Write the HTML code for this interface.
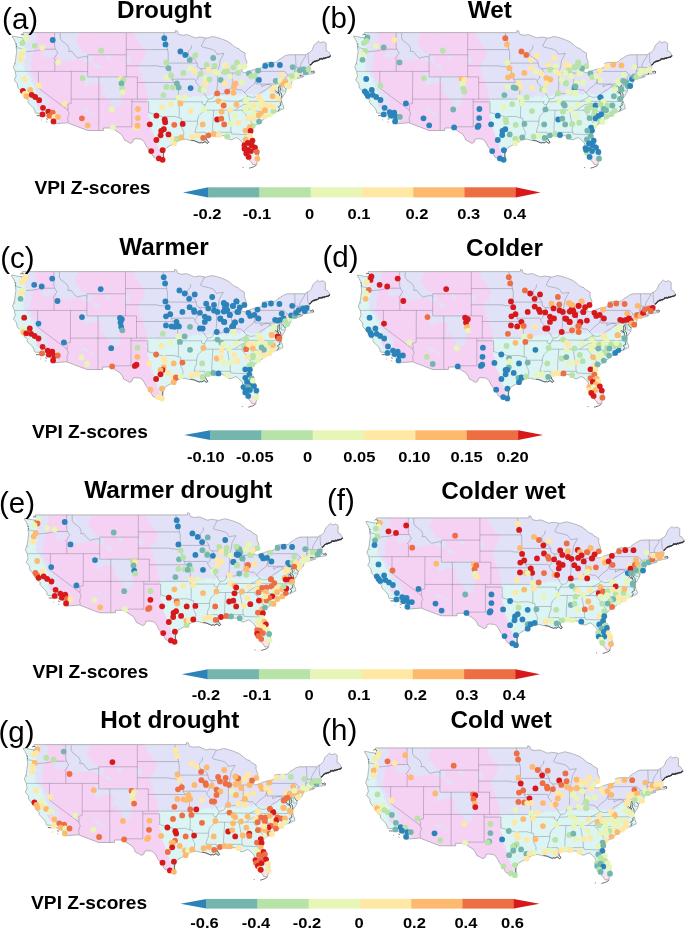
<!DOCTYPE html>
<html><head><meta charset="utf-8"><title>VPI Z-scores maps</title>
<style>html,body{margin:0;padding:0;background:#fff;} body{width:685px;height:930px;overflow:hidden;} svg{display:block;}</style>
</head><body>
<svg width="685" height="930" viewBox="0 0 685 930" font-family="&quot;Liberation Sans&quot;, Arial, sans-serif"><defs><filter id="rough" x="-5%" y="-5%" width="110%" height="110%"><feTurbulence type="fractalNoise" baseFrequency="0.45" numOctaves="2" seed="7" result="n"/><feDisplacementMap in="SourceGraphic" in2="n" scale="5" xChannelSelector="R" yChannelSelector="G"/></filter></defs>
<g transform="translate(0,0)"><clipPath id="clipa"><path d="M12.3,36.0 L12.9,37.9 L14.3,39.8 L15.5,42.6 L15.8,44.2 L16.4,45.9 L16.1,47.8 L16.6,50.3 L16.6,52.5 L16.1,55.3 L15.8,58.1 L15.5,60.9 L14.7,63.6 L13.9,65.8 L13.3,66.9 L14.2,69.2 L15.3,71.4 L15.5,73.6 L16.1,75.8 L15.3,78.0 L14.2,80.0 L16.4,82.5 L17.5,84.1 L17.7,86.9 L18.6,88.6 L21.3,91.3 L22.1,93.3 L24.6,94.6 L24.6,96.3 L25.2,98.0 L27.4,99.4 L28.5,100.7 L27.7,101.8 L29.6,104.1 L31.8,106.3 L33.4,107.9 L34.8,110.2 L35.1,112.4 L35.8,113.2 L38.4,113.2 L41.2,113.6 L42.8,114.6 L45.0,115.6 L46.9,116.0 L47.2,117.1 L48.9,117.3 L50.5,118.2 L52.7,120.1 L53.6,122.1 L54.3,123.8 L67.5,122.8 L87.6,130.5 L103.4,130.5 L103.4,128.0 L112.7,128.0 L114.5,129.8 L117.8,132.0 L121.1,134.1 L123.3,137.3 L124.4,140.1 L127.7,141.7 L130.5,143.4 L132.7,142.3 L133.8,139.2 L136.0,138.7 L140.9,139.1 L143.7,141.2 L145.3,144.0 L147.0,147.3 L149.2,150.0 L151.4,151.7 L152.0,154.5 L153.6,157.2 L156.4,158.6 L158.6,159.7 L161.9,160.3 L164.4,160.3 L163.5,157.8 L163.0,155.0 L163.3,152.3 L164.6,150.0 L166.3,147.8 L169.0,146.2 L171.8,144.8 L175.1,143.1 L177.6,141.5 L180.1,140.1 L182.5,139.5 L186.1,139.2 L189.4,140.4 L192.2,140.1 L194.9,140.9 L197.2,142.0 L199.9,142.8 L202.7,142.8 L205.1,141.7 L207.3,143.4 L208.7,142.3 L207.3,140.6 L206.2,138.7 L206.0,137.0 L207.6,136.2 L210.4,135.6 L212.6,135.8 L214.2,135.9 L215.9,136.5 L218.6,135.9 L222.0,135.6 L224.7,135.9 L227.5,137.3 L229.4,139.5 L231.6,139.8 L234.6,138.4 L236.8,137.6 L239.0,139.0 L240.7,140.9 L242.9,142.8 L243.7,145.6 L243.5,148.9 L244.3,151.2 L245.1,153.4 L246.8,155.6 L248.7,158.1 L249.2,160.3 L251.4,162.0 L252.8,164.7 L255.0,164.5 L256.7,163.9 L257.0,162.2 L257.8,160.6 L258.3,157.8 L258.6,155.0 L257.8,152.8 L256.7,150.0 L255.6,147.3 L255.9,145.9 L254.2,143.4 L252.8,140.6 L251.7,137.9 L251.2,135.1 L250.9,133.4 L251.7,130.7 L252.5,128.4 L254.2,126.5 L256.1,124.8 L258.3,123.5 L260.8,121.8 L263.0,120.1 L264.4,118.2 L266.9,116.5 L269.9,116.3 L270.7,114.6 L272.9,112.7 L276.0,111.8 L278.2,111.5 L280.4,110.2 L282.6,109.1 L283.7,108.8 L283.7,106.8 L282.6,104.1 L281.8,101.6 L281.2,99.6 L282.3,97.4 L283.4,95.8 L284.8,93.5 L285.9,91.6 L286.2,89.1 L287.0,88.3 L287.8,86.9 L289.8,85.5 L291.4,83.6 L292.0,81.4 L292.0,80.0 L292.5,79.1 L294.7,79.1 L298.6,78.3 L302.4,77.2 L303.8,76.5 L301.3,76.5 L298.0,77.0 L294.2,77.4 L293.3,76.9 L295.8,76.3 L298.0,75.5 L301.3,75.4 L303.8,75.1 L306.0,74.7 L307.9,74.2 L310.1,74.0 L311.5,73.9 L314.0,73.3 L314.3,71.7 L313.5,70.9 L312.6,71.7 L311.0,71.9 L310.1,70.3 L308.8,69.4 L309.3,68.3 L310.7,67.8 L309.6,66.4 L310.4,65.3 L311.5,63.9 L312.9,62.5 L314.8,61.4 L316.8,60.6 L319.5,59.7 L320.6,58.4 L322.5,58.9 L324.5,58.4 L326.7,57.5 L328.9,57.0 L330.8,55.8 L330.0,54.2 L328.1,51.4 L326.1,50.9 L326.2,43.3 L323.7,41.7 L321.7,42.3 L320.1,42.6 L318.3,41.1 L316.2,43.1 L314.0,45.3 L312.6,48.7 L312.4,49.8 L309.6,52.5 L308.1,53.1 L305.7,54.7 L297.5,54.7 L288.1,54.8 L284.8,55.9 L281.5,58.1 L278.7,59.7 L276.5,62.2 L272.7,62.4 L267.2,62.4 L263.3,63.3 L264.1,65.3 L264.7,66.5 L260.0,68.3 L256.1,68.9 L251.7,70.3 L248.4,71.7 L244.6,72.8 L241.8,71.4 L241.5,69.7 L244.6,68.3 L245.4,65.8 L247.0,62.5 L245.1,57.5 L245.1,53.1 L240.1,50.3 L239.0,48.7 L236.3,47.8 L234.1,46.5 L232.4,44.8 L228.0,41.5 L222.5,39.2 L217.5,37.6 L212.6,36.5 L207.6,37.9 L206.0,38.1 L203.8,37.6 L199.4,37.0 L195.5,37.9 L191.1,36.2 L187.8,34.7 L185.0,34.8 L182.8,35.3 L178.4,34.2 L177.9,32.6 L177.3,30.9 L175.4,30.5 L175.4,32.6 L126.6,32.6 L93.5,32.6 L60.5,32.6 L23.2,32.6 L23.2,34.0 L24.6,35.6 L24.1,38.1 L21.9,37.6 L19.1,37.3 L15.3,36.5Z"/></clipPath>
<g clip-path="url(#clipa)">
<path d="M12.3,36.0 L12.9,37.9 L14.3,39.8 L15.5,42.6 L15.8,44.2 L16.4,45.9 L16.1,47.8 L16.6,50.3 L16.6,52.5 L16.1,55.3 L15.8,58.1 L15.5,60.9 L14.7,63.6 L13.9,65.8 L13.3,66.9 L14.2,69.2 L15.3,71.4 L15.5,73.6 L16.1,75.8 L15.3,78.0 L14.2,80.0 L16.4,82.5 L17.5,84.1 L17.7,86.9 L18.6,88.6 L21.3,91.3 L22.1,93.3 L24.6,94.6 L24.6,96.3 L25.2,98.0 L27.4,99.4 L28.5,100.7 L27.7,101.8 L29.6,104.1 L31.8,106.3 L33.4,107.9 L34.8,110.2 L35.1,112.4 L35.8,113.2 L38.4,113.2 L41.2,113.6 L42.8,114.6 L45.0,115.6 L46.9,116.0 L47.2,117.1 L48.9,117.3 L50.5,118.2 L52.7,120.1 L53.6,122.1 L54.3,123.8 L67.5,122.8 L87.6,130.5 L103.4,130.5 L103.4,128.0 L112.7,128.0 L114.5,129.8 L117.8,132.0 L121.1,134.1 L123.3,137.3 L124.4,140.1 L127.7,141.7 L130.5,143.4 L132.7,142.3 L133.8,139.2 L136.0,138.7 L140.9,139.1 L143.7,141.2 L145.3,144.0 L147.0,147.3 L149.2,150.0 L151.4,151.7 L152.0,154.5 L153.6,157.2 L156.4,158.6 L158.6,159.7 L161.9,160.3 L164.4,160.3 L163.5,157.8 L163.0,155.0 L163.3,152.3 L164.6,150.0 L166.3,147.8 L169.0,146.2 L171.8,144.8 L175.1,143.1 L177.6,141.5 L180.1,140.1 L182.5,139.5 L186.1,139.2 L189.4,140.4 L192.2,140.1 L194.9,140.9 L197.2,142.0 L199.9,142.8 L202.7,142.8 L205.1,141.7 L207.3,143.4 L208.7,142.3 L207.3,140.6 L206.2,138.7 L206.0,137.0 L207.6,136.2 L210.4,135.6 L212.6,135.8 L214.2,135.9 L215.9,136.5 L218.6,135.9 L222.0,135.6 L224.7,135.9 L227.5,137.3 L229.4,139.5 L231.6,139.8 L234.6,138.4 L236.8,137.6 L239.0,139.0 L240.7,140.9 L242.9,142.8 L243.7,145.6 L243.5,148.9 L244.3,151.2 L245.1,153.4 L246.8,155.6 L248.7,158.1 L249.2,160.3 L251.4,162.0 L252.8,164.7 L255.0,164.5 L256.7,163.9 L257.0,162.2 L257.8,160.6 L258.3,157.8 L258.6,155.0 L257.8,152.8 L256.7,150.0 L255.6,147.3 L255.9,145.9 L254.2,143.4 L252.8,140.6 L251.7,137.9 L251.2,135.1 L250.9,133.4 L251.7,130.7 L252.5,128.4 L254.2,126.5 L256.1,124.8 L258.3,123.5 L260.8,121.8 L263.0,120.1 L264.4,118.2 L266.9,116.5 L269.9,116.3 L270.7,114.6 L272.9,112.7 L276.0,111.8 L278.2,111.5 L280.4,110.2 L282.6,109.1 L283.7,108.8 L283.7,106.8 L282.6,104.1 L281.8,101.6 L281.2,99.6 L282.3,97.4 L283.4,95.8 L284.8,93.5 L285.9,91.6 L286.2,89.1 L287.0,88.3 L287.8,86.9 L289.8,85.5 L291.4,83.6 L292.0,81.4 L292.0,80.0 L292.5,79.1 L294.7,79.1 L298.6,78.3 L302.4,77.2 L303.8,76.5 L301.3,76.5 L298.0,77.0 L294.2,77.4 L293.3,76.9 L295.8,76.3 L298.0,75.5 L301.3,75.4 L303.8,75.1 L306.0,74.7 L307.9,74.2 L310.1,74.0 L311.5,73.9 L314.0,73.3 L314.3,71.7 L313.5,70.9 L312.6,71.7 L311.0,71.9 L310.1,70.3 L308.8,69.4 L309.3,68.3 L310.7,67.8 L309.6,66.4 L310.4,65.3 L311.5,63.9 L312.9,62.5 L314.8,61.4 L316.8,60.6 L319.5,59.7 L320.6,58.4 L322.5,58.9 L324.5,58.4 L326.7,57.5 L328.9,57.0 L330.8,55.8 L330.0,54.2 L328.1,51.4 L326.1,50.9 L326.2,43.3 L323.7,41.7 L321.7,42.3 L320.1,42.6 L318.3,41.1 L316.2,43.1 L314.0,45.3 L312.6,48.7 L312.4,49.8 L309.6,52.5 L308.1,53.1 L305.7,54.7 L297.5,54.7 L288.1,54.8 L284.8,55.9 L281.5,58.1 L278.7,59.7 L276.5,62.2 L272.7,62.4 L267.2,62.4 L263.3,63.3 L264.1,65.3 L264.7,66.5 L260.0,68.3 L256.1,68.9 L251.7,70.3 L248.4,71.7 L244.6,72.8 L241.8,71.4 L241.5,69.7 L244.6,68.3 L245.4,65.8 L247.0,62.5 L245.1,57.5 L245.1,53.1 L240.1,50.3 L239.0,48.7 L236.3,47.8 L234.1,46.5 L232.4,44.8 L228.0,41.5 L222.5,39.2 L217.5,37.6 L212.6,36.5 L207.6,37.9 L206.0,38.1 L203.8,37.6 L199.4,37.0 L195.5,37.9 L191.1,36.2 L187.8,34.7 L185.0,34.8 L182.8,35.3 L178.4,34.2 L177.9,32.6 L177.3,30.9 L175.4,30.5 L175.4,32.6 L126.6,32.6 L93.5,32.6 L60.5,32.6 L23.2,32.6 L23.2,34.0 L24.6,35.6 L24.1,38.1 L21.9,37.6 L19.1,37.3 L15.3,36.5Z" fill="#e1e1f7"/>
<g filter="url(#rough)">
<path d="M5.3,29.8 L25.7,29.8 L25.7,38.1 L25.2,43.7 L25.7,49.2 L25.2,54.8 L24.1,60.3 L23.5,65.8 L24.6,69.7 L26.8,73.0 L29.6,76.9 L31.8,80.8 L33.4,85.2 L35.7,90.2 L37.9,94.6 L41.2,99.1 L43.9,103.5 L45.6,107.4 L45.6,110.7 L49.4,112.9 L54.9,114.6 L57.1,118.5 L57.7,124.6 L57.7,132.3 L5.3,132.3Z" fill="#dcf4f3"/>
<path d="M147.0,99.1 L165.2,99.1 L181.7,98.8 L198.3,96.0 L214.8,95.8 L231.3,95.2 L242.4,94.1 L251.2,94.1 L257.2,95.8 L262.7,93.5 L268.3,88.6 L273.8,85.8 L280.9,81.9 L287.5,80.2 L292.0,78.0 L296.4,76.4 L304.1,74.4 L311.3,73.0 L316.8,74.2 L314.0,88.0 L292.0,99.1 L264.4,171.1 L165.2,171.1 L162.4,158.4 L158.0,146.7 L151.4,129.0 L148.6,115.7Z" fill="#dcf4f3"/>
<path d="M35.7,29.8 L133.2,29.8 L133.2,32.6 L137.6,40.9 L146.4,51.4 L143.1,60.3 L138.2,66.4 L142.0,76.9 L145.3,86.3 L148.1,99.1 L148.6,115.7 L151.4,129.0 L158.0,146.7 L162.4,158.4 L165.2,165.6 L115.6,148.9 L59.4,132.3 L59.4,123.5 L58.8,119.0 L56.0,115.7 L50.0,114.0 L46.7,111.3 L47.8,107.4 L48.9,101.8 L44.5,94.6 L40.1,89.1 L37.9,84.1 L35.1,79.1 L32.3,74.7 L30.7,70.3 L31.2,63.6 L32.3,58.1 L33.4,52.0 L35.7,47.6 L35.7,42.0 L37.9,38.1 L36.2,33.7Z" fill="#f5d2f3"/>
<path d="M35.7,103.0 L40.6,100.7 L43.9,105.2 L44.7,109.1 L41.2,110.2 L37.3,106.8Z" fill="#f5d2f3"/>
<path d="M53.8,29.8 L79.7,29.8 L78.1,36.5 L75.3,42.0 L79.2,47.0 L82.5,51.4 L86.9,54.8 L90.8,55.3 L93.5,58.1 L91.9,62.5 L88.0,64.2 L84.7,60.3 L79.7,58.6 L74.2,59.2 L68.7,60.9 L63.2,61.4 L58.8,58.6 L56.0,54.8 L53.3,50.3 L54.9,46.5 L54.9,40.9Z" fill="#e1e1f7"/>
<path d="M44.5,51.4 L50.5,49.8 L54.9,53.1 L53.3,57.0 L46.7,58.1 L42.3,55.9Z" fill="#e1e1f7"/>
<path d="M105.7,54.8 L110.1,54.8 L111.2,60.3 L107.3,60.3Z" fill="#e1e1f7"/>
<path d="M93.5,63.1 L99.0,64.2 L100.7,68.1 L95.7,69.2Z" fill="#e1e1f7"/>
<path d="M83.1,71.4 L86.9,74.2 L93.5,77.5 L107.3,75.3 L115.6,75.8 L120.0,79.1 L121.1,85.2 L120.5,92.4 L121.1,99.1 L119.4,104.6 L116.7,107.4 L112.3,105.7 L110.6,100.7 L105.7,96.9 L101.2,92.4 L102.9,86.3 L99.0,83.0 L90.8,83.6 L86.4,88.0 L84.2,83.6 L83.1,76.9Z" fill="#e1e1f7"/>
<path d="M125.5,56.4 L130.5,56.4 L130.5,62.5 L126.0,62.5Z" fill="#e1e1f7"/>
<path d="M81.4,107.9 L86.9,109.1 L92.4,112.9 L95.7,114.6 L94.6,116.3 L89.1,113.5 L83.6,110.7Z" fill="#e1e1f7"/>
<path d="M112.8,100.2 L120.0,99.6 L119.4,106.8 L116.1,105.7Z" fill="#e1e1f7"/>
</g>
<path d="M249.0,158.4 L258.6,156.7 L259.4,166.1 L250.6,166.1Z" fill="#fbe3ec"/>
<path d="M16.1,47.8 L19.7,48.1 L22.4,48.9 L23.2,51.2 L26.3,51.7 L31.8,51.2 L35.7,50.9 L40.6,49.7 L44.0,49.2 L55.4,49.2 M54.7,32.6 L54.7,46.9 L55.4,49.2 M55.4,49.2 L56.9,51.4 L57.7,53.1 L56.3,54.8 L55.2,57.0 L53.8,58.6 L55.2,59.7 L54.8,61.4 L54.8,71.4 M15.3,71.4 L87.7,71.4 M38.4,71.4 L38.4,88.0 L68.0,110.2 L68.2,111.3 L69.3,114.0 L68.2,116.0 L67.6,119.0 L68.4,121.2 L67.5,122.8 M68.0,110.2 L68.1,106.8 L67.3,104.3 L71.2,103.5 L71.2,99.1 M71.3,71.4 L71.2,99.1 M71.2,99.1 L178.3,99.1 M98.8,99.1 L98.8,130.5 M98.8,99.1 L98.8,76.9 M87.7,71.4 L87.7,76.9 L126.3,76.9 M87.7,71.4 L87.7,57.5 L85.8,56.4 L80.8,57.3 L78.1,58.1 L74.8,55.3 L72.0,51.4 L68.7,51.4 L69.3,48.7 L67.6,45.3 L64.3,42.6 L62.1,41.2 L60.2,38.3 L60.2,32.6 M87.7,57.5 L87.7,54.8 L126.3,54.8 M126.3,76.9 L126.3,54.8 M126.3,54.8 L126.3,32.6 M126.3,49.6 L167.6,49.6 M137.3,99.1 L137.3,76.9 M137.3,76.9 L126.3,76.9 M137.3,82.5 L174.6,82.5 M126.3,65.8 L156.9,65.8 L160.8,66.7 L164.1,66.7 L166.8,67.8 L168.2,68.6 M131.8,99.1 L131.8,126.8 L112.2,126.8 L112.7,128.0 M131.8,101.8 L148.6,101.8 L148.6,112.6 L152.0,113.5 L156.4,114.9 L159.7,115.7 L164.1,117.1 L167.4,116.5 L170.7,116.5 L174.6,116.4 L179.0,117.9 L181.4,118.2 M181.4,118.2 L181.4,121.2 L181.4,126.8 L182.8,129.6 L183.9,132.3 L183.4,135.6 L182.5,139.5 M178.3,101.8 L179.3,107.9 L179.1,117.7 M178.3,99.1 L178.3,101.8 M178.3,99.1 L178.4,87.4 L176.8,84.7 L174.6,82.5 L172.9,80.8 L172.0,79.2 M172.0,79.2 L194.2,79.1 L195.9,80.4 M172.0,79.2 L171.5,75.8 L170.4,73.6 L169.9,70.8 L168.2,68.6 M168.2,68.6 L167.4,65.8 L168.2,63.1 L197.0,63.1 M168.2,63.1 L168.2,53.1 L167.6,49.6 L166.6,45.9 L166.0,40.9 L164.4,36.5 L163.9,32.6 M191.6,45.3 L191.1,48.7 L188.3,51.4 L188.6,55.9 L192.7,58.1 L195.5,60.3 L197.0,63.1 M197.0,63.1 L197.4,66.9 L200.2,68.6 L202.7,72.2 L201.0,74.2 L198.3,75.8 L197.7,78.6 L195.9,80.4 L196.0,82.5 L198.8,85.8 L200.5,88.0 L202.9,89.1 L202.4,91.9 L205.4,94.6 L206.5,97.4 L208.5,99.1 M178.3,101.8 L202.9,101.8 L201.8,103.0 L203.2,104.6 L205.4,104.6 M208.5,99.1 L206.8,101.8 L205.4,104.6 M205.4,104.6 L203.8,109.6 L202.1,112.4 L198.8,115.7 L197.7,119.0 L197.4,121.2 L197.4,124.6 L196.0,127.9 L194.9,132.3 L205.3,132.3 L206.0,134.5 L206.0,137.0 M181.4,121.2 L197.4,121.2 M202.1,110.2 L235.2,110.2 M213.7,110.2 L212.6,127.3 L212.6,135.8 M228.0,110.2 L230.2,122.3 L231.3,125.1 L230.8,129.0 L231.3,132.3 L231.9,134.0 L242.4,134.5 L246.8,134.7 L247.9,133.7 L250.9,134.0 M217.0,132.3 L231.3,132.3 M217.0,132.3 L217.8,134.5 L217.8,136.2 M241.8,110.2 L243.5,111.8 L245.7,114.6 L248.4,118.5 L250.6,121.2 L252.8,124.6 L253.9,126.5 M235.2,110.2 L241.8,110.2 L245.7,109.1 L253.1,109.3 L253.9,110.2 L257.2,111.2 L260.5,111.3 L266.9,116.5 M235.2,110.2 L236.8,108.8 L239.6,107.1 L242.9,104.9 L246.2,104.1 L249.8,101.3 M206.8,101.8 L214.5,101.8 L214.5,100.9 L238.7,101.3 L249.8,101.3 M249.8,101.3 L281.7,101.6 M238.7,101.3 L243.5,99.1 L246.2,97.4 L248.0,96.1 L246.2,94.6 L244.6,92.6 M244.6,92.6 L246.8,90.2 L249.0,88.0 L251.7,86.1 L254.2,84.1 L255.6,80.8 L256.0,78.9 M244.6,92.6 L241.8,89.9 L238.5,89.9 L234.6,88.6 L232.3,87.4 L229.1,89.5 L226.4,92.4 L223.6,93.5 L220.9,93.8 L217.0,93.8 L214.5,94.6 L213.7,96.9 L212.0,98.5 L208.5,99.1 M217.4,72.7 L217.4,86.1 L217.0,88.6 L217.3,90.2 L215.3,92.2 L214.5,94.6 M232.3,73.0 L232.3,87.4 M217.4,72.7 L232.3,73.0 L239.9,72.9 M256.0,69.7 L256.0,84.0 L261.8,84.0 L261.8,86.9 L263.8,85.5 L266.1,84.7 L268.3,84.4 L271.0,85.0 L271.6,86.2 M271.6,86.2 L268.8,87.2 L267.7,88.6 L264.9,90.2 L261.6,91.9 L260.0,93.5 L257.2,96.3 L254.2,97.1 L251.2,97.4 L248.0,96.1 M261.8,84.0 L282.1,84.0 L282.1,91.0 L286.2,91.0 M271.6,86.2 L272.9,87.4 L275.1,88.8 L274.3,91.3 L276.0,93.0 L279.6,93.8 M282.1,84.0 L284.2,83.4 L285.9,82.5 L287.8,81.4 L286.4,79.7 L285.6,77.8 L288.1,75.0 M256.0,71.4 L284.5,71.4 L285.9,72.5 L288.1,75.0 M288.1,75.0 L292.5,76.9 M293.9,76.9 L294.7,75.3 L294.7,71.1 L296.0,67.2 L295.8,62.5 L295.5,54.7 M294.7,71.1 L304.1,71.3 L306.4,71.3 M304.1,71.3 L303.8,75.1 M306.4,71.3 L306.6,72.8 L307.9,74.2 M296.0,67.2 L306.8,67.5 L309.0,66.5 M300.5,67.3 L300.8,64.2 L303.0,60.3 L305.2,57.0 L305.7,54.7 M310.1,65.4 L308.6,62.8 L308.2,57.5 L308.1,53.1 M205.6,37.6 L201.2,46.0 L203.2,47.3 L207.1,48.1 L211.5,49.2 L214.2,50.3 L215.3,51.2 L217.0,54.3 L224.0,53.4 L220.1,60.4 L219.2,66.6 L217.4,72.7 M200.2,68.6 L215.9,68.6" fill="none" stroke="#4a4a5e" stroke-opacity="0.32" stroke-width="0.9"/>
</g>
<path d="M12.3,36.0 L12.9,37.9 L14.3,39.8 L15.5,42.6 L15.8,44.2 L16.4,45.9 L16.1,47.8 L16.6,50.3 L16.6,52.5 L16.1,55.3 L15.8,58.1 L15.5,60.9 L14.7,63.6 L13.9,65.8 L13.3,66.9 L14.2,69.2 L15.3,71.4 L15.5,73.6 L16.1,75.8 L15.3,78.0 L14.2,80.0 L16.4,82.5 L17.5,84.1 L17.7,86.9 L18.6,88.6 L21.3,91.3 L22.1,93.3 L24.6,94.6 L24.6,96.3 L25.2,98.0 L27.4,99.4 L28.5,100.7 L27.7,101.8 L29.6,104.1 L31.8,106.3 L33.4,107.9 L34.8,110.2 L35.1,112.4 L35.8,113.2 L38.4,113.2 L41.2,113.6 L42.8,114.6 L45.0,115.6 L46.9,116.0 L47.2,117.1 L48.9,117.3 L50.5,118.2 L52.7,120.1 L53.6,122.1 L54.3,123.8 L67.5,122.8 L87.6,130.5 L103.4,130.5 L103.4,128.0 L112.7,128.0 L114.5,129.8 L117.8,132.0 L121.1,134.1 L123.3,137.3 L124.4,140.1 L127.7,141.7 L130.5,143.4 L132.7,142.3 L133.8,139.2 L136.0,138.7 L140.9,139.1 L143.7,141.2 L145.3,144.0 L147.0,147.3 L149.2,150.0 L151.4,151.7 L152.0,154.5 L153.6,157.2 L156.4,158.6 L158.6,159.7 L161.9,160.3 L164.4,160.3 L163.5,157.8 L163.0,155.0 L163.3,152.3 L164.6,150.0 L166.3,147.8 L169.0,146.2 L171.8,144.8 L175.1,143.1 L177.6,141.5 L180.1,140.1 L182.5,139.5 L186.1,139.2 L189.4,140.4 L192.2,140.1 L194.9,140.9 L197.2,142.0 L199.9,142.8 L202.7,142.8 L205.1,141.7 L207.3,143.4 L208.7,142.3 L207.3,140.6 L206.2,138.7 L206.0,137.0 L207.6,136.2 L210.4,135.6 L212.6,135.8 L214.2,135.9 L215.9,136.5 L218.6,135.9 L222.0,135.6 L224.7,135.9 L227.5,137.3 L229.4,139.5 L231.6,139.8 L234.6,138.4 L236.8,137.6 L239.0,139.0 L240.7,140.9 L242.9,142.8 L243.7,145.6 L243.5,148.9 L244.3,151.2 L245.1,153.4 L246.8,155.6 L248.7,158.1 L249.2,160.3 L251.4,162.0 L252.8,164.7 L255.0,164.5 L256.7,163.9 L257.0,162.2 L257.8,160.6 L258.3,157.8 L258.6,155.0 L257.8,152.8 L256.7,150.0 L255.6,147.3 L255.9,145.9 L254.2,143.4 L252.8,140.6 L251.7,137.9 L251.2,135.1 L250.9,133.4 L251.7,130.7 L252.5,128.4 L254.2,126.5 L256.1,124.8 L258.3,123.5 L260.8,121.8 L263.0,120.1 L264.4,118.2 L266.9,116.5 L269.9,116.3 L270.7,114.6 L272.9,112.7 L276.0,111.8 L278.2,111.5 L280.4,110.2 L282.6,109.1 L283.7,108.8 L283.7,106.8 L282.6,104.1 L281.8,101.6 L281.2,99.6 L282.3,97.4 L283.4,95.8 L284.8,93.5 L285.9,91.6 L286.2,89.1 L287.0,88.3 L287.8,86.9 L289.8,85.5 L291.4,83.6 L292.0,81.4 L292.0,80.0 L292.5,79.1 L294.7,79.1 L298.6,78.3 L302.4,77.2 L303.8,76.5 L301.3,76.5 L298.0,77.0 L294.2,77.4 L293.3,76.9 L295.8,76.3 L298.0,75.5 L301.3,75.4 L303.8,75.1 L306.0,74.7 L307.9,74.2 L310.1,74.0 L311.5,73.9 L314.0,73.3 L314.3,71.7 L313.5,70.9 L312.6,71.7 L311.0,71.9 L310.1,70.3 L308.8,69.4 L309.3,68.3 L310.7,67.8 L309.6,66.4 L310.4,65.3 L311.5,63.9 L312.9,62.5 L314.8,61.4 L316.8,60.6 L319.5,59.7 L320.6,58.4 L322.5,58.9 L324.5,58.4 L326.7,57.5 L328.9,57.0 L330.8,55.8 L330.0,54.2 L328.1,51.4 L326.1,50.9 L326.2,43.3 L323.7,41.7 L321.7,42.3 L320.1,42.6 L318.3,41.1 L316.2,43.1 L314.0,45.3 L312.6,48.7 L312.4,49.8 L309.6,52.5 L308.1,53.1 L305.7,54.7 L297.5,54.7 L288.1,54.8 L284.8,55.9 L281.5,58.1 L278.7,59.7 L276.5,62.2 L272.7,62.4 L267.2,62.4 L263.3,63.3 L264.1,65.3 L264.7,66.5 L260.0,68.3 L256.1,68.9 L251.7,70.3 L248.4,71.7 L244.6,72.8 L241.8,71.4 L241.5,69.7 L244.6,68.3 L245.4,65.8 L247.0,62.5 L245.1,57.5 L245.1,53.1 L240.1,50.3 L239.0,48.7 L236.3,47.8 L234.1,46.5 L232.4,44.8 L228.0,41.5 L222.5,39.2 L217.5,37.6 L212.6,36.5 L207.6,37.9 L206.0,38.1 L203.8,37.6 L199.4,37.0 L195.5,37.9 L191.1,36.2 L187.8,34.7 L185.0,34.8 L182.8,35.3 L178.4,34.2 L177.9,32.6 L177.3,30.9 L175.4,30.5 L175.4,32.6 L126.6,32.6 L93.5,32.6 L60.5,32.6 L23.2,32.6 L23.2,34.0 L24.6,35.6 L24.1,38.1 L21.9,37.6 L19.1,37.3 L15.3,36.5Z" fill="none" stroke="#8c8c8c" stroke-width="0.6"/>
<path d="M191.1,140.4 L194.9,140.9 L197.2,142.0 L198.8,142.6 L199.9,143.1 L201.6,142.3 L202.7,143.0 L204.0,142.0 L205.1,141.7 L207.3,143.4 L208.7,142.3 L207.3,140.6 L206.2,138.7 L207.1,137.6 M280.9,99.4 L279.0,97.7 L279.6,95.8 L279.3,94.1 L278.2,91.9 L278.7,89.1 L278.5,86.9 L280.7,85.0 M281.2,98.2 L281.8,95.8 L281.2,93.0 L279.8,91.6 L280.7,89.1 L279.8,86.9 L280.9,85.8 M279.3,93.3 L276.5,91.9 L274.9,89.7 M279.3,99.1 L276.5,97.7 M286.2,89.1 L284.5,87.2 L283.4,85.2 M278.2,111.0 L279.8,108.5 L278.2,106.8 L280.9,105.2 L280.4,103.5 L281.5,101.8 M310.1,65.3 L311.5,63.9 L312.9,62.2 L314.0,62.0 L314.8,61.1 L315.7,61.4 L316.8,60.6 L317.9,60.9 L319.5,59.7 L320.1,58.6 L321.2,58.9 L322.5,58.9 L323.4,58.1 L324.5,58.4 L325.6,57.8 L326.7,57.5 L327.8,57.5 L328.9,57.0 L330.8,55.8 M23.2,34.0 L24.6,35.6 L24.1,38.1 L25.2,40.4 L24.6,42.0 L22.4,43.1 L23.5,40.4 L23.0,37.9 M256.7,164.5 L255.6,165.8 L253.4,166.9 L250.6,167.8 L249.0,168.1 M243.5,167.5 L242.6,167.7 M24.6,94.6 L25.7,93.8 L26.8,95.8 L25.2,95.2 M36.8,115.6 L40.6,115.7 M46.1,118.7 L47.8,119.3 M41.2,119.9 L41.7,120.1 M46.4,121.5 L46.9,122.3 M164.1,160.0 L163.5,155.6 L163.8,151.7 L165.2,149.5 M176.8,141.7 L177.9,140.1 L176.2,139.5 M214.2,135.9 L214.8,134.0 L215.3,135.6 M244.0,151.7 L245.1,149.5 L244.6,150.6 M314.0,73.3 L314.3,71.7 L313.5,70.9 L312.6,71.7 L311.0,71.9 M293.3,76.9 L295.8,76.3 L298.0,75.5 L301.3,75.4 M306.3,74.4 L306.8,73.0 L307.4,74.2 M21.0,35.1 L22.1,34.3 L23.0,34.8 M15.8,44.0 L16.9,44.2 M16.4,45.9 L16.6,47.0 M15.3,63.6 L15.8,64.2" fill="none" stroke="#3a3a3a" stroke-width="0.7" stroke-linejoin="round"/>
<path d="M310.1,65.3 L311.3,64.2 L312.1,63.3 L312.9,62.2 L313.7,62.2 L314.6,61.1 L315.4,61.7 L316.2,60.6 L317.0,61.1 L317.9,60.3 L319.2,60.0 L319.8,58.6 L320.9,59.2 L321.7,58.4 L322.8,59.2 L323.7,57.8 L324.8,58.6 L325.6,57.5 L326.7,57.8 L327.8,57.0 L328.9,57.3 L330.0,56.1 L330.8,55.8" fill="none" stroke="#333" stroke-width="1.2" stroke-linejoin="round"/></g>
<g transform="translate(341.4,0)"><clipPath id="clipb"><path d="M12.3,36.0 L12.9,37.9 L14.3,39.8 L15.5,42.6 L15.8,44.2 L16.4,45.9 L16.1,47.8 L16.6,50.3 L16.6,52.5 L16.1,55.3 L15.8,58.1 L15.5,60.9 L14.7,63.6 L13.9,65.8 L13.3,66.9 L14.2,69.2 L15.3,71.4 L15.5,73.6 L16.1,75.8 L15.3,78.0 L14.2,80.0 L16.4,82.5 L17.5,84.1 L17.7,86.9 L18.6,88.6 L21.3,91.3 L22.1,93.3 L24.6,94.6 L24.6,96.3 L25.2,98.0 L27.4,99.4 L28.5,100.7 L27.7,101.8 L29.6,104.1 L31.8,106.3 L33.4,107.9 L34.8,110.2 L35.1,112.4 L35.8,113.2 L38.4,113.2 L41.2,113.6 L42.8,114.6 L45.0,115.6 L46.9,116.0 L47.2,117.1 L48.9,117.3 L50.5,118.2 L52.7,120.1 L53.6,122.1 L54.3,123.8 L67.5,122.8 L87.6,130.5 L103.4,130.5 L103.4,128.0 L112.7,128.0 L114.5,129.8 L117.8,132.0 L121.1,134.1 L123.3,137.3 L124.4,140.1 L127.7,141.7 L130.5,143.4 L132.7,142.3 L133.8,139.2 L136.0,138.7 L140.9,139.1 L143.7,141.2 L145.3,144.0 L147.0,147.3 L149.2,150.0 L151.4,151.7 L152.0,154.5 L153.6,157.2 L156.4,158.6 L158.6,159.7 L161.9,160.3 L164.4,160.3 L163.5,157.8 L163.0,155.0 L163.3,152.3 L164.6,150.0 L166.3,147.8 L169.0,146.2 L171.8,144.8 L175.1,143.1 L177.6,141.5 L180.1,140.1 L182.5,139.5 L186.1,139.2 L189.4,140.4 L192.2,140.1 L194.9,140.9 L197.2,142.0 L199.9,142.8 L202.7,142.8 L205.1,141.7 L207.3,143.4 L208.7,142.3 L207.3,140.6 L206.2,138.7 L206.0,137.0 L207.6,136.2 L210.4,135.6 L212.6,135.8 L214.2,135.9 L215.9,136.5 L218.6,135.9 L222.0,135.6 L224.7,135.9 L227.5,137.3 L229.4,139.5 L231.6,139.8 L234.6,138.4 L236.8,137.6 L239.0,139.0 L240.7,140.9 L242.9,142.8 L243.7,145.6 L243.5,148.9 L244.3,151.2 L245.1,153.4 L246.8,155.6 L248.7,158.1 L249.2,160.3 L251.4,162.0 L252.8,164.7 L255.0,164.5 L256.7,163.9 L257.0,162.2 L257.8,160.6 L258.3,157.8 L258.6,155.0 L257.8,152.8 L256.7,150.0 L255.6,147.3 L255.9,145.9 L254.2,143.4 L252.8,140.6 L251.7,137.9 L251.2,135.1 L250.9,133.4 L251.7,130.7 L252.5,128.4 L254.2,126.5 L256.1,124.8 L258.3,123.5 L260.8,121.8 L263.0,120.1 L264.4,118.2 L266.9,116.5 L269.9,116.3 L270.7,114.6 L272.9,112.7 L276.0,111.8 L278.2,111.5 L280.4,110.2 L282.6,109.1 L283.7,108.8 L283.7,106.8 L282.6,104.1 L281.8,101.6 L281.2,99.6 L282.3,97.4 L283.4,95.8 L284.8,93.5 L285.9,91.6 L286.2,89.1 L287.0,88.3 L287.8,86.9 L289.8,85.5 L291.4,83.6 L292.0,81.4 L292.0,80.0 L292.5,79.1 L294.7,79.1 L298.6,78.3 L302.4,77.2 L303.8,76.5 L301.3,76.5 L298.0,77.0 L294.2,77.4 L293.3,76.9 L295.8,76.3 L298.0,75.5 L301.3,75.4 L303.8,75.1 L306.0,74.7 L307.9,74.2 L310.1,74.0 L311.5,73.9 L314.0,73.3 L314.3,71.7 L313.5,70.9 L312.6,71.7 L311.0,71.9 L310.1,70.3 L308.8,69.4 L309.3,68.3 L310.7,67.8 L309.6,66.4 L310.4,65.3 L311.5,63.9 L312.9,62.5 L314.8,61.4 L316.8,60.6 L319.5,59.7 L320.6,58.4 L322.5,58.9 L324.5,58.4 L326.7,57.5 L328.9,57.0 L330.8,55.8 L330.0,54.2 L328.1,51.4 L326.1,50.9 L326.2,43.3 L323.7,41.7 L321.7,42.3 L320.1,42.6 L318.3,41.1 L316.2,43.1 L314.0,45.3 L312.6,48.7 L312.4,49.8 L309.6,52.5 L308.1,53.1 L305.7,54.7 L297.5,54.7 L288.1,54.8 L284.8,55.9 L281.5,58.1 L278.7,59.7 L276.5,62.2 L272.7,62.4 L267.2,62.4 L263.3,63.3 L264.1,65.3 L264.7,66.5 L260.0,68.3 L256.1,68.9 L251.7,70.3 L248.4,71.7 L244.6,72.8 L241.8,71.4 L241.5,69.7 L244.6,68.3 L245.4,65.8 L247.0,62.5 L245.1,57.5 L245.1,53.1 L240.1,50.3 L239.0,48.7 L236.3,47.8 L234.1,46.5 L232.4,44.8 L228.0,41.5 L222.5,39.2 L217.5,37.6 L212.6,36.5 L207.6,37.9 L206.0,38.1 L203.8,37.6 L199.4,37.0 L195.5,37.9 L191.1,36.2 L187.8,34.7 L185.0,34.8 L182.8,35.3 L178.4,34.2 L177.9,32.6 L177.3,30.9 L175.4,30.5 L175.4,32.6 L126.6,32.6 L93.5,32.6 L60.5,32.6 L23.2,32.6 L23.2,34.0 L24.6,35.6 L24.1,38.1 L21.9,37.6 L19.1,37.3 L15.3,36.5Z"/></clipPath>
<g clip-path="url(#clipb)">
<path d="M12.3,36.0 L12.9,37.9 L14.3,39.8 L15.5,42.6 L15.8,44.2 L16.4,45.9 L16.1,47.8 L16.6,50.3 L16.6,52.5 L16.1,55.3 L15.8,58.1 L15.5,60.9 L14.7,63.6 L13.9,65.8 L13.3,66.9 L14.2,69.2 L15.3,71.4 L15.5,73.6 L16.1,75.8 L15.3,78.0 L14.2,80.0 L16.4,82.5 L17.5,84.1 L17.7,86.9 L18.6,88.6 L21.3,91.3 L22.1,93.3 L24.6,94.6 L24.6,96.3 L25.2,98.0 L27.4,99.4 L28.5,100.7 L27.7,101.8 L29.6,104.1 L31.8,106.3 L33.4,107.9 L34.8,110.2 L35.1,112.4 L35.8,113.2 L38.4,113.2 L41.2,113.6 L42.8,114.6 L45.0,115.6 L46.9,116.0 L47.2,117.1 L48.9,117.3 L50.5,118.2 L52.7,120.1 L53.6,122.1 L54.3,123.8 L67.5,122.8 L87.6,130.5 L103.4,130.5 L103.4,128.0 L112.7,128.0 L114.5,129.8 L117.8,132.0 L121.1,134.1 L123.3,137.3 L124.4,140.1 L127.7,141.7 L130.5,143.4 L132.7,142.3 L133.8,139.2 L136.0,138.7 L140.9,139.1 L143.7,141.2 L145.3,144.0 L147.0,147.3 L149.2,150.0 L151.4,151.7 L152.0,154.5 L153.6,157.2 L156.4,158.6 L158.6,159.7 L161.9,160.3 L164.4,160.3 L163.5,157.8 L163.0,155.0 L163.3,152.3 L164.6,150.0 L166.3,147.8 L169.0,146.2 L171.8,144.8 L175.1,143.1 L177.6,141.5 L180.1,140.1 L182.5,139.5 L186.1,139.2 L189.4,140.4 L192.2,140.1 L194.9,140.9 L197.2,142.0 L199.9,142.8 L202.7,142.8 L205.1,141.7 L207.3,143.4 L208.7,142.3 L207.3,140.6 L206.2,138.7 L206.0,137.0 L207.6,136.2 L210.4,135.6 L212.6,135.8 L214.2,135.9 L215.9,136.5 L218.6,135.9 L222.0,135.6 L224.7,135.9 L227.5,137.3 L229.4,139.5 L231.6,139.8 L234.6,138.4 L236.8,137.6 L239.0,139.0 L240.7,140.9 L242.9,142.8 L243.7,145.6 L243.5,148.9 L244.3,151.2 L245.1,153.4 L246.8,155.6 L248.7,158.1 L249.2,160.3 L251.4,162.0 L252.8,164.7 L255.0,164.5 L256.7,163.9 L257.0,162.2 L257.8,160.6 L258.3,157.8 L258.6,155.0 L257.8,152.8 L256.7,150.0 L255.6,147.3 L255.9,145.9 L254.2,143.4 L252.8,140.6 L251.7,137.9 L251.2,135.1 L250.9,133.4 L251.7,130.7 L252.5,128.4 L254.2,126.5 L256.1,124.8 L258.3,123.5 L260.8,121.8 L263.0,120.1 L264.4,118.2 L266.9,116.5 L269.9,116.3 L270.7,114.6 L272.9,112.7 L276.0,111.8 L278.2,111.5 L280.4,110.2 L282.6,109.1 L283.7,108.8 L283.7,106.8 L282.6,104.1 L281.8,101.6 L281.2,99.6 L282.3,97.4 L283.4,95.8 L284.8,93.5 L285.9,91.6 L286.2,89.1 L287.0,88.3 L287.8,86.9 L289.8,85.5 L291.4,83.6 L292.0,81.4 L292.0,80.0 L292.5,79.1 L294.7,79.1 L298.6,78.3 L302.4,77.2 L303.8,76.5 L301.3,76.5 L298.0,77.0 L294.2,77.4 L293.3,76.9 L295.8,76.3 L298.0,75.5 L301.3,75.4 L303.8,75.1 L306.0,74.7 L307.9,74.2 L310.1,74.0 L311.5,73.9 L314.0,73.3 L314.3,71.7 L313.5,70.9 L312.6,71.7 L311.0,71.9 L310.1,70.3 L308.8,69.4 L309.3,68.3 L310.7,67.8 L309.6,66.4 L310.4,65.3 L311.5,63.9 L312.9,62.5 L314.8,61.4 L316.8,60.6 L319.5,59.7 L320.6,58.4 L322.5,58.9 L324.5,58.4 L326.7,57.5 L328.9,57.0 L330.8,55.8 L330.0,54.2 L328.1,51.4 L326.1,50.9 L326.2,43.3 L323.7,41.7 L321.7,42.3 L320.1,42.6 L318.3,41.1 L316.2,43.1 L314.0,45.3 L312.6,48.7 L312.4,49.8 L309.6,52.5 L308.1,53.1 L305.7,54.7 L297.5,54.7 L288.1,54.8 L284.8,55.9 L281.5,58.1 L278.7,59.7 L276.5,62.2 L272.7,62.4 L267.2,62.4 L263.3,63.3 L264.1,65.3 L264.7,66.5 L260.0,68.3 L256.1,68.9 L251.7,70.3 L248.4,71.7 L244.6,72.8 L241.8,71.4 L241.5,69.7 L244.6,68.3 L245.4,65.8 L247.0,62.5 L245.1,57.5 L245.1,53.1 L240.1,50.3 L239.0,48.7 L236.3,47.8 L234.1,46.5 L232.4,44.8 L228.0,41.5 L222.5,39.2 L217.5,37.6 L212.6,36.5 L207.6,37.9 L206.0,38.1 L203.8,37.6 L199.4,37.0 L195.5,37.9 L191.1,36.2 L187.8,34.7 L185.0,34.8 L182.8,35.3 L178.4,34.2 L177.9,32.6 L177.3,30.9 L175.4,30.5 L175.4,32.6 L126.6,32.6 L93.5,32.6 L60.5,32.6 L23.2,32.6 L23.2,34.0 L24.6,35.6 L24.1,38.1 L21.9,37.6 L19.1,37.3 L15.3,36.5Z" fill="#e1e1f7"/>
<g filter="url(#rough)">
<path d="M5.3,29.8 L25.7,29.8 L25.7,38.1 L25.2,43.7 L25.7,49.2 L25.2,54.8 L24.1,60.3 L23.5,65.8 L24.6,69.7 L26.8,73.0 L29.6,76.9 L31.8,80.8 L33.4,85.2 L35.7,90.2 L37.9,94.6 L41.2,99.1 L43.9,103.5 L45.6,107.4 L45.6,110.7 L49.4,112.9 L54.9,114.6 L57.1,118.5 L57.7,124.6 L57.7,132.3 L5.3,132.3Z" fill="#dcf4f3"/>
<path d="M147.0,99.1 L165.2,99.1 L181.7,98.8 L198.3,96.0 L214.8,95.8 L231.3,95.2 L242.4,94.1 L251.2,94.1 L257.2,95.8 L262.7,93.5 L268.3,88.6 L273.8,85.8 L280.9,81.9 L287.5,80.2 L292.0,78.0 L296.4,76.4 L304.1,74.4 L311.3,73.0 L316.8,74.2 L314.0,88.0 L292.0,99.1 L264.4,171.1 L165.2,171.1 L162.4,158.4 L158.0,146.7 L151.4,129.0 L148.6,115.7Z" fill="#dcf4f3"/>
<path d="M35.7,29.8 L133.2,29.8 L133.2,32.6 L137.6,40.9 L146.4,51.4 L143.1,60.3 L138.2,66.4 L142.0,76.9 L145.3,86.3 L148.1,99.1 L148.6,115.7 L151.4,129.0 L158.0,146.7 L162.4,158.4 L165.2,165.6 L115.6,148.9 L59.4,132.3 L59.4,123.5 L58.8,119.0 L56.0,115.7 L50.0,114.0 L46.7,111.3 L47.8,107.4 L48.9,101.8 L44.5,94.6 L40.1,89.1 L37.9,84.1 L35.1,79.1 L32.3,74.7 L30.7,70.3 L31.2,63.6 L32.3,58.1 L33.4,52.0 L35.7,47.6 L35.7,42.0 L37.9,38.1 L36.2,33.7Z" fill="#f5d2f3"/>
<path d="M35.7,103.0 L40.6,100.7 L43.9,105.2 L44.7,109.1 L41.2,110.2 L37.3,106.8Z" fill="#f5d2f3"/>
<path d="M53.8,29.8 L79.7,29.8 L78.1,36.5 L75.3,42.0 L79.2,47.0 L82.5,51.4 L86.9,54.8 L90.8,55.3 L93.5,58.1 L91.9,62.5 L88.0,64.2 L84.7,60.3 L79.7,58.6 L74.2,59.2 L68.7,60.9 L63.2,61.4 L58.8,58.6 L56.0,54.8 L53.3,50.3 L54.9,46.5 L54.9,40.9Z" fill="#e1e1f7"/>
<path d="M44.5,51.4 L50.5,49.8 L54.9,53.1 L53.3,57.0 L46.7,58.1 L42.3,55.9Z" fill="#e1e1f7"/>
<path d="M105.7,54.8 L110.1,54.8 L111.2,60.3 L107.3,60.3Z" fill="#e1e1f7"/>
<path d="M93.5,63.1 L99.0,64.2 L100.7,68.1 L95.7,69.2Z" fill="#e1e1f7"/>
<path d="M83.1,71.4 L86.9,74.2 L93.5,77.5 L107.3,75.3 L115.6,75.8 L120.0,79.1 L121.1,85.2 L120.5,92.4 L121.1,99.1 L119.4,104.6 L116.7,107.4 L112.3,105.7 L110.6,100.7 L105.7,96.9 L101.2,92.4 L102.9,86.3 L99.0,83.0 L90.8,83.6 L86.4,88.0 L84.2,83.6 L83.1,76.9Z" fill="#e1e1f7"/>
<path d="M125.5,56.4 L130.5,56.4 L130.5,62.5 L126.0,62.5Z" fill="#e1e1f7"/>
<path d="M81.4,107.9 L86.9,109.1 L92.4,112.9 L95.7,114.6 L94.6,116.3 L89.1,113.5 L83.6,110.7Z" fill="#e1e1f7"/>
<path d="M112.8,100.2 L120.0,99.6 L119.4,106.8 L116.1,105.7Z" fill="#e1e1f7"/>
</g>
<path d="M249.0,158.4 L258.6,156.7 L259.4,166.1 L250.6,166.1Z" fill="#fbe3ec"/>
<path d="M16.1,47.8 L19.7,48.1 L22.4,48.9 L23.2,51.2 L26.3,51.7 L31.8,51.2 L35.7,50.9 L40.6,49.7 L44.0,49.2 L55.4,49.2 M54.7,32.6 L54.7,46.9 L55.4,49.2 M55.4,49.2 L56.9,51.4 L57.7,53.1 L56.3,54.8 L55.2,57.0 L53.8,58.6 L55.2,59.7 L54.8,61.4 L54.8,71.4 M15.3,71.4 L87.7,71.4 M38.4,71.4 L38.4,88.0 L68.0,110.2 L68.2,111.3 L69.3,114.0 L68.2,116.0 L67.6,119.0 L68.4,121.2 L67.5,122.8 M68.0,110.2 L68.1,106.8 L67.3,104.3 L71.2,103.5 L71.2,99.1 M71.3,71.4 L71.2,99.1 M71.2,99.1 L178.3,99.1 M98.8,99.1 L98.8,130.5 M98.8,99.1 L98.8,76.9 M87.7,71.4 L87.7,76.9 L126.3,76.9 M87.7,71.4 L87.7,57.5 L85.8,56.4 L80.8,57.3 L78.1,58.1 L74.8,55.3 L72.0,51.4 L68.7,51.4 L69.3,48.7 L67.6,45.3 L64.3,42.6 L62.1,41.2 L60.2,38.3 L60.2,32.6 M87.7,57.5 L87.7,54.8 L126.3,54.8 M126.3,76.9 L126.3,54.8 M126.3,54.8 L126.3,32.6 M126.3,49.6 L167.6,49.6 M137.3,99.1 L137.3,76.9 M137.3,76.9 L126.3,76.9 M137.3,82.5 L174.6,82.5 M126.3,65.8 L156.9,65.8 L160.8,66.7 L164.1,66.7 L166.8,67.8 L168.2,68.6 M131.8,99.1 L131.8,126.8 L112.2,126.8 L112.7,128.0 M131.8,101.8 L148.6,101.8 L148.6,112.6 L152.0,113.5 L156.4,114.9 L159.7,115.7 L164.1,117.1 L167.4,116.5 L170.7,116.5 L174.6,116.4 L179.0,117.9 L181.4,118.2 M181.4,118.2 L181.4,121.2 L181.4,126.8 L182.8,129.6 L183.9,132.3 L183.4,135.6 L182.5,139.5 M178.3,101.8 L179.3,107.9 L179.1,117.7 M178.3,99.1 L178.3,101.8 M178.3,99.1 L178.4,87.4 L176.8,84.7 L174.6,82.5 L172.9,80.8 L172.0,79.2 M172.0,79.2 L194.2,79.1 L195.9,80.4 M172.0,79.2 L171.5,75.8 L170.4,73.6 L169.9,70.8 L168.2,68.6 M168.2,68.6 L167.4,65.8 L168.2,63.1 L197.0,63.1 M168.2,63.1 L168.2,53.1 L167.6,49.6 L166.6,45.9 L166.0,40.9 L164.4,36.5 L163.9,32.6 M191.6,45.3 L191.1,48.7 L188.3,51.4 L188.6,55.9 L192.7,58.1 L195.5,60.3 L197.0,63.1 M197.0,63.1 L197.4,66.9 L200.2,68.6 L202.7,72.2 L201.0,74.2 L198.3,75.8 L197.7,78.6 L195.9,80.4 L196.0,82.5 L198.8,85.8 L200.5,88.0 L202.9,89.1 L202.4,91.9 L205.4,94.6 L206.5,97.4 L208.5,99.1 M178.3,101.8 L202.9,101.8 L201.8,103.0 L203.2,104.6 L205.4,104.6 M208.5,99.1 L206.8,101.8 L205.4,104.6 M205.4,104.6 L203.8,109.6 L202.1,112.4 L198.8,115.7 L197.7,119.0 L197.4,121.2 L197.4,124.6 L196.0,127.9 L194.9,132.3 L205.3,132.3 L206.0,134.5 L206.0,137.0 M181.4,121.2 L197.4,121.2 M202.1,110.2 L235.2,110.2 M213.7,110.2 L212.6,127.3 L212.6,135.8 M228.0,110.2 L230.2,122.3 L231.3,125.1 L230.8,129.0 L231.3,132.3 L231.9,134.0 L242.4,134.5 L246.8,134.7 L247.9,133.7 L250.9,134.0 M217.0,132.3 L231.3,132.3 M217.0,132.3 L217.8,134.5 L217.8,136.2 M241.8,110.2 L243.5,111.8 L245.7,114.6 L248.4,118.5 L250.6,121.2 L252.8,124.6 L253.9,126.5 M235.2,110.2 L241.8,110.2 L245.7,109.1 L253.1,109.3 L253.9,110.2 L257.2,111.2 L260.5,111.3 L266.9,116.5 M235.2,110.2 L236.8,108.8 L239.6,107.1 L242.9,104.9 L246.2,104.1 L249.8,101.3 M206.8,101.8 L214.5,101.8 L214.5,100.9 L238.7,101.3 L249.8,101.3 M249.8,101.3 L281.7,101.6 M238.7,101.3 L243.5,99.1 L246.2,97.4 L248.0,96.1 L246.2,94.6 L244.6,92.6 M244.6,92.6 L246.8,90.2 L249.0,88.0 L251.7,86.1 L254.2,84.1 L255.6,80.8 L256.0,78.9 M244.6,92.6 L241.8,89.9 L238.5,89.9 L234.6,88.6 L232.3,87.4 L229.1,89.5 L226.4,92.4 L223.6,93.5 L220.9,93.8 L217.0,93.8 L214.5,94.6 L213.7,96.9 L212.0,98.5 L208.5,99.1 M217.4,72.7 L217.4,86.1 L217.0,88.6 L217.3,90.2 L215.3,92.2 L214.5,94.6 M232.3,73.0 L232.3,87.4 M217.4,72.7 L232.3,73.0 L239.9,72.9 M256.0,69.7 L256.0,84.0 L261.8,84.0 L261.8,86.9 L263.8,85.5 L266.1,84.7 L268.3,84.4 L271.0,85.0 L271.6,86.2 M271.6,86.2 L268.8,87.2 L267.7,88.6 L264.9,90.2 L261.6,91.9 L260.0,93.5 L257.2,96.3 L254.2,97.1 L251.2,97.4 L248.0,96.1 M261.8,84.0 L282.1,84.0 L282.1,91.0 L286.2,91.0 M271.6,86.2 L272.9,87.4 L275.1,88.8 L274.3,91.3 L276.0,93.0 L279.6,93.8 M282.1,84.0 L284.2,83.4 L285.9,82.5 L287.8,81.4 L286.4,79.7 L285.6,77.8 L288.1,75.0 M256.0,71.4 L284.5,71.4 L285.9,72.5 L288.1,75.0 M288.1,75.0 L292.5,76.9 M293.9,76.9 L294.7,75.3 L294.7,71.1 L296.0,67.2 L295.8,62.5 L295.5,54.7 M294.7,71.1 L304.1,71.3 L306.4,71.3 M304.1,71.3 L303.8,75.1 M306.4,71.3 L306.6,72.8 L307.9,74.2 M296.0,67.2 L306.8,67.5 L309.0,66.5 M300.5,67.3 L300.8,64.2 L303.0,60.3 L305.2,57.0 L305.7,54.7 M310.1,65.4 L308.6,62.8 L308.2,57.5 L308.1,53.1 M205.6,37.6 L201.2,46.0 L203.2,47.3 L207.1,48.1 L211.5,49.2 L214.2,50.3 L215.3,51.2 L217.0,54.3 L224.0,53.4 L220.1,60.4 L219.2,66.6 L217.4,72.7 M200.2,68.6 L215.9,68.6" fill="none" stroke="#4a4a5e" stroke-opacity="0.32" stroke-width="0.9"/>
</g>
<path d="M12.3,36.0 L12.9,37.9 L14.3,39.8 L15.5,42.6 L15.8,44.2 L16.4,45.9 L16.1,47.8 L16.6,50.3 L16.6,52.5 L16.1,55.3 L15.8,58.1 L15.5,60.9 L14.7,63.6 L13.9,65.8 L13.3,66.9 L14.2,69.2 L15.3,71.4 L15.5,73.6 L16.1,75.8 L15.3,78.0 L14.2,80.0 L16.4,82.5 L17.5,84.1 L17.7,86.9 L18.6,88.6 L21.3,91.3 L22.1,93.3 L24.6,94.6 L24.6,96.3 L25.2,98.0 L27.4,99.4 L28.5,100.7 L27.7,101.8 L29.6,104.1 L31.8,106.3 L33.4,107.9 L34.8,110.2 L35.1,112.4 L35.8,113.2 L38.4,113.2 L41.2,113.6 L42.8,114.6 L45.0,115.6 L46.9,116.0 L47.2,117.1 L48.9,117.3 L50.5,118.2 L52.7,120.1 L53.6,122.1 L54.3,123.8 L67.5,122.8 L87.6,130.5 L103.4,130.5 L103.4,128.0 L112.7,128.0 L114.5,129.8 L117.8,132.0 L121.1,134.1 L123.3,137.3 L124.4,140.1 L127.7,141.7 L130.5,143.4 L132.7,142.3 L133.8,139.2 L136.0,138.7 L140.9,139.1 L143.7,141.2 L145.3,144.0 L147.0,147.3 L149.2,150.0 L151.4,151.7 L152.0,154.5 L153.6,157.2 L156.4,158.6 L158.6,159.7 L161.9,160.3 L164.4,160.3 L163.5,157.8 L163.0,155.0 L163.3,152.3 L164.6,150.0 L166.3,147.8 L169.0,146.2 L171.8,144.8 L175.1,143.1 L177.6,141.5 L180.1,140.1 L182.5,139.5 L186.1,139.2 L189.4,140.4 L192.2,140.1 L194.9,140.9 L197.2,142.0 L199.9,142.8 L202.7,142.8 L205.1,141.7 L207.3,143.4 L208.7,142.3 L207.3,140.6 L206.2,138.7 L206.0,137.0 L207.6,136.2 L210.4,135.6 L212.6,135.8 L214.2,135.9 L215.9,136.5 L218.6,135.9 L222.0,135.6 L224.7,135.9 L227.5,137.3 L229.4,139.5 L231.6,139.8 L234.6,138.4 L236.8,137.6 L239.0,139.0 L240.7,140.9 L242.9,142.8 L243.7,145.6 L243.5,148.9 L244.3,151.2 L245.1,153.4 L246.8,155.6 L248.7,158.1 L249.2,160.3 L251.4,162.0 L252.8,164.7 L255.0,164.5 L256.7,163.9 L257.0,162.2 L257.8,160.6 L258.3,157.8 L258.6,155.0 L257.8,152.8 L256.7,150.0 L255.6,147.3 L255.9,145.9 L254.2,143.4 L252.8,140.6 L251.7,137.9 L251.2,135.1 L250.9,133.4 L251.7,130.7 L252.5,128.4 L254.2,126.5 L256.1,124.8 L258.3,123.5 L260.8,121.8 L263.0,120.1 L264.4,118.2 L266.9,116.5 L269.9,116.3 L270.7,114.6 L272.9,112.7 L276.0,111.8 L278.2,111.5 L280.4,110.2 L282.6,109.1 L283.7,108.8 L283.7,106.8 L282.6,104.1 L281.8,101.6 L281.2,99.6 L282.3,97.4 L283.4,95.8 L284.8,93.5 L285.9,91.6 L286.2,89.1 L287.0,88.3 L287.8,86.9 L289.8,85.5 L291.4,83.6 L292.0,81.4 L292.0,80.0 L292.5,79.1 L294.7,79.1 L298.6,78.3 L302.4,77.2 L303.8,76.5 L301.3,76.5 L298.0,77.0 L294.2,77.4 L293.3,76.9 L295.8,76.3 L298.0,75.5 L301.3,75.4 L303.8,75.1 L306.0,74.7 L307.9,74.2 L310.1,74.0 L311.5,73.9 L314.0,73.3 L314.3,71.7 L313.5,70.9 L312.6,71.7 L311.0,71.9 L310.1,70.3 L308.8,69.4 L309.3,68.3 L310.7,67.8 L309.6,66.4 L310.4,65.3 L311.5,63.9 L312.9,62.5 L314.8,61.4 L316.8,60.6 L319.5,59.7 L320.6,58.4 L322.5,58.9 L324.5,58.4 L326.7,57.5 L328.9,57.0 L330.8,55.8 L330.0,54.2 L328.1,51.4 L326.1,50.9 L326.2,43.3 L323.7,41.7 L321.7,42.3 L320.1,42.6 L318.3,41.1 L316.2,43.1 L314.0,45.3 L312.6,48.7 L312.4,49.8 L309.6,52.5 L308.1,53.1 L305.7,54.7 L297.5,54.7 L288.1,54.8 L284.8,55.9 L281.5,58.1 L278.7,59.7 L276.5,62.2 L272.7,62.4 L267.2,62.4 L263.3,63.3 L264.1,65.3 L264.7,66.5 L260.0,68.3 L256.1,68.9 L251.7,70.3 L248.4,71.7 L244.6,72.8 L241.8,71.4 L241.5,69.7 L244.6,68.3 L245.4,65.8 L247.0,62.5 L245.1,57.5 L245.1,53.1 L240.1,50.3 L239.0,48.7 L236.3,47.8 L234.1,46.5 L232.4,44.8 L228.0,41.5 L222.5,39.2 L217.5,37.6 L212.6,36.5 L207.6,37.9 L206.0,38.1 L203.8,37.6 L199.4,37.0 L195.5,37.9 L191.1,36.2 L187.8,34.7 L185.0,34.8 L182.8,35.3 L178.4,34.2 L177.9,32.6 L177.3,30.9 L175.4,30.5 L175.4,32.6 L126.6,32.6 L93.5,32.6 L60.5,32.6 L23.2,32.6 L23.2,34.0 L24.6,35.6 L24.1,38.1 L21.9,37.6 L19.1,37.3 L15.3,36.5Z" fill="none" stroke="#8c8c8c" stroke-width="0.6"/>
<path d="M191.1,140.4 L194.9,140.9 L197.2,142.0 L198.8,142.6 L199.9,143.1 L201.6,142.3 L202.7,143.0 L204.0,142.0 L205.1,141.7 L207.3,143.4 L208.7,142.3 L207.3,140.6 L206.2,138.7 L207.1,137.6 M280.9,99.4 L279.0,97.7 L279.6,95.8 L279.3,94.1 L278.2,91.9 L278.7,89.1 L278.5,86.9 L280.7,85.0 M281.2,98.2 L281.8,95.8 L281.2,93.0 L279.8,91.6 L280.7,89.1 L279.8,86.9 L280.9,85.8 M279.3,93.3 L276.5,91.9 L274.9,89.7 M279.3,99.1 L276.5,97.7 M286.2,89.1 L284.5,87.2 L283.4,85.2 M278.2,111.0 L279.8,108.5 L278.2,106.8 L280.9,105.2 L280.4,103.5 L281.5,101.8 M310.1,65.3 L311.5,63.9 L312.9,62.2 L314.0,62.0 L314.8,61.1 L315.7,61.4 L316.8,60.6 L317.9,60.9 L319.5,59.7 L320.1,58.6 L321.2,58.9 L322.5,58.9 L323.4,58.1 L324.5,58.4 L325.6,57.8 L326.7,57.5 L327.8,57.5 L328.9,57.0 L330.8,55.8 M23.2,34.0 L24.6,35.6 L24.1,38.1 L25.2,40.4 L24.6,42.0 L22.4,43.1 L23.5,40.4 L23.0,37.9 M256.7,164.5 L255.6,165.8 L253.4,166.9 L250.6,167.8 L249.0,168.1 M243.5,167.5 L242.6,167.7 M24.6,94.6 L25.7,93.8 L26.8,95.8 L25.2,95.2 M36.8,115.6 L40.6,115.7 M46.1,118.7 L47.8,119.3 M41.2,119.9 L41.7,120.1 M46.4,121.5 L46.9,122.3 M164.1,160.0 L163.5,155.6 L163.8,151.7 L165.2,149.5 M176.8,141.7 L177.9,140.1 L176.2,139.5 M214.2,135.9 L214.8,134.0 L215.3,135.6 M244.0,151.7 L245.1,149.5 L244.6,150.6 M314.0,73.3 L314.3,71.7 L313.5,70.9 L312.6,71.7 L311.0,71.9 M293.3,76.9 L295.8,76.3 L298.0,75.5 L301.3,75.4 M306.3,74.4 L306.8,73.0 L307.4,74.2 M21.0,35.1 L22.1,34.3 L23.0,34.8 M15.8,44.0 L16.9,44.2 M16.4,45.9 L16.6,47.0 M15.3,63.6 L15.8,64.2" fill="none" stroke="#3a3a3a" stroke-width="0.7" stroke-linejoin="round"/>
<path d="M310.1,65.3 L311.3,64.2 L312.1,63.3 L312.9,62.2 L313.7,62.2 L314.6,61.1 L315.4,61.7 L316.2,60.6 L317.0,61.1 L317.9,60.3 L319.2,60.0 L319.8,58.6 L320.9,59.2 L321.7,58.4 L322.8,59.2 L323.7,57.8 L324.8,58.6 L325.6,57.5 L326.7,57.8 L327.8,57.0 L328.9,57.3 L330.0,56.1 L330.8,55.8" fill="none" stroke="#333" stroke-width="1.2" stroke-linejoin="round"/></g>
<g transform="translate(-0.8,239)"><clipPath id="clipc"><path d="M12.3,36.0 L12.9,37.9 L14.3,39.8 L15.5,42.6 L15.8,44.2 L16.4,45.9 L16.1,47.8 L16.6,50.3 L16.6,52.5 L16.1,55.3 L15.8,58.1 L15.5,60.9 L14.7,63.6 L13.9,65.8 L13.3,66.9 L14.2,69.2 L15.3,71.4 L15.5,73.6 L16.1,75.8 L15.3,78.0 L14.2,80.0 L16.4,82.5 L17.5,84.1 L17.7,86.9 L18.6,88.6 L21.3,91.3 L22.1,93.3 L24.6,94.6 L24.6,96.3 L25.2,98.0 L27.4,99.4 L28.5,100.7 L27.7,101.8 L29.6,104.1 L31.8,106.3 L33.4,107.9 L34.8,110.2 L35.1,112.4 L35.8,113.2 L38.4,113.2 L41.2,113.6 L42.8,114.6 L45.0,115.6 L46.9,116.0 L47.2,117.1 L48.9,117.3 L50.5,118.2 L52.7,120.1 L53.6,122.1 L54.3,123.8 L67.5,122.8 L87.6,130.5 L103.4,130.5 L103.4,128.0 L112.7,128.0 L114.5,129.8 L117.8,132.0 L121.1,134.1 L123.3,137.3 L124.4,140.1 L127.7,141.7 L130.5,143.4 L132.7,142.3 L133.8,139.2 L136.0,138.7 L140.9,139.1 L143.7,141.2 L145.3,144.0 L147.0,147.3 L149.2,150.0 L151.4,151.7 L152.0,154.5 L153.6,157.2 L156.4,158.6 L158.6,159.7 L161.9,160.3 L164.4,160.3 L163.5,157.8 L163.0,155.0 L163.3,152.3 L164.6,150.0 L166.3,147.8 L169.0,146.2 L171.8,144.8 L175.1,143.1 L177.6,141.5 L180.1,140.1 L182.5,139.5 L186.1,139.2 L189.4,140.4 L192.2,140.1 L194.9,140.9 L197.2,142.0 L199.9,142.8 L202.7,142.8 L205.1,141.7 L207.3,143.4 L208.7,142.3 L207.3,140.6 L206.2,138.7 L206.0,137.0 L207.6,136.2 L210.4,135.6 L212.6,135.8 L214.2,135.9 L215.9,136.5 L218.6,135.9 L222.0,135.6 L224.7,135.9 L227.5,137.3 L229.4,139.5 L231.6,139.8 L234.6,138.4 L236.8,137.6 L239.0,139.0 L240.7,140.9 L242.9,142.8 L243.7,145.6 L243.5,148.9 L244.3,151.2 L245.1,153.4 L246.8,155.6 L248.7,158.1 L249.2,160.3 L251.4,162.0 L252.8,164.7 L255.0,164.5 L256.7,163.9 L257.0,162.2 L257.8,160.6 L258.3,157.8 L258.6,155.0 L257.8,152.8 L256.7,150.0 L255.6,147.3 L255.9,145.9 L254.2,143.4 L252.8,140.6 L251.7,137.9 L251.2,135.1 L250.9,133.4 L251.7,130.7 L252.5,128.4 L254.2,126.5 L256.1,124.8 L258.3,123.5 L260.8,121.8 L263.0,120.1 L264.4,118.2 L266.9,116.5 L269.9,116.3 L270.7,114.6 L272.9,112.7 L276.0,111.8 L278.2,111.5 L280.4,110.2 L282.6,109.1 L283.7,108.8 L283.7,106.8 L282.6,104.1 L281.8,101.6 L281.2,99.6 L282.3,97.4 L283.4,95.8 L284.8,93.5 L285.9,91.6 L286.2,89.1 L287.0,88.3 L287.8,86.9 L289.8,85.5 L291.4,83.6 L292.0,81.4 L292.0,80.0 L292.5,79.1 L294.7,79.1 L298.6,78.3 L302.4,77.2 L303.8,76.5 L301.3,76.5 L298.0,77.0 L294.2,77.4 L293.3,76.9 L295.8,76.3 L298.0,75.5 L301.3,75.4 L303.8,75.1 L306.0,74.7 L307.9,74.2 L310.1,74.0 L311.5,73.9 L314.0,73.3 L314.3,71.7 L313.5,70.9 L312.6,71.7 L311.0,71.9 L310.1,70.3 L308.8,69.4 L309.3,68.3 L310.7,67.8 L309.6,66.4 L310.4,65.3 L311.5,63.9 L312.9,62.5 L314.8,61.4 L316.8,60.6 L319.5,59.7 L320.6,58.4 L322.5,58.9 L324.5,58.4 L326.7,57.5 L328.9,57.0 L330.8,55.8 L330.0,54.2 L328.1,51.4 L326.1,50.9 L326.2,43.3 L323.7,41.7 L321.7,42.3 L320.1,42.6 L318.3,41.1 L316.2,43.1 L314.0,45.3 L312.6,48.7 L312.4,49.8 L309.6,52.5 L308.1,53.1 L305.7,54.7 L297.5,54.7 L288.1,54.8 L284.8,55.9 L281.5,58.1 L278.7,59.7 L276.5,62.2 L272.7,62.4 L267.2,62.4 L263.3,63.3 L264.1,65.3 L264.7,66.5 L260.0,68.3 L256.1,68.9 L251.7,70.3 L248.4,71.7 L244.6,72.8 L241.8,71.4 L241.5,69.7 L244.6,68.3 L245.4,65.8 L247.0,62.5 L245.1,57.5 L245.1,53.1 L240.1,50.3 L239.0,48.7 L236.3,47.8 L234.1,46.5 L232.4,44.8 L228.0,41.5 L222.5,39.2 L217.5,37.6 L212.6,36.5 L207.6,37.9 L206.0,38.1 L203.8,37.6 L199.4,37.0 L195.5,37.9 L191.1,36.2 L187.8,34.7 L185.0,34.8 L182.8,35.3 L178.4,34.2 L177.9,32.6 L177.3,30.9 L175.4,30.5 L175.4,32.6 L126.6,32.6 L93.5,32.6 L60.5,32.6 L23.2,32.6 L23.2,34.0 L24.6,35.6 L24.1,38.1 L21.9,37.6 L19.1,37.3 L15.3,36.5Z"/></clipPath>
<g clip-path="url(#clipc)">
<path d="M12.3,36.0 L12.9,37.9 L14.3,39.8 L15.5,42.6 L15.8,44.2 L16.4,45.9 L16.1,47.8 L16.6,50.3 L16.6,52.5 L16.1,55.3 L15.8,58.1 L15.5,60.9 L14.7,63.6 L13.9,65.8 L13.3,66.9 L14.2,69.2 L15.3,71.4 L15.5,73.6 L16.1,75.8 L15.3,78.0 L14.2,80.0 L16.4,82.5 L17.5,84.1 L17.7,86.9 L18.6,88.6 L21.3,91.3 L22.1,93.3 L24.6,94.6 L24.6,96.3 L25.2,98.0 L27.4,99.4 L28.5,100.7 L27.7,101.8 L29.6,104.1 L31.8,106.3 L33.4,107.9 L34.8,110.2 L35.1,112.4 L35.8,113.2 L38.4,113.2 L41.2,113.6 L42.8,114.6 L45.0,115.6 L46.9,116.0 L47.2,117.1 L48.9,117.3 L50.5,118.2 L52.7,120.1 L53.6,122.1 L54.3,123.8 L67.5,122.8 L87.6,130.5 L103.4,130.5 L103.4,128.0 L112.7,128.0 L114.5,129.8 L117.8,132.0 L121.1,134.1 L123.3,137.3 L124.4,140.1 L127.7,141.7 L130.5,143.4 L132.7,142.3 L133.8,139.2 L136.0,138.7 L140.9,139.1 L143.7,141.2 L145.3,144.0 L147.0,147.3 L149.2,150.0 L151.4,151.7 L152.0,154.5 L153.6,157.2 L156.4,158.6 L158.6,159.7 L161.9,160.3 L164.4,160.3 L163.5,157.8 L163.0,155.0 L163.3,152.3 L164.6,150.0 L166.3,147.8 L169.0,146.2 L171.8,144.8 L175.1,143.1 L177.6,141.5 L180.1,140.1 L182.5,139.5 L186.1,139.2 L189.4,140.4 L192.2,140.1 L194.9,140.9 L197.2,142.0 L199.9,142.8 L202.7,142.8 L205.1,141.7 L207.3,143.4 L208.7,142.3 L207.3,140.6 L206.2,138.7 L206.0,137.0 L207.6,136.2 L210.4,135.6 L212.6,135.8 L214.2,135.9 L215.9,136.5 L218.6,135.9 L222.0,135.6 L224.7,135.9 L227.5,137.3 L229.4,139.5 L231.6,139.8 L234.6,138.4 L236.8,137.6 L239.0,139.0 L240.7,140.9 L242.9,142.8 L243.7,145.6 L243.5,148.9 L244.3,151.2 L245.1,153.4 L246.8,155.6 L248.7,158.1 L249.2,160.3 L251.4,162.0 L252.8,164.7 L255.0,164.5 L256.7,163.9 L257.0,162.2 L257.8,160.6 L258.3,157.8 L258.6,155.0 L257.8,152.8 L256.7,150.0 L255.6,147.3 L255.9,145.9 L254.2,143.4 L252.8,140.6 L251.7,137.9 L251.2,135.1 L250.9,133.4 L251.7,130.7 L252.5,128.4 L254.2,126.5 L256.1,124.8 L258.3,123.5 L260.8,121.8 L263.0,120.1 L264.4,118.2 L266.9,116.5 L269.9,116.3 L270.7,114.6 L272.9,112.7 L276.0,111.8 L278.2,111.5 L280.4,110.2 L282.6,109.1 L283.7,108.8 L283.7,106.8 L282.6,104.1 L281.8,101.6 L281.2,99.6 L282.3,97.4 L283.4,95.8 L284.8,93.5 L285.9,91.6 L286.2,89.1 L287.0,88.3 L287.8,86.9 L289.8,85.5 L291.4,83.6 L292.0,81.4 L292.0,80.0 L292.5,79.1 L294.7,79.1 L298.6,78.3 L302.4,77.2 L303.8,76.5 L301.3,76.5 L298.0,77.0 L294.2,77.4 L293.3,76.9 L295.8,76.3 L298.0,75.5 L301.3,75.4 L303.8,75.1 L306.0,74.7 L307.9,74.2 L310.1,74.0 L311.5,73.9 L314.0,73.3 L314.3,71.7 L313.5,70.9 L312.6,71.7 L311.0,71.9 L310.1,70.3 L308.8,69.4 L309.3,68.3 L310.7,67.8 L309.6,66.4 L310.4,65.3 L311.5,63.9 L312.9,62.5 L314.8,61.4 L316.8,60.6 L319.5,59.7 L320.6,58.4 L322.5,58.9 L324.5,58.4 L326.7,57.5 L328.9,57.0 L330.8,55.8 L330.0,54.2 L328.1,51.4 L326.1,50.9 L326.2,43.3 L323.7,41.7 L321.7,42.3 L320.1,42.6 L318.3,41.1 L316.2,43.1 L314.0,45.3 L312.6,48.7 L312.4,49.8 L309.6,52.5 L308.1,53.1 L305.7,54.7 L297.5,54.7 L288.1,54.8 L284.8,55.9 L281.5,58.1 L278.7,59.7 L276.5,62.2 L272.7,62.4 L267.2,62.4 L263.3,63.3 L264.1,65.3 L264.7,66.5 L260.0,68.3 L256.1,68.9 L251.7,70.3 L248.4,71.7 L244.6,72.8 L241.8,71.4 L241.5,69.7 L244.6,68.3 L245.4,65.8 L247.0,62.5 L245.1,57.5 L245.1,53.1 L240.1,50.3 L239.0,48.7 L236.3,47.8 L234.1,46.5 L232.4,44.8 L228.0,41.5 L222.5,39.2 L217.5,37.6 L212.6,36.5 L207.6,37.9 L206.0,38.1 L203.8,37.6 L199.4,37.0 L195.5,37.9 L191.1,36.2 L187.8,34.7 L185.0,34.8 L182.8,35.3 L178.4,34.2 L177.9,32.6 L177.3,30.9 L175.4,30.5 L175.4,32.6 L126.6,32.6 L93.5,32.6 L60.5,32.6 L23.2,32.6 L23.2,34.0 L24.6,35.6 L24.1,38.1 L21.9,37.6 L19.1,37.3 L15.3,36.5Z" fill="#e1e1f7"/>
<g filter="url(#rough)">
<path d="M5.3,29.8 L25.7,29.8 L25.7,38.1 L25.2,43.7 L25.7,49.2 L25.2,54.8 L24.1,60.3 L23.5,65.8 L24.6,69.7 L26.8,73.0 L29.6,76.9 L31.8,80.8 L33.4,85.2 L35.7,90.2 L37.9,94.6 L41.2,99.1 L43.9,103.5 L45.6,107.4 L45.6,110.7 L49.4,112.9 L54.9,114.6 L57.1,118.5 L57.7,124.6 L57.7,132.3 L5.3,132.3Z" fill="#dcf4f3"/>
<path d="M147.0,99.1 L165.2,99.1 L181.7,98.8 L198.3,96.0 L214.8,95.8 L231.3,95.2 L242.4,94.1 L251.2,94.1 L257.2,95.8 L262.7,93.5 L268.3,88.6 L273.8,85.8 L280.9,81.9 L287.5,80.2 L292.0,78.0 L296.4,76.4 L304.1,74.4 L311.3,73.0 L316.8,74.2 L314.0,88.0 L292.0,99.1 L264.4,171.1 L165.2,171.1 L162.4,158.4 L158.0,146.7 L151.4,129.0 L148.6,115.7Z" fill="#dcf4f3"/>
<path d="M35.7,29.8 L133.2,29.8 L133.2,32.6 L137.6,40.9 L146.4,51.4 L143.1,60.3 L138.2,66.4 L142.0,76.9 L145.3,86.3 L148.1,99.1 L148.6,115.7 L151.4,129.0 L158.0,146.7 L162.4,158.4 L165.2,165.6 L115.6,148.9 L59.4,132.3 L59.4,123.5 L58.8,119.0 L56.0,115.7 L50.0,114.0 L46.7,111.3 L47.8,107.4 L48.9,101.8 L44.5,94.6 L40.1,89.1 L37.9,84.1 L35.1,79.1 L32.3,74.7 L30.7,70.3 L31.2,63.6 L32.3,58.1 L33.4,52.0 L35.7,47.6 L35.7,42.0 L37.9,38.1 L36.2,33.7Z" fill="#f5d2f3"/>
<path d="M35.7,103.0 L40.6,100.7 L43.9,105.2 L44.7,109.1 L41.2,110.2 L37.3,106.8Z" fill="#f5d2f3"/>
<path d="M53.8,29.8 L79.7,29.8 L78.1,36.5 L75.3,42.0 L79.2,47.0 L82.5,51.4 L86.9,54.8 L90.8,55.3 L93.5,58.1 L91.9,62.5 L88.0,64.2 L84.7,60.3 L79.7,58.6 L74.2,59.2 L68.7,60.9 L63.2,61.4 L58.8,58.6 L56.0,54.8 L53.3,50.3 L54.9,46.5 L54.9,40.9Z" fill="#e1e1f7"/>
<path d="M44.5,51.4 L50.5,49.8 L54.9,53.1 L53.3,57.0 L46.7,58.1 L42.3,55.9Z" fill="#e1e1f7"/>
<path d="M105.7,54.8 L110.1,54.8 L111.2,60.3 L107.3,60.3Z" fill="#e1e1f7"/>
<path d="M93.5,63.1 L99.0,64.2 L100.7,68.1 L95.7,69.2Z" fill="#e1e1f7"/>
<path d="M83.1,71.4 L86.9,74.2 L93.5,77.5 L107.3,75.3 L115.6,75.8 L120.0,79.1 L121.1,85.2 L120.5,92.4 L121.1,99.1 L119.4,104.6 L116.7,107.4 L112.3,105.7 L110.6,100.7 L105.7,96.9 L101.2,92.4 L102.9,86.3 L99.0,83.0 L90.8,83.6 L86.4,88.0 L84.2,83.6 L83.1,76.9Z" fill="#e1e1f7"/>
<path d="M125.5,56.4 L130.5,56.4 L130.5,62.5 L126.0,62.5Z" fill="#e1e1f7"/>
<path d="M81.4,107.9 L86.9,109.1 L92.4,112.9 L95.7,114.6 L94.6,116.3 L89.1,113.5 L83.6,110.7Z" fill="#e1e1f7"/>
<path d="M112.8,100.2 L120.0,99.6 L119.4,106.8 L116.1,105.7Z" fill="#e1e1f7"/>
</g>
<path d="M249.0,158.4 L258.6,156.7 L259.4,166.1 L250.6,166.1Z" fill="#fbe3ec"/>
<path d="M16.1,47.8 L19.7,48.1 L22.4,48.9 L23.2,51.2 L26.3,51.7 L31.8,51.2 L35.7,50.9 L40.6,49.7 L44.0,49.2 L55.4,49.2 M54.7,32.6 L54.7,46.9 L55.4,49.2 M55.4,49.2 L56.9,51.4 L57.7,53.1 L56.3,54.8 L55.2,57.0 L53.8,58.6 L55.2,59.7 L54.8,61.4 L54.8,71.4 M15.3,71.4 L87.7,71.4 M38.4,71.4 L38.4,88.0 L68.0,110.2 L68.2,111.3 L69.3,114.0 L68.2,116.0 L67.6,119.0 L68.4,121.2 L67.5,122.8 M68.0,110.2 L68.1,106.8 L67.3,104.3 L71.2,103.5 L71.2,99.1 M71.3,71.4 L71.2,99.1 M71.2,99.1 L178.3,99.1 M98.8,99.1 L98.8,130.5 M98.8,99.1 L98.8,76.9 M87.7,71.4 L87.7,76.9 L126.3,76.9 M87.7,71.4 L87.7,57.5 L85.8,56.4 L80.8,57.3 L78.1,58.1 L74.8,55.3 L72.0,51.4 L68.7,51.4 L69.3,48.7 L67.6,45.3 L64.3,42.6 L62.1,41.2 L60.2,38.3 L60.2,32.6 M87.7,57.5 L87.7,54.8 L126.3,54.8 M126.3,76.9 L126.3,54.8 M126.3,54.8 L126.3,32.6 M126.3,49.6 L167.6,49.6 M137.3,99.1 L137.3,76.9 M137.3,76.9 L126.3,76.9 M137.3,82.5 L174.6,82.5 M126.3,65.8 L156.9,65.8 L160.8,66.7 L164.1,66.7 L166.8,67.8 L168.2,68.6 M131.8,99.1 L131.8,126.8 L112.2,126.8 L112.7,128.0 M131.8,101.8 L148.6,101.8 L148.6,112.6 L152.0,113.5 L156.4,114.9 L159.7,115.7 L164.1,117.1 L167.4,116.5 L170.7,116.5 L174.6,116.4 L179.0,117.9 L181.4,118.2 M181.4,118.2 L181.4,121.2 L181.4,126.8 L182.8,129.6 L183.9,132.3 L183.4,135.6 L182.5,139.5 M178.3,101.8 L179.3,107.9 L179.1,117.7 M178.3,99.1 L178.3,101.8 M178.3,99.1 L178.4,87.4 L176.8,84.7 L174.6,82.5 L172.9,80.8 L172.0,79.2 M172.0,79.2 L194.2,79.1 L195.9,80.4 M172.0,79.2 L171.5,75.8 L170.4,73.6 L169.9,70.8 L168.2,68.6 M168.2,68.6 L167.4,65.8 L168.2,63.1 L197.0,63.1 M168.2,63.1 L168.2,53.1 L167.6,49.6 L166.6,45.9 L166.0,40.9 L164.4,36.5 L163.9,32.6 M191.6,45.3 L191.1,48.7 L188.3,51.4 L188.6,55.9 L192.7,58.1 L195.5,60.3 L197.0,63.1 M197.0,63.1 L197.4,66.9 L200.2,68.6 L202.7,72.2 L201.0,74.2 L198.3,75.8 L197.7,78.6 L195.9,80.4 L196.0,82.5 L198.8,85.8 L200.5,88.0 L202.9,89.1 L202.4,91.9 L205.4,94.6 L206.5,97.4 L208.5,99.1 M178.3,101.8 L202.9,101.8 L201.8,103.0 L203.2,104.6 L205.4,104.6 M208.5,99.1 L206.8,101.8 L205.4,104.6 M205.4,104.6 L203.8,109.6 L202.1,112.4 L198.8,115.7 L197.7,119.0 L197.4,121.2 L197.4,124.6 L196.0,127.9 L194.9,132.3 L205.3,132.3 L206.0,134.5 L206.0,137.0 M181.4,121.2 L197.4,121.2 M202.1,110.2 L235.2,110.2 M213.7,110.2 L212.6,127.3 L212.6,135.8 M228.0,110.2 L230.2,122.3 L231.3,125.1 L230.8,129.0 L231.3,132.3 L231.9,134.0 L242.4,134.5 L246.8,134.7 L247.9,133.7 L250.9,134.0 M217.0,132.3 L231.3,132.3 M217.0,132.3 L217.8,134.5 L217.8,136.2 M241.8,110.2 L243.5,111.8 L245.7,114.6 L248.4,118.5 L250.6,121.2 L252.8,124.6 L253.9,126.5 M235.2,110.2 L241.8,110.2 L245.7,109.1 L253.1,109.3 L253.9,110.2 L257.2,111.2 L260.5,111.3 L266.9,116.5 M235.2,110.2 L236.8,108.8 L239.6,107.1 L242.9,104.9 L246.2,104.1 L249.8,101.3 M206.8,101.8 L214.5,101.8 L214.5,100.9 L238.7,101.3 L249.8,101.3 M249.8,101.3 L281.7,101.6 M238.7,101.3 L243.5,99.1 L246.2,97.4 L248.0,96.1 L246.2,94.6 L244.6,92.6 M244.6,92.6 L246.8,90.2 L249.0,88.0 L251.7,86.1 L254.2,84.1 L255.6,80.8 L256.0,78.9 M244.6,92.6 L241.8,89.9 L238.5,89.9 L234.6,88.6 L232.3,87.4 L229.1,89.5 L226.4,92.4 L223.6,93.5 L220.9,93.8 L217.0,93.8 L214.5,94.6 L213.7,96.9 L212.0,98.5 L208.5,99.1 M217.4,72.7 L217.4,86.1 L217.0,88.6 L217.3,90.2 L215.3,92.2 L214.5,94.6 M232.3,73.0 L232.3,87.4 M217.4,72.7 L232.3,73.0 L239.9,72.9 M256.0,69.7 L256.0,84.0 L261.8,84.0 L261.8,86.9 L263.8,85.5 L266.1,84.7 L268.3,84.4 L271.0,85.0 L271.6,86.2 M271.6,86.2 L268.8,87.2 L267.7,88.6 L264.9,90.2 L261.6,91.9 L260.0,93.5 L257.2,96.3 L254.2,97.1 L251.2,97.4 L248.0,96.1 M261.8,84.0 L282.1,84.0 L282.1,91.0 L286.2,91.0 M271.6,86.2 L272.9,87.4 L275.1,88.8 L274.3,91.3 L276.0,93.0 L279.6,93.8 M282.1,84.0 L284.2,83.4 L285.9,82.5 L287.8,81.4 L286.4,79.7 L285.6,77.8 L288.1,75.0 M256.0,71.4 L284.5,71.4 L285.9,72.5 L288.1,75.0 M288.1,75.0 L292.5,76.9 M293.9,76.9 L294.7,75.3 L294.7,71.1 L296.0,67.2 L295.8,62.5 L295.5,54.7 M294.7,71.1 L304.1,71.3 L306.4,71.3 M304.1,71.3 L303.8,75.1 M306.4,71.3 L306.6,72.8 L307.9,74.2 M296.0,67.2 L306.8,67.5 L309.0,66.5 M300.5,67.3 L300.8,64.2 L303.0,60.3 L305.2,57.0 L305.7,54.7 M310.1,65.4 L308.6,62.8 L308.2,57.5 L308.1,53.1 M205.6,37.6 L201.2,46.0 L203.2,47.3 L207.1,48.1 L211.5,49.2 L214.2,50.3 L215.3,51.2 L217.0,54.3 L224.0,53.4 L220.1,60.4 L219.2,66.6 L217.4,72.7 M200.2,68.6 L215.9,68.6" fill="none" stroke="#4a4a5e" stroke-opacity="0.32" stroke-width="0.9"/>
</g>
<path d="M12.3,36.0 L12.9,37.9 L14.3,39.8 L15.5,42.6 L15.8,44.2 L16.4,45.9 L16.1,47.8 L16.6,50.3 L16.6,52.5 L16.1,55.3 L15.8,58.1 L15.5,60.9 L14.7,63.6 L13.9,65.8 L13.3,66.9 L14.2,69.2 L15.3,71.4 L15.5,73.6 L16.1,75.8 L15.3,78.0 L14.2,80.0 L16.4,82.5 L17.5,84.1 L17.7,86.9 L18.6,88.6 L21.3,91.3 L22.1,93.3 L24.6,94.6 L24.6,96.3 L25.2,98.0 L27.4,99.4 L28.5,100.7 L27.7,101.8 L29.6,104.1 L31.8,106.3 L33.4,107.9 L34.8,110.2 L35.1,112.4 L35.8,113.2 L38.4,113.2 L41.2,113.6 L42.8,114.6 L45.0,115.6 L46.9,116.0 L47.2,117.1 L48.9,117.3 L50.5,118.2 L52.7,120.1 L53.6,122.1 L54.3,123.8 L67.5,122.8 L87.6,130.5 L103.4,130.5 L103.4,128.0 L112.7,128.0 L114.5,129.8 L117.8,132.0 L121.1,134.1 L123.3,137.3 L124.4,140.1 L127.7,141.7 L130.5,143.4 L132.7,142.3 L133.8,139.2 L136.0,138.7 L140.9,139.1 L143.7,141.2 L145.3,144.0 L147.0,147.3 L149.2,150.0 L151.4,151.7 L152.0,154.5 L153.6,157.2 L156.4,158.6 L158.6,159.7 L161.9,160.3 L164.4,160.3 L163.5,157.8 L163.0,155.0 L163.3,152.3 L164.6,150.0 L166.3,147.8 L169.0,146.2 L171.8,144.8 L175.1,143.1 L177.6,141.5 L180.1,140.1 L182.5,139.5 L186.1,139.2 L189.4,140.4 L192.2,140.1 L194.9,140.9 L197.2,142.0 L199.9,142.8 L202.7,142.8 L205.1,141.7 L207.3,143.4 L208.7,142.3 L207.3,140.6 L206.2,138.7 L206.0,137.0 L207.6,136.2 L210.4,135.6 L212.6,135.8 L214.2,135.9 L215.9,136.5 L218.6,135.9 L222.0,135.6 L224.7,135.9 L227.5,137.3 L229.4,139.5 L231.6,139.8 L234.6,138.4 L236.8,137.6 L239.0,139.0 L240.7,140.9 L242.9,142.8 L243.7,145.6 L243.5,148.9 L244.3,151.2 L245.1,153.4 L246.8,155.6 L248.7,158.1 L249.2,160.3 L251.4,162.0 L252.8,164.7 L255.0,164.5 L256.7,163.9 L257.0,162.2 L257.8,160.6 L258.3,157.8 L258.6,155.0 L257.8,152.8 L256.7,150.0 L255.6,147.3 L255.9,145.9 L254.2,143.4 L252.8,140.6 L251.7,137.9 L251.2,135.1 L250.9,133.4 L251.7,130.7 L252.5,128.4 L254.2,126.5 L256.1,124.8 L258.3,123.5 L260.8,121.8 L263.0,120.1 L264.4,118.2 L266.9,116.5 L269.9,116.3 L270.7,114.6 L272.9,112.7 L276.0,111.8 L278.2,111.5 L280.4,110.2 L282.6,109.1 L283.7,108.8 L283.7,106.8 L282.6,104.1 L281.8,101.6 L281.2,99.6 L282.3,97.4 L283.4,95.8 L284.8,93.5 L285.9,91.6 L286.2,89.1 L287.0,88.3 L287.8,86.9 L289.8,85.5 L291.4,83.6 L292.0,81.4 L292.0,80.0 L292.5,79.1 L294.7,79.1 L298.6,78.3 L302.4,77.2 L303.8,76.5 L301.3,76.5 L298.0,77.0 L294.2,77.4 L293.3,76.9 L295.8,76.3 L298.0,75.5 L301.3,75.4 L303.8,75.1 L306.0,74.7 L307.9,74.2 L310.1,74.0 L311.5,73.9 L314.0,73.3 L314.3,71.7 L313.5,70.9 L312.6,71.7 L311.0,71.9 L310.1,70.3 L308.8,69.4 L309.3,68.3 L310.7,67.8 L309.6,66.4 L310.4,65.3 L311.5,63.9 L312.9,62.5 L314.8,61.4 L316.8,60.6 L319.5,59.7 L320.6,58.4 L322.5,58.9 L324.5,58.4 L326.7,57.5 L328.9,57.0 L330.8,55.8 L330.0,54.2 L328.1,51.4 L326.1,50.9 L326.2,43.3 L323.7,41.7 L321.7,42.3 L320.1,42.6 L318.3,41.1 L316.2,43.1 L314.0,45.3 L312.6,48.7 L312.4,49.8 L309.6,52.5 L308.1,53.1 L305.7,54.7 L297.5,54.7 L288.1,54.8 L284.8,55.9 L281.5,58.1 L278.7,59.7 L276.5,62.2 L272.7,62.4 L267.2,62.4 L263.3,63.3 L264.1,65.3 L264.7,66.5 L260.0,68.3 L256.1,68.9 L251.7,70.3 L248.4,71.7 L244.6,72.8 L241.8,71.4 L241.5,69.7 L244.6,68.3 L245.4,65.8 L247.0,62.5 L245.1,57.5 L245.1,53.1 L240.1,50.3 L239.0,48.7 L236.3,47.8 L234.1,46.5 L232.4,44.8 L228.0,41.5 L222.5,39.2 L217.5,37.6 L212.6,36.5 L207.6,37.9 L206.0,38.1 L203.8,37.6 L199.4,37.0 L195.5,37.9 L191.1,36.2 L187.8,34.7 L185.0,34.8 L182.8,35.3 L178.4,34.2 L177.9,32.6 L177.3,30.9 L175.4,30.5 L175.4,32.6 L126.6,32.6 L93.5,32.6 L60.5,32.6 L23.2,32.6 L23.2,34.0 L24.6,35.6 L24.1,38.1 L21.9,37.6 L19.1,37.3 L15.3,36.5Z" fill="none" stroke="#8c8c8c" stroke-width="0.6"/>
<path d="M191.1,140.4 L194.9,140.9 L197.2,142.0 L198.8,142.6 L199.9,143.1 L201.6,142.3 L202.7,143.0 L204.0,142.0 L205.1,141.7 L207.3,143.4 L208.7,142.3 L207.3,140.6 L206.2,138.7 L207.1,137.6 M280.9,99.4 L279.0,97.7 L279.6,95.8 L279.3,94.1 L278.2,91.9 L278.7,89.1 L278.5,86.9 L280.7,85.0 M281.2,98.2 L281.8,95.8 L281.2,93.0 L279.8,91.6 L280.7,89.1 L279.8,86.9 L280.9,85.8 M279.3,93.3 L276.5,91.9 L274.9,89.7 M279.3,99.1 L276.5,97.7 M286.2,89.1 L284.5,87.2 L283.4,85.2 M278.2,111.0 L279.8,108.5 L278.2,106.8 L280.9,105.2 L280.4,103.5 L281.5,101.8 M310.1,65.3 L311.5,63.9 L312.9,62.2 L314.0,62.0 L314.8,61.1 L315.7,61.4 L316.8,60.6 L317.9,60.9 L319.5,59.7 L320.1,58.6 L321.2,58.9 L322.5,58.9 L323.4,58.1 L324.5,58.4 L325.6,57.8 L326.7,57.5 L327.8,57.5 L328.9,57.0 L330.8,55.8 M23.2,34.0 L24.6,35.6 L24.1,38.1 L25.2,40.4 L24.6,42.0 L22.4,43.1 L23.5,40.4 L23.0,37.9 M256.7,164.5 L255.6,165.8 L253.4,166.9 L250.6,167.8 L249.0,168.1 M243.5,167.5 L242.6,167.7 M24.6,94.6 L25.7,93.8 L26.8,95.8 L25.2,95.2 M36.8,115.6 L40.6,115.7 M46.1,118.7 L47.8,119.3 M41.2,119.9 L41.7,120.1 M46.4,121.5 L46.9,122.3 M164.1,160.0 L163.5,155.6 L163.8,151.7 L165.2,149.5 M176.8,141.7 L177.9,140.1 L176.2,139.5 M214.2,135.9 L214.8,134.0 L215.3,135.6 M244.0,151.7 L245.1,149.5 L244.6,150.6 M314.0,73.3 L314.3,71.7 L313.5,70.9 L312.6,71.7 L311.0,71.9 M293.3,76.9 L295.8,76.3 L298.0,75.5 L301.3,75.4 M306.3,74.4 L306.8,73.0 L307.4,74.2 M21.0,35.1 L22.1,34.3 L23.0,34.8 M15.8,44.0 L16.9,44.2 M16.4,45.9 L16.6,47.0 M15.3,63.6 L15.8,64.2" fill="none" stroke="#3a3a3a" stroke-width="0.7" stroke-linejoin="round"/>
<path d="M310.1,65.3 L311.3,64.2 L312.1,63.3 L312.9,62.2 L313.7,62.2 L314.6,61.1 L315.4,61.7 L316.2,60.6 L317.0,61.1 L317.9,60.3 L319.2,60.0 L319.8,58.6 L320.9,59.2 L321.7,58.4 L322.8,59.2 L323.7,57.8 L324.8,58.6 L325.6,57.5 L326.7,57.8 L327.8,57.0 L328.9,57.3 L330.0,56.1 L330.8,55.8" fill="none" stroke="#333" stroke-width="1.2" stroke-linejoin="round"/></g>
<g transform="translate(345,239)"><clipPath id="clipd"><path d="M12.3,36.0 L12.9,37.9 L14.3,39.8 L15.5,42.6 L15.8,44.2 L16.4,45.9 L16.1,47.8 L16.6,50.3 L16.6,52.5 L16.1,55.3 L15.8,58.1 L15.5,60.9 L14.7,63.6 L13.9,65.8 L13.3,66.9 L14.2,69.2 L15.3,71.4 L15.5,73.6 L16.1,75.8 L15.3,78.0 L14.2,80.0 L16.4,82.5 L17.5,84.1 L17.7,86.9 L18.6,88.6 L21.3,91.3 L22.1,93.3 L24.6,94.6 L24.6,96.3 L25.2,98.0 L27.4,99.4 L28.5,100.7 L27.7,101.8 L29.6,104.1 L31.8,106.3 L33.4,107.9 L34.8,110.2 L35.1,112.4 L35.8,113.2 L38.4,113.2 L41.2,113.6 L42.8,114.6 L45.0,115.6 L46.9,116.0 L47.2,117.1 L48.9,117.3 L50.5,118.2 L52.7,120.1 L53.6,122.1 L54.3,123.8 L67.5,122.8 L87.6,130.5 L103.4,130.5 L103.4,128.0 L112.7,128.0 L114.5,129.8 L117.8,132.0 L121.1,134.1 L123.3,137.3 L124.4,140.1 L127.7,141.7 L130.5,143.4 L132.7,142.3 L133.8,139.2 L136.0,138.7 L140.9,139.1 L143.7,141.2 L145.3,144.0 L147.0,147.3 L149.2,150.0 L151.4,151.7 L152.0,154.5 L153.6,157.2 L156.4,158.6 L158.6,159.7 L161.9,160.3 L164.4,160.3 L163.5,157.8 L163.0,155.0 L163.3,152.3 L164.6,150.0 L166.3,147.8 L169.0,146.2 L171.8,144.8 L175.1,143.1 L177.6,141.5 L180.1,140.1 L182.5,139.5 L186.1,139.2 L189.4,140.4 L192.2,140.1 L194.9,140.9 L197.2,142.0 L199.9,142.8 L202.7,142.8 L205.1,141.7 L207.3,143.4 L208.7,142.3 L207.3,140.6 L206.2,138.7 L206.0,137.0 L207.6,136.2 L210.4,135.6 L212.6,135.8 L214.2,135.9 L215.9,136.5 L218.6,135.9 L222.0,135.6 L224.7,135.9 L227.5,137.3 L229.4,139.5 L231.6,139.8 L234.6,138.4 L236.8,137.6 L239.0,139.0 L240.7,140.9 L242.9,142.8 L243.7,145.6 L243.5,148.9 L244.3,151.2 L245.1,153.4 L246.8,155.6 L248.7,158.1 L249.2,160.3 L251.4,162.0 L252.8,164.7 L255.0,164.5 L256.7,163.9 L257.0,162.2 L257.8,160.6 L258.3,157.8 L258.6,155.0 L257.8,152.8 L256.7,150.0 L255.6,147.3 L255.9,145.9 L254.2,143.4 L252.8,140.6 L251.7,137.9 L251.2,135.1 L250.9,133.4 L251.7,130.7 L252.5,128.4 L254.2,126.5 L256.1,124.8 L258.3,123.5 L260.8,121.8 L263.0,120.1 L264.4,118.2 L266.9,116.5 L269.9,116.3 L270.7,114.6 L272.9,112.7 L276.0,111.8 L278.2,111.5 L280.4,110.2 L282.6,109.1 L283.7,108.8 L283.7,106.8 L282.6,104.1 L281.8,101.6 L281.2,99.6 L282.3,97.4 L283.4,95.8 L284.8,93.5 L285.9,91.6 L286.2,89.1 L287.0,88.3 L287.8,86.9 L289.8,85.5 L291.4,83.6 L292.0,81.4 L292.0,80.0 L292.5,79.1 L294.7,79.1 L298.6,78.3 L302.4,77.2 L303.8,76.5 L301.3,76.5 L298.0,77.0 L294.2,77.4 L293.3,76.9 L295.8,76.3 L298.0,75.5 L301.3,75.4 L303.8,75.1 L306.0,74.7 L307.9,74.2 L310.1,74.0 L311.5,73.9 L314.0,73.3 L314.3,71.7 L313.5,70.9 L312.6,71.7 L311.0,71.9 L310.1,70.3 L308.8,69.4 L309.3,68.3 L310.7,67.8 L309.6,66.4 L310.4,65.3 L311.5,63.9 L312.9,62.5 L314.8,61.4 L316.8,60.6 L319.5,59.7 L320.6,58.4 L322.5,58.9 L324.5,58.4 L326.7,57.5 L328.9,57.0 L330.8,55.8 L330.0,54.2 L328.1,51.4 L326.1,50.9 L326.2,43.3 L323.7,41.7 L321.7,42.3 L320.1,42.6 L318.3,41.1 L316.2,43.1 L314.0,45.3 L312.6,48.7 L312.4,49.8 L309.6,52.5 L308.1,53.1 L305.7,54.7 L297.5,54.7 L288.1,54.8 L284.8,55.9 L281.5,58.1 L278.7,59.7 L276.5,62.2 L272.7,62.4 L267.2,62.4 L263.3,63.3 L264.1,65.3 L264.7,66.5 L260.0,68.3 L256.1,68.9 L251.7,70.3 L248.4,71.7 L244.6,72.8 L241.8,71.4 L241.5,69.7 L244.6,68.3 L245.4,65.8 L247.0,62.5 L245.1,57.5 L245.1,53.1 L240.1,50.3 L239.0,48.7 L236.3,47.8 L234.1,46.5 L232.4,44.8 L228.0,41.5 L222.5,39.2 L217.5,37.6 L212.6,36.5 L207.6,37.9 L206.0,38.1 L203.8,37.6 L199.4,37.0 L195.5,37.9 L191.1,36.2 L187.8,34.7 L185.0,34.8 L182.8,35.3 L178.4,34.2 L177.9,32.6 L177.3,30.9 L175.4,30.5 L175.4,32.6 L126.6,32.6 L93.5,32.6 L60.5,32.6 L23.2,32.6 L23.2,34.0 L24.6,35.6 L24.1,38.1 L21.9,37.6 L19.1,37.3 L15.3,36.5Z"/></clipPath>
<g clip-path="url(#clipd)">
<path d="M12.3,36.0 L12.9,37.9 L14.3,39.8 L15.5,42.6 L15.8,44.2 L16.4,45.9 L16.1,47.8 L16.6,50.3 L16.6,52.5 L16.1,55.3 L15.8,58.1 L15.5,60.9 L14.7,63.6 L13.9,65.8 L13.3,66.9 L14.2,69.2 L15.3,71.4 L15.5,73.6 L16.1,75.8 L15.3,78.0 L14.2,80.0 L16.4,82.5 L17.5,84.1 L17.7,86.9 L18.6,88.6 L21.3,91.3 L22.1,93.3 L24.6,94.6 L24.6,96.3 L25.2,98.0 L27.4,99.4 L28.5,100.7 L27.7,101.8 L29.6,104.1 L31.8,106.3 L33.4,107.9 L34.8,110.2 L35.1,112.4 L35.8,113.2 L38.4,113.2 L41.2,113.6 L42.8,114.6 L45.0,115.6 L46.9,116.0 L47.2,117.1 L48.9,117.3 L50.5,118.2 L52.7,120.1 L53.6,122.1 L54.3,123.8 L67.5,122.8 L87.6,130.5 L103.4,130.5 L103.4,128.0 L112.7,128.0 L114.5,129.8 L117.8,132.0 L121.1,134.1 L123.3,137.3 L124.4,140.1 L127.7,141.7 L130.5,143.4 L132.7,142.3 L133.8,139.2 L136.0,138.7 L140.9,139.1 L143.7,141.2 L145.3,144.0 L147.0,147.3 L149.2,150.0 L151.4,151.7 L152.0,154.5 L153.6,157.2 L156.4,158.6 L158.6,159.7 L161.9,160.3 L164.4,160.3 L163.5,157.8 L163.0,155.0 L163.3,152.3 L164.6,150.0 L166.3,147.8 L169.0,146.2 L171.8,144.8 L175.1,143.1 L177.6,141.5 L180.1,140.1 L182.5,139.5 L186.1,139.2 L189.4,140.4 L192.2,140.1 L194.9,140.9 L197.2,142.0 L199.9,142.8 L202.7,142.8 L205.1,141.7 L207.3,143.4 L208.7,142.3 L207.3,140.6 L206.2,138.7 L206.0,137.0 L207.6,136.2 L210.4,135.6 L212.6,135.8 L214.2,135.9 L215.9,136.5 L218.6,135.9 L222.0,135.6 L224.7,135.9 L227.5,137.3 L229.4,139.5 L231.6,139.8 L234.6,138.4 L236.8,137.6 L239.0,139.0 L240.7,140.9 L242.9,142.8 L243.7,145.6 L243.5,148.9 L244.3,151.2 L245.1,153.4 L246.8,155.6 L248.7,158.1 L249.2,160.3 L251.4,162.0 L252.8,164.7 L255.0,164.5 L256.7,163.9 L257.0,162.2 L257.8,160.6 L258.3,157.8 L258.6,155.0 L257.8,152.8 L256.7,150.0 L255.6,147.3 L255.9,145.9 L254.2,143.4 L252.8,140.6 L251.7,137.9 L251.2,135.1 L250.9,133.4 L251.7,130.7 L252.5,128.4 L254.2,126.5 L256.1,124.8 L258.3,123.5 L260.8,121.8 L263.0,120.1 L264.4,118.2 L266.9,116.5 L269.9,116.3 L270.7,114.6 L272.9,112.7 L276.0,111.8 L278.2,111.5 L280.4,110.2 L282.6,109.1 L283.7,108.8 L283.7,106.8 L282.6,104.1 L281.8,101.6 L281.2,99.6 L282.3,97.4 L283.4,95.8 L284.8,93.5 L285.9,91.6 L286.2,89.1 L287.0,88.3 L287.8,86.9 L289.8,85.5 L291.4,83.6 L292.0,81.4 L292.0,80.0 L292.5,79.1 L294.7,79.1 L298.6,78.3 L302.4,77.2 L303.8,76.5 L301.3,76.5 L298.0,77.0 L294.2,77.4 L293.3,76.9 L295.8,76.3 L298.0,75.5 L301.3,75.4 L303.8,75.1 L306.0,74.7 L307.9,74.2 L310.1,74.0 L311.5,73.9 L314.0,73.3 L314.3,71.7 L313.5,70.9 L312.6,71.7 L311.0,71.9 L310.1,70.3 L308.8,69.4 L309.3,68.3 L310.7,67.8 L309.6,66.4 L310.4,65.3 L311.5,63.9 L312.9,62.5 L314.8,61.4 L316.8,60.6 L319.5,59.7 L320.6,58.4 L322.5,58.9 L324.5,58.4 L326.7,57.5 L328.9,57.0 L330.8,55.8 L330.0,54.2 L328.1,51.4 L326.1,50.9 L326.2,43.3 L323.7,41.7 L321.7,42.3 L320.1,42.6 L318.3,41.1 L316.2,43.1 L314.0,45.3 L312.6,48.7 L312.4,49.8 L309.6,52.5 L308.1,53.1 L305.7,54.7 L297.5,54.7 L288.1,54.8 L284.8,55.9 L281.5,58.1 L278.7,59.7 L276.5,62.2 L272.7,62.4 L267.2,62.4 L263.3,63.3 L264.1,65.3 L264.7,66.5 L260.0,68.3 L256.1,68.9 L251.7,70.3 L248.4,71.7 L244.6,72.8 L241.8,71.4 L241.5,69.7 L244.6,68.3 L245.4,65.8 L247.0,62.5 L245.1,57.5 L245.1,53.1 L240.1,50.3 L239.0,48.7 L236.3,47.8 L234.1,46.5 L232.4,44.8 L228.0,41.5 L222.5,39.2 L217.5,37.6 L212.6,36.5 L207.6,37.9 L206.0,38.1 L203.8,37.6 L199.4,37.0 L195.5,37.9 L191.1,36.2 L187.8,34.7 L185.0,34.8 L182.8,35.3 L178.4,34.2 L177.9,32.6 L177.3,30.9 L175.4,30.5 L175.4,32.6 L126.6,32.6 L93.5,32.6 L60.5,32.6 L23.2,32.6 L23.2,34.0 L24.6,35.6 L24.1,38.1 L21.9,37.6 L19.1,37.3 L15.3,36.5Z" fill="#e1e1f7"/>
<g filter="url(#rough)">
<path d="M5.3,29.8 L25.7,29.8 L25.7,38.1 L25.2,43.7 L25.7,49.2 L25.2,54.8 L24.1,60.3 L23.5,65.8 L24.6,69.7 L26.8,73.0 L29.6,76.9 L31.8,80.8 L33.4,85.2 L35.7,90.2 L37.9,94.6 L41.2,99.1 L43.9,103.5 L45.6,107.4 L45.6,110.7 L49.4,112.9 L54.9,114.6 L57.1,118.5 L57.7,124.6 L57.7,132.3 L5.3,132.3Z" fill="#dcf4f3"/>
<path d="M147.0,99.1 L165.2,99.1 L181.7,98.8 L198.3,96.0 L214.8,95.8 L231.3,95.2 L242.4,94.1 L251.2,94.1 L257.2,95.8 L262.7,93.5 L268.3,88.6 L273.8,85.8 L280.9,81.9 L287.5,80.2 L292.0,78.0 L296.4,76.4 L304.1,74.4 L311.3,73.0 L316.8,74.2 L314.0,88.0 L292.0,99.1 L264.4,171.1 L165.2,171.1 L162.4,158.4 L158.0,146.7 L151.4,129.0 L148.6,115.7Z" fill="#dcf4f3"/>
<path d="M35.7,29.8 L133.2,29.8 L133.2,32.6 L137.6,40.9 L146.4,51.4 L143.1,60.3 L138.2,66.4 L142.0,76.9 L145.3,86.3 L148.1,99.1 L148.6,115.7 L151.4,129.0 L158.0,146.7 L162.4,158.4 L165.2,165.6 L115.6,148.9 L59.4,132.3 L59.4,123.5 L58.8,119.0 L56.0,115.7 L50.0,114.0 L46.7,111.3 L47.8,107.4 L48.9,101.8 L44.5,94.6 L40.1,89.1 L37.9,84.1 L35.1,79.1 L32.3,74.7 L30.7,70.3 L31.2,63.6 L32.3,58.1 L33.4,52.0 L35.7,47.6 L35.7,42.0 L37.9,38.1 L36.2,33.7Z" fill="#f5d2f3"/>
<path d="M35.7,103.0 L40.6,100.7 L43.9,105.2 L44.7,109.1 L41.2,110.2 L37.3,106.8Z" fill="#f5d2f3"/>
<path d="M53.8,29.8 L79.7,29.8 L78.1,36.5 L75.3,42.0 L79.2,47.0 L82.5,51.4 L86.9,54.8 L90.8,55.3 L93.5,58.1 L91.9,62.5 L88.0,64.2 L84.7,60.3 L79.7,58.6 L74.2,59.2 L68.7,60.9 L63.2,61.4 L58.8,58.6 L56.0,54.8 L53.3,50.3 L54.9,46.5 L54.9,40.9Z" fill="#e1e1f7"/>
<path d="M44.5,51.4 L50.5,49.8 L54.9,53.1 L53.3,57.0 L46.7,58.1 L42.3,55.9Z" fill="#e1e1f7"/>
<path d="M105.7,54.8 L110.1,54.8 L111.2,60.3 L107.3,60.3Z" fill="#e1e1f7"/>
<path d="M93.5,63.1 L99.0,64.2 L100.7,68.1 L95.7,69.2Z" fill="#e1e1f7"/>
<path d="M83.1,71.4 L86.9,74.2 L93.5,77.5 L107.3,75.3 L115.6,75.8 L120.0,79.1 L121.1,85.2 L120.5,92.4 L121.1,99.1 L119.4,104.6 L116.7,107.4 L112.3,105.7 L110.6,100.7 L105.7,96.9 L101.2,92.4 L102.9,86.3 L99.0,83.0 L90.8,83.6 L86.4,88.0 L84.2,83.6 L83.1,76.9Z" fill="#e1e1f7"/>
<path d="M125.5,56.4 L130.5,56.4 L130.5,62.5 L126.0,62.5Z" fill="#e1e1f7"/>
<path d="M81.4,107.9 L86.9,109.1 L92.4,112.9 L95.7,114.6 L94.6,116.3 L89.1,113.5 L83.6,110.7Z" fill="#e1e1f7"/>
<path d="M112.8,100.2 L120.0,99.6 L119.4,106.8 L116.1,105.7Z" fill="#e1e1f7"/>
</g>
<path d="M249.0,158.4 L258.6,156.7 L259.4,166.1 L250.6,166.1Z" fill="#fbe3ec"/>
<path d="M16.1,47.8 L19.7,48.1 L22.4,48.9 L23.2,51.2 L26.3,51.7 L31.8,51.2 L35.7,50.9 L40.6,49.7 L44.0,49.2 L55.4,49.2 M54.7,32.6 L54.7,46.9 L55.4,49.2 M55.4,49.2 L56.9,51.4 L57.7,53.1 L56.3,54.8 L55.2,57.0 L53.8,58.6 L55.2,59.7 L54.8,61.4 L54.8,71.4 M15.3,71.4 L87.7,71.4 M38.4,71.4 L38.4,88.0 L68.0,110.2 L68.2,111.3 L69.3,114.0 L68.2,116.0 L67.6,119.0 L68.4,121.2 L67.5,122.8 M68.0,110.2 L68.1,106.8 L67.3,104.3 L71.2,103.5 L71.2,99.1 M71.3,71.4 L71.2,99.1 M71.2,99.1 L178.3,99.1 M98.8,99.1 L98.8,130.5 M98.8,99.1 L98.8,76.9 M87.7,71.4 L87.7,76.9 L126.3,76.9 M87.7,71.4 L87.7,57.5 L85.8,56.4 L80.8,57.3 L78.1,58.1 L74.8,55.3 L72.0,51.4 L68.7,51.4 L69.3,48.7 L67.6,45.3 L64.3,42.6 L62.1,41.2 L60.2,38.3 L60.2,32.6 M87.7,57.5 L87.7,54.8 L126.3,54.8 M126.3,76.9 L126.3,54.8 M126.3,54.8 L126.3,32.6 M126.3,49.6 L167.6,49.6 M137.3,99.1 L137.3,76.9 M137.3,76.9 L126.3,76.9 M137.3,82.5 L174.6,82.5 M126.3,65.8 L156.9,65.8 L160.8,66.7 L164.1,66.7 L166.8,67.8 L168.2,68.6 M131.8,99.1 L131.8,126.8 L112.2,126.8 L112.7,128.0 M131.8,101.8 L148.6,101.8 L148.6,112.6 L152.0,113.5 L156.4,114.9 L159.7,115.7 L164.1,117.1 L167.4,116.5 L170.7,116.5 L174.6,116.4 L179.0,117.9 L181.4,118.2 M181.4,118.2 L181.4,121.2 L181.4,126.8 L182.8,129.6 L183.9,132.3 L183.4,135.6 L182.5,139.5 M178.3,101.8 L179.3,107.9 L179.1,117.7 M178.3,99.1 L178.3,101.8 M178.3,99.1 L178.4,87.4 L176.8,84.7 L174.6,82.5 L172.9,80.8 L172.0,79.2 M172.0,79.2 L194.2,79.1 L195.9,80.4 M172.0,79.2 L171.5,75.8 L170.4,73.6 L169.9,70.8 L168.2,68.6 M168.2,68.6 L167.4,65.8 L168.2,63.1 L197.0,63.1 M168.2,63.1 L168.2,53.1 L167.6,49.6 L166.6,45.9 L166.0,40.9 L164.4,36.5 L163.9,32.6 M191.6,45.3 L191.1,48.7 L188.3,51.4 L188.6,55.9 L192.7,58.1 L195.5,60.3 L197.0,63.1 M197.0,63.1 L197.4,66.9 L200.2,68.6 L202.7,72.2 L201.0,74.2 L198.3,75.8 L197.7,78.6 L195.9,80.4 L196.0,82.5 L198.8,85.8 L200.5,88.0 L202.9,89.1 L202.4,91.9 L205.4,94.6 L206.5,97.4 L208.5,99.1 M178.3,101.8 L202.9,101.8 L201.8,103.0 L203.2,104.6 L205.4,104.6 M208.5,99.1 L206.8,101.8 L205.4,104.6 M205.4,104.6 L203.8,109.6 L202.1,112.4 L198.8,115.7 L197.7,119.0 L197.4,121.2 L197.4,124.6 L196.0,127.9 L194.9,132.3 L205.3,132.3 L206.0,134.5 L206.0,137.0 M181.4,121.2 L197.4,121.2 M202.1,110.2 L235.2,110.2 M213.7,110.2 L212.6,127.3 L212.6,135.8 M228.0,110.2 L230.2,122.3 L231.3,125.1 L230.8,129.0 L231.3,132.3 L231.9,134.0 L242.4,134.5 L246.8,134.7 L247.9,133.7 L250.9,134.0 M217.0,132.3 L231.3,132.3 M217.0,132.3 L217.8,134.5 L217.8,136.2 M241.8,110.2 L243.5,111.8 L245.7,114.6 L248.4,118.5 L250.6,121.2 L252.8,124.6 L253.9,126.5 M235.2,110.2 L241.8,110.2 L245.7,109.1 L253.1,109.3 L253.9,110.2 L257.2,111.2 L260.5,111.3 L266.9,116.5 M235.2,110.2 L236.8,108.8 L239.6,107.1 L242.9,104.9 L246.2,104.1 L249.8,101.3 M206.8,101.8 L214.5,101.8 L214.5,100.9 L238.7,101.3 L249.8,101.3 M249.8,101.3 L281.7,101.6 M238.7,101.3 L243.5,99.1 L246.2,97.4 L248.0,96.1 L246.2,94.6 L244.6,92.6 M244.6,92.6 L246.8,90.2 L249.0,88.0 L251.7,86.1 L254.2,84.1 L255.6,80.8 L256.0,78.9 M244.6,92.6 L241.8,89.9 L238.5,89.9 L234.6,88.6 L232.3,87.4 L229.1,89.5 L226.4,92.4 L223.6,93.5 L220.9,93.8 L217.0,93.8 L214.5,94.6 L213.7,96.9 L212.0,98.5 L208.5,99.1 M217.4,72.7 L217.4,86.1 L217.0,88.6 L217.3,90.2 L215.3,92.2 L214.5,94.6 M232.3,73.0 L232.3,87.4 M217.4,72.7 L232.3,73.0 L239.9,72.9 M256.0,69.7 L256.0,84.0 L261.8,84.0 L261.8,86.9 L263.8,85.5 L266.1,84.7 L268.3,84.4 L271.0,85.0 L271.6,86.2 M271.6,86.2 L268.8,87.2 L267.7,88.6 L264.9,90.2 L261.6,91.9 L260.0,93.5 L257.2,96.3 L254.2,97.1 L251.2,97.4 L248.0,96.1 M261.8,84.0 L282.1,84.0 L282.1,91.0 L286.2,91.0 M271.6,86.2 L272.9,87.4 L275.1,88.8 L274.3,91.3 L276.0,93.0 L279.6,93.8 M282.1,84.0 L284.2,83.4 L285.9,82.5 L287.8,81.4 L286.4,79.7 L285.6,77.8 L288.1,75.0 M256.0,71.4 L284.5,71.4 L285.9,72.5 L288.1,75.0 M288.1,75.0 L292.5,76.9 M293.9,76.9 L294.7,75.3 L294.7,71.1 L296.0,67.2 L295.8,62.5 L295.5,54.7 M294.7,71.1 L304.1,71.3 L306.4,71.3 M304.1,71.3 L303.8,75.1 M306.4,71.3 L306.6,72.8 L307.9,74.2 M296.0,67.2 L306.8,67.5 L309.0,66.5 M300.5,67.3 L300.8,64.2 L303.0,60.3 L305.2,57.0 L305.7,54.7 M310.1,65.4 L308.6,62.8 L308.2,57.5 L308.1,53.1 M205.6,37.6 L201.2,46.0 L203.2,47.3 L207.1,48.1 L211.5,49.2 L214.2,50.3 L215.3,51.2 L217.0,54.3 L224.0,53.4 L220.1,60.4 L219.2,66.6 L217.4,72.7 M200.2,68.6 L215.9,68.6" fill="none" stroke="#4a4a5e" stroke-opacity="0.32" stroke-width="0.9"/>
</g>
<path d="M12.3,36.0 L12.9,37.9 L14.3,39.8 L15.5,42.6 L15.8,44.2 L16.4,45.9 L16.1,47.8 L16.6,50.3 L16.6,52.5 L16.1,55.3 L15.8,58.1 L15.5,60.9 L14.7,63.6 L13.9,65.8 L13.3,66.9 L14.2,69.2 L15.3,71.4 L15.5,73.6 L16.1,75.8 L15.3,78.0 L14.2,80.0 L16.4,82.5 L17.5,84.1 L17.7,86.9 L18.6,88.6 L21.3,91.3 L22.1,93.3 L24.6,94.6 L24.6,96.3 L25.2,98.0 L27.4,99.4 L28.5,100.7 L27.7,101.8 L29.6,104.1 L31.8,106.3 L33.4,107.9 L34.8,110.2 L35.1,112.4 L35.8,113.2 L38.4,113.2 L41.2,113.6 L42.8,114.6 L45.0,115.6 L46.9,116.0 L47.2,117.1 L48.9,117.3 L50.5,118.2 L52.7,120.1 L53.6,122.1 L54.3,123.8 L67.5,122.8 L87.6,130.5 L103.4,130.5 L103.4,128.0 L112.7,128.0 L114.5,129.8 L117.8,132.0 L121.1,134.1 L123.3,137.3 L124.4,140.1 L127.7,141.7 L130.5,143.4 L132.7,142.3 L133.8,139.2 L136.0,138.7 L140.9,139.1 L143.7,141.2 L145.3,144.0 L147.0,147.3 L149.2,150.0 L151.4,151.7 L152.0,154.5 L153.6,157.2 L156.4,158.6 L158.6,159.7 L161.9,160.3 L164.4,160.3 L163.5,157.8 L163.0,155.0 L163.3,152.3 L164.6,150.0 L166.3,147.8 L169.0,146.2 L171.8,144.8 L175.1,143.1 L177.6,141.5 L180.1,140.1 L182.5,139.5 L186.1,139.2 L189.4,140.4 L192.2,140.1 L194.9,140.9 L197.2,142.0 L199.9,142.8 L202.7,142.8 L205.1,141.7 L207.3,143.4 L208.7,142.3 L207.3,140.6 L206.2,138.7 L206.0,137.0 L207.6,136.2 L210.4,135.6 L212.6,135.8 L214.2,135.9 L215.9,136.5 L218.6,135.9 L222.0,135.6 L224.7,135.9 L227.5,137.3 L229.4,139.5 L231.6,139.8 L234.6,138.4 L236.8,137.6 L239.0,139.0 L240.7,140.9 L242.9,142.8 L243.7,145.6 L243.5,148.9 L244.3,151.2 L245.1,153.4 L246.8,155.6 L248.7,158.1 L249.2,160.3 L251.4,162.0 L252.8,164.7 L255.0,164.5 L256.7,163.9 L257.0,162.2 L257.8,160.6 L258.3,157.8 L258.6,155.0 L257.8,152.8 L256.7,150.0 L255.6,147.3 L255.9,145.9 L254.2,143.4 L252.8,140.6 L251.7,137.9 L251.2,135.1 L250.9,133.4 L251.7,130.7 L252.5,128.4 L254.2,126.5 L256.1,124.8 L258.3,123.5 L260.8,121.8 L263.0,120.1 L264.4,118.2 L266.9,116.5 L269.9,116.3 L270.7,114.6 L272.9,112.7 L276.0,111.8 L278.2,111.5 L280.4,110.2 L282.6,109.1 L283.7,108.8 L283.7,106.8 L282.6,104.1 L281.8,101.6 L281.2,99.6 L282.3,97.4 L283.4,95.8 L284.8,93.5 L285.9,91.6 L286.2,89.1 L287.0,88.3 L287.8,86.9 L289.8,85.5 L291.4,83.6 L292.0,81.4 L292.0,80.0 L292.5,79.1 L294.7,79.1 L298.6,78.3 L302.4,77.2 L303.8,76.5 L301.3,76.5 L298.0,77.0 L294.2,77.4 L293.3,76.9 L295.8,76.3 L298.0,75.5 L301.3,75.4 L303.8,75.1 L306.0,74.7 L307.9,74.2 L310.1,74.0 L311.5,73.9 L314.0,73.3 L314.3,71.7 L313.5,70.9 L312.6,71.7 L311.0,71.9 L310.1,70.3 L308.8,69.4 L309.3,68.3 L310.7,67.8 L309.6,66.4 L310.4,65.3 L311.5,63.9 L312.9,62.5 L314.8,61.4 L316.8,60.6 L319.5,59.7 L320.6,58.4 L322.5,58.9 L324.5,58.4 L326.7,57.5 L328.9,57.0 L330.8,55.8 L330.0,54.2 L328.1,51.4 L326.1,50.9 L326.2,43.3 L323.7,41.7 L321.7,42.3 L320.1,42.6 L318.3,41.1 L316.2,43.1 L314.0,45.3 L312.6,48.7 L312.4,49.8 L309.6,52.5 L308.1,53.1 L305.7,54.7 L297.5,54.7 L288.1,54.8 L284.8,55.9 L281.5,58.1 L278.7,59.7 L276.5,62.2 L272.7,62.4 L267.2,62.4 L263.3,63.3 L264.1,65.3 L264.7,66.5 L260.0,68.3 L256.1,68.9 L251.7,70.3 L248.4,71.7 L244.6,72.8 L241.8,71.4 L241.5,69.7 L244.6,68.3 L245.4,65.8 L247.0,62.5 L245.1,57.5 L245.1,53.1 L240.1,50.3 L239.0,48.7 L236.3,47.8 L234.1,46.5 L232.4,44.8 L228.0,41.5 L222.5,39.2 L217.5,37.6 L212.6,36.5 L207.6,37.9 L206.0,38.1 L203.8,37.6 L199.4,37.0 L195.5,37.9 L191.1,36.2 L187.8,34.7 L185.0,34.8 L182.8,35.3 L178.4,34.2 L177.9,32.6 L177.3,30.9 L175.4,30.5 L175.4,32.6 L126.6,32.6 L93.5,32.6 L60.5,32.6 L23.2,32.6 L23.2,34.0 L24.6,35.6 L24.1,38.1 L21.9,37.6 L19.1,37.3 L15.3,36.5Z" fill="none" stroke="#8c8c8c" stroke-width="0.6"/>
<path d="M191.1,140.4 L194.9,140.9 L197.2,142.0 L198.8,142.6 L199.9,143.1 L201.6,142.3 L202.7,143.0 L204.0,142.0 L205.1,141.7 L207.3,143.4 L208.7,142.3 L207.3,140.6 L206.2,138.7 L207.1,137.6 M280.9,99.4 L279.0,97.7 L279.6,95.8 L279.3,94.1 L278.2,91.9 L278.7,89.1 L278.5,86.9 L280.7,85.0 M281.2,98.2 L281.8,95.8 L281.2,93.0 L279.8,91.6 L280.7,89.1 L279.8,86.9 L280.9,85.8 M279.3,93.3 L276.5,91.9 L274.9,89.7 M279.3,99.1 L276.5,97.7 M286.2,89.1 L284.5,87.2 L283.4,85.2 M278.2,111.0 L279.8,108.5 L278.2,106.8 L280.9,105.2 L280.4,103.5 L281.5,101.8 M310.1,65.3 L311.5,63.9 L312.9,62.2 L314.0,62.0 L314.8,61.1 L315.7,61.4 L316.8,60.6 L317.9,60.9 L319.5,59.7 L320.1,58.6 L321.2,58.9 L322.5,58.9 L323.4,58.1 L324.5,58.4 L325.6,57.8 L326.7,57.5 L327.8,57.5 L328.9,57.0 L330.8,55.8 M23.2,34.0 L24.6,35.6 L24.1,38.1 L25.2,40.4 L24.6,42.0 L22.4,43.1 L23.5,40.4 L23.0,37.9 M256.7,164.5 L255.6,165.8 L253.4,166.9 L250.6,167.8 L249.0,168.1 M243.5,167.5 L242.6,167.7 M24.6,94.6 L25.7,93.8 L26.8,95.8 L25.2,95.2 M36.8,115.6 L40.6,115.7 M46.1,118.7 L47.8,119.3 M41.2,119.9 L41.7,120.1 M46.4,121.5 L46.9,122.3 M164.1,160.0 L163.5,155.6 L163.8,151.7 L165.2,149.5 M176.8,141.7 L177.9,140.1 L176.2,139.5 M214.2,135.9 L214.8,134.0 L215.3,135.6 M244.0,151.7 L245.1,149.5 L244.6,150.6 M314.0,73.3 L314.3,71.7 L313.5,70.9 L312.6,71.7 L311.0,71.9 M293.3,76.9 L295.8,76.3 L298.0,75.5 L301.3,75.4 M306.3,74.4 L306.8,73.0 L307.4,74.2 M21.0,35.1 L22.1,34.3 L23.0,34.8 M15.8,44.0 L16.9,44.2 M16.4,45.9 L16.6,47.0 M15.3,63.6 L15.8,64.2" fill="none" stroke="#3a3a3a" stroke-width="0.7" stroke-linejoin="round"/>
<path d="M310.1,65.3 L311.3,64.2 L312.1,63.3 L312.9,62.2 L313.7,62.2 L314.6,61.1 L315.4,61.7 L316.2,60.6 L317.0,61.1 L317.9,60.3 L319.2,60.0 L319.8,58.6 L320.9,59.2 L321.7,58.4 L322.8,59.2 L323.7,57.8 L324.8,58.6 L325.6,57.5 L326.7,57.8 L327.8,57.0 L328.9,57.3 L330.0,56.1 L330.8,55.8" fill="none" stroke="#333" stroke-width="1.2" stroke-linejoin="round"/></g>
<g transform="translate(12,482.3)"><clipPath id="clipe"><path d="M12.3,36.0 L12.9,37.9 L14.3,39.8 L15.5,42.6 L15.8,44.2 L16.4,45.9 L16.1,47.8 L16.6,50.3 L16.6,52.5 L16.1,55.3 L15.8,58.1 L15.5,60.9 L14.7,63.6 L13.9,65.8 L13.3,66.9 L14.2,69.2 L15.3,71.4 L15.5,73.6 L16.1,75.8 L15.3,78.0 L14.2,80.0 L16.4,82.5 L17.5,84.1 L17.7,86.9 L18.6,88.6 L21.3,91.3 L22.1,93.3 L24.6,94.6 L24.6,96.3 L25.2,98.0 L27.4,99.4 L28.5,100.7 L27.7,101.8 L29.6,104.1 L31.8,106.3 L33.4,107.9 L34.8,110.2 L35.1,112.4 L35.8,113.2 L38.4,113.2 L41.2,113.6 L42.8,114.6 L45.0,115.6 L46.9,116.0 L47.2,117.1 L48.9,117.3 L50.5,118.2 L52.7,120.1 L53.6,122.1 L54.3,123.8 L67.5,122.8 L87.6,130.5 L103.4,130.5 L103.4,128.0 L112.7,128.0 L114.5,129.8 L117.8,132.0 L121.1,134.1 L123.3,137.3 L124.4,140.1 L127.7,141.7 L130.5,143.4 L132.7,142.3 L133.8,139.2 L136.0,138.7 L140.9,139.1 L143.7,141.2 L145.3,144.0 L147.0,147.3 L149.2,150.0 L151.4,151.7 L152.0,154.5 L153.6,157.2 L156.4,158.6 L158.6,159.7 L161.9,160.3 L164.4,160.3 L163.5,157.8 L163.0,155.0 L163.3,152.3 L164.6,150.0 L166.3,147.8 L169.0,146.2 L171.8,144.8 L175.1,143.1 L177.6,141.5 L180.1,140.1 L182.5,139.5 L186.1,139.2 L189.4,140.4 L192.2,140.1 L194.9,140.9 L197.2,142.0 L199.9,142.8 L202.7,142.8 L205.1,141.7 L207.3,143.4 L208.7,142.3 L207.3,140.6 L206.2,138.7 L206.0,137.0 L207.6,136.2 L210.4,135.6 L212.6,135.8 L214.2,135.9 L215.9,136.5 L218.6,135.9 L222.0,135.6 L224.7,135.9 L227.5,137.3 L229.4,139.5 L231.6,139.8 L234.6,138.4 L236.8,137.6 L239.0,139.0 L240.7,140.9 L242.9,142.8 L243.7,145.6 L243.5,148.9 L244.3,151.2 L245.1,153.4 L246.8,155.6 L248.7,158.1 L249.2,160.3 L251.4,162.0 L252.8,164.7 L255.0,164.5 L256.7,163.9 L257.0,162.2 L257.8,160.6 L258.3,157.8 L258.6,155.0 L257.8,152.8 L256.7,150.0 L255.6,147.3 L255.9,145.9 L254.2,143.4 L252.8,140.6 L251.7,137.9 L251.2,135.1 L250.9,133.4 L251.7,130.7 L252.5,128.4 L254.2,126.5 L256.1,124.8 L258.3,123.5 L260.8,121.8 L263.0,120.1 L264.4,118.2 L266.9,116.5 L269.9,116.3 L270.7,114.6 L272.9,112.7 L276.0,111.8 L278.2,111.5 L280.4,110.2 L282.6,109.1 L283.7,108.8 L283.7,106.8 L282.6,104.1 L281.8,101.6 L281.2,99.6 L282.3,97.4 L283.4,95.8 L284.8,93.5 L285.9,91.6 L286.2,89.1 L287.0,88.3 L287.8,86.9 L289.8,85.5 L291.4,83.6 L292.0,81.4 L292.0,80.0 L292.5,79.1 L294.7,79.1 L298.6,78.3 L302.4,77.2 L303.8,76.5 L301.3,76.5 L298.0,77.0 L294.2,77.4 L293.3,76.9 L295.8,76.3 L298.0,75.5 L301.3,75.4 L303.8,75.1 L306.0,74.7 L307.9,74.2 L310.1,74.0 L311.5,73.9 L314.0,73.3 L314.3,71.7 L313.5,70.9 L312.6,71.7 L311.0,71.9 L310.1,70.3 L308.8,69.4 L309.3,68.3 L310.7,67.8 L309.6,66.4 L310.4,65.3 L311.5,63.9 L312.9,62.5 L314.8,61.4 L316.8,60.6 L319.5,59.7 L320.6,58.4 L322.5,58.9 L324.5,58.4 L326.7,57.5 L328.9,57.0 L330.8,55.8 L330.0,54.2 L328.1,51.4 L326.1,50.9 L326.2,43.3 L323.7,41.7 L321.7,42.3 L320.1,42.6 L318.3,41.1 L316.2,43.1 L314.0,45.3 L312.6,48.7 L312.4,49.8 L309.6,52.5 L308.1,53.1 L305.7,54.7 L297.5,54.7 L288.1,54.8 L284.8,55.9 L281.5,58.1 L278.7,59.7 L276.5,62.2 L272.7,62.4 L267.2,62.4 L263.3,63.3 L264.1,65.3 L264.7,66.5 L260.0,68.3 L256.1,68.9 L251.7,70.3 L248.4,71.7 L244.6,72.8 L241.8,71.4 L241.5,69.7 L244.6,68.3 L245.4,65.8 L247.0,62.5 L245.1,57.5 L245.1,53.1 L240.1,50.3 L239.0,48.7 L236.3,47.8 L234.1,46.5 L232.4,44.8 L228.0,41.5 L222.5,39.2 L217.5,37.6 L212.6,36.5 L207.6,37.9 L206.0,38.1 L203.8,37.6 L199.4,37.0 L195.5,37.9 L191.1,36.2 L187.8,34.7 L185.0,34.8 L182.8,35.3 L178.4,34.2 L177.9,32.6 L177.3,30.9 L175.4,30.5 L175.4,32.6 L126.6,32.6 L93.5,32.6 L60.5,32.6 L23.2,32.6 L23.2,34.0 L24.6,35.6 L24.1,38.1 L21.9,37.6 L19.1,37.3 L15.3,36.5Z"/></clipPath>
<g clip-path="url(#clipe)">
<path d="M12.3,36.0 L12.9,37.9 L14.3,39.8 L15.5,42.6 L15.8,44.2 L16.4,45.9 L16.1,47.8 L16.6,50.3 L16.6,52.5 L16.1,55.3 L15.8,58.1 L15.5,60.9 L14.7,63.6 L13.9,65.8 L13.3,66.9 L14.2,69.2 L15.3,71.4 L15.5,73.6 L16.1,75.8 L15.3,78.0 L14.2,80.0 L16.4,82.5 L17.5,84.1 L17.7,86.9 L18.6,88.6 L21.3,91.3 L22.1,93.3 L24.6,94.6 L24.6,96.3 L25.2,98.0 L27.4,99.4 L28.5,100.7 L27.7,101.8 L29.6,104.1 L31.8,106.3 L33.4,107.9 L34.8,110.2 L35.1,112.4 L35.8,113.2 L38.4,113.2 L41.2,113.6 L42.8,114.6 L45.0,115.6 L46.9,116.0 L47.2,117.1 L48.9,117.3 L50.5,118.2 L52.7,120.1 L53.6,122.1 L54.3,123.8 L67.5,122.8 L87.6,130.5 L103.4,130.5 L103.4,128.0 L112.7,128.0 L114.5,129.8 L117.8,132.0 L121.1,134.1 L123.3,137.3 L124.4,140.1 L127.7,141.7 L130.5,143.4 L132.7,142.3 L133.8,139.2 L136.0,138.7 L140.9,139.1 L143.7,141.2 L145.3,144.0 L147.0,147.3 L149.2,150.0 L151.4,151.7 L152.0,154.5 L153.6,157.2 L156.4,158.6 L158.6,159.7 L161.9,160.3 L164.4,160.3 L163.5,157.8 L163.0,155.0 L163.3,152.3 L164.6,150.0 L166.3,147.8 L169.0,146.2 L171.8,144.8 L175.1,143.1 L177.6,141.5 L180.1,140.1 L182.5,139.5 L186.1,139.2 L189.4,140.4 L192.2,140.1 L194.9,140.9 L197.2,142.0 L199.9,142.8 L202.7,142.8 L205.1,141.7 L207.3,143.4 L208.7,142.3 L207.3,140.6 L206.2,138.7 L206.0,137.0 L207.6,136.2 L210.4,135.6 L212.6,135.8 L214.2,135.9 L215.9,136.5 L218.6,135.9 L222.0,135.6 L224.7,135.9 L227.5,137.3 L229.4,139.5 L231.6,139.8 L234.6,138.4 L236.8,137.6 L239.0,139.0 L240.7,140.9 L242.9,142.8 L243.7,145.6 L243.5,148.9 L244.3,151.2 L245.1,153.4 L246.8,155.6 L248.7,158.1 L249.2,160.3 L251.4,162.0 L252.8,164.7 L255.0,164.5 L256.7,163.9 L257.0,162.2 L257.8,160.6 L258.3,157.8 L258.6,155.0 L257.8,152.8 L256.7,150.0 L255.6,147.3 L255.9,145.9 L254.2,143.4 L252.8,140.6 L251.7,137.9 L251.2,135.1 L250.9,133.4 L251.7,130.7 L252.5,128.4 L254.2,126.5 L256.1,124.8 L258.3,123.5 L260.8,121.8 L263.0,120.1 L264.4,118.2 L266.9,116.5 L269.9,116.3 L270.7,114.6 L272.9,112.7 L276.0,111.8 L278.2,111.5 L280.4,110.2 L282.6,109.1 L283.7,108.8 L283.7,106.8 L282.6,104.1 L281.8,101.6 L281.2,99.6 L282.3,97.4 L283.4,95.8 L284.8,93.5 L285.9,91.6 L286.2,89.1 L287.0,88.3 L287.8,86.9 L289.8,85.5 L291.4,83.6 L292.0,81.4 L292.0,80.0 L292.5,79.1 L294.7,79.1 L298.6,78.3 L302.4,77.2 L303.8,76.5 L301.3,76.5 L298.0,77.0 L294.2,77.4 L293.3,76.9 L295.8,76.3 L298.0,75.5 L301.3,75.4 L303.8,75.1 L306.0,74.7 L307.9,74.2 L310.1,74.0 L311.5,73.9 L314.0,73.3 L314.3,71.7 L313.5,70.9 L312.6,71.7 L311.0,71.9 L310.1,70.3 L308.8,69.4 L309.3,68.3 L310.7,67.8 L309.6,66.4 L310.4,65.3 L311.5,63.9 L312.9,62.5 L314.8,61.4 L316.8,60.6 L319.5,59.7 L320.6,58.4 L322.5,58.9 L324.5,58.4 L326.7,57.5 L328.9,57.0 L330.8,55.8 L330.0,54.2 L328.1,51.4 L326.1,50.9 L326.2,43.3 L323.7,41.7 L321.7,42.3 L320.1,42.6 L318.3,41.1 L316.2,43.1 L314.0,45.3 L312.6,48.7 L312.4,49.8 L309.6,52.5 L308.1,53.1 L305.7,54.7 L297.5,54.7 L288.1,54.8 L284.8,55.9 L281.5,58.1 L278.7,59.7 L276.5,62.2 L272.7,62.4 L267.2,62.4 L263.3,63.3 L264.1,65.3 L264.7,66.5 L260.0,68.3 L256.1,68.9 L251.7,70.3 L248.4,71.7 L244.6,72.8 L241.8,71.4 L241.5,69.7 L244.6,68.3 L245.4,65.8 L247.0,62.5 L245.1,57.5 L245.1,53.1 L240.1,50.3 L239.0,48.7 L236.3,47.8 L234.1,46.5 L232.4,44.8 L228.0,41.5 L222.5,39.2 L217.5,37.6 L212.6,36.5 L207.6,37.9 L206.0,38.1 L203.8,37.6 L199.4,37.0 L195.5,37.9 L191.1,36.2 L187.8,34.7 L185.0,34.8 L182.8,35.3 L178.4,34.2 L177.9,32.6 L177.3,30.9 L175.4,30.5 L175.4,32.6 L126.6,32.6 L93.5,32.6 L60.5,32.6 L23.2,32.6 L23.2,34.0 L24.6,35.6 L24.1,38.1 L21.9,37.6 L19.1,37.3 L15.3,36.5Z" fill="#e1e1f7"/>
<g filter="url(#rough)">
<path d="M5.3,29.8 L25.7,29.8 L25.7,38.1 L25.2,43.7 L25.7,49.2 L25.2,54.8 L24.1,60.3 L23.5,65.8 L24.6,69.7 L26.8,73.0 L29.6,76.9 L31.8,80.8 L33.4,85.2 L35.7,90.2 L37.9,94.6 L41.2,99.1 L43.9,103.5 L45.6,107.4 L45.6,110.7 L49.4,112.9 L54.9,114.6 L57.1,118.5 L57.7,124.6 L57.7,132.3 L5.3,132.3Z" fill="#dcf4f3"/>
<path d="M147.0,99.1 L165.2,99.1 L181.7,98.8 L198.3,96.0 L214.8,95.8 L231.3,95.2 L242.4,94.1 L251.2,94.1 L257.2,95.8 L262.7,93.5 L268.3,88.6 L273.8,85.8 L280.9,81.9 L287.5,80.2 L292.0,78.0 L296.4,76.4 L304.1,74.4 L311.3,73.0 L316.8,74.2 L314.0,88.0 L292.0,99.1 L264.4,171.1 L165.2,171.1 L162.4,158.4 L158.0,146.7 L151.4,129.0 L148.6,115.7Z" fill="#dcf4f3"/>
<path d="M35.7,29.8 L133.2,29.8 L133.2,32.6 L137.6,40.9 L146.4,51.4 L143.1,60.3 L138.2,66.4 L142.0,76.9 L145.3,86.3 L148.1,99.1 L148.6,115.7 L151.4,129.0 L158.0,146.7 L162.4,158.4 L165.2,165.6 L115.6,148.9 L59.4,132.3 L59.4,123.5 L58.8,119.0 L56.0,115.7 L50.0,114.0 L46.7,111.3 L47.8,107.4 L48.9,101.8 L44.5,94.6 L40.1,89.1 L37.9,84.1 L35.1,79.1 L32.3,74.7 L30.7,70.3 L31.2,63.6 L32.3,58.1 L33.4,52.0 L35.7,47.6 L35.7,42.0 L37.9,38.1 L36.2,33.7Z" fill="#f5d2f3"/>
<path d="M35.7,103.0 L40.6,100.7 L43.9,105.2 L44.7,109.1 L41.2,110.2 L37.3,106.8Z" fill="#f5d2f3"/>
<path d="M53.8,29.8 L79.7,29.8 L78.1,36.5 L75.3,42.0 L79.2,47.0 L82.5,51.4 L86.9,54.8 L90.8,55.3 L93.5,58.1 L91.9,62.5 L88.0,64.2 L84.7,60.3 L79.7,58.6 L74.2,59.2 L68.7,60.9 L63.2,61.4 L58.8,58.6 L56.0,54.8 L53.3,50.3 L54.9,46.5 L54.9,40.9Z" fill="#e1e1f7"/>
<path d="M44.5,51.4 L50.5,49.8 L54.9,53.1 L53.3,57.0 L46.7,58.1 L42.3,55.9Z" fill="#e1e1f7"/>
<path d="M105.7,54.8 L110.1,54.8 L111.2,60.3 L107.3,60.3Z" fill="#e1e1f7"/>
<path d="M93.5,63.1 L99.0,64.2 L100.7,68.1 L95.7,69.2Z" fill="#e1e1f7"/>
<path d="M83.1,71.4 L86.9,74.2 L93.5,77.5 L107.3,75.3 L115.6,75.8 L120.0,79.1 L121.1,85.2 L120.5,92.4 L121.1,99.1 L119.4,104.6 L116.7,107.4 L112.3,105.7 L110.6,100.7 L105.7,96.9 L101.2,92.4 L102.9,86.3 L99.0,83.0 L90.8,83.6 L86.4,88.0 L84.2,83.6 L83.1,76.9Z" fill="#e1e1f7"/>
<path d="M125.5,56.4 L130.5,56.4 L130.5,62.5 L126.0,62.5Z" fill="#e1e1f7"/>
<path d="M81.4,107.9 L86.9,109.1 L92.4,112.9 L95.7,114.6 L94.6,116.3 L89.1,113.5 L83.6,110.7Z" fill="#e1e1f7"/>
<path d="M112.8,100.2 L120.0,99.6 L119.4,106.8 L116.1,105.7Z" fill="#e1e1f7"/>
</g>
<path d="M249.0,158.4 L258.6,156.7 L259.4,166.1 L250.6,166.1Z" fill="#fbe3ec"/>
<path d="M16.1,47.8 L19.7,48.1 L22.4,48.9 L23.2,51.2 L26.3,51.7 L31.8,51.2 L35.7,50.9 L40.6,49.7 L44.0,49.2 L55.4,49.2 M54.7,32.6 L54.7,46.9 L55.4,49.2 M55.4,49.2 L56.9,51.4 L57.7,53.1 L56.3,54.8 L55.2,57.0 L53.8,58.6 L55.2,59.7 L54.8,61.4 L54.8,71.4 M15.3,71.4 L87.7,71.4 M38.4,71.4 L38.4,88.0 L68.0,110.2 L68.2,111.3 L69.3,114.0 L68.2,116.0 L67.6,119.0 L68.4,121.2 L67.5,122.8 M68.0,110.2 L68.1,106.8 L67.3,104.3 L71.2,103.5 L71.2,99.1 M71.3,71.4 L71.2,99.1 M71.2,99.1 L178.3,99.1 M98.8,99.1 L98.8,130.5 M98.8,99.1 L98.8,76.9 M87.7,71.4 L87.7,76.9 L126.3,76.9 M87.7,71.4 L87.7,57.5 L85.8,56.4 L80.8,57.3 L78.1,58.1 L74.8,55.3 L72.0,51.4 L68.7,51.4 L69.3,48.7 L67.6,45.3 L64.3,42.6 L62.1,41.2 L60.2,38.3 L60.2,32.6 M87.7,57.5 L87.7,54.8 L126.3,54.8 M126.3,76.9 L126.3,54.8 M126.3,54.8 L126.3,32.6 M126.3,49.6 L167.6,49.6 M137.3,99.1 L137.3,76.9 M137.3,76.9 L126.3,76.9 M137.3,82.5 L174.6,82.5 M126.3,65.8 L156.9,65.8 L160.8,66.7 L164.1,66.7 L166.8,67.8 L168.2,68.6 M131.8,99.1 L131.8,126.8 L112.2,126.8 L112.7,128.0 M131.8,101.8 L148.6,101.8 L148.6,112.6 L152.0,113.5 L156.4,114.9 L159.7,115.7 L164.1,117.1 L167.4,116.5 L170.7,116.5 L174.6,116.4 L179.0,117.9 L181.4,118.2 M181.4,118.2 L181.4,121.2 L181.4,126.8 L182.8,129.6 L183.9,132.3 L183.4,135.6 L182.5,139.5 M178.3,101.8 L179.3,107.9 L179.1,117.7 M178.3,99.1 L178.3,101.8 M178.3,99.1 L178.4,87.4 L176.8,84.7 L174.6,82.5 L172.9,80.8 L172.0,79.2 M172.0,79.2 L194.2,79.1 L195.9,80.4 M172.0,79.2 L171.5,75.8 L170.4,73.6 L169.9,70.8 L168.2,68.6 M168.2,68.6 L167.4,65.8 L168.2,63.1 L197.0,63.1 M168.2,63.1 L168.2,53.1 L167.6,49.6 L166.6,45.9 L166.0,40.9 L164.4,36.5 L163.9,32.6 M191.6,45.3 L191.1,48.7 L188.3,51.4 L188.6,55.9 L192.7,58.1 L195.5,60.3 L197.0,63.1 M197.0,63.1 L197.4,66.9 L200.2,68.6 L202.7,72.2 L201.0,74.2 L198.3,75.8 L197.7,78.6 L195.9,80.4 L196.0,82.5 L198.8,85.8 L200.5,88.0 L202.9,89.1 L202.4,91.9 L205.4,94.6 L206.5,97.4 L208.5,99.1 M178.3,101.8 L202.9,101.8 L201.8,103.0 L203.2,104.6 L205.4,104.6 M208.5,99.1 L206.8,101.8 L205.4,104.6 M205.4,104.6 L203.8,109.6 L202.1,112.4 L198.8,115.7 L197.7,119.0 L197.4,121.2 L197.4,124.6 L196.0,127.9 L194.9,132.3 L205.3,132.3 L206.0,134.5 L206.0,137.0 M181.4,121.2 L197.4,121.2 M202.1,110.2 L235.2,110.2 M213.7,110.2 L212.6,127.3 L212.6,135.8 M228.0,110.2 L230.2,122.3 L231.3,125.1 L230.8,129.0 L231.3,132.3 L231.9,134.0 L242.4,134.5 L246.8,134.7 L247.9,133.7 L250.9,134.0 M217.0,132.3 L231.3,132.3 M217.0,132.3 L217.8,134.5 L217.8,136.2 M241.8,110.2 L243.5,111.8 L245.7,114.6 L248.4,118.5 L250.6,121.2 L252.8,124.6 L253.9,126.5 M235.2,110.2 L241.8,110.2 L245.7,109.1 L253.1,109.3 L253.9,110.2 L257.2,111.2 L260.5,111.3 L266.9,116.5 M235.2,110.2 L236.8,108.8 L239.6,107.1 L242.9,104.9 L246.2,104.1 L249.8,101.3 M206.8,101.8 L214.5,101.8 L214.5,100.9 L238.7,101.3 L249.8,101.3 M249.8,101.3 L281.7,101.6 M238.7,101.3 L243.5,99.1 L246.2,97.4 L248.0,96.1 L246.2,94.6 L244.6,92.6 M244.6,92.6 L246.8,90.2 L249.0,88.0 L251.7,86.1 L254.2,84.1 L255.6,80.8 L256.0,78.9 M244.6,92.6 L241.8,89.9 L238.5,89.9 L234.6,88.6 L232.3,87.4 L229.1,89.5 L226.4,92.4 L223.6,93.5 L220.9,93.8 L217.0,93.8 L214.5,94.6 L213.7,96.9 L212.0,98.5 L208.5,99.1 M217.4,72.7 L217.4,86.1 L217.0,88.6 L217.3,90.2 L215.3,92.2 L214.5,94.6 M232.3,73.0 L232.3,87.4 M217.4,72.7 L232.3,73.0 L239.9,72.9 M256.0,69.7 L256.0,84.0 L261.8,84.0 L261.8,86.9 L263.8,85.5 L266.1,84.7 L268.3,84.4 L271.0,85.0 L271.6,86.2 M271.6,86.2 L268.8,87.2 L267.7,88.6 L264.9,90.2 L261.6,91.9 L260.0,93.5 L257.2,96.3 L254.2,97.1 L251.2,97.4 L248.0,96.1 M261.8,84.0 L282.1,84.0 L282.1,91.0 L286.2,91.0 M271.6,86.2 L272.9,87.4 L275.1,88.8 L274.3,91.3 L276.0,93.0 L279.6,93.8 M282.1,84.0 L284.2,83.4 L285.9,82.5 L287.8,81.4 L286.4,79.7 L285.6,77.8 L288.1,75.0 M256.0,71.4 L284.5,71.4 L285.9,72.5 L288.1,75.0 M288.1,75.0 L292.5,76.9 M293.9,76.9 L294.7,75.3 L294.7,71.1 L296.0,67.2 L295.8,62.5 L295.5,54.7 M294.7,71.1 L304.1,71.3 L306.4,71.3 M304.1,71.3 L303.8,75.1 M306.4,71.3 L306.6,72.8 L307.9,74.2 M296.0,67.2 L306.8,67.5 L309.0,66.5 M300.5,67.3 L300.8,64.2 L303.0,60.3 L305.2,57.0 L305.7,54.7 M310.1,65.4 L308.6,62.8 L308.2,57.5 L308.1,53.1 M205.6,37.6 L201.2,46.0 L203.2,47.3 L207.1,48.1 L211.5,49.2 L214.2,50.3 L215.3,51.2 L217.0,54.3 L224.0,53.4 L220.1,60.4 L219.2,66.6 L217.4,72.7 M200.2,68.6 L215.9,68.6" fill="none" stroke="#4a4a5e" stroke-opacity="0.32" stroke-width="0.9"/>
</g>
<path d="M12.3,36.0 L12.9,37.9 L14.3,39.8 L15.5,42.6 L15.8,44.2 L16.4,45.9 L16.1,47.8 L16.6,50.3 L16.6,52.5 L16.1,55.3 L15.8,58.1 L15.5,60.9 L14.7,63.6 L13.9,65.8 L13.3,66.9 L14.2,69.2 L15.3,71.4 L15.5,73.6 L16.1,75.8 L15.3,78.0 L14.2,80.0 L16.4,82.5 L17.5,84.1 L17.7,86.9 L18.6,88.6 L21.3,91.3 L22.1,93.3 L24.6,94.6 L24.6,96.3 L25.2,98.0 L27.4,99.4 L28.5,100.7 L27.7,101.8 L29.6,104.1 L31.8,106.3 L33.4,107.9 L34.8,110.2 L35.1,112.4 L35.8,113.2 L38.4,113.2 L41.2,113.6 L42.8,114.6 L45.0,115.6 L46.9,116.0 L47.2,117.1 L48.9,117.3 L50.5,118.2 L52.7,120.1 L53.6,122.1 L54.3,123.8 L67.5,122.8 L87.6,130.5 L103.4,130.5 L103.4,128.0 L112.7,128.0 L114.5,129.8 L117.8,132.0 L121.1,134.1 L123.3,137.3 L124.4,140.1 L127.7,141.7 L130.5,143.4 L132.7,142.3 L133.8,139.2 L136.0,138.7 L140.9,139.1 L143.7,141.2 L145.3,144.0 L147.0,147.3 L149.2,150.0 L151.4,151.7 L152.0,154.5 L153.6,157.2 L156.4,158.6 L158.6,159.7 L161.9,160.3 L164.4,160.3 L163.5,157.8 L163.0,155.0 L163.3,152.3 L164.6,150.0 L166.3,147.8 L169.0,146.2 L171.8,144.8 L175.1,143.1 L177.6,141.5 L180.1,140.1 L182.5,139.5 L186.1,139.2 L189.4,140.4 L192.2,140.1 L194.9,140.9 L197.2,142.0 L199.9,142.8 L202.7,142.8 L205.1,141.7 L207.3,143.4 L208.7,142.3 L207.3,140.6 L206.2,138.7 L206.0,137.0 L207.6,136.2 L210.4,135.6 L212.6,135.8 L214.2,135.9 L215.9,136.5 L218.6,135.9 L222.0,135.6 L224.7,135.9 L227.5,137.3 L229.4,139.5 L231.6,139.8 L234.6,138.4 L236.8,137.6 L239.0,139.0 L240.7,140.9 L242.9,142.8 L243.7,145.6 L243.5,148.9 L244.3,151.2 L245.1,153.4 L246.8,155.6 L248.7,158.1 L249.2,160.3 L251.4,162.0 L252.8,164.7 L255.0,164.5 L256.7,163.9 L257.0,162.2 L257.8,160.6 L258.3,157.8 L258.6,155.0 L257.8,152.8 L256.7,150.0 L255.6,147.3 L255.9,145.9 L254.2,143.4 L252.8,140.6 L251.7,137.9 L251.2,135.1 L250.9,133.4 L251.7,130.7 L252.5,128.4 L254.2,126.5 L256.1,124.8 L258.3,123.5 L260.8,121.8 L263.0,120.1 L264.4,118.2 L266.9,116.5 L269.9,116.3 L270.7,114.6 L272.9,112.7 L276.0,111.8 L278.2,111.5 L280.4,110.2 L282.6,109.1 L283.7,108.8 L283.7,106.8 L282.6,104.1 L281.8,101.6 L281.2,99.6 L282.3,97.4 L283.4,95.8 L284.8,93.5 L285.9,91.6 L286.2,89.1 L287.0,88.3 L287.8,86.9 L289.8,85.5 L291.4,83.6 L292.0,81.4 L292.0,80.0 L292.5,79.1 L294.7,79.1 L298.6,78.3 L302.4,77.2 L303.8,76.5 L301.3,76.5 L298.0,77.0 L294.2,77.4 L293.3,76.9 L295.8,76.3 L298.0,75.5 L301.3,75.4 L303.8,75.1 L306.0,74.7 L307.9,74.2 L310.1,74.0 L311.5,73.9 L314.0,73.3 L314.3,71.7 L313.5,70.9 L312.6,71.7 L311.0,71.9 L310.1,70.3 L308.8,69.4 L309.3,68.3 L310.7,67.8 L309.6,66.4 L310.4,65.3 L311.5,63.9 L312.9,62.5 L314.8,61.4 L316.8,60.6 L319.5,59.7 L320.6,58.4 L322.5,58.9 L324.5,58.4 L326.7,57.5 L328.9,57.0 L330.8,55.8 L330.0,54.2 L328.1,51.4 L326.1,50.9 L326.2,43.3 L323.7,41.7 L321.7,42.3 L320.1,42.6 L318.3,41.1 L316.2,43.1 L314.0,45.3 L312.6,48.7 L312.4,49.8 L309.6,52.5 L308.1,53.1 L305.7,54.7 L297.5,54.7 L288.1,54.8 L284.8,55.9 L281.5,58.1 L278.7,59.7 L276.5,62.2 L272.7,62.4 L267.2,62.4 L263.3,63.3 L264.1,65.3 L264.7,66.5 L260.0,68.3 L256.1,68.9 L251.7,70.3 L248.4,71.7 L244.6,72.8 L241.8,71.4 L241.5,69.7 L244.6,68.3 L245.4,65.8 L247.0,62.5 L245.1,57.5 L245.1,53.1 L240.1,50.3 L239.0,48.7 L236.3,47.8 L234.1,46.5 L232.4,44.8 L228.0,41.5 L222.5,39.2 L217.5,37.6 L212.6,36.5 L207.6,37.9 L206.0,38.1 L203.8,37.6 L199.4,37.0 L195.5,37.9 L191.1,36.2 L187.8,34.7 L185.0,34.8 L182.8,35.3 L178.4,34.2 L177.9,32.6 L177.3,30.9 L175.4,30.5 L175.4,32.6 L126.6,32.6 L93.5,32.6 L60.5,32.6 L23.2,32.6 L23.2,34.0 L24.6,35.6 L24.1,38.1 L21.9,37.6 L19.1,37.3 L15.3,36.5Z" fill="none" stroke="#8c8c8c" stroke-width="0.6"/>
<path d="M191.1,140.4 L194.9,140.9 L197.2,142.0 L198.8,142.6 L199.9,143.1 L201.6,142.3 L202.7,143.0 L204.0,142.0 L205.1,141.7 L207.3,143.4 L208.7,142.3 L207.3,140.6 L206.2,138.7 L207.1,137.6 M280.9,99.4 L279.0,97.7 L279.6,95.8 L279.3,94.1 L278.2,91.9 L278.7,89.1 L278.5,86.9 L280.7,85.0 M281.2,98.2 L281.8,95.8 L281.2,93.0 L279.8,91.6 L280.7,89.1 L279.8,86.9 L280.9,85.8 M279.3,93.3 L276.5,91.9 L274.9,89.7 M279.3,99.1 L276.5,97.7 M286.2,89.1 L284.5,87.2 L283.4,85.2 M278.2,111.0 L279.8,108.5 L278.2,106.8 L280.9,105.2 L280.4,103.5 L281.5,101.8 M310.1,65.3 L311.5,63.9 L312.9,62.2 L314.0,62.0 L314.8,61.1 L315.7,61.4 L316.8,60.6 L317.9,60.9 L319.5,59.7 L320.1,58.6 L321.2,58.9 L322.5,58.9 L323.4,58.1 L324.5,58.4 L325.6,57.8 L326.7,57.5 L327.8,57.5 L328.9,57.0 L330.8,55.8 M23.2,34.0 L24.6,35.6 L24.1,38.1 L25.2,40.4 L24.6,42.0 L22.4,43.1 L23.5,40.4 L23.0,37.9 M256.7,164.5 L255.6,165.8 L253.4,166.9 L250.6,167.8 L249.0,168.1 M243.5,167.5 L242.6,167.7 M24.6,94.6 L25.7,93.8 L26.8,95.8 L25.2,95.2 M36.8,115.6 L40.6,115.7 M46.1,118.7 L47.8,119.3 M41.2,119.9 L41.7,120.1 M46.4,121.5 L46.9,122.3 M164.1,160.0 L163.5,155.6 L163.8,151.7 L165.2,149.5 M176.8,141.7 L177.9,140.1 L176.2,139.5 M214.2,135.9 L214.8,134.0 L215.3,135.6 M244.0,151.7 L245.1,149.5 L244.6,150.6 M314.0,73.3 L314.3,71.7 L313.5,70.9 L312.6,71.7 L311.0,71.9 M293.3,76.9 L295.8,76.3 L298.0,75.5 L301.3,75.4 M306.3,74.4 L306.8,73.0 L307.4,74.2 M21.0,35.1 L22.1,34.3 L23.0,34.8 M15.8,44.0 L16.9,44.2 M16.4,45.9 L16.6,47.0 M15.3,63.6 L15.8,64.2" fill="none" stroke="#3a3a3a" stroke-width="0.7" stroke-linejoin="round"/>
<path d="M310.1,65.3 L311.3,64.2 L312.1,63.3 L312.9,62.2 L313.7,62.2 L314.6,61.1 L315.4,61.7 L316.2,60.6 L317.0,61.1 L317.9,60.3 L319.2,60.0 L319.8,58.6 L320.9,59.2 L321.7,58.4 L322.8,59.2 L323.7,57.8 L324.8,58.6 L325.6,57.5 L326.7,57.8 L327.8,57.0 L328.9,57.3 L330.0,56.1 L330.8,55.8" fill="none" stroke="#333" stroke-width="1.2" stroke-linejoin="round"/></g>
<g transform="translate(353.6,485.3)"><clipPath id="clipf"><path d="M12.3,36.0 L12.9,37.9 L14.3,39.8 L15.5,42.6 L15.8,44.2 L16.4,45.9 L16.1,47.8 L16.6,50.3 L16.6,52.5 L16.1,55.3 L15.8,58.1 L15.5,60.9 L14.7,63.6 L13.9,65.8 L13.3,66.9 L14.2,69.2 L15.3,71.4 L15.5,73.6 L16.1,75.8 L15.3,78.0 L14.2,80.0 L16.4,82.5 L17.5,84.1 L17.7,86.9 L18.6,88.6 L21.3,91.3 L22.1,93.3 L24.6,94.6 L24.6,96.3 L25.2,98.0 L27.4,99.4 L28.5,100.7 L27.7,101.8 L29.6,104.1 L31.8,106.3 L33.4,107.9 L34.8,110.2 L35.1,112.4 L35.8,113.2 L38.4,113.2 L41.2,113.6 L42.8,114.6 L45.0,115.6 L46.9,116.0 L47.2,117.1 L48.9,117.3 L50.5,118.2 L52.7,120.1 L53.6,122.1 L54.3,123.8 L67.5,122.8 L87.6,130.5 L103.4,130.5 L103.4,128.0 L112.7,128.0 L114.5,129.8 L117.8,132.0 L121.1,134.1 L123.3,137.3 L124.4,140.1 L127.7,141.7 L130.5,143.4 L132.7,142.3 L133.8,139.2 L136.0,138.7 L140.9,139.1 L143.7,141.2 L145.3,144.0 L147.0,147.3 L149.2,150.0 L151.4,151.7 L152.0,154.5 L153.6,157.2 L156.4,158.6 L158.6,159.7 L161.9,160.3 L164.4,160.3 L163.5,157.8 L163.0,155.0 L163.3,152.3 L164.6,150.0 L166.3,147.8 L169.0,146.2 L171.8,144.8 L175.1,143.1 L177.6,141.5 L180.1,140.1 L182.5,139.5 L186.1,139.2 L189.4,140.4 L192.2,140.1 L194.9,140.9 L197.2,142.0 L199.9,142.8 L202.7,142.8 L205.1,141.7 L207.3,143.4 L208.7,142.3 L207.3,140.6 L206.2,138.7 L206.0,137.0 L207.6,136.2 L210.4,135.6 L212.6,135.8 L214.2,135.9 L215.9,136.5 L218.6,135.9 L222.0,135.6 L224.7,135.9 L227.5,137.3 L229.4,139.5 L231.6,139.8 L234.6,138.4 L236.8,137.6 L239.0,139.0 L240.7,140.9 L242.9,142.8 L243.7,145.6 L243.5,148.9 L244.3,151.2 L245.1,153.4 L246.8,155.6 L248.7,158.1 L249.2,160.3 L251.4,162.0 L252.8,164.7 L255.0,164.5 L256.7,163.9 L257.0,162.2 L257.8,160.6 L258.3,157.8 L258.6,155.0 L257.8,152.8 L256.7,150.0 L255.6,147.3 L255.9,145.9 L254.2,143.4 L252.8,140.6 L251.7,137.9 L251.2,135.1 L250.9,133.4 L251.7,130.7 L252.5,128.4 L254.2,126.5 L256.1,124.8 L258.3,123.5 L260.8,121.8 L263.0,120.1 L264.4,118.2 L266.9,116.5 L269.9,116.3 L270.7,114.6 L272.9,112.7 L276.0,111.8 L278.2,111.5 L280.4,110.2 L282.6,109.1 L283.7,108.8 L283.7,106.8 L282.6,104.1 L281.8,101.6 L281.2,99.6 L282.3,97.4 L283.4,95.8 L284.8,93.5 L285.9,91.6 L286.2,89.1 L287.0,88.3 L287.8,86.9 L289.8,85.5 L291.4,83.6 L292.0,81.4 L292.0,80.0 L292.5,79.1 L294.7,79.1 L298.6,78.3 L302.4,77.2 L303.8,76.5 L301.3,76.5 L298.0,77.0 L294.2,77.4 L293.3,76.9 L295.8,76.3 L298.0,75.5 L301.3,75.4 L303.8,75.1 L306.0,74.7 L307.9,74.2 L310.1,74.0 L311.5,73.9 L314.0,73.3 L314.3,71.7 L313.5,70.9 L312.6,71.7 L311.0,71.9 L310.1,70.3 L308.8,69.4 L309.3,68.3 L310.7,67.8 L309.6,66.4 L310.4,65.3 L311.5,63.9 L312.9,62.5 L314.8,61.4 L316.8,60.6 L319.5,59.7 L320.6,58.4 L322.5,58.9 L324.5,58.4 L326.7,57.5 L328.9,57.0 L330.8,55.8 L330.0,54.2 L328.1,51.4 L326.1,50.9 L326.2,43.3 L323.7,41.7 L321.7,42.3 L320.1,42.6 L318.3,41.1 L316.2,43.1 L314.0,45.3 L312.6,48.7 L312.4,49.8 L309.6,52.5 L308.1,53.1 L305.7,54.7 L297.5,54.7 L288.1,54.8 L284.8,55.9 L281.5,58.1 L278.7,59.7 L276.5,62.2 L272.7,62.4 L267.2,62.4 L263.3,63.3 L264.1,65.3 L264.7,66.5 L260.0,68.3 L256.1,68.9 L251.7,70.3 L248.4,71.7 L244.6,72.8 L241.8,71.4 L241.5,69.7 L244.6,68.3 L245.4,65.8 L247.0,62.5 L245.1,57.5 L245.1,53.1 L240.1,50.3 L239.0,48.7 L236.3,47.8 L234.1,46.5 L232.4,44.8 L228.0,41.5 L222.5,39.2 L217.5,37.6 L212.6,36.5 L207.6,37.9 L206.0,38.1 L203.8,37.6 L199.4,37.0 L195.5,37.9 L191.1,36.2 L187.8,34.7 L185.0,34.8 L182.8,35.3 L178.4,34.2 L177.9,32.6 L177.3,30.9 L175.4,30.5 L175.4,32.6 L126.6,32.6 L93.5,32.6 L60.5,32.6 L23.2,32.6 L23.2,34.0 L24.6,35.6 L24.1,38.1 L21.9,37.6 L19.1,37.3 L15.3,36.5Z"/></clipPath>
<g clip-path="url(#clipf)">
<path d="M12.3,36.0 L12.9,37.9 L14.3,39.8 L15.5,42.6 L15.8,44.2 L16.4,45.9 L16.1,47.8 L16.6,50.3 L16.6,52.5 L16.1,55.3 L15.8,58.1 L15.5,60.9 L14.7,63.6 L13.9,65.8 L13.3,66.9 L14.2,69.2 L15.3,71.4 L15.5,73.6 L16.1,75.8 L15.3,78.0 L14.2,80.0 L16.4,82.5 L17.5,84.1 L17.7,86.9 L18.6,88.6 L21.3,91.3 L22.1,93.3 L24.6,94.6 L24.6,96.3 L25.2,98.0 L27.4,99.4 L28.5,100.7 L27.7,101.8 L29.6,104.1 L31.8,106.3 L33.4,107.9 L34.8,110.2 L35.1,112.4 L35.8,113.2 L38.4,113.2 L41.2,113.6 L42.8,114.6 L45.0,115.6 L46.9,116.0 L47.2,117.1 L48.9,117.3 L50.5,118.2 L52.7,120.1 L53.6,122.1 L54.3,123.8 L67.5,122.8 L87.6,130.5 L103.4,130.5 L103.4,128.0 L112.7,128.0 L114.5,129.8 L117.8,132.0 L121.1,134.1 L123.3,137.3 L124.4,140.1 L127.7,141.7 L130.5,143.4 L132.7,142.3 L133.8,139.2 L136.0,138.7 L140.9,139.1 L143.7,141.2 L145.3,144.0 L147.0,147.3 L149.2,150.0 L151.4,151.7 L152.0,154.5 L153.6,157.2 L156.4,158.6 L158.6,159.7 L161.9,160.3 L164.4,160.3 L163.5,157.8 L163.0,155.0 L163.3,152.3 L164.6,150.0 L166.3,147.8 L169.0,146.2 L171.8,144.8 L175.1,143.1 L177.6,141.5 L180.1,140.1 L182.5,139.5 L186.1,139.2 L189.4,140.4 L192.2,140.1 L194.9,140.9 L197.2,142.0 L199.9,142.8 L202.7,142.8 L205.1,141.7 L207.3,143.4 L208.7,142.3 L207.3,140.6 L206.2,138.7 L206.0,137.0 L207.6,136.2 L210.4,135.6 L212.6,135.8 L214.2,135.9 L215.9,136.5 L218.6,135.9 L222.0,135.6 L224.7,135.9 L227.5,137.3 L229.4,139.5 L231.6,139.8 L234.6,138.4 L236.8,137.6 L239.0,139.0 L240.7,140.9 L242.9,142.8 L243.7,145.6 L243.5,148.9 L244.3,151.2 L245.1,153.4 L246.8,155.6 L248.7,158.1 L249.2,160.3 L251.4,162.0 L252.8,164.7 L255.0,164.5 L256.7,163.9 L257.0,162.2 L257.8,160.6 L258.3,157.8 L258.6,155.0 L257.8,152.8 L256.7,150.0 L255.6,147.3 L255.9,145.9 L254.2,143.4 L252.8,140.6 L251.7,137.9 L251.2,135.1 L250.9,133.4 L251.7,130.7 L252.5,128.4 L254.2,126.5 L256.1,124.8 L258.3,123.5 L260.8,121.8 L263.0,120.1 L264.4,118.2 L266.9,116.5 L269.9,116.3 L270.7,114.6 L272.9,112.7 L276.0,111.8 L278.2,111.5 L280.4,110.2 L282.6,109.1 L283.7,108.8 L283.7,106.8 L282.6,104.1 L281.8,101.6 L281.2,99.6 L282.3,97.4 L283.4,95.8 L284.8,93.5 L285.9,91.6 L286.2,89.1 L287.0,88.3 L287.8,86.9 L289.8,85.5 L291.4,83.6 L292.0,81.4 L292.0,80.0 L292.5,79.1 L294.7,79.1 L298.6,78.3 L302.4,77.2 L303.8,76.5 L301.3,76.5 L298.0,77.0 L294.2,77.4 L293.3,76.9 L295.8,76.3 L298.0,75.5 L301.3,75.4 L303.8,75.1 L306.0,74.7 L307.9,74.2 L310.1,74.0 L311.5,73.9 L314.0,73.3 L314.3,71.7 L313.5,70.9 L312.6,71.7 L311.0,71.9 L310.1,70.3 L308.8,69.4 L309.3,68.3 L310.7,67.8 L309.6,66.4 L310.4,65.3 L311.5,63.9 L312.9,62.5 L314.8,61.4 L316.8,60.6 L319.5,59.7 L320.6,58.4 L322.5,58.9 L324.5,58.4 L326.7,57.5 L328.9,57.0 L330.8,55.8 L330.0,54.2 L328.1,51.4 L326.1,50.9 L326.2,43.3 L323.7,41.7 L321.7,42.3 L320.1,42.6 L318.3,41.1 L316.2,43.1 L314.0,45.3 L312.6,48.7 L312.4,49.8 L309.6,52.5 L308.1,53.1 L305.7,54.7 L297.5,54.7 L288.1,54.8 L284.8,55.9 L281.5,58.1 L278.7,59.7 L276.5,62.2 L272.7,62.4 L267.2,62.4 L263.3,63.3 L264.1,65.3 L264.7,66.5 L260.0,68.3 L256.1,68.9 L251.7,70.3 L248.4,71.7 L244.6,72.8 L241.8,71.4 L241.5,69.7 L244.6,68.3 L245.4,65.8 L247.0,62.5 L245.1,57.5 L245.1,53.1 L240.1,50.3 L239.0,48.7 L236.3,47.8 L234.1,46.5 L232.4,44.8 L228.0,41.5 L222.5,39.2 L217.5,37.6 L212.6,36.5 L207.6,37.9 L206.0,38.1 L203.8,37.6 L199.4,37.0 L195.5,37.9 L191.1,36.2 L187.8,34.7 L185.0,34.8 L182.8,35.3 L178.4,34.2 L177.9,32.6 L177.3,30.9 L175.4,30.5 L175.4,32.6 L126.6,32.6 L93.5,32.6 L60.5,32.6 L23.2,32.6 L23.2,34.0 L24.6,35.6 L24.1,38.1 L21.9,37.6 L19.1,37.3 L15.3,36.5Z" fill="#e1e1f7"/>
<g filter="url(#rough)">
<path d="M5.3,29.8 L25.7,29.8 L25.7,38.1 L25.2,43.7 L25.7,49.2 L25.2,54.8 L24.1,60.3 L23.5,65.8 L24.6,69.7 L26.8,73.0 L29.6,76.9 L31.8,80.8 L33.4,85.2 L35.7,90.2 L37.9,94.6 L41.2,99.1 L43.9,103.5 L45.6,107.4 L45.6,110.7 L49.4,112.9 L54.9,114.6 L57.1,118.5 L57.7,124.6 L57.7,132.3 L5.3,132.3Z" fill="#dcf4f3"/>
<path d="M147.0,99.1 L165.2,99.1 L181.7,98.8 L198.3,96.0 L214.8,95.8 L231.3,95.2 L242.4,94.1 L251.2,94.1 L257.2,95.8 L262.7,93.5 L268.3,88.6 L273.8,85.8 L280.9,81.9 L287.5,80.2 L292.0,78.0 L296.4,76.4 L304.1,74.4 L311.3,73.0 L316.8,74.2 L314.0,88.0 L292.0,99.1 L264.4,171.1 L165.2,171.1 L162.4,158.4 L158.0,146.7 L151.4,129.0 L148.6,115.7Z" fill="#dcf4f3"/>
<path d="M35.7,29.8 L133.2,29.8 L133.2,32.6 L137.6,40.9 L146.4,51.4 L143.1,60.3 L138.2,66.4 L142.0,76.9 L145.3,86.3 L148.1,99.1 L148.6,115.7 L151.4,129.0 L158.0,146.7 L162.4,158.4 L165.2,165.6 L115.6,148.9 L59.4,132.3 L59.4,123.5 L58.8,119.0 L56.0,115.7 L50.0,114.0 L46.7,111.3 L47.8,107.4 L48.9,101.8 L44.5,94.6 L40.1,89.1 L37.9,84.1 L35.1,79.1 L32.3,74.7 L30.7,70.3 L31.2,63.6 L32.3,58.1 L33.4,52.0 L35.7,47.6 L35.7,42.0 L37.9,38.1 L36.2,33.7Z" fill="#f5d2f3"/>
<path d="M35.7,103.0 L40.6,100.7 L43.9,105.2 L44.7,109.1 L41.2,110.2 L37.3,106.8Z" fill="#f5d2f3"/>
<path d="M53.8,29.8 L79.7,29.8 L78.1,36.5 L75.3,42.0 L79.2,47.0 L82.5,51.4 L86.9,54.8 L90.8,55.3 L93.5,58.1 L91.9,62.5 L88.0,64.2 L84.7,60.3 L79.7,58.6 L74.2,59.2 L68.7,60.9 L63.2,61.4 L58.8,58.6 L56.0,54.8 L53.3,50.3 L54.9,46.5 L54.9,40.9Z" fill="#e1e1f7"/>
<path d="M44.5,51.4 L50.5,49.8 L54.9,53.1 L53.3,57.0 L46.7,58.1 L42.3,55.9Z" fill="#e1e1f7"/>
<path d="M105.7,54.8 L110.1,54.8 L111.2,60.3 L107.3,60.3Z" fill="#e1e1f7"/>
<path d="M93.5,63.1 L99.0,64.2 L100.7,68.1 L95.7,69.2Z" fill="#e1e1f7"/>
<path d="M83.1,71.4 L86.9,74.2 L93.5,77.5 L107.3,75.3 L115.6,75.8 L120.0,79.1 L121.1,85.2 L120.5,92.4 L121.1,99.1 L119.4,104.6 L116.7,107.4 L112.3,105.7 L110.6,100.7 L105.7,96.9 L101.2,92.4 L102.9,86.3 L99.0,83.0 L90.8,83.6 L86.4,88.0 L84.2,83.6 L83.1,76.9Z" fill="#e1e1f7"/>
<path d="M125.5,56.4 L130.5,56.4 L130.5,62.5 L126.0,62.5Z" fill="#e1e1f7"/>
<path d="M81.4,107.9 L86.9,109.1 L92.4,112.9 L95.7,114.6 L94.6,116.3 L89.1,113.5 L83.6,110.7Z" fill="#e1e1f7"/>
<path d="M112.8,100.2 L120.0,99.6 L119.4,106.8 L116.1,105.7Z" fill="#e1e1f7"/>
</g>
<path d="M249.0,158.4 L258.6,156.7 L259.4,166.1 L250.6,166.1Z" fill="#fbe3ec"/>
<path d="M16.1,47.8 L19.7,48.1 L22.4,48.9 L23.2,51.2 L26.3,51.7 L31.8,51.2 L35.7,50.9 L40.6,49.7 L44.0,49.2 L55.4,49.2 M54.7,32.6 L54.7,46.9 L55.4,49.2 M55.4,49.2 L56.9,51.4 L57.7,53.1 L56.3,54.8 L55.2,57.0 L53.8,58.6 L55.2,59.7 L54.8,61.4 L54.8,71.4 M15.3,71.4 L87.7,71.4 M38.4,71.4 L38.4,88.0 L68.0,110.2 L68.2,111.3 L69.3,114.0 L68.2,116.0 L67.6,119.0 L68.4,121.2 L67.5,122.8 M68.0,110.2 L68.1,106.8 L67.3,104.3 L71.2,103.5 L71.2,99.1 M71.3,71.4 L71.2,99.1 M71.2,99.1 L178.3,99.1 M98.8,99.1 L98.8,130.5 M98.8,99.1 L98.8,76.9 M87.7,71.4 L87.7,76.9 L126.3,76.9 M87.7,71.4 L87.7,57.5 L85.8,56.4 L80.8,57.3 L78.1,58.1 L74.8,55.3 L72.0,51.4 L68.7,51.4 L69.3,48.7 L67.6,45.3 L64.3,42.6 L62.1,41.2 L60.2,38.3 L60.2,32.6 M87.7,57.5 L87.7,54.8 L126.3,54.8 M126.3,76.9 L126.3,54.8 M126.3,54.8 L126.3,32.6 M126.3,49.6 L167.6,49.6 M137.3,99.1 L137.3,76.9 M137.3,76.9 L126.3,76.9 M137.3,82.5 L174.6,82.5 M126.3,65.8 L156.9,65.8 L160.8,66.7 L164.1,66.7 L166.8,67.8 L168.2,68.6 M131.8,99.1 L131.8,126.8 L112.2,126.8 L112.7,128.0 M131.8,101.8 L148.6,101.8 L148.6,112.6 L152.0,113.5 L156.4,114.9 L159.7,115.7 L164.1,117.1 L167.4,116.5 L170.7,116.5 L174.6,116.4 L179.0,117.9 L181.4,118.2 M181.4,118.2 L181.4,121.2 L181.4,126.8 L182.8,129.6 L183.9,132.3 L183.4,135.6 L182.5,139.5 M178.3,101.8 L179.3,107.9 L179.1,117.7 M178.3,99.1 L178.3,101.8 M178.3,99.1 L178.4,87.4 L176.8,84.7 L174.6,82.5 L172.9,80.8 L172.0,79.2 M172.0,79.2 L194.2,79.1 L195.9,80.4 M172.0,79.2 L171.5,75.8 L170.4,73.6 L169.9,70.8 L168.2,68.6 M168.2,68.6 L167.4,65.8 L168.2,63.1 L197.0,63.1 M168.2,63.1 L168.2,53.1 L167.6,49.6 L166.6,45.9 L166.0,40.9 L164.4,36.5 L163.9,32.6 M191.6,45.3 L191.1,48.7 L188.3,51.4 L188.6,55.9 L192.7,58.1 L195.5,60.3 L197.0,63.1 M197.0,63.1 L197.4,66.9 L200.2,68.6 L202.7,72.2 L201.0,74.2 L198.3,75.8 L197.7,78.6 L195.9,80.4 L196.0,82.5 L198.8,85.8 L200.5,88.0 L202.9,89.1 L202.4,91.9 L205.4,94.6 L206.5,97.4 L208.5,99.1 M178.3,101.8 L202.9,101.8 L201.8,103.0 L203.2,104.6 L205.4,104.6 M208.5,99.1 L206.8,101.8 L205.4,104.6 M205.4,104.6 L203.8,109.6 L202.1,112.4 L198.8,115.7 L197.7,119.0 L197.4,121.2 L197.4,124.6 L196.0,127.9 L194.9,132.3 L205.3,132.3 L206.0,134.5 L206.0,137.0 M181.4,121.2 L197.4,121.2 M202.1,110.2 L235.2,110.2 M213.7,110.2 L212.6,127.3 L212.6,135.8 M228.0,110.2 L230.2,122.3 L231.3,125.1 L230.8,129.0 L231.3,132.3 L231.9,134.0 L242.4,134.5 L246.8,134.7 L247.9,133.7 L250.9,134.0 M217.0,132.3 L231.3,132.3 M217.0,132.3 L217.8,134.5 L217.8,136.2 M241.8,110.2 L243.5,111.8 L245.7,114.6 L248.4,118.5 L250.6,121.2 L252.8,124.6 L253.9,126.5 M235.2,110.2 L241.8,110.2 L245.7,109.1 L253.1,109.3 L253.9,110.2 L257.2,111.2 L260.5,111.3 L266.9,116.5 M235.2,110.2 L236.8,108.8 L239.6,107.1 L242.9,104.9 L246.2,104.1 L249.8,101.3 M206.8,101.8 L214.5,101.8 L214.5,100.9 L238.7,101.3 L249.8,101.3 M249.8,101.3 L281.7,101.6 M238.7,101.3 L243.5,99.1 L246.2,97.4 L248.0,96.1 L246.2,94.6 L244.6,92.6 M244.6,92.6 L246.8,90.2 L249.0,88.0 L251.7,86.1 L254.2,84.1 L255.6,80.8 L256.0,78.9 M244.6,92.6 L241.8,89.9 L238.5,89.9 L234.6,88.6 L232.3,87.4 L229.1,89.5 L226.4,92.4 L223.6,93.5 L220.9,93.8 L217.0,93.8 L214.5,94.6 L213.7,96.9 L212.0,98.5 L208.5,99.1 M217.4,72.7 L217.4,86.1 L217.0,88.6 L217.3,90.2 L215.3,92.2 L214.5,94.6 M232.3,73.0 L232.3,87.4 M217.4,72.7 L232.3,73.0 L239.9,72.9 M256.0,69.7 L256.0,84.0 L261.8,84.0 L261.8,86.9 L263.8,85.5 L266.1,84.7 L268.3,84.4 L271.0,85.0 L271.6,86.2 M271.6,86.2 L268.8,87.2 L267.7,88.6 L264.9,90.2 L261.6,91.9 L260.0,93.5 L257.2,96.3 L254.2,97.1 L251.2,97.4 L248.0,96.1 M261.8,84.0 L282.1,84.0 L282.1,91.0 L286.2,91.0 M271.6,86.2 L272.9,87.4 L275.1,88.8 L274.3,91.3 L276.0,93.0 L279.6,93.8 M282.1,84.0 L284.2,83.4 L285.9,82.5 L287.8,81.4 L286.4,79.7 L285.6,77.8 L288.1,75.0 M256.0,71.4 L284.5,71.4 L285.9,72.5 L288.1,75.0 M288.1,75.0 L292.5,76.9 M293.9,76.9 L294.7,75.3 L294.7,71.1 L296.0,67.2 L295.8,62.5 L295.5,54.7 M294.7,71.1 L304.1,71.3 L306.4,71.3 M304.1,71.3 L303.8,75.1 M306.4,71.3 L306.6,72.8 L307.9,74.2 M296.0,67.2 L306.8,67.5 L309.0,66.5 M300.5,67.3 L300.8,64.2 L303.0,60.3 L305.2,57.0 L305.7,54.7 M310.1,65.4 L308.6,62.8 L308.2,57.5 L308.1,53.1 M205.6,37.6 L201.2,46.0 L203.2,47.3 L207.1,48.1 L211.5,49.2 L214.2,50.3 L215.3,51.2 L217.0,54.3 L224.0,53.4 L220.1,60.4 L219.2,66.6 L217.4,72.7 M200.2,68.6 L215.9,68.6" fill="none" stroke="#4a4a5e" stroke-opacity="0.32" stroke-width="0.9"/>
</g>
<path d="M12.3,36.0 L12.9,37.9 L14.3,39.8 L15.5,42.6 L15.8,44.2 L16.4,45.9 L16.1,47.8 L16.6,50.3 L16.6,52.5 L16.1,55.3 L15.8,58.1 L15.5,60.9 L14.7,63.6 L13.9,65.8 L13.3,66.9 L14.2,69.2 L15.3,71.4 L15.5,73.6 L16.1,75.8 L15.3,78.0 L14.2,80.0 L16.4,82.5 L17.5,84.1 L17.7,86.9 L18.6,88.6 L21.3,91.3 L22.1,93.3 L24.6,94.6 L24.6,96.3 L25.2,98.0 L27.4,99.4 L28.5,100.7 L27.7,101.8 L29.6,104.1 L31.8,106.3 L33.4,107.9 L34.8,110.2 L35.1,112.4 L35.8,113.2 L38.4,113.2 L41.2,113.6 L42.8,114.6 L45.0,115.6 L46.9,116.0 L47.2,117.1 L48.9,117.3 L50.5,118.2 L52.7,120.1 L53.6,122.1 L54.3,123.8 L67.5,122.8 L87.6,130.5 L103.4,130.5 L103.4,128.0 L112.7,128.0 L114.5,129.8 L117.8,132.0 L121.1,134.1 L123.3,137.3 L124.4,140.1 L127.7,141.7 L130.5,143.4 L132.7,142.3 L133.8,139.2 L136.0,138.7 L140.9,139.1 L143.7,141.2 L145.3,144.0 L147.0,147.3 L149.2,150.0 L151.4,151.7 L152.0,154.5 L153.6,157.2 L156.4,158.6 L158.6,159.7 L161.9,160.3 L164.4,160.3 L163.5,157.8 L163.0,155.0 L163.3,152.3 L164.6,150.0 L166.3,147.8 L169.0,146.2 L171.8,144.8 L175.1,143.1 L177.6,141.5 L180.1,140.1 L182.5,139.5 L186.1,139.2 L189.4,140.4 L192.2,140.1 L194.9,140.9 L197.2,142.0 L199.9,142.8 L202.7,142.8 L205.1,141.7 L207.3,143.4 L208.7,142.3 L207.3,140.6 L206.2,138.7 L206.0,137.0 L207.6,136.2 L210.4,135.6 L212.6,135.8 L214.2,135.9 L215.9,136.5 L218.6,135.9 L222.0,135.6 L224.7,135.9 L227.5,137.3 L229.4,139.5 L231.6,139.8 L234.6,138.4 L236.8,137.6 L239.0,139.0 L240.7,140.9 L242.9,142.8 L243.7,145.6 L243.5,148.9 L244.3,151.2 L245.1,153.4 L246.8,155.6 L248.7,158.1 L249.2,160.3 L251.4,162.0 L252.8,164.7 L255.0,164.5 L256.7,163.9 L257.0,162.2 L257.8,160.6 L258.3,157.8 L258.6,155.0 L257.8,152.8 L256.7,150.0 L255.6,147.3 L255.9,145.9 L254.2,143.4 L252.8,140.6 L251.7,137.9 L251.2,135.1 L250.9,133.4 L251.7,130.7 L252.5,128.4 L254.2,126.5 L256.1,124.8 L258.3,123.5 L260.8,121.8 L263.0,120.1 L264.4,118.2 L266.9,116.5 L269.9,116.3 L270.7,114.6 L272.9,112.7 L276.0,111.8 L278.2,111.5 L280.4,110.2 L282.6,109.1 L283.7,108.8 L283.7,106.8 L282.6,104.1 L281.8,101.6 L281.2,99.6 L282.3,97.4 L283.4,95.8 L284.8,93.5 L285.9,91.6 L286.2,89.1 L287.0,88.3 L287.8,86.9 L289.8,85.5 L291.4,83.6 L292.0,81.4 L292.0,80.0 L292.5,79.1 L294.7,79.1 L298.6,78.3 L302.4,77.2 L303.8,76.5 L301.3,76.5 L298.0,77.0 L294.2,77.4 L293.3,76.9 L295.8,76.3 L298.0,75.5 L301.3,75.4 L303.8,75.1 L306.0,74.7 L307.9,74.2 L310.1,74.0 L311.5,73.9 L314.0,73.3 L314.3,71.7 L313.5,70.9 L312.6,71.7 L311.0,71.9 L310.1,70.3 L308.8,69.4 L309.3,68.3 L310.7,67.8 L309.6,66.4 L310.4,65.3 L311.5,63.9 L312.9,62.5 L314.8,61.4 L316.8,60.6 L319.5,59.7 L320.6,58.4 L322.5,58.9 L324.5,58.4 L326.7,57.5 L328.9,57.0 L330.8,55.8 L330.0,54.2 L328.1,51.4 L326.1,50.9 L326.2,43.3 L323.7,41.7 L321.7,42.3 L320.1,42.6 L318.3,41.1 L316.2,43.1 L314.0,45.3 L312.6,48.7 L312.4,49.8 L309.6,52.5 L308.1,53.1 L305.7,54.7 L297.5,54.7 L288.1,54.8 L284.8,55.9 L281.5,58.1 L278.7,59.7 L276.5,62.2 L272.7,62.4 L267.2,62.4 L263.3,63.3 L264.1,65.3 L264.7,66.5 L260.0,68.3 L256.1,68.9 L251.7,70.3 L248.4,71.7 L244.6,72.8 L241.8,71.4 L241.5,69.7 L244.6,68.3 L245.4,65.8 L247.0,62.5 L245.1,57.5 L245.1,53.1 L240.1,50.3 L239.0,48.7 L236.3,47.8 L234.1,46.5 L232.4,44.8 L228.0,41.5 L222.5,39.2 L217.5,37.6 L212.6,36.5 L207.6,37.9 L206.0,38.1 L203.8,37.6 L199.4,37.0 L195.5,37.9 L191.1,36.2 L187.8,34.7 L185.0,34.8 L182.8,35.3 L178.4,34.2 L177.9,32.6 L177.3,30.9 L175.4,30.5 L175.4,32.6 L126.6,32.6 L93.5,32.6 L60.5,32.6 L23.2,32.6 L23.2,34.0 L24.6,35.6 L24.1,38.1 L21.9,37.6 L19.1,37.3 L15.3,36.5Z" fill="none" stroke="#8c8c8c" stroke-width="0.6"/>
<path d="M191.1,140.4 L194.9,140.9 L197.2,142.0 L198.8,142.6 L199.9,143.1 L201.6,142.3 L202.7,143.0 L204.0,142.0 L205.1,141.7 L207.3,143.4 L208.7,142.3 L207.3,140.6 L206.2,138.7 L207.1,137.6 M280.9,99.4 L279.0,97.7 L279.6,95.8 L279.3,94.1 L278.2,91.9 L278.7,89.1 L278.5,86.9 L280.7,85.0 M281.2,98.2 L281.8,95.8 L281.2,93.0 L279.8,91.6 L280.7,89.1 L279.8,86.9 L280.9,85.8 M279.3,93.3 L276.5,91.9 L274.9,89.7 M279.3,99.1 L276.5,97.7 M286.2,89.1 L284.5,87.2 L283.4,85.2 M278.2,111.0 L279.8,108.5 L278.2,106.8 L280.9,105.2 L280.4,103.5 L281.5,101.8 M310.1,65.3 L311.5,63.9 L312.9,62.2 L314.0,62.0 L314.8,61.1 L315.7,61.4 L316.8,60.6 L317.9,60.9 L319.5,59.7 L320.1,58.6 L321.2,58.9 L322.5,58.9 L323.4,58.1 L324.5,58.4 L325.6,57.8 L326.7,57.5 L327.8,57.5 L328.9,57.0 L330.8,55.8 M23.2,34.0 L24.6,35.6 L24.1,38.1 L25.2,40.4 L24.6,42.0 L22.4,43.1 L23.5,40.4 L23.0,37.9 M256.7,164.5 L255.6,165.8 L253.4,166.9 L250.6,167.8 L249.0,168.1 M243.5,167.5 L242.6,167.7 M24.6,94.6 L25.7,93.8 L26.8,95.8 L25.2,95.2 M36.8,115.6 L40.6,115.7 M46.1,118.7 L47.8,119.3 M41.2,119.9 L41.7,120.1 M46.4,121.5 L46.9,122.3 M164.1,160.0 L163.5,155.6 L163.8,151.7 L165.2,149.5 M176.8,141.7 L177.9,140.1 L176.2,139.5 M214.2,135.9 L214.8,134.0 L215.3,135.6 M244.0,151.7 L245.1,149.5 L244.6,150.6 M314.0,73.3 L314.3,71.7 L313.5,70.9 L312.6,71.7 L311.0,71.9 M293.3,76.9 L295.8,76.3 L298.0,75.5 L301.3,75.4 M306.3,74.4 L306.8,73.0 L307.4,74.2 M21.0,35.1 L22.1,34.3 L23.0,34.8 M15.8,44.0 L16.9,44.2 M16.4,45.9 L16.6,47.0 M15.3,63.6 L15.8,64.2" fill="none" stroke="#3a3a3a" stroke-width="0.7" stroke-linejoin="round"/>
<path d="M310.1,65.3 L311.3,64.2 L312.1,63.3 L312.9,62.2 L313.7,62.2 L314.6,61.1 L315.4,61.7 L316.2,60.6 L317.0,61.1 L317.9,60.3 L319.2,60.0 L319.8,58.6 L320.9,59.2 L321.7,58.4 L322.8,59.2 L323.7,57.8 L324.8,58.6 L325.6,57.5 L326.7,57.8 L327.8,57.0 L328.9,57.3 L330.0,56.1 L330.8,55.8" fill="none" stroke="#333" stroke-width="1.2" stroke-linejoin="round"/></g>
<g transform="translate(11,712)"><clipPath id="clipg"><path d="M12.3,36.0 L12.9,37.9 L14.3,39.8 L15.5,42.6 L15.8,44.2 L16.4,45.9 L16.1,47.8 L16.6,50.3 L16.6,52.5 L16.1,55.3 L15.8,58.1 L15.5,60.9 L14.7,63.6 L13.9,65.8 L13.3,66.9 L14.2,69.2 L15.3,71.4 L15.5,73.6 L16.1,75.8 L15.3,78.0 L14.2,80.0 L16.4,82.5 L17.5,84.1 L17.7,86.9 L18.6,88.6 L21.3,91.3 L22.1,93.3 L24.6,94.6 L24.6,96.3 L25.2,98.0 L27.4,99.4 L28.5,100.7 L27.7,101.8 L29.6,104.1 L31.8,106.3 L33.4,107.9 L34.8,110.2 L35.1,112.4 L35.8,113.2 L38.4,113.2 L41.2,113.6 L42.8,114.6 L45.0,115.6 L46.9,116.0 L47.2,117.1 L48.9,117.3 L50.5,118.2 L52.7,120.1 L53.6,122.1 L54.3,123.8 L67.5,122.8 L87.6,130.5 L103.4,130.5 L103.4,128.0 L112.7,128.0 L114.5,129.8 L117.8,132.0 L121.1,134.1 L123.3,137.3 L124.4,140.1 L127.7,141.7 L130.5,143.4 L132.7,142.3 L133.8,139.2 L136.0,138.7 L140.9,139.1 L143.7,141.2 L145.3,144.0 L147.0,147.3 L149.2,150.0 L151.4,151.7 L152.0,154.5 L153.6,157.2 L156.4,158.6 L158.6,159.7 L161.9,160.3 L164.4,160.3 L163.5,157.8 L163.0,155.0 L163.3,152.3 L164.6,150.0 L166.3,147.8 L169.0,146.2 L171.8,144.8 L175.1,143.1 L177.6,141.5 L180.1,140.1 L182.5,139.5 L186.1,139.2 L189.4,140.4 L192.2,140.1 L194.9,140.9 L197.2,142.0 L199.9,142.8 L202.7,142.8 L205.1,141.7 L207.3,143.4 L208.7,142.3 L207.3,140.6 L206.2,138.7 L206.0,137.0 L207.6,136.2 L210.4,135.6 L212.6,135.8 L214.2,135.9 L215.9,136.5 L218.6,135.9 L222.0,135.6 L224.7,135.9 L227.5,137.3 L229.4,139.5 L231.6,139.8 L234.6,138.4 L236.8,137.6 L239.0,139.0 L240.7,140.9 L242.9,142.8 L243.7,145.6 L243.5,148.9 L244.3,151.2 L245.1,153.4 L246.8,155.6 L248.7,158.1 L249.2,160.3 L251.4,162.0 L252.8,164.7 L255.0,164.5 L256.7,163.9 L257.0,162.2 L257.8,160.6 L258.3,157.8 L258.6,155.0 L257.8,152.8 L256.7,150.0 L255.6,147.3 L255.9,145.9 L254.2,143.4 L252.8,140.6 L251.7,137.9 L251.2,135.1 L250.9,133.4 L251.7,130.7 L252.5,128.4 L254.2,126.5 L256.1,124.8 L258.3,123.5 L260.8,121.8 L263.0,120.1 L264.4,118.2 L266.9,116.5 L269.9,116.3 L270.7,114.6 L272.9,112.7 L276.0,111.8 L278.2,111.5 L280.4,110.2 L282.6,109.1 L283.7,108.8 L283.7,106.8 L282.6,104.1 L281.8,101.6 L281.2,99.6 L282.3,97.4 L283.4,95.8 L284.8,93.5 L285.9,91.6 L286.2,89.1 L287.0,88.3 L287.8,86.9 L289.8,85.5 L291.4,83.6 L292.0,81.4 L292.0,80.0 L292.5,79.1 L294.7,79.1 L298.6,78.3 L302.4,77.2 L303.8,76.5 L301.3,76.5 L298.0,77.0 L294.2,77.4 L293.3,76.9 L295.8,76.3 L298.0,75.5 L301.3,75.4 L303.8,75.1 L306.0,74.7 L307.9,74.2 L310.1,74.0 L311.5,73.9 L314.0,73.3 L314.3,71.7 L313.5,70.9 L312.6,71.7 L311.0,71.9 L310.1,70.3 L308.8,69.4 L309.3,68.3 L310.7,67.8 L309.6,66.4 L310.4,65.3 L311.5,63.9 L312.9,62.5 L314.8,61.4 L316.8,60.6 L319.5,59.7 L320.6,58.4 L322.5,58.9 L324.5,58.4 L326.7,57.5 L328.9,57.0 L330.8,55.8 L330.0,54.2 L328.1,51.4 L326.1,50.9 L326.2,43.3 L323.7,41.7 L321.7,42.3 L320.1,42.6 L318.3,41.1 L316.2,43.1 L314.0,45.3 L312.6,48.7 L312.4,49.8 L309.6,52.5 L308.1,53.1 L305.7,54.7 L297.5,54.7 L288.1,54.8 L284.8,55.9 L281.5,58.1 L278.7,59.7 L276.5,62.2 L272.7,62.4 L267.2,62.4 L263.3,63.3 L264.1,65.3 L264.7,66.5 L260.0,68.3 L256.1,68.9 L251.7,70.3 L248.4,71.7 L244.6,72.8 L241.8,71.4 L241.5,69.7 L244.6,68.3 L245.4,65.8 L247.0,62.5 L245.1,57.5 L245.1,53.1 L240.1,50.3 L239.0,48.7 L236.3,47.8 L234.1,46.5 L232.4,44.8 L228.0,41.5 L222.5,39.2 L217.5,37.6 L212.6,36.5 L207.6,37.9 L206.0,38.1 L203.8,37.6 L199.4,37.0 L195.5,37.9 L191.1,36.2 L187.8,34.7 L185.0,34.8 L182.8,35.3 L178.4,34.2 L177.9,32.6 L177.3,30.9 L175.4,30.5 L175.4,32.6 L126.6,32.6 L93.5,32.6 L60.5,32.6 L23.2,32.6 L23.2,34.0 L24.6,35.6 L24.1,38.1 L21.9,37.6 L19.1,37.3 L15.3,36.5Z"/></clipPath>
<g clip-path="url(#clipg)">
<path d="M12.3,36.0 L12.9,37.9 L14.3,39.8 L15.5,42.6 L15.8,44.2 L16.4,45.9 L16.1,47.8 L16.6,50.3 L16.6,52.5 L16.1,55.3 L15.8,58.1 L15.5,60.9 L14.7,63.6 L13.9,65.8 L13.3,66.9 L14.2,69.2 L15.3,71.4 L15.5,73.6 L16.1,75.8 L15.3,78.0 L14.2,80.0 L16.4,82.5 L17.5,84.1 L17.7,86.9 L18.6,88.6 L21.3,91.3 L22.1,93.3 L24.6,94.6 L24.6,96.3 L25.2,98.0 L27.4,99.4 L28.5,100.7 L27.7,101.8 L29.6,104.1 L31.8,106.3 L33.4,107.9 L34.8,110.2 L35.1,112.4 L35.8,113.2 L38.4,113.2 L41.2,113.6 L42.8,114.6 L45.0,115.6 L46.9,116.0 L47.2,117.1 L48.9,117.3 L50.5,118.2 L52.7,120.1 L53.6,122.1 L54.3,123.8 L67.5,122.8 L87.6,130.5 L103.4,130.5 L103.4,128.0 L112.7,128.0 L114.5,129.8 L117.8,132.0 L121.1,134.1 L123.3,137.3 L124.4,140.1 L127.7,141.7 L130.5,143.4 L132.7,142.3 L133.8,139.2 L136.0,138.7 L140.9,139.1 L143.7,141.2 L145.3,144.0 L147.0,147.3 L149.2,150.0 L151.4,151.7 L152.0,154.5 L153.6,157.2 L156.4,158.6 L158.6,159.7 L161.9,160.3 L164.4,160.3 L163.5,157.8 L163.0,155.0 L163.3,152.3 L164.6,150.0 L166.3,147.8 L169.0,146.2 L171.8,144.8 L175.1,143.1 L177.6,141.5 L180.1,140.1 L182.5,139.5 L186.1,139.2 L189.4,140.4 L192.2,140.1 L194.9,140.9 L197.2,142.0 L199.9,142.8 L202.7,142.8 L205.1,141.7 L207.3,143.4 L208.7,142.3 L207.3,140.6 L206.2,138.7 L206.0,137.0 L207.6,136.2 L210.4,135.6 L212.6,135.8 L214.2,135.9 L215.9,136.5 L218.6,135.9 L222.0,135.6 L224.7,135.9 L227.5,137.3 L229.4,139.5 L231.6,139.8 L234.6,138.4 L236.8,137.6 L239.0,139.0 L240.7,140.9 L242.9,142.8 L243.7,145.6 L243.5,148.9 L244.3,151.2 L245.1,153.4 L246.8,155.6 L248.7,158.1 L249.2,160.3 L251.4,162.0 L252.8,164.7 L255.0,164.5 L256.7,163.9 L257.0,162.2 L257.8,160.6 L258.3,157.8 L258.6,155.0 L257.8,152.8 L256.7,150.0 L255.6,147.3 L255.9,145.9 L254.2,143.4 L252.8,140.6 L251.7,137.9 L251.2,135.1 L250.9,133.4 L251.7,130.7 L252.5,128.4 L254.2,126.5 L256.1,124.8 L258.3,123.5 L260.8,121.8 L263.0,120.1 L264.4,118.2 L266.9,116.5 L269.9,116.3 L270.7,114.6 L272.9,112.7 L276.0,111.8 L278.2,111.5 L280.4,110.2 L282.6,109.1 L283.7,108.8 L283.7,106.8 L282.6,104.1 L281.8,101.6 L281.2,99.6 L282.3,97.4 L283.4,95.8 L284.8,93.5 L285.9,91.6 L286.2,89.1 L287.0,88.3 L287.8,86.9 L289.8,85.5 L291.4,83.6 L292.0,81.4 L292.0,80.0 L292.5,79.1 L294.7,79.1 L298.6,78.3 L302.4,77.2 L303.8,76.5 L301.3,76.5 L298.0,77.0 L294.2,77.4 L293.3,76.9 L295.8,76.3 L298.0,75.5 L301.3,75.4 L303.8,75.1 L306.0,74.7 L307.9,74.2 L310.1,74.0 L311.5,73.9 L314.0,73.3 L314.3,71.7 L313.5,70.9 L312.6,71.7 L311.0,71.9 L310.1,70.3 L308.8,69.4 L309.3,68.3 L310.7,67.8 L309.6,66.4 L310.4,65.3 L311.5,63.9 L312.9,62.5 L314.8,61.4 L316.8,60.6 L319.5,59.7 L320.6,58.4 L322.5,58.9 L324.5,58.4 L326.7,57.5 L328.9,57.0 L330.8,55.8 L330.0,54.2 L328.1,51.4 L326.1,50.9 L326.2,43.3 L323.7,41.7 L321.7,42.3 L320.1,42.6 L318.3,41.1 L316.2,43.1 L314.0,45.3 L312.6,48.7 L312.4,49.8 L309.6,52.5 L308.1,53.1 L305.7,54.7 L297.5,54.7 L288.1,54.8 L284.8,55.9 L281.5,58.1 L278.7,59.7 L276.5,62.2 L272.7,62.4 L267.2,62.4 L263.3,63.3 L264.1,65.3 L264.7,66.5 L260.0,68.3 L256.1,68.9 L251.7,70.3 L248.4,71.7 L244.6,72.8 L241.8,71.4 L241.5,69.7 L244.6,68.3 L245.4,65.8 L247.0,62.5 L245.1,57.5 L245.1,53.1 L240.1,50.3 L239.0,48.7 L236.3,47.8 L234.1,46.5 L232.4,44.8 L228.0,41.5 L222.5,39.2 L217.5,37.6 L212.6,36.5 L207.6,37.9 L206.0,38.1 L203.8,37.6 L199.4,37.0 L195.5,37.9 L191.1,36.2 L187.8,34.7 L185.0,34.8 L182.8,35.3 L178.4,34.2 L177.9,32.6 L177.3,30.9 L175.4,30.5 L175.4,32.6 L126.6,32.6 L93.5,32.6 L60.5,32.6 L23.2,32.6 L23.2,34.0 L24.6,35.6 L24.1,38.1 L21.9,37.6 L19.1,37.3 L15.3,36.5Z" fill="#e1e1f7"/>
<g filter="url(#rough)">
<path d="M5.3,29.8 L25.7,29.8 L25.7,38.1 L25.2,43.7 L25.7,49.2 L25.2,54.8 L24.1,60.3 L23.5,65.8 L24.6,69.7 L26.8,73.0 L29.6,76.9 L31.8,80.8 L33.4,85.2 L35.7,90.2 L37.9,94.6 L41.2,99.1 L43.9,103.5 L45.6,107.4 L45.6,110.7 L49.4,112.9 L54.9,114.6 L57.1,118.5 L57.7,124.6 L57.7,132.3 L5.3,132.3Z" fill="#dcf4f3"/>
<path d="M147.0,99.1 L165.2,99.1 L181.7,98.8 L198.3,96.0 L214.8,95.8 L231.3,95.2 L242.4,94.1 L251.2,94.1 L257.2,95.8 L262.7,93.5 L268.3,88.6 L273.8,85.8 L280.9,81.9 L287.5,80.2 L292.0,78.0 L296.4,76.4 L304.1,74.4 L311.3,73.0 L316.8,74.2 L314.0,88.0 L292.0,99.1 L264.4,171.1 L165.2,171.1 L162.4,158.4 L158.0,146.7 L151.4,129.0 L148.6,115.7Z" fill="#dcf4f3"/>
<path d="M35.7,29.8 L133.2,29.8 L133.2,32.6 L137.6,40.9 L146.4,51.4 L143.1,60.3 L138.2,66.4 L142.0,76.9 L145.3,86.3 L148.1,99.1 L148.6,115.7 L151.4,129.0 L158.0,146.7 L162.4,158.4 L165.2,165.6 L115.6,148.9 L59.4,132.3 L59.4,123.5 L58.8,119.0 L56.0,115.7 L50.0,114.0 L46.7,111.3 L47.8,107.4 L48.9,101.8 L44.5,94.6 L40.1,89.1 L37.9,84.1 L35.1,79.1 L32.3,74.7 L30.7,70.3 L31.2,63.6 L32.3,58.1 L33.4,52.0 L35.7,47.6 L35.7,42.0 L37.9,38.1 L36.2,33.7Z" fill="#f5d2f3"/>
<path d="M35.7,103.0 L40.6,100.7 L43.9,105.2 L44.7,109.1 L41.2,110.2 L37.3,106.8Z" fill="#f5d2f3"/>
<path d="M53.8,29.8 L79.7,29.8 L78.1,36.5 L75.3,42.0 L79.2,47.0 L82.5,51.4 L86.9,54.8 L90.8,55.3 L93.5,58.1 L91.9,62.5 L88.0,64.2 L84.7,60.3 L79.7,58.6 L74.2,59.2 L68.7,60.9 L63.2,61.4 L58.8,58.6 L56.0,54.8 L53.3,50.3 L54.9,46.5 L54.9,40.9Z" fill="#e1e1f7"/>
<path d="M44.5,51.4 L50.5,49.8 L54.9,53.1 L53.3,57.0 L46.7,58.1 L42.3,55.9Z" fill="#e1e1f7"/>
<path d="M105.7,54.8 L110.1,54.8 L111.2,60.3 L107.3,60.3Z" fill="#e1e1f7"/>
<path d="M93.5,63.1 L99.0,64.2 L100.7,68.1 L95.7,69.2Z" fill="#e1e1f7"/>
<path d="M83.1,71.4 L86.9,74.2 L93.5,77.5 L107.3,75.3 L115.6,75.8 L120.0,79.1 L121.1,85.2 L120.5,92.4 L121.1,99.1 L119.4,104.6 L116.7,107.4 L112.3,105.7 L110.6,100.7 L105.7,96.9 L101.2,92.4 L102.9,86.3 L99.0,83.0 L90.8,83.6 L86.4,88.0 L84.2,83.6 L83.1,76.9Z" fill="#e1e1f7"/>
<path d="M125.5,56.4 L130.5,56.4 L130.5,62.5 L126.0,62.5Z" fill="#e1e1f7"/>
<path d="M81.4,107.9 L86.9,109.1 L92.4,112.9 L95.7,114.6 L94.6,116.3 L89.1,113.5 L83.6,110.7Z" fill="#e1e1f7"/>
<path d="M112.8,100.2 L120.0,99.6 L119.4,106.8 L116.1,105.7Z" fill="#e1e1f7"/>
</g>
<path d="M249.0,158.4 L258.6,156.7 L259.4,166.1 L250.6,166.1Z" fill="#fbe3ec"/>
<path d="M16.1,47.8 L19.7,48.1 L22.4,48.9 L23.2,51.2 L26.3,51.7 L31.8,51.2 L35.7,50.9 L40.6,49.7 L44.0,49.2 L55.4,49.2 M54.7,32.6 L54.7,46.9 L55.4,49.2 M55.4,49.2 L56.9,51.4 L57.7,53.1 L56.3,54.8 L55.2,57.0 L53.8,58.6 L55.2,59.7 L54.8,61.4 L54.8,71.4 M15.3,71.4 L87.7,71.4 M38.4,71.4 L38.4,88.0 L68.0,110.2 L68.2,111.3 L69.3,114.0 L68.2,116.0 L67.6,119.0 L68.4,121.2 L67.5,122.8 M68.0,110.2 L68.1,106.8 L67.3,104.3 L71.2,103.5 L71.2,99.1 M71.3,71.4 L71.2,99.1 M71.2,99.1 L178.3,99.1 M98.8,99.1 L98.8,130.5 M98.8,99.1 L98.8,76.9 M87.7,71.4 L87.7,76.9 L126.3,76.9 M87.7,71.4 L87.7,57.5 L85.8,56.4 L80.8,57.3 L78.1,58.1 L74.8,55.3 L72.0,51.4 L68.7,51.4 L69.3,48.7 L67.6,45.3 L64.3,42.6 L62.1,41.2 L60.2,38.3 L60.2,32.6 M87.7,57.5 L87.7,54.8 L126.3,54.8 M126.3,76.9 L126.3,54.8 M126.3,54.8 L126.3,32.6 M126.3,49.6 L167.6,49.6 M137.3,99.1 L137.3,76.9 M137.3,76.9 L126.3,76.9 M137.3,82.5 L174.6,82.5 M126.3,65.8 L156.9,65.8 L160.8,66.7 L164.1,66.7 L166.8,67.8 L168.2,68.6 M131.8,99.1 L131.8,126.8 L112.2,126.8 L112.7,128.0 M131.8,101.8 L148.6,101.8 L148.6,112.6 L152.0,113.5 L156.4,114.9 L159.7,115.7 L164.1,117.1 L167.4,116.5 L170.7,116.5 L174.6,116.4 L179.0,117.9 L181.4,118.2 M181.4,118.2 L181.4,121.2 L181.4,126.8 L182.8,129.6 L183.9,132.3 L183.4,135.6 L182.5,139.5 M178.3,101.8 L179.3,107.9 L179.1,117.7 M178.3,99.1 L178.3,101.8 M178.3,99.1 L178.4,87.4 L176.8,84.7 L174.6,82.5 L172.9,80.8 L172.0,79.2 M172.0,79.2 L194.2,79.1 L195.9,80.4 M172.0,79.2 L171.5,75.8 L170.4,73.6 L169.9,70.8 L168.2,68.6 M168.2,68.6 L167.4,65.8 L168.2,63.1 L197.0,63.1 M168.2,63.1 L168.2,53.1 L167.6,49.6 L166.6,45.9 L166.0,40.9 L164.4,36.5 L163.9,32.6 M191.6,45.3 L191.1,48.7 L188.3,51.4 L188.6,55.9 L192.7,58.1 L195.5,60.3 L197.0,63.1 M197.0,63.1 L197.4,66.9 L200.2,68.6 L202.7,72.2 L201.0,74.2 L198.3,75.8 L197.7,78.6 L195.9,80.4 L196.0,82.5 L198.8,85.8 L200.5,88.0 L202.9,89.1 L202.4,91.9 L205.4,94.6 L206.5,97.4 L208.5,99.1 M178.3,101.8 L202.9,101.8 L201.8,103.0 L203.2,104.6 L205.4,104.6 M208.5,99.1 L206.8,101.8 L205.4,104.6 M205.4,104.6 L203.8,109.6 L202.1,112.4 L198.8,115.7 L197.7,119.0 L197.4,121.2 L197.4,124.6 L196.0,127.9 L194.9,132.3 L205.3,132.3 L206.0,134.5 L206.0,137.0 M181.4,121.2 L197.4,121.2 M202.1,110.2 L235.2,110.2 M213.7,110.2 L212.6,127.3 L212.6,135.8 M228.0,110.2 L230.2,122.3 L231.3,125.1 L230.8,129.0 L231.3,132.3 L231.9,134.0 L242.4,134.5 L246.8,134.7 L247.9,133.7 L250.9,134.0 M217.0,132.3 L231.3,132.3 M217.0,132.3 L217.8,134.5 L217.8,136.2 M241.8,110.2 L243.5,111.8 L245.7,114.6 L248.4,118.5 L250.6,121.2 L252.8,124.6 L253.9,126.5 M235.2,110.2 L241.8,110.2 L245.7,109.1 L253.1,109.3 L253.9,110.2 L257.2,111.2 L260.5,111.3 L266.9,116.5 M235.2,110.2 L236.8,108.8 L239.6,107.1 L242.9,104.9 L246.2,104.1 L249.8,101.3 M206.8,101.8 L214.5,101.8 L214.5,100.9 L238.7,101.3 L249.8,101.3 M249.8,101.3 L281.7,101.6 M238.7,101.3 L243.5,99.1 L246.2,97.4 L248.0,96.1 L246.2,94.6 L244.6,92.6 M244.6,92.6 L246.8,90.2 L249.0,88.0 L251.7,86.1 L254.2,84.1 L255.6,80.8 L256.0,78.9 M244.6,92.6 L241.8,89.9 L238.5,89.9 L234.6,88.6 L232.3,87.4 L229.1,89.5 L226.4,92.4 L223.6,93.5 L220.9,93.8 L217.0,93.8 L214.5,94.6 L213.7,96.9 L212.0,98.5 L208.5,99.1 M217.4,72.7 L217.4,86.1 L217.0,88.6 L217.3,90.2 L215.3,92.2 L214.5,94.6 M232.3,73.0 L232.3,87.4 M217.4,72.7 L232.3,73.0 L239.9,72.9 M256.0,69.7 L256.0,84.0 L261.8,84.0 L261.8,86.9 L263.8,85.5 L266.1,84.7 L268.3,84.4 L271.0,85.0 L271.6,86.2 M271.6,86.2 L268.8,87.2 L267.7,88.6 L264.9,90.2 L261.6,91.9 L260.0,93.5 L257.2,96.3 L254.2,97.1 L251.2,97.4 L248.0,96.1 M261.8,84.0 L282.1,84.0 L282.1,91.0 L286.2,91.0 M271.6,86.2 L272.9,87.4 L275.1,88.8 L274.3,91.3 L276.0,93.0 L279.6,93.8 M282.1,84.0 L284.2,83.4 L285.9,82.5 L287.8,81.4 L286.4,79.7 L285.6,77.8 L288.1,75.0 M256.0,71.4 L284.5,71.4 L285.9,72.5 L288.1,75.0 M288.1,75.0 L292.5,76.9 M293.9,76.9 L294.7,75.3 L294.7,71.1 L296.0,67.2 L295.8,62.5 L295.5,54.7 M294.7,71.1 L304.1,71.3 L306.4,71.3 M304.1,71.3 L303.8,75.1 M306.4,71.3 L306.6,72.8 L307.9,74.2 M296.0,67.2 L306.8,67.5 L309.0,66.5 M300.5,67.3 L300.8,64.2 L303.0,60.3 L305.2,57.0 L305.7,54.7 M310.1,65.4 L308.6,62.8 L308.2,57.5 L308.1,53.1 M205.6,37.6 L201.2,46.0 L203.2,47.3 L207.1,48.1 L211.5,49.2 L214.2,50.3 L215.3,51.2 L217.0,54.3 L224.0,53.4 L220.1,60.4 L219.2,66.6 L217.4,72.7 M200.2,68.6 L215.9,68.6" fill="none" stroke="#4a4a5e" stroke-opacity="0.32" stroke-width="0.9"/>
</g>
<path d="M12.3,36.0 L12.9,37.9 L14.3,39.8 L15.5,42.6 L15.8,44.2 L16.4,45.9 L16.1,47.8 L16.6,50.3 L16.6,52.5 L16.1,55.3 L15.8,58.1 L15.5,60.9 L14.7,63.6 L13.9,65.8 L13.3,66.9 L14.2,69.2 L15.3,71.4 L15.5,73.6 L16.1,75.8 L15.3,78.0 L14.2,80.0 L16.4,82.5 L17.5,84.1 L17.7,86.9 L18.6,88.6 L21.3,91.3 L22.1,93.3 L24.6,94.6 L24.6,96.3 L25.2,98.0 L27.4,99.4 L28.5,100.7 L27.7,101.8 L29.6,104.1 L31.8,106.3 L33.4,107.9 L34.8,110.2 L35.1,112.4 L35.8,113.2 L38.4,113.2 L41.2,113.6 L42.8,114.6 L45.0,115.6 L46.9,116.0 L47.2,117.1 L48.9,117.3 L50.5,118.2 L52.7,120.1 L53.6,122.1 L54.3,123.8 L67.5,122.8 L87.6,130.5 L103.4,130.5 L103.4,128.0 L112.7,128.0 L114.5,129.8 L117.8,132.0 L121.1,134.1 L123.3,137.3 L124.4,140.1 L127.7,141.7 L130.5,143.4 L132.7,142.3 L133.8,139.2 L136.0,138.7 L140.9,139.1 L143.7,141.2 L145.3,144.0 L147.0,147.3 L149.2,150.0 L151.4,151.7 L152.0,154.5 L153.6,157.2 L156.4,158.6 L158.6,159.7 L161.9,160.3 L164.4,160.3 L163.5,157.8 L163.0,155.0 L163.3,152.3 L164.6,150.0 L166.3,147.8 L169.0,146.2 L171.8,144.8 L175.1,143.1 L177.6,141.5 L180.1,140.1 L182.5,139.5 L186.1,139.2 L189.4,140.4 L192.2,140.1 L194.9,140.9 L197.2,142.0 L199.9,142.8 L202.7,142.8 L205.1,141.7 L207.3,143.4 L208.7,142.3 L207.3,140.6 L206.2,138.7 L206.0,137.0 L207.6,136.2 L210.4,135.6 L212.6,135.8 L214.2,135.9 L215.9,136.5 L218.6,135.9 L222.0,135.6 L224.7,135.9 L227.5,137.3 L229.4,139.5 L231.6,139.8 L234.6,138.4 L236.8,137.6 L239.0,139.0 L240.7,140.9 L242.9,142.8 L243.7,145.6 L243.5,148.9 L244.3,151.2 L245.1,153.4 L246.8,155.6 L248.7,158.1 L249.2,160.3 L251.4,162.0 L252.8,164.7 L255.0,164.5 L256.7,163.9 L257.0,162.2 L257.8,160.6 L258.3,157.8 L258.6,155.0 L257.8,152.8 L256.7,150.0 L255.6,147.3 L255.9,145.9 L254.2,143.4 L252.8,140.6 L251.7,137.9 L251.2,135.1 L250.9,133.4 L251.7,130.7 L252.5,128.4 L254.2,126.5 L256.1,124.8 L258.3,123.5 L260.8,121.8 L263.0,120.1 L264.4,118.2 L266.9,116.5 L269.9,116.3 L270.7,114.6 L272.9,112.7 L276.0,111.8 L278.2,111.5 L280.4,110.2 L282.6,109.1 L283.7,108.8 L283.7,106.8 L282.6,104.1 L281.8,101.6 L281.2,99.6 L282.3,97.4 L283.4,95.8 L284.8,93.5 L285.9,91.6 L286.2,89.1 L287.0,88.3 L287.8,86.9 L289.8,85.5 L291.4,83.6 L292.0,81.4 L292.0,80.0 L292.5,79.1 L294.7,79.1 L298.6,78.3 L302.4,77.2 L303.8,76.5 L301.3,76.5 L298.0,77.0 L294.2,77.4 L293.3,76.9 L295.8,76.3 L298.0,75.5 L301.3,75.4 L303.8,75.1 L306.0,74.7 L307.9,74.2 L310.1,74.0 L311.5,73.9 L314.0,73.3 L314.3,71.7 L313.5,70.9 L312.6,71.7 L311.0,71.9 L310.1,70.3 L308.8,69.4 L309.3,68.3 L310.7,67.8 L309.6,66.4 L310.4,65.3 L311.5,63.9 L312.9,62.5 L314.8,61.4 L316.8,60.6 L319.5,59.7 L320.6,58.4 L322.5,58.9 L324.5,58.4 L326.7,57.5 L328.9,57.0 L330.8,55.8 L330.0,54.2 L328.1,51.4 L326.1,50.9 L326.2,43.3 L323.7,41.7 L321.7,42.3 L320.1,42.6 L318.3,41.1 L316.2,43.1 L314.0,45.3 L312.6,48.7 L312.4,49.8 L309.6,52.5 L308.1,53.1 L305.7,54.7 L297.5,54.7 L288.1,54.8 L284.8,55.9 L281.5,58.1 L278.7,59.7 L276.5,62.2 L272.7,62.4 L267.2,62.4 L263.3,63.3 L264.1,65.3 L264.7,66.5 L260.0,68.3 L256.1,68.9 L251.7,70.3 L248.4,71.7 L244.6,72.8 L241.8,71.4 L241.5,69.7 L244.6,68.3 L245.4,65.8 L247.0,62.5 L245.1,57.5 L245.1,53.1 L240.1,50.3 L239.0,48.7 L236.3,47.8 L234.1,46.5 L232.4,44.8 L228.0,41.5 L222.5,39.2 L217.5,37.6 L212.6,36.5 L207.6,37.9 L206.0,38.1 L203.8,37.6 L199.4,37.0 L195.5,37.9 L191.1,36.2 L187.8,34.7 L185.0,34.8 L182.8,35.3 L178.4,34.2 L177.9,32.6 L177.3,30.9 L175.4,30.5 L175.4,32.6 L126.6,32.6 L93.5,32.6 L60.5,32.6 L23.2,32.6 L23.2,34.0 L24.6,35.6 L24.1,38.1 L21.9,37.6 L19.1,37.3 L15.3,36.5Z" fill="none" stroke="#8c8c8c" stroke-width="0.6"/>
<path d="M191.1,140.4 L194.9,140.9 L197.2,142.0 L198.8,142.6 L199.9,143.1 L201.6,142.3 L202.7,143.0 L204.0,142.0 L205.1,141.7 L207.3,143.4 L208.7,142.3 L207.3,140.6 L206.2,138.7 L207.1,137.6 M280.9,99.4 L279.0,97.7 L279.6,95.8 L279.3,94.1 L278.2,91.9 L278.7,89.1 L278.5,86.9 L280.7,85.0 M281.2,98.2 L281.8,95.8 L281.2,93.0 L279.8,91.6 L280.7,89.1 L279.8,86.9 L280.9,85.8 M279.3,93.3 L276.5,91.9 L274.9,89.7 M279.3,99.1 L276.5,97.7 M286.2,89.1 L284.5,87.2 L283.4,85.2 M278.2,111.0 L279.8,108.5 L278.2,106.8 L280.9,105.2 L280.4,103.5 L281.5,101.8 M310.1,65.3 L311.5,63.9 L312.9,62.2 L314.0,62.0 L314.8,61.1 L315.7,61.4 L316.8,60.6 L317.9,60.9 L319.5,59.7 L320.1,58.6 L321.2,58.9 L322.5,58.9 L323.4,58.1 L324.5,58.4 L325.6,57.8 L326.7,57.5 L327.8,57.5 L328.9,57.0 L330.8,55.8 M23.2,34.0 L24.6,35.6 L24.1,38.1 L25.2,40.4 L24.6,42.0 L22.4,43.1 L23.5,40.4 L23.0,37.9 M256.7,164.5 L255.6,165.8 L253.4,166.9 L250.6,167.8 L249.0,168.1 M243.5,167.5 L242.6,167.7 M24.6,94.6 L25.7,93.8 L26.8,95.8 L25.2,95.2 M36.8,115.6 L40.6,115.7 M46.1,118.7 L47.8,119.3 M41.2,119.9 L41.7,120.1 M46.4,121.5 L46.9,122.3 M164.1,160.0 L163.5,155.6 L163.8,151.7 L165.2,149.5 M176.8,141.7 L177.9,140.1 L176.2,139.5 M214.2,135.9 L214.8,134.0 L215.3,135.6 M244.0,151.7 L245.1,149.5 L244.6,150.6 M314.0,73.3 L314.3,71.7 L313.5,70.9 L312.6,71.7 L311.0,71.9 M293.3,76.9 L295.8,76.3 L298.0,75.5 L301.3,75.4 M306.3,74.4 L306.8,73.0 L307.4,74.2 M21.0,35.1 L22.1,34.3 L23.0,34.8 M15.8,44.0 L16.9,44.2 M16.4,45.9 L16.6,47.0 M15.3,63.6 L15.8,64.2" fill="none" stroke="#3a3a3a" stroke-width="0.7" stroke-linejoin="round"/>
<path d="M310.1,65.3 L311.3,64.2 L312.1,63.3 L312.9,62.2 L313.7,62.2 L314.6,61.1 L315.4,61.7 L316.2,60.6 L317.0,61.1 L317.9,60.3 L319.2,60.0 L319.8,58.6 L320.9,59.2 L321.7,58.4 L322.8,59.2 L323.7,57.8 L324.8,58.6 L325.6,57.5 L326.7,57.8 L327.8,57.0 L328.9,57.3 L330.0,56.1 L330.8,55.8" fill="none" stroke="#333" stroke-width="1.2" stroke-linejoin="round"/></g>
<g transform="translate(352.3,715.3)"><clipPath id="cliph"><path d="M12.3,36.0 L12.9,37.9 L14.3,39.8 L15.5,42.6 L15.8,44.2 L16.4,45.9 L16.1,47.8 L16.6,50.3 L16.6,52.5 L16.1,55.3 L15.8,58.1 L15.5,60.9 L14.7,63.6 L13.9,65.8 L13.3,66.9 L14.2,69.2 L15.3,71.4 L15.5,73.6 L16.1,75.8 L15.3,78.0 L14.2,80.0 L16.4,82.5 L17.5,84.1 L17.7,86.9 L18.6,88.6 L21.3,91.3 L22.1,93.3 L24.6,94.6 L24.6,96.3 L25.2,98.0 L27.4,99.4 L28.5,100.7 L27.7,101.8 L29.6,104.1 L31.8,106.3 L33.4,107.9 L34.8,110.2 L35.1,112.4 L35.8,113.2 L38.4,113.2 L41.2,113.6 L42.8,114.6 L45.0,115.6 L46.9,116.0 L47.2,117.1 L48.9,117.3 L50.5,118.2 L52.7,120.1 L53.6,122.1 L54.3,123.8 L67.5,122.8 L87.6,130.5 L103.4,130.5 L103.4,128.0 L112.7,128.0 L114.5,129.8 L117.8,132.0 L121.1,134.1 L123.3,137.3 L124.4,140.1 L127.7,141.7 L130.5,143.4 L132.7,142.3 L133.8,139.2 L136.0,138.7 L140.9,139.1 L143.7,141.2 L145.3,144.0 L147.0,147.3 L149.2,150.0 L151.4,151.7 L152.0,154.5 L153.6,157.2 L156.4,158.6 L158.6,159.7 L161.9,160.3 L164.4,160.3 L163.5,157.8 L163.0,155.0 L163.3,152.3 L164.6,150.0 L166.3,147.8 L169.0,146.2 L171.8,144.8 L175.1,143.1 L177.6,141.5 L180.1,140.1 L182.5,139.5 L186.1,139.2 L189.4,140.4 L192.2,140.1 L194.9,140.9 L197.2,142.0 L199.9,142.8 L202.7,142.8 L205.1,141.7 L207.3,143.4 L208.7,142.3 L207.3,140.6 L206.2,138.7 L206.0,137.0 L207.6,136.2 L210.4,135.6 L212.6,135.8 L214.2,135.9 L215.9,136.5 L218.6,135.9 L222.0,135.6 L224.7,135.9 L227.5,137.3 L229.4,139.5 L231.6,139.8 L234.6,138.4 L236.8,137.6 L239.0,139.0 L240.7,140.9 L242.9,142.8 L243.7,145.6 L243.5,148.9 L244.3,151.2 L245.1,153.4 L246.8,155.6 L248.7,158.1 L249.2,160.3 L251.4,162.0 L252.8,164.7 L255.0,164.5 L256.7,163.9 L257.0,162.2 L257.8,160.6 L258.3,157.8 L258.6,155.0 L257.8,152.8 L256.7,150.0 L255.6,147.3 L255.9,145.9 L254.2,143.4 L252.8,140.6 L251.7,137.9 L251.2,135.1 L250.9,133.4 L251.7,130.7 L252.5,128.4 L254.2,126.5 L256.1,124.8 L258.3,123.5 L260.8,121.8 L263.0,120.1 L264.4,118.2 L266.9,116.5 L269.9,116.3 L270.7,114.6 L272.9,112.7 L276.0,111.8 L278.2,111.5 L280.4,110.2 L282.6,109.1 L283.7,108.8 L283.7,106.8 L282.6,104.1 L281.8,101.6 L281.2,99.6 L282.3,97.4 L283.4,95.8 L284.8,93.5 L285.9,91.6 L286.2,89.1 L287.0,88.3 L287.8,86.9 L289.8,85.5 L291.4,83.6 L292.0,81.4 L292.0,80.0 L292.5,79.1 L294.7,79.1 L298.6,78.3 L302.4,77.2 L303.8,76.5 L301.3,76.5 L298.0,77.0 L294.2,77.4 L293.3,76.9 L295.8,76.3 L298.0,75.5 L301.3,75.4 L303.8,75.1 L306.0,74.7 L307.9,74.2 L310.1,74.0 L311.5,73.9 L314.0,73.3 L314.3,71.7 L313.5,70.9 L312.6,71.7 L311.0,71.9 L310.1,70.3 L308.8,69.4 L309.3,68.3 L310.7,67.8 L309.6,66.4 L310.4,65.3 L311.5,63.9 L312.9,62.5 L314.8,61.4 L316.8,60.6 L319.5,59.7 L320.6,58.4 L322.5,58.9 L324.5,58.4 L326.7,57.5 L328.9,57.0 L330.8,55.8 L330.0,54.2 L328.1,51.4 L326.1,50.9 L326.2,43.3 L323.7,41.7 L321.7,42.3 L320.1,42.6 L318.3,41.1 L316.2,43.1 L314.0,45.3 L312.6,48.7 L312.4,49.8 L309.6,52.5 L308.1,53.1 L305.7,54.7 L297.5,54.7 L288.1,54.8 L284.8,55.9 L281.5,58.1 L278.7,59.7 L276.5,62.2 L272.7,62.4 L267.2,62.4 L263.3,63.3 L264.1,65.3 L264.7,66.5 L260.0,68.3 L256.1,68.9 L251.7,70.3 L248.4,71.7 L244.6,72.8 L241.8,71.4 L241.5,69.7 L244.6,68.3 L245.4,65.8 L247.0,62.5 L245.1,57.5 L245.1,53.1 L240.1,50.3 L239.0,48.7 L236.3,47.8 L234.1,46.5 L232.4,44.8 L228.0,41.5 L222.5,39.2 L217.5,37.6 L212.6,36.5 L207.6,37.9 L206.0,38.1 L203.8,37.6 L199.4,37.0 L195.5,37.9 L191.1,36.2 L187.8,34.7 L185.0,34.8 L182.8,35.3 L178.4,34.2 L177.9,32.6 L177.3,30.9 L175.4,30.5 L175.4,32.6 L126.6,32.6 L93.5,32.6 L60.5,32.6 L23.2,32.6 L23.2,34.0 L24.6,35.6 L24.1,38.1 L21.9,37.6 L19.1,37.3 L15.3,36.5Z"/></clipPath>
<g clip-path="url(#cliph)">
<path d="M12.3,36.0 L12.9,37.9 L14.3,39.8 L15.5,42.6 L15.8,44.2 L16.4,45.9 L16.1,47.8 L16.6,50.3 L16.6,52.5 L16.1,55.3 L15.8,58.1 L15.5,60.9 L14.7,63.6 L13.9,65.8 L13.3,66.9 L14.2,69.2 L15.3,71.4 L15.5,73.6 L16.1,75.8 L15.3,78.0 L14.2,80.0 L16.4,82.5 L17.5,84.1 L17.7,86.9 L18.6,88.6 L21.3,91.3 L22.1,93.3 L24.6,94.6 L24.6,96.3 L25.2,98.0 L27.4,99.4 L28.5,100.7 L27.7,101.8 L29.6,104.1 L31.8,106.3 L33.4,107.9 L34.8,110.2 L35.1,112.4 L35.8,113.2 L38.4,113.2 L41.2,113.6 L42.8,114.6 L45.0,115.6 L46.9,116.0 L47.2,117.1 L48.9,117.3 L50.5,118.2 L52.7,120.1 L53.6,122.1 L54.3,123.8 L67.5,122.8 L87.6,130.5 L103.4,130.5 L103.4,128.0 L112.7,128.0 L114.5,129.8 L117.8,132.0 L121.1,134.1 L123.3,137.3 L124.4,140.1 L127.7,141.7 L130.5,143.4 L132.7,142.3 L133.8,139.2 L136.0,138.7 L140.9,139.1 L143.7,141.2 L145.3,144.0 L147.0,147.3 L149.2,150.0 L151.4,151.7 L152.0,154.5 L153.6,157.2 L156.4,158.6 L158.6,159.7 L161.9,160.3 L164.4,160.3 L163.5,157.8 L163.0,155.0 L163.3,152.3 L164.6,150.0 L166.3,147.8 L169.0,146.2 L171.8,144.8 L175.1,143.1 L177.6,141.5 L180.1,140.1 L182.5,139.5 L186.1,139.2 L189.4,140.4 L192.2,140.1 L194.9,140.9 L197.2,142.0 L199.9,142.8 L202.7,142.8 L205.1,141.7 L207.3,143.4 L208.7,142.3 L207.3,140.6 L206.2,138.7 L206.0,137.0 L207.6,136.2 L210.4,135.6 L212.6,135.8 L214.2,135.9 L215.9,136.5 L218.6,135.9 L222.0,135.6 L224.7,135.9 L227.5,137.3 L229.4,139.5 L231.6,139.8 L234.6,138.4 L236.8,137.6 L239.0,139.0 L240.7,140.9 L242.9,142.8 L243.7,145.6 L243.5,148.9 L244.3,151.2 L245.1,153.4 L246.8,155.6 L248.7,158.1 L249.2,160.3 L251.4,162.0 L252.8,164.7 L255.0,164.5 L256.7,163.9 L257.0,162.2 L257.8,160.6 L258.3,157.8 L258.6,155.0 L257.8,152.8 L256.7,150.0 L255.6,147.3 L255.9,145.9 L254.2,143.4 L252.8,140.6 L251.7,137.9 L251.2,135.1 L250.9,133.4 L251.7,130.7 L252.5,128.4 L254.2,126.5 L256.1,124.8 L258.3,123.5 L260.8,121.8 L263.0,120.1 L264.4,118.2 L266.9,116.5 L269.9,116.3 L270.7,114.6 L272.9,112.7 L276.0,111.8 L278.2,111.5 L280.4,110.2 L282.6,109.1 L283.7,108.8 L283.7,106.8 L282.6,104.1 L281.8,101.6 L281.2,99.6 L282.3,97.4 L283.4,95.8 L284.8,93.5 L285.9,91.6 L286.2,89.1 L287.0,88.3 L287.8,86.9 L289.8,85.5 L291.4,83.6 L292.0,81.4 L292.0,80.0 L292.5,79.1 L294.7,79.1 L298.6,78.3 L302.4,77.2 L303.8,76.5 L301.3,76.5 L298.0,77.0 L294.2,77.4 L293.3,76.9 L295.8,76.3 L298.0,75.5 L301.3,75.4 L303.8,75.1 L306.0,74.7 L307.9,74.2 L310.1,74.0 L311.5,73.9 L314.0,73.3 L314.3,71.7 L313.5,70.9 L312.6,71.7 L311.0,71.9 L310.1,70.3 L308.8,69.4 L309.3,68.3 L310.7,67.8 L309.6,66.4 L310.4,65.3 L311.5,63.9 L312.9,62.5 L314.8,61.4 L316.8,60.6 L319.5,59.7 L320.6,58.4 L322.5,58.9 L324.5,58.4 L326.7,57.5 L328.9,57.0 L330.8,55.8 L330.0,54.2 L328.1,51.4 L326.1,50.9 L326.2,43.3 L323.7,41.7 L321.7,42.3 L320.1,42.6 L318.3,41.1 L316.2,43.1 L314.0,45.3 L312.6,48.7 L312.4,49.8 L309.6,52.5 L308.1,53.1 L305.7,54.7 L297.5,54.7 L288.1,54.8 L284.8,55.9 L281.5,58.1 L278.7,59.7 L276.5,62.2 L272.7,62.4 L267.2,62.4 L263.3,63.3 L264.1,65.3 L264.7,66.5 L260.0,68.3 L256.1,68.9 L251.7,70.3 L248.4,71.7 L244.6,72.8 L241.8,71.4 L241.5,69.7 L244.6,68.3 L245.4,65.8 L247.0,62.5 L245.1,57.5 L245.1,53.1 L240.1,50.3 L239.0,48.7 L236.3,47.8 L234.1,46.5 L232.4,44.8 L228.0,41.5 L222.5,39.2 L217.5,37.6 L212.6,36.5 L207.6,37.9 L206.0,38.1 L203.8,37.6 L199.4,37.0 L195.5,37.9 L191.1,36.2 L187.8,34.7 L185.0,34.8 L182.8,35.3 L178.4,34.2 L177.9,32.6 L177.3,30.9 L175.4,30.5 L175.4,32.6 L126.6,32.6 L93.5,32.6 L60.5,32.6 L23.2,32.6 L23.2,34.0 L24.6,35.6 L24.1,38.1 L21.9,37.6 L19.1,37.3 L15.3,36.5Z" fill="#e1e1f7"/>
<g filter="url(#rough)">
<path d="M5.3,29.8 L25.7,29.8 L25.7,38.1 L25.2,43.7 L25.7,49.2 L25.2,54.8 L24.1,60.3 L23.5,65.8 L24.6,69.7 L26.8,73.0 L29.6,76.9 L31.8,80.8 L33.4,85.2 L35.7,90.2 L37.9,94.6 L41.2,99.1 L43.9,103.5 L45.6,107.4 L45.6,110.7 L49.4,112.9 L54.9,114.6 L57.1,118.5 L57.7,124.6 L57.7,132.3 L5.3,132.3Z" fill="#dcf4f3"/>
<path d="M147.0,99.1 L165.2,99.1 L181.7,98.8 L198.3,96.0 L214.8,95.8 L231.3,95.2 L242.4,94.1 L251.2,94.1 L257.2,95.8 L262.7,93.5 L268.3,88.6 L273.8,85.8 L280.9,81.9 L287.5,80.2 L292.0,78.0 L296.4,76.4 L304.1,74.4 L311.3,73.0 L316.8,74.2 L314.0,88.0 L292.0,99.1 L264.4,171.1 L165.2,171.1 L162.4,158.4 L158.0,146.7 L151.4,129.0 L148.6,115.7Z" fill="#dcf4f3"/>
<path d="M35.7,29.8 L133.2,29.8 L133.2,32.6 L137.6,40.9 L146.4,51.4 L143.1,60.3 L138.2,66.4 L142.0,76.9 L145.3,86.3 L148.1,99.1 L148.6,115.7 L151.4,129.0 L158.0,146.7 L162.4,158.4 L165.2,165.6 L115.6,148.9 L59.4,132.3 L59.4,123.5 L58.8,119.0 L56.0,115.7 L50.0,114.0 L46.7,111.3 L47.8,107.4 L48.9,101.8 L44.5,94.6 L40.1,89.1 L37.9,84.1 L35.1,79.1 L32.3,74.7 L30.7,70.3 L31.2,63.6 L32.3,58.1 L33.4,52.0 L35.7,47.6 L35.7,42.0 L37.9,38.1 L36.2,33.7Z" fill="#f5d2f3"/>
<path d="M35.7,103.0 L40.6,100.7 L43.9,105.2 L44.7,109.1 L41.2,110.2 L37.3,106.8Z" fill="#f5d2f3"/>
<path d="M53.8,29.8 L79.7,29.8 L78.1,36.5 L75.3,42.0 L79.2,47.0 L82.5,51.4 L86.9,54.8 L90.8,55.3 L93.5,58.1 L91.9,62.5 L88.0,64.2 L84.7,60.3 L79.7,58.6 L74.2,59.2 L68.7,60.9 L63.2,61.4 L58.8,58.6 L56.0,54.8 L53.3,50.3 L54.9,46.5 L54.9,40.9Z" fill="#e1e1f7"/>
<path d="M44.5,51.4 L50.5,49.8 L54.9,53.1 L53.3,57.0 L46.7,58.1 L42.3,55.9Z" fill="#e1e1f7"/>
<path d="M105.7,54.8 L110.1,54.8 L111.2,60.3 L107.3,60.3Z" fill="#e1e1f7"/>
<path d="M93.5,63.1 L99.0,64.2 L100.7,68.1 L95.7,69.2Z" fill="#e1e1f7"/>
<path d="M83.1,71.4 L86.9,74.2 L93.5,77.5 L107.3,75.3 L115.6,75.8 L120.0,79.1 L121.1,85.2 L120.5,92.4 L121.1,99.1 L119.4,104.6 L116.7,107.4 L112.3,105.7 L110.6,100.7 L105.7,96.9 L101.2,92.4 L102.9,86.3 L99.0,83.0 L90.8,83.6 L86.4,88.0 L84.2,83.6 L83.1,76.9Z" fill="#e1e1f7"/>
<path d="M125.5,56.4 L130.5,56.4 L130.5,62.5 L126.0,62.5Z" fill="#e1e1f7"/>
<path d="M81.4,107.9 L86.9,109.1 L92.4,112.9 L95.7,114.6 L94.6,116.3 L89.1,113.5 L83.6,110.7Z" fill="#e1e1f7"/>
<path d="M112.8,100.2 L120.0,99.6 L119.4,106.8 L116.1,105.7Z" fill="#e1e1f7"/>
</g>
<path d="M249.0,158.4 L258.6,156.7 L259.4,166.1 L250.6,166.1Z" fill="#fbe3ec"/>
<path d="M16.1,47.8 L19.7,48.1 L22.4,48.9 L23.2,51.2 L26.3,51.7 L31.8,51.2 L35.7,50.9 L40.6,49.7 L44.0,49.2 L55.4,49.2 M54.7,32.6 L54.7,46.9 L55.4,49.2 M55.4,49.2 L56.9,51.4 L57.7,53.1 L56.3,54.8 L55.2,57.0 L53.8,58.6 L55.2,59.7 L54.8,61.4 L54.8,71.4 M15.3,71.4 L87.7,71.4 M38.4,71.4 L38.4,88.0 L68.0,110.2 L68.2,111.3 L69.3,114.0 L68.2,116.0 L67.6,119.0 L68.4,121.2 L67.5,122.8 M68.0,110.2 L68.1,106.8 L67.3,104.3 L71.2,103.5 L71.2,99.1 M71.3,71.4 L71.2,99.1 M71.2,99.1 L178.3,99.1 M98.8,99.1 L98.8,130.5 M98.8,99.1 L98.8,76.9 M87.7,71.4 L87.7,76.9 L126.3,76.9 M87.7,71.4 L87.7,57.5 L85.8,56.4 L80.8,57.3 L78.1,58.1 L74.8,55.3 L72.0,51.4 L68.7,51.4 L69.3,48.7 L67.6,45.3 L64.3,42.6 L62.1,41.2 L60.2,38.3 L60.2,32.6 M87.7,57.5 L87.7,54.8 L126.3,54.8 M126.3,76.9 L126.3,54.8 M126.3,54.8 L126.3,32.6 M126.3,49.6 L167.6,49.6 M137.3,99.1 L137.3,76.9 M137.3,76.9 L126.3,76.9 M137.3,82.5 L174.6,82.5 M126.3,65.8 L156.9,65.8 L160.8,66.7 L164.1,66.7 L166.8,67.8 L168.2,68.6 M131.8,99.1 L131.8,126.8 L112.2,126.8 L112.7,128.0 M131.8,101.8 L148.6,101.8 L148.6,112.6 L152.0,113.5 L156.4,114.9 L159.7,115.7 L164.1,117.1 L167.4,116.5 L170.7,116.5 L174.6,116.4 L179.0,117.9 L181.4,118.2 M181.4,118.2 L181.4,121.2 L181.4,126.8 L182.8,129.6 L183.9,132.3 L183.4,135.6 L182.5,139.5 M178.3,101.8 L179.3,107.9 L179.1,117.7 M178.3,99.1 L178.3,101.8 M178.3,99.1 L178.4,87.4 L176.8,84.7 L174.6,82.5 L172.9,80.8 L172.0,79.2 M172.0,79.2 L194.2,79.1 L195.9,80.4 M172.0,79.2 L171.5,75.8 L170.4,73.6 L169.9,70.8 L168.2,68.6 M168.2,68.6 L167.4,65.8 L168.2,63.1 L197.0,63.1 M168.2,63.1 L168.2,53.1 L167.6,49.6 L166.6,45.9 L166.0,40.9 L164.4,36.5 L163.9,32.6 M191.6,45.3 L191.1,48.7 L188.3,51.4 L188.6,55.9 L192.7,58.1 L195.5,60.3 L197.0,63.1 M197.0,63.1 L197.4,66.9 L200.2,68.6 L202.7,72.2 L201.0,74.2 L198.3,75.8 L197.7,78.6 L195.9,80.4 L196.0,82.5 L198.8,85.8 L200.5,88.0 L202.9,89.1 L202.4,91.9 L205.4,94.6 L206.5,97.4 L208.5,99.1 M178.3,101.8 L202.9,101.8 L201.8,103.0 L203.2,104.6 L205.4,104.6 M208.5,99.1 L206.8,101.8 L205.4,104.6 M205.4,104.6 L203.8,109.6 L202.1,112.4 L198.8,115.7 L197.7,119.0 L197.4,121.2 L197.4,124.6 L196.0,127.9 L194.9,132.3 L205.3,132.3 L206.0,134.5 L206.0,137.0 M181.4,121.2 L197.4,121.2 M202.1,110.2 L235.2,110.2 M213.7,110.2 L212.6,127.3 L212.6,135.8 M228.0,110.2 L230.2,122.3 L231.3,125.1 L230.8,129.0 L231.3,132.3 L231.9,134.0 L242.4,134.5 L246.8,134.7 L247.9,133.7 L250.9,134.0 M217.0,132.3 L231.3,132.3 M217.0,132.3 L217.8,134.5 L217.8,136.2 M241.8,110.2 L243.5,111.8 L245.7,114.6 L248.4,118.5 L250.6,121.2 L252.8,124.6 L253.9,126.5 M235.2,110.2 L241.8,110.2 L245.7,109.1 L253.1,109.3 L253.9,110.2 L257.2,111.2 L260.5,111.3 L266.9,116.5 M235.2,110.2 L236.8,108.8 L239.6,107.1 L242.9,104.9 L246.2,104.1 L249.8,101.3 M206.8,101.8 L214.5,101.8 L214.5,100.9 L238.7,101.3 L249.8,101.3 M249.8,101.3 L281.7,101.6 M238.7,101.3 L243.5,99.1 L246.2,97.4 L248.0,96.1 L246.2,94.6 L244.6,92.6 M244.6,92.6 L246.8,90.2 L249.0,88.0 L251.7,86.1 L254.2,84.1 L255.6,80.8 L256.0,78.9 M244.6,92.6 L241.8,89.9 L238.5,89.9 L234.6,88.6 L232.3,87.4 L229.1,89.5 L226.4,92.4 L223.6,93.5 L220.9,93.8 L217.0,93.8 L214.5,94.6 L213.7,96.9 L212.0,98.5 L208.5,99.1 M217.4,72.7 L217.4,86.1 L217.0,88.6 L217.3,90.2 L215.3,92.2 L214.5,94.6 M232.3,73.0 L232.3,87.4 M217.4,72.7 L232.3,73.0 L239.9,72.9 M256.0,69.7 L256.0,84.0 L261.8,84.0 L261.8,86.9 L263.8,85.5 L266.1,84.7 L268.3,84.4 L271.0,85.0 L271.6,86.2 M271.6,86.2 L268.8,87.2 L267.7,88.6 L264.9,90.2 L261.6,91.9 L260.0,93.5 L257.2,96.3 L254.2,97.1 L251.2,97.4 L248.0,96.1 M261.8,84.0 L282.1,84.0 L282.1,91.0 L286.2,91.0 M271.6,86.2 L272.9,87.4 L275.1,88.8 L274.3,91.3 L276.0,93.0 L279.6,93.8 M282.1,84.0 L284.2,83.4 L285.9,82.5 L287.8,81.4 L286.4,79.7 L285.6,77.8 L288.1,75.0 M256.0,71.4 L284.5,71.4 L285.9,72.5 L288.1,75.0 M288.1,75.0 L292.5,76.9 M293.9,76.9 L294.7,75.3 L294.7,71.1 L296.0,67.2 L295.8,62.5 L295.5,54.7 M294.7,71.1 L304.1,71.3 L306.4,71.3 M304.1,71.3 L303.8,75.1 M306.4,71.3 L306.6,72.8 L307.9,74.2 M296.0,67.2 L306.8,67.5 L309.0,66.5 M300.5,67.3 L300.8,64.2 L303.0,60.3 L305.2,57.0 L305.7,54.7 M310.1,65.4 L308.6,62.8 L308.2,57.5 L308.1,53.1 M205.6,37.6 L201.2,46.0 L203.2,47.3 L207.1,48.1 L211.5,49.2 L214.2,50.3 L215.3,51.2 L217.0,54.3 L224.0,53.4 L220.1,60.4 L219.2,66.6 L217.4,72.7 M200.2,68.6 L215.9,68.6" fill="none" stroke="#4a4a5e" stroke-opacity="0.32" stroke-width="0.9"/>
</g>
<path d="M12.3,36.0 L12.9,37.9 L14.3,39.8 L15.5,42.6 L15.8,44.2 L16.4,45.9 L16.1,47.8 L16.6,50.3 L16.6,52.5 L16.1,55.3 L15.8,58.1 L15.5,60.9 L14.7,63.6 L13.9,65.8 L13.3,66.9 L14.2,69.2 L15.3,71.4 L15.5,73.6 L16.1,75.8 L15.3,78.0 L14.2,80.0 L16.4,82.5 L17.5,84.1 L17.7,86.9 L18.6,88.6 L21.3,91.3 L22.1,93.3 L24.6,94.6 L24.6,96.3 L25.2,98.0 L27.4,99.4 L28.5,100.7 L27.7,101.8 L29.6,104.1 L31.8,106.3 L33.4,107.9 L34.8,110.2 L35.1,112.4 L35.8,113.2 L38.4,113.2 L41.2,113.6 L42.8,114.6 L45.0,115.6 L46.9,116.0 L47.2,117.1 L48.9,117.3 L50.5,118.2 L52.7,120.1 L53.6,122.1 L54.3,123.8 L67.5,122.8 L87.6,130.5 L103.4,130.5 L103.4,128.0 L112.7,128.0 L114.5,129.8 L117.8,132.0 L121.1,134.1 L123.3,137.3 L124.4,140.1 L127.7,141.7 L130.5,143.4 L132.7,142.3 L133.8,139.2 L136.0,138.7 L140.9,139.1 L143.7,141.2 L145.3,144.0 L147.0,147.3 L149.2,150.0 L151.4,151.7 L152.0,154.5 L153.6,157.2 L156.4,158.6 L158.6,159.7 L161.9,160.3 L164.4,160.3 L163.5,157.8 L163.0,155.0 L163.3,152.3 L164.6,150.0 L166.3,147.8 L169.0,146.2 L171.8,144.8 L175.1,143.1 L177.6,141.5 L180.1,140.1 L182.5,139.5 L186.1,139.2 L189.4,140.4 L192.2,140.1 L194.9,140.9 L197.2,142.0 L199.9,142.8 L202.7,142.8 L205.1,141.7 L207.3,143.4 L208.7,142.3 L207.3,140.6 L206.2,138.7 L206.0,137.0 L207.6,136.2 L210.4,135.6 L212.6,135.8 L214.2,135.9 L215.9,136.5 L218.6,135.9 L222.0,135.6 L224.7,135.9 L227.5,137.3 L229.4,139.5 L231.6,139.8 L234.6,138.4 L236.8,137.6 L239.0,139.0 L240.7,140.9 L242.9,142.8 L243.7,145.6 L243.5,148.9 L244.3,151.2 L245.1,153.4 L246.8,155.6 L248.7,158.1 L249.2,160.3 L251.4,162.0 L252.8,164.7 L255.0,164.5 L256.7,163.9 L257.0,162.2 L257.8,160.6 L258.3,157.8 L258.6,155.0 L257.8,152.8 L256.7,150.0 L255.6,147.3 L255.9,145.9 L254.2,143.4 L252.8,140.6 L251.7,137.9 L251.2,135.1 L250.9,133.4 L251.7,130.7 L252.5,128.4 L254.2,126.5 L256.1,124.8 L258.3,123.5 L260.8,121.8 L263.0,120.1 L264.4,118.2 L266.9,116.5 L269.9,116.3 L270.7,114.6 L272.9,112.7 L276.0,111.8 L278.2,111.5 L280.4,110.2 L282.6,109.1 L283.7,108.8 L283.7,106.8 L282.6,104.1 L281.8,101.6 L281.2,99.6 L282.3,97.4 L283.4,95.8 L284.8,93.5 L285.9,91.6 L286.2,89.1 L287.0,88.3 L287.8,86.9 L289.8,85.5 L291.4,83.6 L292.0,81.4 L292.0,80.0 L292.5,79.1 L294.7,79.1 L298.6,78.3 L302.4,77.2 L303.8,76.5 L301.3,76.5 L298.0,77.0 L294.2,77.4 L293.3,76.9 L295.8,76.3 L298.0,75.5 L301.3,75.4 L303.8,75.1 L306.0,74.7 L307.9,74.2 L310.1,74.0 L311.5,73.9 L314.0,73.3 L314.3,71.7 L313.5,70.9 L312.6,71.7 L311.0,71.9 L310.1,70.3 L308.8,69.4 L309.3,68.3 L310.7,67.8 L309.6,66.4 L310.4,65.3 L311.5,63.9 L312.9,62.5 L314.8,61.4 L316.8,60.6 L319.5,59.7 L320.6,58.4 L322.5,58.9 L324.5,58.4 L326.7,57.5 L328.9,57.0 L330.8,55.8 L330.0,54.2 L328.1,51.4 L326.1,50.9 L326.2,43.3 L323.7,41.7 L321.7,42.3 L320.1,42.6 L318.3,41.1 L316.2,43.1 L314.0,45.3 L312.6,48.7 L312.4,49.8 L309.6,52.5 L308.1,53.1 L305.7,54.7 L297.5,54.7 L288.1,54.8 L284.8,55.9 L281.5,58.1 L278.7,59.7 L276.5,62.2 L272.7,62.4 L267.2,62.4 L263.3,63.3 L264.1,65.3 L264.7,66.5 L260.0,68.3 L256.1,68.9 L251.7,70.3 L248.4,71.7 L244.6,72.8 L241.8,71.4 L241.5,69.7 L244.6,68.3 L245.4,65.8 L247.0,62.5 L245.1,57.5 L245.1,53.1 L240.1,50.3 L239.0,48.7 L236.3,47.8 L234.1,46.5 L232.4,44.8 L228.0,41.5 L222.5,39.2 L217.5,37.6 L212.6,36.5 L207.6,37.9 L206.0,38.1 L203.8,37.6 L199.4,37.0 L195.5,37.9 L191.1,36.2 L187.8,34.7 L185.0,34.8 L182.8,35.3 L178.4,34.2 L177.9,32.6 L177.3,30.9 L175.4,30.5 L175.4,32.6 L126.6,32.6 L93.5,32.6 L60.5,32.6 L23.2,32.6 L23.2,34.0 L24.6,35.6 L24.1,38.1 L21.9,37.6 L19.1,37.3 L15.3,36.5Z" fill="none" stroke="#8c8c8c" stroke-width="0.6"/>
<path d="M191.1,140.4 L194.9,140.9 L197.2,142.0 L198.8,142.6 L199.9,143.1 L201.6,142.3 L202.7,143.0 L204.0,142.0 L205.1,141.7 L207.3,143.4 L208.7,142.3 L207.3,140.6 L206.2,138.7 L207.1,137.6 M280.9,99.4 L279.0,97.7 L279.6,95.8 L279.3,94.1 L278.2,91.9 L278.7,89.1 L278.5,86.9 L280.7,85.0 M281.2,98.2 L281.8,95.8 L281.2,93.0 L279.8,91.6 L280.7,89.1 L279.8,86.9 L280.9,85.8 M279.3,93.3 L276.5,91.9 L274.9,89.7 M279.3,99.1 L276.5,97.7 M286.2,89.1 L284.5,87.2 L283.4,85.2 M278.2,111.0 L279.8,108.5 L278.2,106.8 L280.9,105.2 L280.4,103.5 L281.5,101.8 M310.1,65.3 L311.5,63.9 L312.9,62.2 L314.0,62.0 L314.8,61.1 L315.7,61.4 L316.8,60.6 L317.9,60.9 L319.5,59.7 L320.1,58.6 L321.2,58.9 L322.5,58.9 L323.4,58.1 L324.5,58.4 L325.6,57.8 L326.7,57.5 L327.8,57.5 L328.9,57.0 L330.8,55.8 M23.2,34.0 L24.6,35.6 L24.1,38.1 L25.2,40.4 L24.6,42.0 L22.4,43.1 L23.5,40.4 L23.0,37.9 M256.7,164.5 L255.6,165.8 L253.4,166.9 L250.6,167.8 L249.0,168.1 M243.5,167.5 L242.6,167.7 M24.6,94.6 L25.7,93.8 L26.8,95.8 L25.2,95.2 M36.8,115.6 L40.6,115.7 M46.1,118.7 L47.8,119.3 M41.2,119.9 L41.7,120.1 M46.4,121.5 L46.9,122.3 M164.1,160.0 L163.5,155.6 L163.8,151.7 L165.2,149.5 M176.8,141.7 L177.9,140.1 L176.2,139.5 M214.2,135.9 L214.8,134.0 L215.3,135.6 M244.0,151.7 L245.1,149.5 L244.6,150.6 M314.0,73.3 L314.3,71.7 L313.5,70.9 L312.6,71.7 L311.0,71.9 M293.3,76.9 L295.8,76.3 L298.0,75.5 L301.3,75.4 M306.3,74.4 L306.8,73.0 L307.4,74.2 M21.0,35.1 L22.1,34.3 L23.0,34.8 M15.8,44.0 L16.9,44.2 M16.4,45.9 L16.6,47.0 M15.3,63.6 L15.8,64.2" fill="none" stroke="#3a3a3a" stroke-width="0.7" stroke-linejoin="round"/>
<path d="M310.1,65.3 L311.3,64.2 L312.1,63.3 L312.9,62.2 L313.7,62.2 L314.6,61.1 L315.4,61.7 L316.2,60.6 L317.0,61.1 L317.9,60.3 L319.2,60.0 L319.8,58.6 L320.9,59.2 L321.7,58.4 L322.8,59.2 L323.7,57.8 L324.8,58.6 L325.6,57.5 L326.7,57.8 L327.8,57.0 L328.9,57.3 L330.0,56.1 L330.8,55.8" fill="none" stroke="#333" stroke-width="1.2" stroke-linejoin="round"/></g>
<g><circle cx="25.2" cy="37.0" r="2.9" fill="#e7f5b7"/><circle cx="26.2" cy="39.1" r="2.9" fill="#e7f5b7"/><circle cx="22.4" cy="43.1" r="2.9" fill="#b7e2a8"/><circle cx="52.7" cy="40.0" r="2.9" fill="#2b83ba"/><circle cx="34.8" cy="45.8" r="2.9" fill="#b7e2a8"/><circle cx="42.3" cy="47.5" r="2.9" fill="#e7f5b7"/><circle cx="23.4" cy="51.0" r="2.9" fill="#e7f5b7"/><circle cx="21.3" cy="55.0" r="2.9" fill="#fee8a4"/><circle cx="20.6" cy="59.8" r="2.9" fill="#fee8a4"/><circle cx="58.3" cy="62.4" r="2.9" fill="#e7f5b7"/><circle cx="101.2" cy="50.5" r="2.9" fill="#b7e2a8"/><circle cx="24.6" cy="79.0" r="2.9" fill="#fee8a4"/><circle cx="39.0" cy="85.5" r="2.9" fill="#fee8a4"/><circle cx="82.5" cy="78.1" r="2.9" fill="#b7e2a8"/><circle cx="120.6" cy="79.0" r="2.9" fill="#fee8a4"/><circle cx="123.3" cy="79.9" r="2.9" fill="#b7e2a8"/><circle cx="121.5" cy="83.4" r="2.9" fill="#74b6ad"/><circle cx="122.2" cy="88.6" r="2.9" fill="#b7e2a8"/><circle cx="122.8" cy="92.1" r="2.9" fill="#e7f5b7"/><circle cx="22.9" cy="90.9" r="2.9" fill="#d7191c"/><circle cx="30.2" cy="89.9" r="2.9" fill="#fdba6e"/><circle cx="24.6" cy="93.9" r="2.9" fill="#fee8a4"/><circle cx="26.4" cy="96.2" r="2.9" fill="#fdba6e"/><circle cx="31.7" cy="94.8" r="2.9" fill="#d7191c"/><circle cx="35.2" cy="97.0" r="2.9" fill="#d7191c"/><circle cx="39.2" cy="100.2" r="2.9" fill="#d7191c"/><circle cx="64.4" cy="103.4" r="2.9" fill="#fee8a4"/><circle cx="43.0" cy="107.8" r="2.9" fill="#d7191c"/><circle cx="48.3" cy="111.6" r="2.9" fill="#d7191c"/><circle cx="52.7" cy="112.7" r="2.9" fill="#ed6e43"/><circle cx="49.5" cy="115.7" r="2.9" fill="#ed6e43"/><circle cx="42.5" cy="114.4" r="2.9" fill="#d7191c"/><circle cx="54.4" cy="116.9" r="2.9" fill="#fee8a4"/><circle cx="57.9" cy="116.9" r="2.9" fill="#fdba6e"/><circle cx="53.5" cy="121.4" r="2.9" fill="#d7191c"/><circle cx="81.9" cy="118.3" r="2.9" fill="#ed6e43"/><circle cx="87.7" cy="125.3" r="2.9" fill="#fdba6e"/><circle cx="111.7" cy="109.5" r="2.9" fill="#e7f5b7"/><circle cx="112.8" cy="127.4" r="2.9" fill="#e7f5b7"/><circle cx="164.3" cy="38.2" r="2.9" fill="#2b83ba"/><circle cx="165.5" cy="44.4" r="2.9" fill="#2b83ba"/><circle cx="180.4" cy="51.5" r="2.9" fill="#2b83ba"/><circle cx="185.3" cy="54.9" r="2.9" fill="#2b83ba"/><circle cx="189.7" cy="60.1" r="2.9" fill="#74b6ad"/><circle cx="195.3" cy="55.4" r="2.9" fill="#b7e2a8"/><circle cx="213.2" cy="58.0" r="2.9" fill="#74b6ad"/><circle cx="166.4" cy="62.4" r="2.9" fill="#b7e2a8"/><circle cx="168.5" cy="68.2" r="2.9" fill="#74b6ad"/><circle cx="166.4" cy="77.3" r="2.9" fill="#e7f5b7"/><circle cx="171.2" cy="75.5" r="2.9" fill="#b7e2a8"/><circle cx="183.4" cy="72.9" r="2.9" fill="#b7e2a8"/><circle cx="190.4" cy="68.2" r="2.9" fill="#e7f5b7"/><circle cx="194.5" cy="71.5" r="2.9" fill="#fee8a4"/><circle cx="200.6" cy="73.8" r="2.9" fill="#b7e2a8"/><circle cx="206.7" cy="65.0" r="2.9" fill="#b7e2a8"/><circle cx="208.5" cy="69.7" r="2.9" fill="#fee8a4"/><circle cx="214.6" cy="65.9" r="2.9" fill="#b7e2a8"/><circle cx="214.6" cy="72.0" r="2.9" fill="#e7f5b7"/><circle cx="218.1" cy="72.9" r="2.9" fill="#e7f5b7"/><circle cx="224.8" cy="65.0" r="2.9" fill="#e7f5b7"/><circle cx="226.5" cy="67.6" r="2.9" fill="#fee8a4"/><circle cx="224.8" cy="72.0" r="2.9" fill="#b7e2a8"/><circle cx="227.2" cy="71.1" r="2.9" fill="#b7e2a8"/><circle cx="233.5" cy="67.3" r="2.9" fill="#b7e2a8"/><circle cx="237.0" cy="62.4" r="2.9" fill="#b7e2a8"/><circle cx="238.3" cy="72.9" r="2.9" fill="#b7e2a8"/><circle cx="230.0" cy="76.4" r="2.9" fill="#e7f5b7"/><circle cx="205.5" cy="78.1" r="2.9" fill="#e7f5b7"/><circle cx="209.3" cy="79.5" r="2.9" fill="#b7e2a8"/><circle cx="205.3" cy="83.4" r="2.9" fill="#fee8a4"/><circle cx="220.7" cy="79.9" r="2.9" fill="#74b6ad"/><circle cx="224.8" cy="83.4" r="2.9" fill="#fee8a4"/><circle cx="235.6" cy="83.4" r="2.9" fill="#fdba6e"/><circle cx="233.9" cy="86.9" r="2.9" fill="#fdba6e"/><circle cx="233.5" cy="92.7" r="2.9" fill="#fdba6e"/><circle cx="227.2" cy="91.6" r="2.9" fill="#ed6e43"/><circle cx="217.2" cy="93.4" r="2.9" fill="#ed6e43"/><circle cx="176.9" cy="83.4" r="2.9" fill="#74b6ad"/><circle cx="178.7" cy="87.4" r="2.9" fill="#74b6ad"/><circle cx="172.6" cy="87.4" r="2.9" fill="#b7e2a8"/><circle cx="166.4" cy="86.9" r="2.9" fill="#b7e2a8"/><circle cx="190.6" cy="88.1" r="2.9" fill="#2b83ba"/><circle cx="200.6" cy="89.5" r="2.9" fill="#b7e2a8"/><circle cx="203.7" cy="90.0" r="2.9" fill="#e7f5b7"/><circle cx="163.4" cy="95.1" r="2.9" fill="#b7e2a8"/><circle cx="178.7" cy="97.4" r="2.9" fill="#e7f5b7"/><circle cx="185.2" cy="97.4" r="2.9" fill="#e7f5b7"/><circle cx="265.2" cy="65.9" r="2.9" fill="#2b83ba"/><circle cx="271.3" cy="64.7" r="2.9" fill="#2b83ba"/><circle cx="279.9" cy="65.0" r="2.9" fill="#2b83ba"/><circle cx="292.7" cy="67.1" r="2.9" fill="#74b6ad"/><circle cx="258.2" cy="70.6" r="2.9" fill="#74b6ad"/><circle cx="248.9" cy="73.4" r="2.9" fill="#74b6ad"/><circle cx="251.2" cy="76.4" r="2.9" fill="#b7e2a8"/><circle cx="255.0" cy="75.9" r="2.9" fill="#b7e2a8"/><circle cx="258.9" cy="79.9" r="2.9" fill="#2b83ba"/><circle cx="241.9" cy="82.2" r="2.9" fill="#e7f5b7"/><circle cx="244.5" cy="66.2" r="2.9" fill="#e7f5b7"/><circle cx="240.1" cy="66.8" r="2.9" fill="#e7f5b7"/><circle cx="275.7" cy="80.8" r="2.9" fill="#74b6ad"/><circle cx="282.2" cy="74.6" r="2.9" fill="#fee8a4"/><circle cx="280.4" cy="80.8" r="2.9" fill="#e7f5b7"/><circle cx="285.2" cy="81.6" r="2.9" fill="#fdba6e"/><circle cx="283.1" cy="84.3" r="2.9" fill="#fdba6e"/><circle cx="287.1" cy="85.7" r="2.9" fill="#e7f5b7"/><circle cx="289.2" cy="86.0" r="2.9" fill="#fee8a4"/><circle cx="291.0" cy="78.7" r="2.9" fill="#e7f5b7"/><circle cx="294.5" cy="77.3" r="2.9" fill="#e7f5b7"/><circle cx="291.8" cy="75.9" r="2.9" fill="#b7e2a8"/><circle cx="297.1" cy="74.1" r="2.9" fill="#e7f5b7"/><circle cx="299.7" cy="70.3" r="2.9" fill="#74b6ad"/><circle cx="303.7" cy="69.4" r="2.9" fill="#74b6ad"/><circle cx="305.8" cy="72.0" r="2.9" fill="#74b6ad"/><circle cx="308.5" cy="69.4" r="2.9" fill="#b7e2a8"/><circle cx="274.3" cy="87.8" r="2.9" fill="#fee8a4"/><circle cx="272.2" cy="89.2" r="2.9" fill="#fee8a4"/><circle cx="258.9" cy="97.4" r="2.9" fill="#fee8a4"/><circle cx="272.6" cy="96.2" r="2.9" fill="#fdba6e"/><circle cx="277.8" cy="98.3" r="2.9" fill="#fee8a4"/><circle cx="246.3" cy="99.7" r="2.9" fill="#e7f5b7"/><circle cx="138.0" cy="109.0" r="2.9" fill="#fdba6e"/><circle cx="137.9" cy="118.1" r="2.9" fill="#fdba6e"/><circle cx="136.1" cy="127.4" r="2.9" fill="#fee8a4"/><circle cx="137.5" cy="125.7" r="2.9" fill="#fdba6e"/><circle cx="156.4" cy="115.7" r="2.9" fill="#d7191c"/><circle cx="164.7" cy="119.5" r="2.9" fill="#d7191c"/><circle cx="165.2" cy="122.2" r="2.9" fill="#d7191c"/><circle cx="149.8" cy="124.3" r="2.9" fill="#d7191c"/><circle cx="163.8" cy="129.2" r="2.9" fill="#d7191c"/><circle cx="161.2" cy="130.9" r="2.9" fill="#d7191c"/><circle cx="160.6" cy="135.3" r="2.9" fill="#d7191c"/><circle cx="168.5" cy="134.4" r="2.9" fill="#d7191c"/><circle cx="156.4" cy="140.0" r="2.9" fill="#d7191c"/><circle cx="151.2" cy="151.1" r="2.9" fill="#d7191c"/><circle cx="162.6" cy="150.2" r="2.9" fill="#d7191c"/><circle cx="158.9" cy="158.4" r="2.9" fill="#d7191c"/><circle cx="162.6" cy="159.8" r="2.9" fill="#d7191c"/><circle cx="174.3" cy="124.8" r="2.9" fill="#ed6e43"/><circle cx="182.7" cy="123.9" r="2.9" fill="#d7191c"/><circle cx="173.4" cy="138.8" r="2.9" fill="#fee8a4"/><circle cx="174.3" cy="143.2" r="2.9" fill="#fee8a4"/><circle cx="176.9" cy="138.8" r="2.9" fill="#b7e2a8"/><circle cx="181.3" cy="137.4" r="2.9" fill="#fdba6e"/><circle cx="162.0" cy="107.3" r="2.9" fill="#fee8a4"/><circle cx="170.8" cy="104.1" r="2.9" fill="#fee8a4"/><circle cx="180.4" cy="103.4" r="2.9" fill="#fdba6e"/><circle cx="190.6" cy="111.1" r="2.9" fill="#fee8a4"/><circle cx="204.1" cy="109.4" r="2.9" fill="#e7f5b7"/><circle cx="202.7" cy="124.4" r="2.9" fill="#fdba6e"/><circle cx="192.2" cy="136.7" r="2.9" fill="#fee8a4"/><circle cx="197.6" cy="135.3" r="2.9" fill="#fee8a4"/><circle cx="203.2" cy="137.9" r="2.9" fill="#ed6e43"/><circle cx="208.5" cy="135.3" r="2.9" fill="#ed6e43"/><circle cx="213.7" cy="133.9" r="2.9" fill="#fdba6e"/><circle cx="219.0" cy="135.0" r="2.9" fill="#fee8a4"/><circle cx="227.2" cy="136.7" r="2.9" fill="#b7e2a8"/><circle cx="218.5" cy="101.1" r="2.9" fill="#fdba6e"/><circle cx="222.5" cy="103.8" r="2.9" fill="#fee8a4"/><circle cx="223.7" cy="105.5" r="2.9" fill="#ed6e43"/><circle cx="236.5" cy="104.6" r="2.9" fill="#fdba6e"/><circle cx="221.6" cy="111.7" r="2.9" fill="#fdba6e"/><circle cx="230.0" cy="109.9" r="2.9" fill="#fee8a4"/><circle cx="217.2" cy="119.5" r="2.9" fill="#d7191c"/><circle cx="221.3" cy="118.7" r="2.9" fill="#ed6e43"/><circle cx="224.2" cy="124.4" r="2.9" fill="#ed6e43"/><circle cx="234.8" cy="116.0" r="2.9" fill="#e7f5b7"/><circle cx="231.2" cy="123.9" r="2.9" fill="#e7f5b7"/><circle cx="238.3" cy="122.7" r="2.9" fill="#fee8a4"/><circle cx="246.3" cy="101.4" r="2.9" fill="#e7f5b7"/><circle cx="245.1" cy="108.1" r="2.9" fill="#e7f5b7"/><circle cx="246.3" cy="110.8" r="2.9" fill="#e7f5b7"/><circle cx="249.8" cy="105.5" r="2.9" fill="#e7f5b7"/><circle cx="253.9" cy="105.5" r="2.9" fill="#fee8a4"/><circle cx="253.3" cy="109.6" r="2.9" fill="#e7f5b7"/><circle cx="258.5" cy="97.3" r="2.9" fill="#fee8a4"/><circle cx="261.8" cy="101.4" r="2.9" fill="#fee8a4"/><circle cx="259.1" cy="104.4" r="2.9" fill="#e7f5b7"/><circle cx="261.8" cy="109.0" r="2.9" fill="#fee8a4"/><circle cx="265.5" cy="105.5" r="2.9" fill="#fee8a4"/><circle cx="265.0" cy="110.2" r="2.9" fill="#fdba6e"/><circle cx="260.9" cy="113.7" r="2.9" fill="#fdba6e"/><circle cx="258.0" cy="115.4" r="2.9" fill="#fdba6e"/><circle cx="253.3" cy="114.6" r="2.9" fill="#e7f5b7"/><circle cx="248.0" cy="118.4" r="2.9" fill="#fee8a4"/><circle cx="253.9" cy="118.4" r="2.9" fill="#fee8a4"/><circle cx="265.0" cy="116.6" r="2.9" fill="#fee8a4"/><circle cx="270.2" cy="114.3" r="2.9" fill="#e7f5b7"/><circle cx="273.5" cy="111.1" r="2.9" fill="#b7e2a8"/><circle cx="270.2" cy="105.5" r="2.9" fill="#fee8a4"/><circle cx="273.5" cy="106.7" r="2.9" fill="#fee8a4"/><circle cx="259.1" cy="121.6" r="2.9" fill="#74b6ad"/><circle cx="252.7" cy="126.0" r="2.9" fill="#b7e2a8"/><circle cx="249.8" cy="127.1" r="2.9" fill="#fdba6e"/><circle cx="245.5" cy="130.6" r="2.9" fill="#fdba6e"/><circle cx="250.6" cy="131.0" r="2.9" fill="#d7191c"/><circle cx="249.8" cy="135.9" r="2.9" fill="#fee8a4"/><circle cx="245.5" cy="139.4" r="2.9" fill="#fdba6e"/><circle cx="252.5" cy="140.6" r="2.9" fill="#d7191c"/><circle cx="247.8" cy="142.9" r="2.9" fill="#d7191c"/><circle cx="251.5" cy="145.2" r="2.9" fill="#d7191c"/><circle cx="255.0" cy="147.6" r="2.9" fill="#d7191c"/><circle cx="244.5" cy="148.7" r="2.9" fill="#d7191c"/><circle cx="248.0" cy="149.9" r="2.9" fill="#d7191c"/><circle cx="250.9" cy="151.1" r="2.9" fill="#d7191c"/><circle cx="246.3" cy="153.4" r="2.9" fill="#d7191c"/><circle cx="248.6" cy="156.9" r="2.9" fill="#d7191c"/><circle cx="256.8" cy="152.0" r="2.9" fill="#ed6e43"/><circle cx="257.4" cy="158.7" r="2.9" fill="#fdba6e"/><circle cx="244.5" cy="145.2" r="2.9" fill="#d7191c"/></g>
<g><circle cx="367.4" cy="37.4" r="2.9" fill="#74b6ad"/><circle cx="366.5" cy="40.9" r="2.9" fill="#b7e2a8"/><circle cx="363.9" cy="43.1" r="2.9" fill="#b7e2a8"/><circle cx="394.2" cy="40.0" r="2.9" fill="#fee8a4"/><circle cx="376.2" cy="46.1" r="2.9" fill="#e7f5b7"/><circle cx="383.7" cy="47.5" r="2.9" fill="#74b6ad"/><circle cx="365.1" cy="51.0" r="2.9" fill="#b7e2a8"/><circle cx="362.7" cy="54.5" r="2.9" fill="#e7f5b7"/><circle cx="362.5" cy="59.8" r="2.9" fill="#74b6ad"/><circle cx="399.5" cy="62.4" r="2.9" fill="#74b6ad"/><circle cx="442.7" cy="50.5" r="2.9" fill="#b7e2a8"/><circle cx="366.2" cy="79.0" r="2.9" fill="#2b83ba"/><circle cx="380.5" cy="85.7" r="2.9" fill="#b7e2a8"/><circle cx="424.0" cy="78.1" r="2.9" fill="#b7e2a8"/><circle cx="461.6" cy="79.0" r="2.9" fill="#fdba6e"/><circle cx="464.1" cy="79.9" r="2.9" fill="#fee8a4"/><circle cx="462.5" cy="83.4" r="2.9" fill="#e7f5b7"/><circle cx="463.2" cy="88.6" r="2.9" fill="#b7e2a8"/><circle cx="464.3" cy="91.6" r="2.9" fill="#b7e2a8"/><circle cx="364.8" cy="91.3" r="2.9" fill="#2b83ba"/><circle cx="371.8" cy="89.9" r="2.9" fill="#2b83ba"/><circle cx="366.5" cy="93.4" r="2.9" fill="#2b83ba"/><circle cx="367.9" cy="95.9" r="2.9" fill="#2b83ba"/><circle cx="372.7" cy="94.8" r="2.9" fill="#2b83ba"/><circle cx="376.2" cy="97.0" r="2.9" fill="#2b83ba"/><circle cx="380.5" cy="100.0" r="2.9" fill="#2b83ba"/><circle cx="405.9" cy="103.4" r="2.9" fill="#2b83ba"/><circle cx="384.6" cy="107.8" r="2.9" fill="#2b83ba"/><circle cx="389.6" cy="112.2" r="2.9" fill="#2b83ba"/><circle cx="394.2" cy="112.7" r="2.9" fill="#2b83ba"/><circle cx="391.0" cy="115.7" r="2.9" fill="#2b83ba"/><circle cx="383.7" cy="114.4" r="2.9" fill="#2b83ba"/><circle cx="396.0" cy="116.9" r="2.9" fill="#2b83ba"/><circle cx="399.8" cy="116.9" r="2.9" fill="#74b6ad"/><circle cx="395.1" cy="121.4" r="2.9" fill="#2b83ba"/><circle cx="423.5" cy="118.3" r="2.9" fill="#2b83ba"/><circle cx="429.2" cy="125.3" r="2.9" fill="#2b83ba"/><circle cx="453.2" cy="109.5" r="2.9" fill="#74b6ad"/><circle cx="454.1" cy="127.4" r="2.9" fill="#2b83ba"/><circle cx="505.3" cy="38.2" r="2.9" fill="#ed6e43"/><circle cx="506.9" cy="44.4" r="2.9" fill="#fdba6e"/><circle cx="521.4" cy="51.5" r="2.9" fill="#ed6e43"/><circle cx="526.3" cy="54.9" r="2.9" fill="#ed6e43"/><circle cx="531.1" cy="60.1" r="2.9" fill="#fee8a4"/><circle cx="536.7" cy="55.4" r="2.9" fill="#fee8a4"/><circle cx="554.2" cy="58.0" r="2.9" fill="#fee8a4"/><circle cx="507.4" cy="62.4" r="2.9" fill="#e7f5b7"/><circle cx="509.5" cy="68.2" r="2.9" fill="#fdba6e"/><circle cx="508.0" cy="77.3" r="2.9" fill="#fdba6e"/><circle cx="512.2" cy="75.5" r="2.9" fill="#fdba6e"/><circle cx="524.4" cy="72.9" r="2.9" fill="#fdba6e"/><circle cx="531.4" cy="68.2" r="2.9" fill="#fee8a4"/><circle cx="536.0" cy="71.5" r="2.9" fill="#e7f5b7"/><circle cx="541.6" cy="73.8" r="2.9" fill="#fee8a4"/><circle cx="548.1" cy="65.0" r="2.9" fill="#fee8a4"/><circle cx="550.0" cy="69.7" r="2.9" fill="#b7e2a8"/><circle cx="555.6" cy="65.9" r="2.9" fill="#e7f5b7"/><circle cx="555.6" cy="72.0" r="2.9" fill="#e7f5b7"/><circle cx="559.1" cy="73.4" r="2.9" fill="#fee8a4"/><circle cx="565.8" cy="64.7" r="2.9" fill="#fee8a4"/><circle cx="568.2" cy="66.4" r="2.9" fill="#fee8a4"/><circle cx="565.8" cy="72.9" r="2.9" fill="#e7f5b7"/><circle cx="569.3" cy="70.6" r="2.9" fill="#b7e2a8"/><circle cx="574.5" cy="67.3" r="2.9" fill="#b7e2a8"/><circle cx="578.0" cy="62.9" r="2.9" fill="#b7e2a8"/><circle cx="579.3" cy="72.9" r="2.9" fill="#e7f5b7"/><circle cx="571.4" cy="76.4" r="2.9" fill="#e7f5b7"/><circle cx="546.5" cy="78.1" r="2.9" fill="#fdba6e"/><circle cx="550.3" cy="79.5" r="2.9" fill="#fdba6e"/><circle cx="546.3" cy="83.4" r="2.9" fill="#fee8a4"/><circle cx="561.7" cy="79.9" r="2.9" fill="#e7f5b7"/><circle cx="565.8" cy="83.0" r="2.9" fill="#b7e2a8"/><circle cx="576.6" cy="83.4" r="2.9" fill="#e7f5b7"/><circle cx="574.6" cy="87.5" r="2.9" fill="#2b83ba"/><circle cx="575.2" cy="86.0" r="2.9" fill="#74b6ad"/><circle cx="568.2" cy="91.6" r="2.9" fill="#e7f5b7"/><circle cx="558.2" cy="93.4" r="2.9" fill="#b7e2a8"/><circle cx="575.2" cy="92.7" r="2.9" fill="#e7f5b7"/><circle cx="518.5" cy="83.4" r="2.9" fill="#fee8a4"/><circle cx="520.2" cy="87.4" r="2.9" fill="#fee8a4"/><circle cx="513.6" cy="87.4" r="2.9" fill="#74b6ad"/><circle cx="515.7" cy="88.1" r="2.9" fill="#74b6ad"/><circle cx="507.4" cy="86.9" r="2.9" fill="#e7f5b7"/><circle cx="532.0" cy="88.1" r="2.9" fill="#fee8a4"/><circle cx="541.9" cy="89.5" r="2.9" fill="#b7e2a8"/><circle cx="544.7" cy="90.0" r="2.9" fill="#e7f5b7"/><circle cx="504.4" cy="95.1" r="2.9" fill="#74b6ad"/><circle cx="520.2" cy="97.4" r="2.9" fill="#e7f5b7"/><circle cx="526.7" cy="97.4" r="2.9" fill="#b7e2a8"/><circle cx="606.9" cy="66.2" r="2.9" fill="#fee8a4"/><circle cx="613.2" cy="64.7" r="2.9" fill="#fdba6e"/><circle cx="621.4" cy="65.4" r="2.9" fill="#fdba6e"/><circle cx="634.2" cy="67.1" r="2.9" fill="#e7f5b7"/><circle cx="599.9" cy="70.6" r="2.9" fill="#fee8a4"/><circle cx="590.4" cy="73.4" r="2.9" fill="#74b6ad"/><circle cx="592.2" cy="76.9" r="2.9" fill="#b7e2a8"/><circle cx="596.4" cy="75.9" r="2.9" fill="#e7f5b7"/><circle cx="600.4" cy="79.9" r="2.9" fill="#e7f5b7"/><circle cx="583.4" cy="82.2" r="2.9" fill="#e7f5b7"/><circle cx="580.3" cy="72.9" r="2.9" fill="#e7f5b7"/><circle cx="578.2" cy="62.4" r="2.9" fill="#b7e2a8"/><circle cx="586.4" cy="66.2" r="2.9" fill="#b7e2a8"/><circle cx="582.0" cy="68.5" r="2.9" fill="#74b6ad"/><circle cx="578.5" cy="65.9" r="2.9" fill="#b7e2a8"/><circle cx="574.7" cy="67.1" r="2.9" fill="#b7e2a8"/><circle cx="568.9" cy="65.9" r="2.9" fill="#fee8a4"/><circle cx="565.9" cy="64.7" r="2.9" fill="#fee8a4"/><circle cx="568.4" cy="70.3" r="2.9" fill="#b7e2a8"/><circle cx="565.4" cy="72.9" r="2.9" fill="#e7f5b7"/><circle cx="571.2" cy="76.0" r="2.9" fill="#e7f5b7"/><circle cx="562.4" cy="79.9" r="2.9" fill="#e7f5b7"/><circle cx="565.9" cy="83.4" r="2.9" fill="#b7e2a8"/><circle cx="576.8" cy="83.4" r="2.9" fill="#e7f5b7"/><circle cx="575.4" cy="86.4" r="2.9" fill="#74b6ad"/><circle cx="568.4" cy="91.6" r="2.9" fill="#e7f5b7"/><circle cx="575.0" cy="93.4" r="2.9" fill="#e7f5b7"/><circle cx="623.7" cy="74.6" r="2.9" fill="#e7f5b7"/><circle cx="617.1" cy="80.8" r="2.9" fill="#e7f5b7"/><circle cx="618.8" cy="82.5" r="2.9" fill="#e7f5b7"/><circle cx="623.2" cy="80.8" r="2.9" fill="#74b6ad"/><circle cx="626.2" cy="82.2" r="2.9" fill="#74b6ad"/><circle cx="627.6" cy="85.7" r="2.9" fill="#74b6ad"/><circle cx="630.2" cy="86.0" r="2.9" fill="#2b83ba"/><circle cx="632.0" cy="79.0" r="2.9" fill="#2b83ba"/><circle cx="634.2" cy="76.4" r="2.9" fill="#74b6ad"/><circle cx="636.3" cy="76.9" r="2.9" fill="#b7e2a8"/><circle cx="640.2" cy="73.4" r="2.9" fill="#e7f5b7"/><circle cx="641.9" cy="70.6" r="2.9" fill="#e7f5b7"/><circle cx="646.0" cy="71.1" r="2.9" fill="#e7f5b7"/><circle cx="649.5" cy="69.4" r="2.9" fill="#e7f5b7"/><circle cx="615.3" cy="87.8" r="2.9" fill="#b7e2a8"/><circle cx="617.1" cy="88.6" r="2.9" fill="#74b6ad"/><circle cx="613.9" cy="96.2" r="2.9" fill="#74b6ad"/><circle cx="620.0" cy="99.0" r="2.9" fill="#74b6ad"/><circle cx="600.4" cy="97.4" r="2.9" fill="#2b83ba"/><circle cx="621.4" cy="89.5" r="2.9" fill="#74b6ad"/><circle cx="615.3" cy="89.2" r="2.9" fill="#e7f5b7"/><circle cx="479.4" cy="109.0" r="2.9" fill="#2b83ba"/><circle cx="479.2" cy="118.1" r="2.9" fill="#2b83ba"/><circle cx="477.6" cy="126.9" r="2.9" fill="#2b83ba"/><circle cx="478.5" cy="125.7" r="2.9" fill="#2b83ba"/><circle cx="497.8" cy="115.7" r="2.9" fill="#2b83ba"/><circle cx="505.7" cy="119.5" r="2.9" fill="#b7e2a8"/><circle cx="506.2" cy="122.2" r="2.9" fill="#b7e2a8"/><circle cx="491.1" cy="124.3" r="2.9" fill="#2b83ba"/><circle cx="505.3" cy="129.2" r="2.9" fill="#2b83ba"/><circle cx="502.5" cy="130.9" r="2.9" fill="#2b83ba"/><circle cx="502.2" cy="135.0" r="2.9" fill="#2b83ba"/><circle cx="509.7" cy="134.4" r="2.9" fill="#74b6ad"/><circle cx="497.8" cy="140.0" r="2.9" fill="#2b83ba"/><circle cx="492.2" cy="151.1" r="2.9" fill="#2b83ba"/><circle cx="503.9" cy="150.2" r="2.9" fill="#2b83ba"/><circle cx="499.9" cy="158.4" r="2.9" fill="#2b83ba"/><circle cx="503.6" cy="159.8" r="2.9" fill="#2b83ba"/><circle cx="515.7" cy="124.8" r="2.9" fill="#b7e2a8"/><circle cx="524.4" cy="123.9" r="2.9" fill="#74b6ad"/><circle cx="517.9" cy="138.8" r="2.9" fill="#fee8a4"/><circle cx="515.3" cy="138.8" r="2.9" fill="#b7e2a8"/><circle cx="515.3" cy="143.2" r="2.9" fill="#e7f5b7"/><circle cx="522.3" cy="137.4" r="2.9" fill="#74b6ad"/><circle cx="503.4" cy="107.3" r="2.9" fill="#e7f5b7"/><circle cx="512.2" cy="104.1" r="2.9" fill="#b7e2a8"/><circle cx="522.0" cy="103.4" r="2.9" fill="#e7f5b7"/><circle cx="532.0" cy="111.1" r="2.9" fill="#b7e2a8"/><circle cx="545.4" cy="109.4" r="2.9" fill="#74b6ad"/><circle cx="544.2" cy="124.4" r="2.9" fill="#74b6ad"/><circle cx="533.7" cy="136.7" r="2.9" fill="#b7e2a8"/><circle cx="539.0" cy="135.3" r="2.9" fill="#e7f5b7"/><circle cx="544.7" cy="137.9" r="2.9" fill="#74b6ad"/><circle cx="550.0" cy="135.3" r="2.9" fill="#74b6ad"/><circle cx="555.3" cy="133.9" r="2.9" fill="#b7e2a8"/><circle cx="560.0" cy="135.0" r="2.9" fill="#2b83ba"/><circle cx="568.7" cy="136.7" r="2.9" fill="#74b6ad"/><circle cx="559.5" cy="101.1" r="2.9" fill="#e7f5b7"/><circle cx="563.5" cy="103.8" r="2.9" fill="#74b6ad"/><circle cx="564.7" cy="105.5" r="2.9" fill="#74b6ad"/><circle cx="577.5" cy="104.6" r="2.9" fill="#e7f5b7"/><circle cx="563.0" cy="111.7" r="2.9" fill="#b7e2a8"/><circle cx="571.0" cy="109.9" r="2.9" fill="#e7f5b7"/><circle cx="558.2" cy="119.5" r="2.9" fill="#2b83ba"/><circle cx="562.3" cy="118.7" r="2.9" fill="#74b6ad"/><circle cx="565.2" cy="124.4" r="2.9" fill="#74b6ad"/><circle cx="575.8" cy="116.0" r="2.9" fill="#e7f5b7"/><circle cx="572.2" cy="123.9" r="2.9" fill="#b7e2a8"/><circle cx="579.3" cy="122.7" r="2.9" fill="#b7e2a8"/><circle cx="588.4" cy="100.8" r="2.9" fill="#e7f5b7"/><circle cx="587.3" cy="108.4" r="2.9" fill="#b7e2a8"/><circle cx="587.6" cy="110.8" r="2.9" fill="#b7e2a8"/><circle cx="590.8" cy="105.5" r="2.9" fill="#b7e2a8"/><circle cx="595.5" cy="105.5" r="2.9" fill="#2b83ba"/><circle cx="594.9" cy="110.2" r="2.9" fill="#b7e2a8"/><circle cx="600.5" cy="97.3" r="2.9" fill="#2b83ba"/><circle cx="603.3" cy="101.4" r="2.9" fill="#e7f5b7"/><circle cx="600.5" cy="104.4" r="2.9" fill="#b7e2a8"/><circle cx="607.5" cy="105.5" r="2.9" fill="#b7e2a8"/><circle cx="603.6" cy="109.0" r="2.9" fill="#74b6ad"/><circle cx="606.0" cy="110.2" r="2.9" fill="#74b6ad"/><circle cx="594.3" cy="114.3" r="2.9" fill="#b7e2a8"/><circle cx="601.3" cy="114.3" r="2.9" fill="#2b83ba"/><circle cx="598.4" cy="116.0" r="2.9" fill="#2b83ba"/><circle cx="595.5" cy="118.4" r="2.9" fill="#2b83ba"/><circle cx="589.6" cy="118.1" r="2.9" fill="#74b6ad"/><circle cx="600.1" cy="121.3" r="2.9" fill="#b7e2a8"/><circle cx="602.5" cy="121.9" r="2.9" fill="#e7f5b7"/><circle cx="606.5" cy="116.6" r="2.9" fill="#b7e2a8"/><circle cx="611.5" cy="113.9" r="2.9" fill="#b7e2a8"/><circle cx="614.7" cy="110.8" r="2.9" fill="#b7e2a8"/><circle cx="612.4" cy="105.5" r="2.9" fill="#74b6ad"/><circle cx="594.3" cy="126.0" r="2.9" fill="#e7f5b7"/><circle cx="591.1" cy="127.7" r="2.9" fill="#2b83ba"/><circle cx="592.0" cy="130.6" r="2.9" fill="#2b83ba"/><circle cx="587.3" cy="130.6" r="2.9" fill="#74b6ad"/><circle cx="590.8" cy="135.9" r="2.9" fill="#74b6ad"/><circle cx="586.9" cy="139.4" r="2.9" fill="#74b6ad"/><circle cx="593.7" cy="140.6" r="2.9" fill="#2b83ba"/><circle cx="589.0" cy="143.5" r="2.9" fill="#2b83ba"/><circle cx="592.5" cy="145.2" r="2.9" fill="#2b83ba"/><circle cx="596.0" cy="147.6" r="2.9" fill="#2b83ba"/><circle cx="585.5" cy="148.1" r="2.9" fill="#2b83ba"/><circle cx="589.0" cy="149.9" r="2.9" fill="#2b83ba"/><circle cx="592.0" cy="151.1" r="2.9" fill="#2b83ba"/><circle cx="586.9" cy="152.8" r="2.9" fill="#b7e2a8"/><circle cx="586.1" cy="149.9" r="2.9" fill="#2b83ba"/><circle cx="589.6" cy="156.9" r="2.9" fill="#2b83ba"/><circle cx="598.4" cy="152.0" r="2.9" fill="#2b83ba"/><circle cx="599.0" cy="158.7" r="2.9" fill="#74b6ad"/></g>
<g><circle cx="25.4" cy="276.4" r="2.9" fill="#fee8a4"/><circle cx="24.2" cy="279.5" r="2.9" fill="#fee8a4"/><circle cx="21.9" cy="282.1" r="2.9" fill="#fee8a4"/><circle cx="52.2" cy="278.6" r="2.9" fill="#2b83ba"/><circle cx="34.2" cy="284.8" r="2.9" fill="#2b83ba"/><circle cx="41.7" cy="286.5" r="2.9" fill="#2b83ba"/><circle cx="23.1" cy="290.0" r="2.9" fill="#e7f5b7"/><circle cx="20.7" cy="293.5" r="2.9" fill="#fee8a4"/><circle cx="20.5" cy="298.8" r="2.9" fill="#74b6ad"/><circle cx="57.5" cy="301.0" r="2.9" fill="#2b83ba"/><circle cx="100.7" cy="289.1" r="2.9" fill="#2b83ba"/><circle cx="24.2" cy="317.7" r="2.9" fill="#d7191c"/><circle cx="38.5" cy="323.6" r="2.9" fill="#2b83ba"/><circle cx="82.0" cy="317.1" r="2.9" fill="#2b83ba"/><circle cx="120.0" cy="318.0" r="2.9" fill="#2b83ba"/><circle cx="121.8" cy="319.2" r="2.9" fill="#2b83ba"/><circle cx="120.5" cy="322.4" r="2.9" fill="#2b83ba"/><circle cx="121.2" cy="326.8" r="2.9" fill="#2b83ba"/><circle cx="122.3" cy="330.3" r="2.9" fill="#74b6ad"/><circle cx="22.4" cy="329.4" r="2.9" fill="#e7f5b7"/><circle cx="23.6" cy="332.4" r="2.9" fill="#fdba6e"/><circle cx="29.8" cy="328.5" r="2.9" fill="#d7191c"/><circle cx="26.3" cy="333.3" r="2.9" fill="#d7191c"/><circle cx="31.2" cy="333.8" r="2.9" fill="#d7191c"/><circle cx="34.7" cy="336.0" r="2.9" fill="#d7191c"/><circle cx="38.5" cy="338.5" r="2.9" fill="#d7191c"/><circle cx="63.9" cy="342.4" r="2.9" fill="#2b83ba"/><circle cx="42.6" cy="346.8" r="2.9" fill="#d7191c"/><circle cx="42.0" cy="353.4" r="2.9" fill="#ed6e43"/><circle cx="47.6" cy="350.6" r="2.9" fill="#d7191c"/><circle cx="52.2" cy="351.7" r="2.9" fill="#d7191c"/><circle cx="49.0" cy="354.7" r="2.9" fill="#d7191c"/><circle cx="54.3" cy="355.9" r="2.9" fill="#d7191c"/><circle cx="57.8" cy="355.5" r="2.9" fill="#ed6e43"/><circle cx="53.1" cy="360.4" r="2.9" fill="#d7191c"/><circle cx="81.5" cy="357.3" r="2.9" fill="#e7f5b7"/><circle cx="87.2" cy="364.0" r="2.9" fill="#e7f5b7"/><circle cx="111.2" cy="348.2" r="2.9" fill="#2b83ba"/><circle cx="112.1" cy="366.4" r="2.9" fill="#ed6e43"/><circle cx="163.7" cy="277.2" r="2.9" fill="#2b83ba"/><circle cx="165.1" cy="283.4" r="2.9" fill="#2b83ba"/><circle cx="179.4" cy="290.4" r="2.9" fill="#2b83ba"/><circle cx="184.7" cy="293.5" r="2.9" fill="#2b83ba"/><circle cx="194.7" cy="294.4" r="2.9" fill="#2b83ba"/><circle cx="189.1" cy="298.8" r="2.9" fill="#2b83ba"/><circle cx="212.2" cy="297.0" r="2.9" fill="#2b83ba"/><circle cx="165.4" cy="301.4" r="2.9" fill="#2b83ba"/><circle cx="167.7" cy="307.2" r="2.9" fill="#2b83ba"/><circle cx="166.0" cy="316.3" r="2.9" fill="#2b83ba"/><circle cx="170.2" cy="314.2" r="2.9" fill="#2b83ba"/><circle cx="182.4" cy="311.9" r="2.9" fill="#2b83ba"/><circle cx="189.6" cy="307.2" r="2.9" fill="#2b83ba"/><circle cx="194.0" cy="310.1" r="2.9" fill="#2b83ba"/><circle cx="194.3" cy="311.9" r="2.9" fill="#2b83ba"/><circle cx="199.9" cy="312.8" r="2.9" fill="#2b83ba"/><circle cx="206.2" cy="303.7" r="2.9" fill="#2b83ba"/><circle cx="208.3" cy="308.4" r="2.9" fill="#2b83ba"/><circle cx="214.0" cy="304.9" r="2.9" fill="#2b83ba"/><circle cx="214.0" cy="310.5" r="2.9" fill="#2b83ba"/><circle cx="217.5" cy="311.9" r="2.9" fill="#2b83ba"/><circle cx="223.8" cy="303.1" r="2.9" fill="#2b83ba"/><circle cx="226.2" cy="304.9" r="2.9" fill="#2b83ba"/><circle cx="225.0" cy="307.5" r="2.9" fill="#2b83ba"/><circle cx="223.8" cy="311.5" r="2.9" fill="#2b83ba"/><circle cx="227.3" cy="310.1" r="2.9" fill="#2b83ba"/><circle cx="232.9" cy="305.8" r="2.9" fill="#2b83ba"/><circle cx="236.4" cy="301.4" r="2.9" fill="#2b83ba"/><circle cx="237.3" cy="311.9" r="2.9" fill="#2b83ba"/><circle cx="229.7" cy="314.9" r="2.9" fill="#2b83ba"/><circle cx="204.8" cy="316.6" r="2.9" fill="#2b83ba"/><circle cx="208.7" cy="318.4" r="2.9" fill="#2b83ba"/><circle cx="204.8" cy="321.9" r="2.9" fill="#2b83ba"/><circle cx="220.3" cy="318.5" r="2.9" fill="#2b83ba"/><circle cx="224.1" cy="321.9" r="2.9" fill="#2b83ba"/><circle cx="235.0" cy="322.4" r="2.9" fill="#2b83ba"/><circle cx="233.2" cy="325.9" r="2.9" fill="#2b83ba"/><circle cx="232.0" cy="326.8" r="2.9" fill="#2b83ba"/><circle cx="226.7" cy="330.3" r="2.9" fill="#2b83ba"/><circle cx="216.8" cy="332.0" r="2.9" fill="#2b83ba"/><circle cx="199.9" cy="328.5" r="2.9" fill="#2b83ba"/><circle cx="202.7" cy="328.5" r="2.9" fill="#2b83ba"/><circle cx="176.5" cy="321.9" r="2.9" fill="#2b83ba"/><circle cx="177.7" cy="325.9" r="2.9" fill="#2b83ba"/><circle cx="171.6" cy="326.4" r="2.9" fill="#2b83ba"/><circle cx="174.7" cy="326.8" r="2.9" fill="#2b83ba"/><circle cx="178.9" cy="326.4" r="2.9" fill="#2b83ba"/><circle cx="166.0" cy="325.4" r="2.9" fill="#2b83ba"/><circle cx="190.0" cy="326.8" r="2.9" fill="#74b6ad"/><circle cx="232.9" cy="331.7" r="2.9" fill="#e7f5b7"/><circle cx="162.8" cy="333.8" r="2.9" fill="#b7e2a8"/><circle cx="178.2" cy="336.4" r="2.9" fill="#e7f5b7"/><circle cx="184.7" cy="336.4" r="2.9" fill="#74b6ad"/><circle cx="264.5" cy="304.9" r="2.9" fill="#2b83ba"/><circle cx="271.0" cy="303.5" r="2.9" fill="#2b83ba"/><circle cx="279.4" cy="304.0" r="2.9" fill="#2b83ba"/><circle cx="292.2" cy="305.8" r="2.9" fill="#2b83ba"/><circle cx="257.5" cy="309.6" r="2.9" fill="#2b83ba"/><circle cx="248.4" cy="312.8" r="2.9" fill="#2b83ba"/><circle cx="250.2" cy="315.9" r="2.9" fill="#2b83ba"/><circle cx="254.4" cy="314.9" r="2.9" fill="#2b83ba"/><circle cx="258.4" cy="318.5" r="2.9" fill="#2b83ba"/><circle cx="241.4" cy="320.6" r="2.9" fill="#2b83ba"/><circle cx="238.3" cy="311.9" r="2.9" fill="#2b83ba"/><circle cx="236.5" cy="301.4" r="2.9" fill="#2b83ba"/><circle cx="244.4" cy="304.9" r="2.9" fill="#2b83ba"/><circle cx="239.7" cy="307.5" r="2.9" fill="#2b83ba"/><circle cx="233.0" cy="306.1" r="2.9" fill="#2b83ba"/><circle cx="226.4" cy="304.9" r="2.9" fill="#2b83ba"/><circle cx="223.9" cy="303.1" r="2.9" fill="#2b83ba"/><circle cx="225.1" cy="311.0" r="2.9" fill="#2b83ba"/><circle cx="229.9" cy="315.0" r="2.9" fill="#2b83ba"/><circle cx="220.4" cy="318.9" r="2.9" fill="#2b83ba"/><circle cx="224.3" cy="321.9" r="2.9" fill="#2b83ba"/><circle cx="234.8" cy="322.4" r="2.9" fill="#2b83ba"/><circle cx="233.0" cy="325.9" r="2.9" fill="#2b83ba"/><circle cx="226.4" cy="330.3" r="2.9" fill="#2b83ba"/><circle cx="233.4" cy="332.0" r="2.9" fill="#e7f5b7"/><circle cx="281.7" cy="313.6" r="2.9" fill="#2b83ba"/><circle cx="275.1" cy="319.8" r="2.9" fill="#2b83ba"/><circle cx="277.7" cy="320.6" r="2.9" fill="#2b83ba"/><circle cx="280.3" cy="319.8" r="2.9" fill="#2b83ba"/><circle cx="283.5" cy="318.4" r="2.9" fill="#2b83ba"/><circle cx="285.2" cy="321.2" r="2.9" fill="#b7e2a8"/><circle cx="287.3" cy="324.1" r="2.9" fill="#b7e2a8"/><circle cx="290.0" cy="318.0" r="2.9" fill="#e7f5b7"/><circle cx="291.2" cy="315.4" r="2.9" fill="#2b83ba"/><circle cx="294.7" cy="315.9" r="2.9" fill="#74b6ad"/><circle cx="296.1" cy="312.8" r="2.9" fill="#2b83ba"/><circle cx="298.7" cy="310.1" r="2.9" fill="#2b83ba"/><circle cx="303.1" cy="308.4" r="2.9" fill="#2b83ba"/><circle cx="306.6" cy="307.9" r="2.9" fill="#2b83ba"/><circle cx="304.8" cy="311.0" r="2.9" fill="#2b83ba"/><circle cx="274.2" cy="326.8" r="2.9" fill="#e7f5b7"/><circle cx="271.6" cy="334.6" r="2.9" fill="#fdba6e"/><circle cx="277.7" cy="336.4" r="2.9" fill="#d7191c"/><circle cx="279.4" cy="337.6" r="2.9" fill="#ed6e43"/><circle cx="258.4" cy="335.5" r="2.9" fill="#e7f5b7"/><circle cx="246.2" cy="339.0" r="2.9" fill="#b7e2a8"/><circle cx="137.4" cy="347.7" r="2.9" fill="#b7e2a8"/><circle cx="137.4" cy="356.8" r="2.9" fill="#fdba6e"/><circle cx="134.8" cy="365.9" r="2.9" fill="#d7191c"/><circle cx="136.5" cy="364.7" r="2.9" fill="#d7191c"/><circle cx="156.1" cy="354.5" r="2.9" fill="#ed6e43"/><circle cx="164.2" cy="358.5" r="2.9" fill="#fee8a4"/><circle cx="164.5" cy="361.2" r="2.9" fill="#fee8a4"/><circle cx="149.1" cy="363.3" r="2.9" fill="#fee8a4"/><circle cx="163.7" cy="367.3" r="2.9" fill="#fdba6e"/><circle cx="162.4" cy="369.9" r="2.9" fill="#d7191c"/><circle cx="160.5" cy="369.9" r="2.9" fill="#fdba6e"/><circle cx="160.5" cy="374.3" r="2.9" fill="#d7191c"/><circle cx="168.1" cy="372.9" r="2.9" fill="#fee8a4"/><circle cx="156.1" cy="379.0" r="2.9" fill="#d7191c"/><circle cx="150.5" cy="389.7" r="2.9" fill="#fdba6e"/><circle cx="161.9" cy="388.7" r="2.9" fill="#fdba6e"/><circle cx="157.9" cy="397.1" r="2.9" fill="#fee8a4"/><circle cx="161.9" cy="398.5" r="2.9" fill="#fee8a4"/><circle cx="173.7" cy="363.4" r="2.9" fill="#fdba6e"/><circle cx="182.4" cy="362.6" r="2.9" fill="#ed6e43"/><circle cx="173.3" cy="377.8" r="2.9" fill="#fee8a4"/><circle cx="173.7" cy="382.2" r="2.9" fill="#fdba6e"/><circle cx="175.9" cy="377.5" r="2.9" fill="#ed6e43"/><circle cx="180.7" cy="376.4" r="2.9" fill="#e7f5b7"/><circle cx="161.4" cy="345.9" r="2.9" fill="#fee8a4"/><circle cx="170.2" cy="342.8" r="2.9" fill="#e7f5b7"/><circle cx="180.0" cy="341.9" r="2.9" fill="#74b6ad"/><circle cx="190.0" cy="349.8" r="2.9" fill="#74b6ad"/><circle cx="203.4" cy="348.0" r="2.9" fill="#fdba6e"/><circle cx="202.2" cy="363.4" r="2.9" fill="#b7e2a8"/><circle cx="191.7" cy="375.2" r="2.9" fill="#fee8a4"/><circle cx="197.3" cy="374.0" r="2.9" fill="#fee8a4"/><circle cx="202.7" cy="376.9" r="2.9" fill="#b7e2a8"/><circle cx="208.3" cy="374.0" r="2.9" fill="#b7e2a8"/><circle cx="213.3" cy="372.9" r="2.9" fill="#74b6ad"/><circle cx="218.5" cy="373.4" r="2.9" fill="#2b83ba"/><circle cx="227.3" cy="375.2" r="2.9" fill="#e7f5b7"/><circle cx="217.5" cy="339.6" r="2.9" fill="#74b6ad"/><circle cx="221.5" cy="342.8" r="2.9" fill="#74b6ad"/><circle cx="223.2" cy="344.5" r="2.9" fill="#e7f5b7"/><circle cx="236.0" cy="343.6" r="2.9" fill="#e7f5b7"/><circle cx="221.5" cy="350.3" r="2.9" fill="#fee8a4"/><circle cx="229.0" cy="348.4" r="2.9" fill="#e7f5b7"/><circle cx="216.8" cy="358.5" r="2.9" fill="#fdba6e"/><circle cx="221.0" cy="357.1" r="2.9" fill="#fee8a4"/><circle cx="223.8" cy="363.4" r="2.9" fill="#e7f5b7"/><circle cx="234.3" cy="355.0" r="2.9" fill="#fee8a4"/><circle cx="230.8" cy="362.4" r="2.9" fill="#e7f5b7"/><circle cx="237.3" cy="361.2" r="2.9" fill="#fee8a4"/><circle cx="246.1" cy="339.8" r="2.9" fill="#b7e2a8"/><circle cx="244.1" cy="346.3" r="2.9" fill="#b7e2a8"/><circle cx="246.1" cy="349.2" r="2.9" fill="#ed6e43"/><circle cx="248.8" cy="344.5" r="2.9" fill="#fee8a4"/><circle cx="253.5" cy="344.5" r="2.9" fill="#fee8a4"/><circle cx="252.9" cy="348.6" r="2.9" fill="#fdba6e"/><circle cx="258.1" cy="336.1" r="2.9" fill="#e7f5b7"/><circle cx="261.3" cy="339.8" r="2.9" fill="#fee8a4"/><circle cx="258.5" cy="343.4" r="2.9" fill="#e7f5b7"/><circle cx="265.5" cy="344.5" r="2.9" fill="#e7f5b7"/><circle cx="261.6" cy="347.4" r="2.9" fill="#74b6ad"/><circle cx="264.0" cy="349.8" r="2.9" fill="#74b6ad"/><circle cx="259.3" cy="352.9" r="2.9" fill="#fee8a4"/><circle cx="256.4" cy="354.1" r="2.9" fill="#e7f5b7"/><circle cx="252.9" cy="355.6" r="2.9" fill="#b7e2a8"/><circle cx="252.9" cy="357.4" r="2.9" fill="#b7e2a8"/><circle cx="247.6" cy="357.1" r="2.9" fill="#fee8a4"/><circle cx="258.1" cy="360.3" r="2.9" fill="#e7f5b7"/><circle cx="264.3" cy="355.6" r="2.9" fill="#fee8a4"/><circle cx="269.5" cy="353.3" r="2.9" fill="#fee8a4"/><circle cx="272.7" cy="349.8" r="2.9" fill="#fee8a4"/><circle cx="269.2" cy="346.3" r="2.9" fill="#fee8a4"/><circle cx="273.0" cy="345.1" r="2.9" fill="#fdba6e"/><circle cx="270.4" cy="342.8" r="2.9" fill="#b7e2a8"/><circle cx="272.1" cy="335.2" r="2.9" fill="#fdba6e"/><circle cx="278.0" cy="336.9" r="2.9" fill="#d7191c"/><circle cx="279.1" cy="338.7" r="2.9" fill="#ed6e43"/><circle cx="273.3" cy="327.9" r="2.9" fill="#e7f5b7"/><circle cx="249.6" cy="365.5" r="2.9" fill="#b7e2a8"/><circle cx="252.3" cy="364.4" r="2.9" fill="#b7e2a8"/><circle cx="245.3" cy="369.3" r="2.9" fill="#2b83ba"/><circle cx="249.9" cy="369.6" r="2.9" fill="#2b83ba"/><circle cx="249.4" cy="374.6" r="2.9" fill="#2b83ba"/><circle cx="245.3" cy="377.8" r="2.9" fill="#2b83ba"/><circle cx="251.7" cy="378.4" r="2.9" fill="#74b6ad"/><circle cx="247.0" cy="381.9" r="2.9" fill="#2b83ba"/><circle cx="250.5" cy="384.2" r="2.9" fill="#2b83ba"/><circle cx="254.0" cy="386.0" r="2.9" fill="#2b83ba"/><circle cx="243.5" cy="387.1" r="2.9" fill="#2b83ba"/><circle cx="248.2" cy="387.1" r="2.9" fill="#74b6ad"/><circle cx="247.0" cy="390.1" r="2.9" fill="#2b83ba"/><circle cx="249.9" cy="390.1" r="2.9" fill="#2b83ba"/><circle cx="245.3" cy="392.4" r="2.9" fill="#2b83ba"/><circle cx="248.2" cy="395.9" r="2.9" fill="#2b83ba"/><circle cx="256.4" cy="390.6" r="2.9" fill="#2b83ba"/><circle cx="256.6" cy="397.1" r="2.9" fill="#e7f5b7"/><circle cx="252.9" cy="380.7" r="2.9" fill="#e7f5b7"/></g>
<g><circle cx="371.4" cy="276.4" r="2.9" fill="#d7191c"/><circle cx="370.5" cy="279.9" r="2.9" fill="#d7191c"/><circle cx="367.0" cy="282.1" r="2.9" fill="#fee8a4"/><circle cx="397.7" cy="278.6" r="2.9" fill="#d7191c"/><circle cx="379.6" cy="284.8" r="2.9" fill="#d7191c"/><circle cx="387.2" cy="286.5" r="2.9" fill="#d7191c"/><circle cx="368.8" cy="290.0" r="2.9" fill="#ed6e43"/><circle cx="366.1" cy="293.5" r="2.9" fill="#e7f5b7"/><circle cx="365.6" cy="298.8" r="2.9" fill="#fdba6e"/><circle cx="403.3" cy="301.0" r="2.9" fill="#d7191c"/><circle cx="446.2" cy="289.1" r="2.9" fill="#d7191c"/><circle cx="369.6" cy="317.7" r="2.9" fill="#2b83ba"/><circle cx="384.0" cy="323.6" r="2.9" fill="#d7191c"/><circle cx="427.5" cy="317.1" r="2.9" fill="#ed6e43"/><circle cx="465.1" cy="317.7" r="2.9" fill="#d7191c"/><circle cx="467.8" cy="319.2" r="2.9" fill="#d7191c"/><circle cx="466.0" cy="322.4" r="2.9" fill="#d7191c"/><circle cx="466.9" cy="327.1" r="2.9" fill="#fdba6e"/><circle cx="467.8" cy="330.6" r="2.9" fill="#e7f5b7"/><circle cx="368.4" cy="329.4" r="2.9" fill="#2b83ba"/><circle cx="375.4" cy="328.5" r="2.9" fill="#2b83ba"/><circle cx="370.5" cy="332.9" r="2.9" fill="#2b83ba"/><circle cx="371.4" cy="334.9" r="2.9" fill="#2b83ba"/><circle cx="376.7" cy="333.8" r="2.9" fill="#2b83ba"/><circle cx="380.2" cy="336.0" r="2.9" fill="#2b83ba"/><circle cx="384.2" cy="338.5" r="2.9" fill="#2b83ba"/><circle cx="409.4" cy="342.4" r="2.9" fill="#e7f5b7"/><circle cx="388.0" cy="346.4" r="2.9" fill="#2b83ba"/><circle cx="393.0" cy="350.6" r="2.9" fill="#2b83ba"/><circle cx="397.7" cy="351.7" r="2.9" fill="#2b83ba"/><circle cx="394.7" cy="354.1" r="2.9" fill="#2b83ba"/><circle cx="387.5" cy="352.9" r="2.9" fill="#2b83ba"/><circle cx="399.4" cy="355.5" r="2.9" fill="#2b83ba"/><circle cx="402.9" cy="355.5" r="2.9" fill="#2b83ba"/><circle cx="398.5" cy="360.4" r="2.9" fill="#2b83ba"/><circle cx="426.9" cy="356.9" r="2.9" fill="#b7e2a8"/><circle cx="432.7" cy="364.0" r="2.9" fill="#74b6ad"/><circle cx="456.7" cy="348.2" r="2.9" fill="#e7f5b7"/><circle cx="457.8" cy="366.4" r="2.9" fill="#2b83ba"/><circle cx="508.8" cy="277.2" r="2.9" fill="#ed6e43"/><circle cx="510.2" cy="283.4" r="2.9" fill="#ed6e43"/><circle cx="524.9" cy="290.4" r="2.9" fill="#ed6e43"/><circle cx="530.2" cy="293.5" r="2.9" fill="#d7191c"/><circle cx="540.0" cy="294.4" r="2.9" fill="#d7191c"/><circle cx="534.6" cy="298.8" r="2.9" fill="#d7191c"/><circle cx="557.9" cy="297.0" r="2.9" fill="#ed6e43"/><circle cx="510.9" cy="301.4" r="2.9" fill="#d7191c"/><circle cx="513.2" cy="307.2" r="2.9" fill="#d7191c"/><circle cx="511.4" cy="316.3" r="2.9" fill="#d7191c"/><circle cx="515.5" cy="314.2" r="2.9" fill="#d7191c"/><circle cx="527.7" cy="311.9" r="2.9" fill="#d7191c"/><circle cx="534.7" cy="306.6" r="2.9" fill="#d7191c"/><circle cx="538.9" cy="309.6" r="2.9" fill="#d7191c"/><circle cx="540.0" cy="311.9" r="2.9" fill="#d7191c"/><circle cx="545.2" cy="312.4" r="2.9" fill="#d7191c"/><circle cx="551.4" cy="303.7" r="2.9" fill="#fdba6e"/><circle cx="553.5" cy="308.4" r="2.9" fill="#d7191c"/><circle cx="559.3" cy="304.5" r="2.9" fill="#ed6e43"/><circle cx="559.6" cy="310.5" r="2.9" fill="#d7191c"/><circle cx="562.8" cy="311.9" r="2.9" fill="#d7191c"/><circle cx="568.7" cy="303.1" r="2.9" fill="#fdba6e"/><circle cx="571.0" cy="304.9" r="2.9" fill="#fdba6e"/><circle cx="572.2" cy="308.4" r="2.9" fill="#d7191c"/><circle cx="569.8" cy="311.5" r="2.9" fill="#d7191c"/><circle cx="573.3" cy="311.0" r="2.9" fill="#d7191c"/><circle cx="578.5" cy="305.8" r="2.9" fill="#d7191c"/><circle cx="581.5" cy="301.4" r="2.9" fill="#fdba6e"/><circle cx="583.3" cy="311.9" r="2.9" fill="#d7191c"/><circle cx="575.0" cy="314.9" r="2.9" fill="#d7191c"/><circle cx="550.0" cy="316.6" r="2.9" fill="#d7191c"/><circle cx="554.0" cy="318.4" r="2.9" fill="#d7191c"/><circle cx="550.0" cy="321.9" r="2.9" fill="#d7191c"/><circle cx="565.2" cy="318.5" r="2.9" fill="#d7191c"/><circle cx="569.8" cy="321.9" r="2.9" fill="#d7191c"/><circle cx="580.3" cy="322.4" r="2.9" fill="#d7191c"/><circle cx="577.5" cy="326.8" r="2.9" fill="#fdba6e"/><circle cx="578.5" cy="325.9" r="2.9" fill="#ed6e43"/><circle cx="571.9" cy="330.3" r="2.9" fill="#fdba6e"/><circle cx="561.7" cy="332.0" r="2.9" fill="#d7191c"/><circle cx="545.2" cy="328.5" r="2.9" fill="#d7191c"/><circle cx="547.3" cy="328.5" r="2.9" fill="#d7191c"/><circle cx="520.0" cy="327.5" r="2.9" fill="#fee8a4"/><circle cx="521.4" cy="321.9" r="2.9" fill="#d7191c"/><circle cx="523.7" cy="325.9" r="2.9" fill="#ed6e43"/><circle cx="517.2" cy="326.4" r="2.9" fill="#d7191c"/><circle cx="510.9" cy="325.4" r="2.9" fill="#d7191c"/><circle cx="535.1" cy="326.8" r="2.9" fill="#fee8a4"/><circle cx="578.5" cy="331.7" r="2.9" fill="#fdba6e"/><circle cx="507.9" cy="333.8" r="2.9" fill="#ed6e43"/><circle cx="523.7" cy="336.4" r="2.9" fill="#e7f5b7"/><circle cx="530.2" cy="336.4" r="2.9" fill="#fdba6e"/><circle cx="610.2" cy="304.9" r="2.9" fill="#ed6e43"/><circle cx="616.3" cy="303.5" r="2.9" fill="#ed6e43"/><circle cx="624.6" cy="304.0" r="2.9" fill="#ed6e43"/><circle cx="637.7" cy="305.8" r="2.9" fill="#fdba6e"/><circle cx="603.2" cy="309.6" r="2.9" fill="#fdba6e"/><circle cx="594.4" cy="312.8" r="2.9" fill="#d7191c"/><circle cx="596.2" cy="315.9" r="2.9" fill="#d7191c"/><circle cx="599.7" cy="314.9" r="2.9" fill="#d7191c"/><circle cx="603.9" cy="318.5" r="2.9" fill="#d7191c"/><circle cx="586.9" cy="320.6" r="2.9" fill="#d7191c"/><circle cx="583.4" cy="311.9" r="2.9" fill="#d7191c"/><circle cx="581.6" cy="301.4" r="2.9" fill="#fdba6e"/><circle cx="589.5" cy="304.9" r="2.9" fill="#d7191c"/><circle cx="585.1" cy="307.2" r="2.9" fill="#d7191c"/><circle cx="578.7" cy="305.8" r="2.9" fill="#d7191c"/><circle cx="572.4" cy="304.9" r="2.9" fill="#fdba6e"/><circle cx="569.4" cy="303.1" r="2.9" fill="#fdba6e"/><circle cx="571.1" cy="310.7" r="2.9" fill="#d7191c"/><circle cx="575.2" cy="315.0" r="2.9" fill="#d7191c"/><circle cx="566.4" cy="318.9" r="2.9" fill="#d7191c"/><circle cx="569.4" cy="321.9" r="2.9" fill="#d7191c"/><circle cx="580.4" cy="321.9" r="2.9" fill="#d7191c"/><circle cx="578.7" cy="325.9" r="2.9" fill="#ed6e43"/><circle cx="572.0" cy="330.3" r="2.9" fill="#ed6e43"/><circle cx="578.7" cy="332.0" r="2.9" fill="#ed6e43"/><circle cx="627.2" cy="313.6" r="2.9" fill="#fdba6e"/><circle cx="620.2" cy="319.8" r="2.9" fill="#d7191c"/><circle cx="622.8" cy="320.6" r="2.9" fill="#d7191c"/><circle cx="626.0" cy="319.8" r="2.9" fill="#d7191c"/><circle cx="629.0" cy="318.4" r="2.9" fill="#d7191c"/><circle cx="630.7" cy="320.6" r="2.9" fill="#d7191c"/><circle cx="631.6" cy="323.3" r="2.9" fill="#fdba6e"/><circle cx="634.2" cy="324.7" r="2.9" fill="#ed6e43"/><circle cx="636.0" cy="317.1" r="2.9" fill="#fdba6e"/><circle cx="637.2" cy="314.9" r="2.9" fill="#ed6e43"/><circle cx="640.3" cy="315.9" r="2.9" fill="#fdba6e"/><circle cx="643.0" cy="312.8" r="2.9" fill="#d7191c"/><circle cx="644.7" cy="309.6" r="2.9" fill="#ed6e43"/><circle cx="649.1" cy="308.4" r="2.9" fill="#ed6e43"/><circle cx="652.6" cy="307.9" r="2.9" fill="#d7191c"/><circle cx="650.8" cy="311.0" r="2.9" fill="#ed6e43"/><circle cx="619.3" cy="326.8" r="2.9" fill="#e7f5b7"/><circle cx="617.6" cy="335.2" r="2.9" fill="#fdba6e"/><circle cx="624.6" cy="338.1" r="2.9" fill="#74b6ad"/><circle cx="603.9" cy="336.4" r="2.9" fill="#fee8a4"/><circle cx="592.2" cy="338.7" r="2.9" fill="#b7e2a8"/><circle cx="482.9" cy="347.7" r="2.9" fill="#2b83ba"/><circle cx="482.5" cy="356.8" r="2.9" fill="#2b83ba"/><circle cx="480.8" cy="365.9" r="2.9" fill="#2b83ba"/><circle cx="482.2" cy="364.7" r="2.9" fill="#2b83ba"/><circle cx="501.3" cy="354.5" r="2.9" fill="#2b83ba"/><circle cx="509.1" cy="358.5" r="2.9" fill="#74b6ad"/><circle cx="509.7" cy="361.2" r="2.9" fill="#e7f5b7"/><circle cx="494.4" cy="362.9" r="2.9" fill="#2b83ba"/><circle cx="508.8" cy="367.3" r="2.9" fill="#74b6ad"/><circle cx="507.4" cy="369.9" r="2.9" fill="#2b83ba"/><circle cx="505.6" cy="369.9" r="2.9" fill="#2b83ba"/><circle cx="505.6" cy="374.3" r="2.9" fill="#2b83ba"/><circle cx="513.7" cy="372.9" r="2.9" fill="#2b83ba"/><circle cx="501.4" cy="379.0" r="2.9" fill="#2b83ba"/><circle cx="496.2" cy="389.7" r="2.9" fill="#2b83ba"/><circle cx="507.4" cy="388.7" r="2.9" fill="#2b83ba"/><circle cx="503.2" cy="397.1" r="2.9" fill="#2b83ba"/><circle cx="507.4" cy="398.5" r="2.9" fill="#2b83ba"/><circle cx="519.0" cy="363.4" r="2.9" fill="#2b83ba"/><circle cx="527.7" cy="362.6" r="2.9" fill="#74b6ad"/><circle cx="518.4" cy="377.8" r="2.9" fill="#74b6ad"/><circle cx="519.0" cy="382.2" r="2.9" fill="#2b83ba"/><circle cx="521.4" cy="377.5" r="2.9" fill="#2b83ba"/><circle cx="526.0" cy="376.4" r="2.9" fill="#b7e2a8"/><circle cx="506.5" cy="345.9" r="2.9" fill="#b7e2a8"/><circle cx="515.5" cy="342.8" r="2.9" fill="#fdba6e"/><circle cx="525.4" cy="341.9" r="2.9" fill="#ed6e43"/><circle cx="535.4" cy="349.8" r="2.9" fill="#2b83ba"/><circle cx="548.7" cy="348.0" r="2.9" fill="#b7e2a8"/><circle cx="547.3" cy="363.4" r="2.9" fill="#b7e2a8"/><circle cx="537.2" cy="375.2" r="2.9" fill="#e7f5b7"/><circle cx="542.4" cy="374.0" r="2.9" fill="#e7f5b7"/><circle cx="548.2" cy="376.9" r="2.9" fill="#74b6ad"/><circle cx="553.5" cy="374.0" r="2.9" fill="#fee8a4"/><circle cx="558.2" cy="372.9" r="2.9" fill="#fee8a4"/><circle cx="563.5" cy="373.4" r="2.9" fill="#ed6e43"/><circle cx="572.2" cy="375.2" r="2.9" fill="#b7e2a8"/><circle cx="563.1" cy="339.6" r="2.9" fill="#b7e2a8"/><circle cx="566.6" cy="342.8" r="2.9" fill="#fee8a4"/><circle cx="568.4" cy="344.5" r="2.9" fill="#fee8a4"/><circle cx="581.5" cy="343.6" r="2.9" fill="#e7f5b7"/><circle cx="566.6" cy="350.3" r="2.9" fill="#e7f5b7"/><circle cx="574.5" cy="348.4" r="2.9" fill="#b7e2a8"/><circle cx="561.7" cy="358.5" r="2.9" fill="#b7e2a8"/><circle cx="566.3" cy="357.1" r="2.9" fill="#74b6ad"/><circle cx="569.2" cy="363.4" r="2.9" fill="#e7f5b7"/><circle cx="579.8" cy="355.0" r="2.9" fill="#b7e2a8"/><circle cx="576.2" cy="362.4" r="2.9" fill="#fee8a4"/><circle cx="582.7" cy="361.2" r="2.9" fill="#b7e2a8"/><circle cx="591.9" cy="339.8" r="2.9" fill="#e7f5b7"/><circle cx="590.1" cy="346.3" r="2.9" fill="#e7f5b7"/><circle cx="591.6" cy="349.8" r="2.9" fill="#e7f5b7"/><circle cx="594.8" cy="344.5" r="2.9" fill="#e7f5b7"/><circle cx="597.7" cy="344.5" r="2.9" fill="#fee8a4"/><circle cx="599.5" cy="344.5" r="2.9" fill="#b7e2a8"/><circle cx="598.3" cy="348.6" r="2.9" fill="#74b6ad"/><circle cx="603.5" cy="336.1" r="2.9" fill="#fee8a4"/><circle cx="606.8" cy="339.8" r="2.9" fill="#e7f5b7"/><circle cx="604.1" cy="343.4" r="2.9" fill="#e7f5b7"/><circle cx="611.1" cy="344.5" r="2.9" fill="#b7e2a8"/><circle cx="607.0" cy="348.0" r="2.9" fill="#b7e2a8"/><circle cx="609.4" cy="348.6" r="2.9" fill="#74b6ad"/><circle cx="604.7" cy="352.9" r="2.9" fill="#b7e2a8"/><circle cx="601.2" cy="355.0" r="2.9" fill="#e7f5b7"/><circle cx="598.9" cy="355.0" r="2.9" fill="#e7f5b7"/><circle cx="593.0" cy="357.1" r="2.9" fill="#fdba6e"/><circle cx="598.9" cy="357.6" r="2.9" fill="#e7f5b7"/><circle cx="603.8" cy="360.6" r="2.9" fill="#74b6ad"/><circle cx="609.1" cy="355.6" r="2.9" fill="#74b6ad"/><circle cx="615.2" cy="352.9" r="2.9" fill="#2b83ba"/><circle cx="618.5" cy="350.1" r="2.9" fill="#2b83ba"/><circle cx="615.2" cy="346.3" r="2.9" fill="#b7e2a8"/><circle cx="619.3" cy="345.1" r="2.9" fill="#b7e2a8"/><circle cx="616.4" cy="343.1" r="2.9" fill="#e7f5b7"/><circle cx="617.8" cy="335.2" r="2.9" fill="#fdba6e"/><circle cx="624.6" cy="338.7" r="2.9" fill="#74b6ad"/><circle cx="618.7" cy="328.2" r="2.9" fill="#e7f5b7"/><circle cx="594.2" cy="365.5" r="2.9" fill="#fee8a4"/><circle cx="597.5" cy="364.4" r="2.9" fill="#74b6ad"/><circle cx="590.5" cy="369.3" r="2.9" fill="#d7191c"/><circle cx="595.6" cy="369.6" r="2.9" fill="#fee8a4"/><circle cx="594.4" cy="374.6" r="2.9" fill="#ed6e43"/><circle cx="590.5" cy="378.2" r="2.9" fill="#ed6e43"/><circle cx="596.8" cy="378.6" r="2.9" fill="#fdba6e"/><circle cx="592.8" cy="381.9" r="2.9" fill="#d7191c"/><circle cx="598.3" cy="381.3" r="2.9" fill="#fee8a4"/><circle cx="595.9" cy="384.5" r="2.9" fill="#fdba6e"/><circle cx="599.8" cy="386.3" r="2.9" fill="#d7191c"/><circle cx="589.3" cy="386.8" r="2.9" fill="#fdba6e"/><circle cx="593.6" cy="387.1" r="2.9" fill="#e7f5b7"/><circle cx="589.5" cy="390.1" r="2.9" fill="#fee8a4"/><circle cx="595.6" cy="390.1" r="2.9" fill="#fdba6e"/><circle cx="601.8" cy="390.6" r="2.9" fill="#d7191c"/><circle cx="591.3" cy="393.0" r="2.9" fill="#d7191c"/><circle cx="593.6" cy="395.9" r="2.9" fill="#d7191c"/><circle cx="602.4" cy="397.7" r="2.9" fill="#ed6e43"/></g>
<g><circle cx="38.4" cy="519.4" r="2.9" fill="#e7f5b7"/><circle cx="37.5" cy="523.4" r="2.9" fill="#ed6e43"/><circle cx="34.4" cy="525.1" r="2.9" fill="#e7f5b7"/><circle cx="64.7" cy="522.0" r="2.9" fill="#2b83ba"/><circle cx="47.2" cy="528.1" r="2.9" fill="#e7f5b7"/><circle cx="54.5" cy="529.5" r="2.9" fill="#e7f5b7"/><circle cx="35.8" cy="533.0" r="2.9" fill="#fdba6e"/><circle cx="33.7" cy="536.5" r="2.9" fill="#fdba6e"/><circle cx="33.1" cy="541.8" r="2.9" fill="#fee8a4"/><circle cx="70.5" cy="544.4" r="2.9" fill="#2b83ba"/><circle cx="113.7" cy="532.5" r="2.9" fill="#74b6ad"/><circle cx="37.2" cy="561.0" r="2.9" fill="#fdba6e"/><circle cx="51.2" cy="567.1" r="2.9" fill="#2b83ba"/><circle cx="95.0" cy="560.1" r="2.9" fill="#2b83ba"/><circle cx="132.6" cy="561.0" r="2.9" fill="#b7e2a8"/><circle cx="135.1" cy="562.2" r="2.9" fill="#fee8a4"/><circle cx="133.5" cy="565.4" r="2.9" fill="#74b6ad"/><circle cx="134.2" cy="570.6" r="2.9" fill="#2b83ba"/><circle cx="135.3" cy="573.6" r="2.9" fill="#b7e2a8"/><circle cx="35.4" cy="572.9" r="2.9" fill="#ed6e43"/><circle cx="42.4" cy="571.5" r="2.9" fill="#fee8a4"/><circle cx="37.2" cy="575.4" r="2.9" fill="#ed6e43"/><circle cx="43.7" cy="576.4" r="2.9" fill="#d7191c"/><circle cx="47.2" cy="578.9" r="2.9" fill="#d7191c"/><circle cx="51.5" cy="581.5" r="2.9" fill="#d7191c"/><circle cx="38.6" cy="577.8" r="2.9" fill="#d7191c"/><circle cx="76.4" cy="585.4" r="2.9" fill="#2b83ba"/><circle cx="55.6" cy="589.8" r="2.9" fill="#d7191c"/><circle cx="54.7" cy="595.9" r="2.9" fill="#d7191c"/><circle cx="60.3" cy="593.6" r="2.9" fill="#d7191c"/><circle cx="65.2" cy="594.7" r="2.9" fill="#d7191c"/><circle cx="62.0" cy="597.7" r="2.9" fill="#d7191c"/><circle cx="67.0" cy="598.9" r="2.9" fill="#ed6e43"/><circle cx="70.5" cy="598.9" r="2.9" fill="#fee8a4"/><circle cx="66.1" cy="603.4" r="2.9" fill="#d7191c"/><circle cx="94.5" cy="600.3" r="2.9" fill="#e7f5b7"/><circle cx="100.2" cy="607.3" r="2.9" fill="#fdba6e"/><circle cx="124.2" cy="591.2" r="2.9" fill="#74b6ad"/><circle cx="125.1" cy="609.4" r="2.9" fill="#e7f5b7"/><circle cx="176.7" cy="520.2" r="2.9" fill="#2b83ba"/><circle cx="177.9" cy="526.4" r="2.9" fill="#2b83ba"/><circle cx="192.4" cy="533.4" r="2.9" fill="#2b83ba"/><circle cx="197.7" cy="536.9" r="2.9" fill="#2b83ba"/><circle cx="202.1" cy="542.1" r="2.9" fill="#2b83ba"/><circle cx="207.7" cy="537.4" r="2.9" fill="#74b6ad"/><circle cx="225.2" cy="540.0" r="2.9" fill="#2b83ba"/><circle cx="178.4" cy="544.4" r="2.9" fill="#2b83ba"/><circle cx="180.7" cy="550.2" r="2.9" fill="#b7e2a8"/><circle cx="179.0" cy="559.3" r="2.9" fill="#74b6ad"/><circle cx="183.2" cy="557.5" r="2.9" fill="#b7e2a8"/><circle cx="195.4" cy="554.9" r="2.9" fill="#2b83ba"/><circle cx="202.4" cy="550.2" r="2.9" fill="#74b6ad"/><circle cx="207.0" cy="553.5" r="2.9" fill="#b7e2a8"/><circle cx="207.3" cy="554.9" r="2.9" fill="#74b6ad"/><circle cx="212.9" cy="555.8" r="2.9" fill="#2b83ba"/><circle cx="219.2" cy="547.0" r="2.9" fill="#b7e2a8"/><circle cx="221.3" cy="551.7" r="2.9" fill="#fee8a4"/><circle cx="226.6" cy="547.9" r="2.9" fill="#b7e2a8"/><circle cx="226.6" cy="553.7" r="2.9" fill="#b7e2a8"/><circle cx="230.5" cy="555.4" r="2.9" fill="#e7f5b7"/><circle cx="236.8" cy="546.7" r="2.9" fill="#b7e2a8"/><circle cx="238.0" cy="548.8" r="2.9" fill="#74b6ad"/><circle cx="240.3" cy="551.9" r="2.9" fill="#74b6ad"/><circle cx="236.8" cy="554.5" r="2.9" fill="#2b83ba"/><circle cx="238.9" cy="554.9" r="2.9" fill="#2b83ba"/><circle cx="245.5" cy="549.3" r="2.9" fill="#e7f5b7"/><circle cx="249.0" cy="544.4" r="2.9" fill="#e7f5b7"/><circle cx="250.3" cy="554.9" r="2.9" fill="#b7e2a8"/><circle cx="242.4" cy="558.4" r="2.9" fill="#74b6ad"/><circle cx="217.8" cy="559.6" r="2.9" fill="#fee8a4"/><circle cx="221.7" cy="561.5" r="2.9" fill="#fee8a4"/><circle cx="217.5" cy="565.4" r="2.9" fill="#fee8a4"/><circle cx="233.3" cy="561.9" r="2.9" fill="#2b83ba"/><circle cx="236.8" cy="565.0" r="2.9" fill="#b7e2a8"/><circle cx="248.0" cy="565.4" r="2.9" fill="#ed6e43"/><circle cx="246.2" cy="568.9" r="2.9" fill="#fdba6e"/><circle cx="239.2" cy="573.6" r="2.9" fill="#74b6ad"/><circle cx="229.8" cy="575.4" r="2.9" fill="#fee8a4"/><circle cx="246.2" cy="574.7" r="2.9" fill="#b7e2a8"/><circle cx="189.5" cy="565.4" r="2.9" fill="#74b6ad"/><circle cx="191.2" cy="569.4" r="2.9" fill="#b7e2a8"/><circle cx="184.6" cy="569.4" r="2.9" fill="#b7e2a8"/><circle cx="187.7" cy="569.8" r="2.9" fill="#74b6ad"/><circle cx="178.4" cy="568.9" r="2.9" fill="#b7e2a8"/><circle cx="203.0" cy="569.8" r="2.9" fill="#2b83ba"/><circle cx="212.9" cy="571.5" r="2.9" fill="#e7f5b7"/><circle cx="215.7" cy="571.5" r="2.9" fill="#b7e2a8"/><circle cx="175.4" cy="577.1" r="2.9" fill="#74b6ad"/><circle cx="191.2" cy="579.4" r="2.9" fill="#fee8a4"/><circle cx="197.7" cy="579.4" r="2.9" fill="#e7f5b7"/><circle cx="277.6" cy="547.9" r="2.9" fill="#74b6ad"/><circle cx="283.7" cy="546.7" r="2.9" fill="#2b83ba"/><circle cx="292.1" cy="547.0" r="2.9" fill="#2b83ba"/><circle cx="305.2" cy="549.1" r="2.9" fill="#74b6ad"/><circle cx="270.5" cy="552.6" r="2.9" fill="#b7e2a8"/><circle cx="261.4" cy="555.8" r="2.9" fill="#2b83ba"/><circle cx="263.2" cy="558.4" r="2.9" fill="#2b83ba"/><circle cx="267.0" cy="557.9" r="2.9" fill="#2b83ba"/><circle cx="271.4" cy="561.5" r="2.9" fill="#2b83ba"/><circle cx="254.4" cy="564.2" r="2.9" fill="#fee8a4"/><circle cx="251.3" cy="554.9" r="2.9" fill="#b7e2a8"/><circle cx="249.2" cy="544.4" r="2.9" fill="#e7f5b7"/><circle cx="257.4" cy="548.2" r="2.9" fill="#b7e2a8"/><circle cx="252.7" cy="550.5" r="2.9" fill="#fee8a4"/><circle cx="246.0" cy="549.1" r="2.9" fill="#e7f5b7"/><circle cx="239.4" cy="549.1" r="2.9" fill="#74b6ad"/><circle cx="236.4" cy="546.7" r="2.9" fill="#b7e2a8"/><circle cx="236.9" cy="554.5" r="2.9" fill="#2b83ba"/><circle cx="242.5" cy="558.4" r="2.9" fill="#74b6ad"/><circle cx="233.4" cy="561.9" r="2.9" fill="#2b83ba"/><circle cx="236.9" cy="565.4" r="2.9" fill="#b7e2a8"/><circle cx="247.8" cy="565.0" r="2.9" fill="#ed6e43"/><circle cx="246.4" cy="568.9" r="2.9" fill="#fdba6e"/><circle cx="294.2" cy="556.6" r="2.9" fill="#b7e2a8"/><circle cx="288.1" cy="562.8" r="2.9" fill="#2b83ba"/><circle cx="289.8" cy="564.5" r="2.9" fill="#2b83ba"/><circle cx="292.4" cy="562.8" r="2.9" fill="#b7e2a8"/><circle cx="295.9" cy="562.8" r="2.9" fill="#fee8a4"/><circle cx="298.2" cy="564.5" r="2.9" fill="#fee8a4"/><circle cx="299.4" cy="567.7" r="2.9" fill="#fee8a4"/><circle cx="294.2" cy="566.6" r="2.9" fill="#ed6e43"/><circle cx="303.8" cy="557.9" r="2.9" fill="#fee8a4"/><circle cx="303.0" cy="561.0" r="2.9" fill="#e7f5b7"/><circle cx="307.3" cy="558.9" r="2.9" fill="#e7f5b7"/><circle cx="311.2" cy="554.0" r="2.9" fill="#e7f5b7"/><circle cx="312.6" cy="552.3" r="2.9" fill="#b7e2a8"/><circle cx="317.0" cy="552.6" r="2.9" fill="#b7e2a8"/><circle cx="319.6" cy="551.4" r="2.9" fill="#74b6ad"/><circle cx="317.8" cy="554.4" r="2.9" fill="#74b6ad"/><circle cx="286.3" cy="569.4" r="2.9" fill="#fee8a4"/><circle cx="288.1" cy="570.6" r="2.9" fill="#fee8a4"/><circle cx="284.6" cy="578.2" r="2.9" fill="#fdba6e"/><circle cx="288.1" cy="579.4" r="2.9" fill="#d7191c"/><circle cx="291.6" cy="580.6" r="2.9" fill="#ed6e43"/><circle cx="270.9" cy="579.4" r="2.9" fill="#ed6e43"/><circle cx="150.4" cy="591.0" r="2.9" fill="#b7e2a8"/><circle cx="150.4" cy="599.8" r="2.9" fill="#d7191c"/><circle cx="148.1" cy="608.9" r="2.9" fill="#ed6e43"/><circle cx="149.5" cy="608.0" r="2.9" fill="#ed6e43"/><circle cx="168.8" cy="597.7" r="2.9" fill="#d7191c"/><circle cx="176.7" cy="601.5" r="2.9" fill="#ed6e43"/><circle cx="177.2" cy="603.6" r="2.9" fill="#fdba6e"/><circle cx="162.1" cy="606.3" r="2.9" fill="#d7191c"/><circle cx="176.1" cy="611.2" r="2.9" fill="#d7191c"/><circle cx="173.5" cy="612.9" r="2.9" fill="#d7191c"/><circle cx="173.2" cy="617.0" r="2.9" fill="#d7191c"/><circle cx="181.1" cy="615.9" r="2.9" fill="#d7191c"/><circle cx="168.8" cy="622.0" r="2.9" fill="#d7191c"/><circle cx="163.2" cy="633.1" r="2.9" fill="#d7191c"/><circle cx="174.9" cy="631.7" r="2.9" fill="#d7191c"/><circle cx="170.9" cy="640.4" r="2.9" fill="#d7191c"/><circle cx="174.6" cy="641.8" r="2.9" fill="#d7191c"/><circle cx="186.7" cy="606.4" r="2.9" fill="#d7191c"/><circle cx="195.4" cy="605.9" r="2.9" fill="#d7191c"/><circle cx="186.3" cy="620.8" r="2.9" fill="#fdba6e"/><circle cx="186.7" cy="625.2" r="2.9" fill="#b7e2a8"/><circle cx="188.9" cy="620.5" r="2.9" fill="#fee8a4"/><circle cx="193.3" cy="619.4" r="2.9" fill="#d7191c"/><circle cx="174.4" cy="589.3" r="2.9" fill="#fdba6e"/><circle cx="183.2" cy="585.8" r="2.9" fill="#fee8a4"/><circle cx="193.0" cy="585.4" r="2.9" fill="#fee8a4"/><circle cx="203.0" cy="593.1" r="2.9" fill="#fdba6e"/><circle cx="216.4" cy="591.4" r="2.9" fill="#fdba6e"/><circle cx="215.2" cy="606.4" r="2.9" fill="#ed6e43"/><circle cx="204.7" cy="618.2" r="2.9" fill="#fee8a4"/><circle cx="210.0" cy="617.0" r="2.9" fill="#fee8a4"/><circle cx="215.7" cy="619.9" r="2.9" fill="#ed6e43"/><circle cx="221.0" cy="617.0" r="2.9" fill="#d7191c"/><circle cx="226.3" cy="615.9" r="2.9" fill="#ed6e43"/><circle cx="231.0" cy="616.4" r="2.9" fill="#74b6ad"/><circle cx="239.7" cy="618.2" r="2.9" fill="#74b6ad"/><circle cx="230.5" cy="583.1" r="2.9" fill="#fee8a4"/><circle cx="234.5" cy="585.8" r="2.9" fill="#fdba6e"/><circle cx="236.2" cy="587.5" r="2.9" fill="#d7191c"/><circle cx="249.0" cy="586.6" r="2.9" fill="#fee8a4"/><circle cx="234.5" cy="593.3" r="2.9" fill="#d7191c"/><circle cx="242.0" cy="591.5" r="2.9" fill="#fdba6e"/><circle cx="229.2" cy="601.5" r="2.9" fill="#d7191c"/><circle cx="233.3" cy="600.7" r="2.9" fill="#d7191c"/><circle cx="236.2" cy="606.4" r="2.9" fill="#d7191c"/><circle cx="247.3" cy="598.0" r="2.9" fill="#fee8a4"/><circle cx="243.8" cy="605.9" r="2.9" fill="#fee8a4"/><circle cx="250.3" cy="604.2" r="2.9" fill="#d7191c"/><circle cx="258.9" cy="582.8" r="2.9" fill="#fee8a4"/><circle cx="257.1" cy="589.3" r="2.9" fill="#fee8a4"/><circle cx="258.6" cy="592.4" r="2.9" fill="#ed6e43"/><circle cx="262.1" cy="587.8" r="2.9" fill="#ed6e43"/><circle cx="266.5" cy="587.5" r="2.9" fill="#ed6e43"/><circle cx="265.9" cy="592.0" r="2.9" fill="#fdba6e"/><circle cx="271.1" cy="579.1" r="2.9" fill="#ed6e43"/><circle cx="274.3" cy="583.1" r="2.9" fill="#ed6e43"/><circle cx="271.5" cy="586.4" r="2.9" fill="#ed6e43"/><circle cx="278.5" cy="587.5" r="2.9" fill="#fee8a4"/><circle cx="274.3" cy="591.0" r="2.9" fill="#e7f5b7"/><circle cx="277.0" cy="592.2" r="2.9" fill="#fdba6e"/><circle cx="272.3" cy="596.3" r="2.9" fill="#d7191c"/><circle cx="269.4" cy="597.8" r="2.9" fill="#ed6e43"/><circle cx="266.5" cy="600.4" r="2.9" fill="#ed6e43"/><circle cx="265.3" cy="596.3" r="2.9" fill="#fee8a4"/><circle cx="260.6" cy="600.4" r="2.9" fill="#fdba6e"/><circle cx="258.9" cy="600.6" r="2.9" fill="#d7191c"/><circle cx="271.1" cy="603.3" r="2.9" fill="#b7e2a8"/><circle cx="273.5" cy="603.9" r="2.9" fill="#fdba6e"/><circle cx="277.3" cy="599.0" r="2.9" fill="#fdba6e"/><circle cx="282.5" cy="596.3" r="2.9" fill="#fdba6e"/><circle cx="285.7" cy="593.1" r="2.9" fill="#ed6e43"/><circle cx="282.2" cy="589.3" r="2.9" fill="#fdba6e"/><circle cx="286.3" cy="588.5" r="2.9" fill="#d7191c"/><circle cx="283.4" cy="586.4" r="2.9" fill="#b7e2a8"/><circle cx="285.1" cy="577.6" r="2.9" fill="#fdba6e"/><circle cx="285.7" cy="579.6" r="2.9" fill="#d7191c"/><circle cx="291.0" cy="579.3" r="2.9" fill="#d7191c"/><circle cx="292.1" cy="581.7" r="2.9" fill="#fdba6e"/><circle cx="286.3" cy="570.9" r="2.9" fill="#fee8a4"/><circle cx="262.1" cy="609.1" r="2.9" fill="#fdba6e"/><circle cx="264.9" cy="607.6" r="2.9" fill="#74b6ad"/><circle cx="257.9" cy="612.6" r="2.9" fill="#ed6e43"/><circle cx="262.9" cy="613.2" r="2.9" fill="#d7191c"/><circle cx="262.1" cy="617.9" r="2.9" fill="#e7f5b7"/><circle cx="257.9" cy="621.2" r="2.9" fill="#e7f5b7"/><circle cx="264.5" cy="622.0" r="2.9" fill="#fdba6e"/><circle cx="265.9" cy="624.3" r="2.9" fill="#d7191c"/><circle cx="260.0" cy="624.9" r="2.9" fill="#fee8a4"/><circle cx="263.3" cy="627.2" r="2.9" fill="#fee8a4"/><circle cx="267.0" cy="629.6" r="2.9" fill="#e7f5b7"/><circle cx="257.1" cy="630.1" r="2.9" fill="#ed6e43"/><circle cx="260.0" cy="630.7" r="2.9" fill="#ed6e43"/><circle cx="257.1" cy="633.6" r="2.9" fill="#d7191c"/><circle cx="262.9" cy="633.1" r="2.9" fill="#ed6e43"/><circle cx="258.3" cy="636.0" r="2.9" fill="#ed6e43"/><circle cx="261.2" cy="638.9" r="2.9" fill="#ed6e43"/><circle cx="269.1" cy="634.0" r="2.9" fill="#74b6ad"/><circle cx="269.6" cy="640.3" r="2.9" fill="#e7f5b7"/></g>
<g><circle cx="379.9" cy="522.9" r="2.9" fill="#fdba6e"/><circle cx="378.5" cy="526.4" r="2.9" fill="#e7f5b7"/><circle cx="375.9" cy="528.7" r="2.9" fill="#b7e2a8"/><circle cx="406.2" cy="525.5" r="2.9" fill="#d7191c"/><circle cx="388.5" cy="531.3" r="2.9" fill="#d7191c"/><circle cx="396.0" cy="532.9" r="2.9" fill="#d7191c"/><circle cx="377.6" cy="536.4" r="2.9" fill="#b7e2a8"/><circle cx="375.0" cy="540.4" r="2.9" fill="#74b6ad"/><circle cx="374.5" cy="545.1" r="2.9" fill="#2b83ba"/><circle cx="412.2" cy="547.7" r="2.9" fill="#ed6e43"/><circle cx="455.1" cy="535.7" r="2.9" fill="#ed6e43"/><circle cx="378.5" cy="564.4" r="2.9" fill="#2b83ba"/><circle cx="392.5" cy="570.5" r="2.9" fill="#ed6e43"/><circle cx="436.3" cy="563.7" r="2.9" fill="#fdba6e"/><circle cx="474.0" cy="564.4" r="2.9" fill="#fdba6e"/><circle cx="476.3" cy="565.4" r="2.9" fill="#ed6e43"/><circle cx="474.5" cy="569.3" r="2.9" fill="#ed6e43"/><circle cx="475.2" cy="573.6" r="2.9" fill="#e7f5b7"/><circle cx="476.6" cy="577.1" r="2.9" fill="#fee8a4"/><circle cx="376.8" cy="576.3" r="2.9" fill="#2b83ba"/><circle cx="384.1" cy="575.4" r="2.9" fill="#2b83ba"/><circle cx="378.5" cy="578.9" r="2.9" fill="#2b83ba"/><circle cx="380.3" cy="580.9" r="2.9" fill="#2b83ba"/><circle cx="385.5" cy="580.1" r="2.9" fill="#2b83ba"/><circle cx="389.0" cy="582.4" r="2.9" fill="#2b83ba"/><circle cx="392.9" cy="585.0" r="2.9" fill="#2b83ba"/><circle cx="418.5" cy="588.9" r="2.9" fill="#2b83ba"/><circle cx="396.9" cy="593.1" r="2.9" fill="#2b83ba"/><circle cx="402.2" cy="597.2" r="2.9" fill="#2b83ba"/><circle cx="406.6" cy="598.0" r="2.9" fill="#2b83ba"/><circle cx="403.4" cy="601.2" r="2.9" fill="#2b83ba"/><circle cx="396.4" cy="599.4" r="2.9" fill="#2b83ba"/><circle cx="408.3" cy="602.1" r="2.9" fill="#2b83ba"/><circle cx="411.8" cy="602.1" r="2.9" fill="#2b83ba"/><circle cx="407.4" cy="606.8" r="2.9" fill="#2b83ba"/><circle cx="435.5" cy="603.6" r="2.9" fill="#2b83ba"/><circle cx="441.6" cy="610.6" r="2.9" fill="#2b83ba"/><circle cx="465.2" cy="594.5" r="2.9" fill="#74b6ad"/><circle cx="466.5" cy="612.9" r="2.9" fill="#2b83ba"/><circle cx="517.7" cy="523.8" r="2.9" fill="#fee8a4"/><circle cx="519.1" cy="529.9" r="2.9" fill="#d7191c"/><circle cx="534.0" cy="536.9" r="2.9" fill="#fdba6e"/><circle cx="539.0" cy="540.0" r="2.9" fill="#ed6e43"/><circle cx="548.7" cy="540.9" r="2.9" fill="#fee8a4"/><circle cx="543.4" cy="545.3" r="2.9" fill="#d7191c"/><circle cx="566.7" cy="543.4" r="2.9" fill="#ed6e43"/><circle cx="520.0" cy="547.9" r="2.9" fill="#fdba6e"/><circle cx="522.1" cy="553.9" r="2.9" fill="#d7191c"/><circle cx="520.3" cy="562.6" r="2.9" fill="#d7191c"/><circle cx="524.2" cy="560.5" r="2.9" fill="#d7191c"/><circle cx="537.0" cy="558.4" r="2.9" fill="#d7191c"/><circle cx="544.0" cy="553.5" r="2.9" fill="#d7191c"/><circle cx="548.0" cy="556.7" r="2.9" fill="#ed6e43"/><circle cx="548.7" cy="558.8" r="2.9" fill="#ed6e43"/><circle cx="554.1" cy="559.3" r="2.9" fill="#d7191c"/><circle cx="560.2" cy="550.4" r="2.9" fill="#d7191c"/><circle cx="562.3" cy="554.9" r="2.9" fill="#d7191c"/><circle cx="568.0" cy="551.2" r="2.9" fill="#fdba6e"/><circle cx="568.0" cy="557.0" r="2.9" fill="#d7191c"/><circle cx="571.5" cy="558.8" r="2.9" fill="#d7191c"/><circle cx="577.8" cy="550.0" r="2.9" fill="#d7191c"/><circle cx="579.9" cy="552.1" r="2.9" fill="#fdba6e"/><circle cx="581.6" cy="555.3" r="2.9" fill="#d7191c"/><circle cx="578.1" cy="557.9" r="2.9" fill="#d7191c"/><circle cx="586.9" cy="552.1" r="2.9" fill="#ed6e43"/><circle cx="590.4" cy="547.9" r="2.9" fill="#fdba6e"/><circle cx="591.8" cy="558.4" r="2.9" fill="#d7191c"/><circle cx="583.7" cy="561.4" r="2.9" fill="#d7191c"/><circle cx="558.8" cy="563.1" r="2.9" fill="#d7191c"/><circle cx="562.7" cy="564.9" r="2.9" fill="#d7191c"/><circle cx="558.8" cy="568.4" r="2.9" fill="#d7191c"/><circle cx="574.3" cy="565.2" r="2.9" fill="#d7191c"/><circle cx="578.1" cy="568.4" r="2.9" fill="#d7191c"/><circle cx="589.0" cy="568.4" r="2.9" fill="#fdba6e"/><circle cx="587.8" cy="571.4" r="2.9" fill="#fee8a4"/><circle cx="586.9" cy="572.8" r="2.9" fill="#e7f5b7"/><circle cx="580.7" cy="576.6" r="2.9" fill="#fee8a4"/><circle cx="570.8" cy="578.4" r="2.9" fill="#d7191c"/><circle cx="587.2" cy="578.4" r="2.9" fill="#d7191c"/><circle cx="554.5" cy="574.9" r="2.9" fill="#fdba6e"/><circle cx="557.1" cy="574.9" r="2.9" fill="#d7191c"/><circle cx="530.8" cy="568.4" r="2.9" fill="#d7191c"/><circle cx="532.2" cy="572.8" r="2.9" fill="#d7191c"/><circle cx="525.9" cy="572.8" r="2.9" fill="#fdba6e"/><circle cx="527.7" cy="573.1" r="2.9" fill="#e7f5b7"/><circle cx="520.0" cy="572.4" r="2.9" fill="#d7191c"/><circle cx="544.0" cy="573.1" r="2.9" fill="#ed6e43"/><circle cx="516.8" cy="580.1" r="2.9" fill="#fee8a4"/><circle cx="532.6" cy="582.9" r="2.9" fill="#e7f5b7"/><circle cx="538.7" cy="582.4" r="2.9" fill="#ed6e43"/><circle cx="619.1" cy="551.3" r="2.9" fill="#ed6e43"/><circle cx="625.3" cy="550.2" r="2.9" fill="#d7191c"/><circle cx="633.5" cy="550.2" r="2.9" fill="#d7191c"/><circle cx="646.6" cy="552.6" r="2.9" fill="#e7f5b7"/><circle cx="611.9" cy="555.9" r="2.9" fill="#d7191c"/><circle cx="603.2" cy="559.2" r="2.9" fill="#fee8a4"/><circle cx="604.9" cy="562.4" r="2.9" fill="#fdba6e"/><circle cx="608.6" cy="561.3" r="2.9" fill="#d7191c"/><circle cx="612.6" cy="564.9" r="2.9" fill="#ed6e43"/><circle cx="595.9" cy="567.3" r="2.9" fill="#ed6e43"/><circle cx="592.3" cy="558.3" r="2.9" fill="#d7191c"/><circle cx="590.7" cy="548.5" r="2.9" fill="#fdba6e"/><circle cx="598.8" cy="551.3" r="2.9" fill="#ed6e43"/><circle cx="594.6" cy="554.3" r="2.9" fill="#d7191c"/><circle cx="587.4" cy="552.3" r="2.9" fill="#ed6e43"/><circle cx="636.0" cy="560.0" r="2.9" fill="#fdba6e"/><circle cx="629.4" cy="566.0" r="2.9" fill="#fee8a4"/><circle cx="630.6" cy="568.6" r="2.9" fill="#d7191c"/><circle cx="634.8" cy="564.9" r="2.9" fill="#ed6e43"/><circle cx="637.6" cy="564.1" r="2.9" fill="#fdba6e"/><circle cx="639.7" cy="568.2" r="2.9" fill="#b7e2a8"/><circle cx="637.6" cy="570.9" r="2.9" fill="#b7e2a8"/><circle cx="636.0" cy="570.3" r="2.9" fill="#74b6ad"/><circle cx="627.8" cy="573.1" r="2.9" fill="#2b83ba"/><circle cx="631.0" cy="573.1" r="2.9" fill="#74b6ad"/><circle cx="643.0" cy="570.6" r="2.9" fill="#2b83ba"/><circle cx="645.0" cy="561.6" r="2.9" fill="#b7e2a8"/><circle cx="644.1" cy="564.4" r="2.9" fill="#74b6ad"/><circle cx="648.5" cy="562.4" r="2.9" fill="#74b6ad"/><circle cx="652.3" cy="559.2" r="2.9" fill="#ed6e43"/><circle cx="653.1" cy="555.6" r="2.9" fill="#fee8a4"/><circle cx="658.0" cy="555.1" r="2.9" fill="#fdba6e"/><circle cx="661.3" cy="554.3" r="2.9" fill="#fdba6e"/><circle cx="659.7" cy="557.9" r="2.9" fill="#fdba6e"/><circle cx="612.6" cy="582.4" r="2.9" fill="#e7f5b7"/><circle cx="626.6" cy="581.2" r="2.9" fill="#e7f5b7"/><circle cx="632.7" cy="583.7" r="2.9" fill="#74b6ad"/><circle cx="491.4" cy="594.4" r="2.9" fill="#2b83ba"/><circle cx="491.4" cy="603.1" r="2.9" fill="#2b83ba"/><circle cx="489.6" cy="612.4" r="2.9" fill="#2b83ba"/><circle cx="490.5" cy="611.2" r="2.9" fill="#2b83ba"/><circle cx="510.1" cy="601.0" r="2.9" fill="#2b83ba"/><circle cx="518.2" cy="605.4" r="2.9" fill="#e7f5b7"/><circle cx="518.6" cy="607.7" r="2.9" fill="#b7e2a8"/><circle cx="503.1" cy="609.4" r="2.9" fill="#2b83ba"/><circle cx="517.7" cy="614.2" r="2.9" fill="#2b83ba"/><circle cx="515.0" cy="616.4" r="2.9" fill="#2b83ba"/><circle cx="514.5" cy="620.3" r="2.9" fill="#2b83ba"/><circle cx="522.4" cy="619.4" r="2.9" fill="#2b83ba"/><circle cx="510.1" cy="625.2" r="2.9" fill="#2b83ba"/><circle cx="504.5" cy="636.1" r="2.9" fill="#2b83ba"/><circle cx="515.9" cy="635.2" r="2.9" fill="#2b83ba"/><circle cx="512.4" cy="643.4" r="2.9" fill="#2b83ba"/><circle cx="515.9" cy="645.2" r="2.9" fill="#2b83ba"/><circle cx="527.7" cy="609.8" r="2.9" fill="#2b83ba"/><circle cx="536.4" cy="609.3" r="2.9" fill="#74b6ad"/><circle cx="527.7" cy="624.2" r="2.9" fill="#74b6ad"/><circle cx="527.7" cy="628.7" r="2.9" fill="#2b83ba"/><circle cx="530.5" cy="624.2" r="2.9" fill="#2b83ba"/><circle cx="534.7" cy="622.9" r="2.9" fill="#2b83ba"/><circle cx="515.4" cy="592.6" r="2.9" fill="#fee8a4"/><circle cx="524.2" cy="589.6" r="2.9" fill="#fdba6e"/><circle cx="534.0" cy="588.4" r="2.9" fill="#fee8a4"/><circle cx="544.0" cy="596.7" r="2.9" fill="#e7f5b7"/><circle cx="557.4" cy="594.9" r="2.9" fill="#e7f5b7"/><circle cx="556.2" cy="609.8" r="2.9" fill="#b7e2a8"/><circle cx="545.7" cy="621.7" r="2.9" fill="#fee8a4"/><circle cx="551.3" cy="620.3" r="2.9" fill="#e7f5b7"/><circle cx="556.7" cy="623.5" r="2.9" fill="#74b6ad"/><circle cx="562.3" cy="620.3" r="2.9" fill="#b7e2a8"/><circle cx="567.6" cy="619.4" r="2.9" fill="#e7f5b7"/><circle cx="572.5" cy="620.3" r="2.9" fill="#e7f5b7"/><circle cx="581.3" cy="621.7" r="2.9" fill="#2b83ba"/><circle cx="572.0" cy="586.1" r="2.9" fill="#74b6ad"/><circle cx="576.0" cy="589.1" r="2.9" fill="#b7e2a8"/><circle cx="577.8" cy="590.5" r="2.9" fill="#fee8a4"/><circle cx="590.0" cy="590.2" r="2.9" fill="#fee8a4"/><circle cx="575.5" cy="596.7" r="2.9" fill="#b7e2a8"/><circle cx="583.0" cy="594.9" r="2.9" fill="#e7f5b7"/><circle cx="570.8" cy="604.9" r="2.9" fill="#74b6ad"/><circle cx="574.6" cy="603.7" r="2.9" fill="#b7e2a8"/><circle cx="577.8" cy="609.8" r="2.9" fill="#e7f5b7"/><circle cx="588.3" cy="601.4" r="2.9" fill="#fdba6e"/><circle cx="584.8" cy="609.4" r="2.9" fill="#ed6e43"/><circle cx="591.3" cy="607.7" r="2.9" fill="#fdba6e"/><circle cx="600.4" cy="586.8" r="2.9" fill="#fdba6e"/><circle cx="598.7" cy="593.1" r="2.9" fill="#d7191c"/><circle cx="603.1" cy="591.5" r="2.9" fill="#ed6e43"/><circle cx="600.4" cy="596.4" r="2.9" fill="#e7f5b7"/><circle cx="607.8" cy="591.1" r="2.9" fill="#b7e2a8"/><circle cx="606.9" cy="595.2" r="2.9" fill="#e7f5b7"/><circle cx="612.7" cy="582.6" r="2.9" fill="#e7f5b7"/><circle cx="615.6" cy="586.4" r="2.9" fill="#d7191c"/><circle cx="612.5" cy="589.6" r="2.9" fill="#fee8a4"/><circle cx="619.7" cy="591.1" r="2.9" fill="#e7f5b7"/><circle cx="615.6" cy="594.3" r="2.9" fill="#b7e2a8"/><circle cx="618.3" cy="597.3" r="2.9" fill="#fee8a4"/><circle cx="613.3" cy="599.3" r="2.9" fill="#74b6ad"/><circle cx="610.4" cy="601.0" r="2.9" fill="#b7e2a8"/><circle cx="607.5" cy="603.6" r="2.9" fill="#74b6ad"/><circle cx="602.2" cy="603.6" r="2.9" fill="#b7e2a8"/><circle cx="612.1" cy="606.9" r="2.9" fill="#ed6e43"/><circle cx="618.5" cy="602.2" r="2.9" fill="#e7f5b7"/><circle cx="623.8" cy="599.3" r="2.9" fill="#fee8a4"/><circle cx="627.0" cy="596.4" r="2.9" fill="#e7f5b7"/><circle cx="623.5" cy="592.9" r="2.9" fill="#b7e2a8"/><circle cx="624.6" cy="588.8" r="2.9" fill="#fdba6e"/><circle cx="626.5" cy="581.8" r="2.9" fill="#e7f5b7"/><circle cx="633.1" cy="584.7" r="2.9" fill="#74b6ad"/><circle cx="604.3" cy="611.5" r="2.9" fill="#b7e2a8"/><circle cx="599.3" cy="616.2" r="2.9" fill="#fee8a4"/><circle cx="604.3" cy="616.2" r="2.9" fill="#2b83ba"/><circle cx="603.1" cy="620.9" r="2.9" fill="#2b83ba"/><circle cx="599.3" cy="624.4" r="2.9" fill="#2b83ba"/><circle cx="605.7" cy="625.3" r="2.9" fill="#b7e2a8"/><circle cx="601.3" cy="628.5" r="2.9" fill="#74b6ad"/><circle cx="606.9" cy="627.9" r="2.9" fill="#2b83ba"/><circle cx="603.9" cy="632.0" r="2.9" fill="#2b83ba"/><circle cx="608.6" cy="633.1" r="2.9" fill="#fee8a4"/><circle cx="598.1" cy="633.1" r="2.9" fill="#b7e2a8"/><circle cx="598.7" cy="636.6" r="2.9" fill="#2b83ba"/><circle cx="604.3" cy="636.6" r="2.9" fill="#2b83ba"/><circle cx="601.0" cy="639.6" r="2.9" fill="#e7f5b7"/><circle cx="602.2" cy="642.8" r="2.9" fill="#b7e2a8"/><circle cx="610.4" cy="637.2" r="2.9" fill="#fee8a4"/><circle cx="611.0" cy="644.0" r="2.9" fill="#fdba6e"/></g>
<g><circle cx="37.4" cy="749.4" r="2.9" fill="#fdba6e"/><circle cx="36.2" cy="752.9" r="2.9" fill="#fee8a4"/><circle cx="33.4" cy="755.1" r="2.9" fill="#fee8a4"/><circle cx="63.7" cy="751.6" r="2.9" fill="#74b6ad"/><circle cx="46.2" cy="757.8" r="2.9" fill="#b7e2a8"/><circle cx="53.5" cy="759.5" r="2.9" fill="#b7e2a8"/><circle cx="34.8" cy="763.0" r="2.9" fill="#fdba6e"/><circle cx="32.7" cy="766.5" r="2.9" fill="#fee8a4"/><circle cx="32.1" cy="771.8" r="2.9" fill="#fee8a4"/><circle cx="69.5" cy="774.0" r="2.9" fill="#ed6e43"/><circle cx="112.4" cy="762.1" r="2.9" fill="#d7191c"/><circle cx="36.0" cy="790.7" r="2.9" fill="#fee8a4"/><circle cx="50.2" cy="796.8" r="2.9" fill="#fee8a4"/><circle cx="93.8" cy="790.1" r="2.9" fill="#fdba6e"/><circle cx="131.6" cy="791.0" r="2.9" fill="#ed6e43"/><circle cx="134.1" cy="792.2" r="2.9" fill="#fee8a4"/><circle cx="132.5" cy="795.4" r="2.9" fill="#e7f5b7"/><circle cx="132.9" cy="800.1" r="2.9" fill="#fee8a4"/><circle cx="134.1" cy="803.6" r="2.9" fill="#ed6e43"/><circle cx="34.4" cy="802.4" r="2.9" fill="#d7191c"/><circle cx="41.4" cy="801.2" r="2.9" fill="#e7f5b7"/><circle cx="36.5" cy="805.0" r="2.9" fill="#fdba6e"/><circle cx="37.9" cy="807.6" r="2.9" fill="#fdba6e"/><circle cx="42.7" cy="806.4" r="2.9" fill="#fee8a4"/><circle cx="46.2" cy="808.9" r="2.9" fill="#fdba6e"/><circle cx="50.5" cy="811.5" r="2.9" fill="#e7f5b7"/><circle cx="75.4" cy="815.4" r="2.9" fill="#e7f5b7"/><circle cx="54.4" cy="819.4" r="2.9" fill="#fdba6e"/><circle cx="53.7" cy="825.9" r="2.9" fill="#fee8a4"/><circle cx="59.3" cy="823.3" r="2.9" fill="#ed6e43"/><circle cx="64.2" cy="824.7" r="2.9" fill="#ed6e43"/><circle cx="60.7" cy="827.7" r="2.9" fill="#fdba6e"/><circle cx="65.4" cy="828.5" r="2.9" fill="#e7f5b7"/><circle cx="69.5" cy="828.5" r="2.9" fill="#ed6e43"/><circle cx="64.9" cy="833.4" r="2.9" fill="#fdba6e"/><circle cx="93.5" cy="829.9" r="2.9" fill="#e7f5b7"/><circle cx="99.1" cy="837.0" r="2.9" fill="#ed6e43"/><circle cx="122.9" cy="821.0" r="2.9" fill="#fdba6e"/><circle cx="124.1" cy="839.4" r="2.9" fill="#ed6e43"/><circle cx="175.3" cy="750.2" r="2.9" fill="#fee8a4"/><circle cx="176.9" cy="756.0" r="2.9" fill="#fee8a4"/><circle cx="191.4" cy="763.4" r="2.9" fill="#fee8a4"/><circle cx="196.7" cy="766.5" r="2.9" fill="#fee8a4"/><circle cx="206.7" cy="767.4" r="2.9" fill="#fdba6e"/><circle cx="201.1" cy="771.8" r="2.9" fill="#ed6e43"/><circle cx="224.2" cy="770.0" r="2.9" fill="#fdba6e"/><circle cx="177.4" cy="774.4" r="2.9" fill="#fdba6e"/><circle cx="179.7" cy="780.2" r="2.9" fill="#fee8a4"/><circle cx="178.0" cy="789.3" r="2.9" fill="#ed6e43"/><circle cx="181.8" cy="787.2" r="2.9" fill="#ed6e43"/><circle cx="194.4" cy="784.9" r="2.9" fill="#fdba6e"/><circle cx="201.4" cy="780.2" r="2.9" fill="#ed6e43"/><circle cx="205.5" cy="783.1" r="2.9" fill="#ed6e43"/><circle cx="206.0" cy="784.9" r="2.9" fill="#ed6e43"/><circle cx="211.6" cy="785.8" r="2.9" fill="#fdba6e"/><circle cx="218.1" cy="777.0" r="2.9" fill="#ed6e43"/><circle cx="220.0" cy="781.4" r="2.9" fill="#ed6e43"/><circle cx="225.6" cy="777.9" r="2.9" fill="#ed6e43"/><circle cx="225.6" cy="783.7" r="2.9" fill="#ed6e43"/><circle cx="229.1" cy="784.9" r="2.9" fill="#ed6e43"/><circle cx="235.6" cy="776.5" r="2.9" fill="#fdba6e"/><circle cx="238.2" cy="778.4" r="2.9" fill="#ed6e43"/><circle cx="238.7" cy="781.9" r="2.9" fill="#fdba6e"/><circle cx="235.8" cy="784.5" r="2.9" fill="#fdba6e"/><circle cx="244.5" cy="779.3" r="2.9" fill="#fee8a4"/><circle cx="248.0" cy="774.7" r="2.9" fill="#fee8a4"/><circle cx="249.3" cy="784.9" r="2.9" fill="#fdba6e"/><circle cx="241.4" cy="788.0" r="2.9" fill="#fdba6e"/><circle cx="216.5" cy="789.6" r="2.9" fill="#ed6e43"/><circle cx="220.3" cy="791.5" r="2.9" fill="#fdba6e"/><circle cx="216.5" cy="795.0" r="2.9" fill="#ed6e43"/><circle cx="231.7" cy="791.9" r="2.9" fill="#e7f5b7"/><circle cx="235.8" cy="795.0" r="2.9" fill="#fdba6e"/><circle cx="246.6" cy="795.4" r="2.9" fill="#fee8a4"/><circle cx="244.9" cy="798.4" r="2.9" fill="#fdba6e"/><circle cx="238.2" cy="803.3" r="2.9" fill="#fee8a4"/><circle cx="228.2" cy="805.0" r="2.9" fill="#fdba6e"/><circle cx="244.9" cy="805.0" r="2.9" fill="#fee8a4"/><circle cx="211.9" cy="801.5" r="2.9" fill="#ed6e43"/><circle cx="214.2" cy="801.5" r="2.9" fill="#ed6e43"/><circle cx="188.5" cy="794.9" r="2.9" fill="#fdba6e"/><circle cx="190.2" cy="798.9" r="2.9" fill="#fdba6e"/><circle cx="183.6" cy="799.4" r="2.9" fill="#fdba6e"/><circle cx="186.2" cy="799.8" r="2.9" fill="#fdba6e"/><circle cx="177.4" cy="798.9" r="2.9" fill="#fdba6e"/><circle cx="202.0" cy="799.8" r="2.9" fill="#fee8a4"/><circle cx="174.4" cy="806.8" r="2.9" fill="#ed6e43"/><circle cx="190.2" cy="809.4" r="2.9" fill="#ed6e43"/><circle cx="196.3" cy="809.4" r="2.9" fill="#d7191c"/><circle cx="276.2" cy="777.9" r="2.9" fill="#fee8a4"/><circle cx="282.7" cy="776.7" r="2.9" fill="#e7f5b7"/><circle cx="290.9" cy="777.0" r="2.9" fill="#b7e2a8"/><circle cx="304.2" cy="778.8" r="2.9" fill="#b7e2a8"/><circle cx="269.5" cy="782.6" r="2.9" fill="#fdba6e"/><circle cx="260.4" cy="785.8" r="2.9" fill="#fdba6e"/><circle cx="262.2" cy="788.9" r="2.9" fill="#fdba6e"/><circle cx="266.0" cy="787.9" r="2.9" fill="#fee8a4"/><circle cx="269.9" cy="791.5" r="2.9" fill="#fee8a4"/><circle cx="253.4" cy="793.6" r="2.9" fill="#fee8a4"/><circle cx="249.9" cy="784.9" r="2.9" fill="#fdba6e"/><circle cx="248.2" cy="774.4" r="2.9" fill="#fee8a4"/><circle cx="256.4" cy="777.9" r="2.9" fill="#fdba6e"/><circle cx="252.0" cy="780.5" r="2.9" fill="#ed6e43"/><circle cx="244.7" cy="779.1" r="2.9" fill="#fee8a4"/><circle cx="238.0" cy="778.4" r="2.9" fill="#ed6e43"/><circle cx="235.4" cy="776.7" r="2.9" fill="#fdba6e"/><circle cx="235.9" cy="784.0" r="2.9" fill="#fdba6e"/><circle cx="241.2" cy="788.0" r="2.9" fill="#fdba6e"/><circle cx="232.4" cy="791.9" r="2.9" fill="#e7f5b7"/><circle cx="235.9" cy="794.9" r="2.9" fill="#fdba6e"/><circle cx="246.8" cy="794.9" r="2.9" fill="#fee8a4"/><circle cx="244.7" cy="798.9" r="2.9" fill="#fdba6e"/><circle cx="238.4" cy="803.3" r="2.9" fill="#fee8a4"/><circle cx="245.0" cy="805.0" r="2.9" fill="#fee8a4"/><circle cx="293.2" cy="786.6" r="2.9" fill="#fdba6e"/><circle cx="286.7" cy="792.8" r="2.9" fill="#fee8a4"/><circle cx="289.7" cy="793.6" r="2.9" fill="#fdba6e"/><circle cx="292.0" cy="794.5" r="2.9" fill="#fdba6e"/><circle cx="296.7" cy="793.1" r="2.9" fill="#fdba6e"/><circle cx="294.4" cy="790.7" r="2.9" fill="#e7f5b7"/><circle cx="298.4" cy="797.1" r="2.9" fill="#fee8a4"/><circle cx="302.0" cy="790.7" r="2.9" fill="#fdba6e"/><circle cx="302.8" cy="787.9" r="2.9" fill="#e7f5b7"/><circle cx="306.3" cy="788.9" r="2.9" fill="#e7f5b7"/><circle cx="309.8" cy="785.4" r="2.9" fill="#e7f5b7"/><circle cx="311.6" cy="782.6" r="2.9" fill="#b7e2a8"/><circle cx="316.5" cy="783.7" r="2.9" fill="#74b6ad"/><circle cx="315.1" cy="780.9" r="2.9" fill="#b7e2a8"/><circle cx="319.0" cy="780.9" r="2.9" fill="#b7e2a8"/><circle cx="285.3" cy="798.9" r="2.9" fill="#ed6e43"/><circle cx="287.4" cy="797.7" r="2.9" fill="#ed6e43"/><circle cx="283.6" cy="800.6" r="2.9" fill="#ed6e43"/><circle cx="283.2" cy="807.6" r="2.9" fill="#fdba6e"/><circle cx="289.7" cy="810.6" r="2.9" fill="#fdba6e"/><circle cx="269.9" cy="808.9" r="2.9" fill="#ed6e43"/><circle cx="258.2" cy="811.1" r="2.9" fill="#fee8a4"/><circle cx="273.0" cy="812.0" r="2.9" fill="#d7191c"/><circle cx="149.4" cy="820.7" r="2.9" fill="#fdba6e"/><circle cx="149.0" cy="829.8" r="2.9" fill="#ed6e43"/><circle cx="147.1" cy="838.9" r="2.9" fill="#fdba6e"/><circle cx="148.2" cy="837.7" r="2.9" fill="#fdba6e"/><circle cx="167.4" cy="827.5" r="2.9" fill="#d7191c"/><circle cx="175.3" cy="831.2" r="2.9" fill="#d7191c"/><circle cx="176.2" cy="833.6" r="2.9" fill="#d7191c"/><circle cx="161.1" cy="835.9" r="2.9" fill="#fdba6e"/><circle cx="175.1" cy="840.6" r="2.9" fill="#ed6e43"/><circle cx="173.0" cy="842.9" r="2.9" fill="#fdba6e"/><circle cx="171.6" cy="842.9" r="2.9" fill="#fdba6e"/><circle cx="172.2" cy="847.3" r="2.9" fill="#d7191c"/><circle cx="179.7" cy="845.9" r="2.9" fill="#fdba6e"/><circle cx="167.8" cy="852.0" r="2.9" fill="#ed6e43"/><circle cx="162.5" cy="862.7" r="2.9" fill="#d7191c"/><circle cx="173.9" cy="861.7" r="2.9" fill="#d7191c"/><circle cx="169.9" cy="870.4" r="2.9" fill="#d7191c"/><circle cx="173.9" cy="871.8" r="2.9" fill="#fdba6e"/><circle cx="185.7" cy="836.4" r="2.9" fill="#ed6e43"/><circle cx="194.1" cy="835.6" r="2.9" fill="#d7191c"/><circle cx="185.0" cy="850.5" r="2.9" fill="#fdba6e"/><circle cx="187.9" cy="850.5" r="2.9" fill="#e7f5b7"/><circle cx="185.7" cy="855.2" r="2.9" fill="#fdba6e"/><circle cx="192.3" cy="849.4" r="2.9" fill="#fdba6e"/><circle cx="173.0" cy="818.9" r="2.9" fill="#ed6e43"/><circle cx="182.2" cy="815.4" r="2.9" fill="#ed6e43"/><circle cx="191.4" cy="814.9" r="2.9" fill="#ed6e43"/><circle cx="202.0" cy="822.8" r="2.9" fill="#ed6e43"/><circle cx="215.4" cy="821.0" r="2.9" fill="#fdba6e"/><circle cx="213.7" cy="836.4" r="2.9" fill="#fdba6e"/><circle cx="203.7" cy="848.2" r="2.9" fill="#fdba6e"/><circle cx="209.0" cy="847.0" r="2.9" fill="#fdba6e"/><circle cx="214.2" cy="849.9" r="2.9" fill="#ed6e43"/><circle cx="220.0" cy="847.0" r="2.9" fill="#ed6e43"/><circle cx="224.7" cy="845.9" r="2.9" fill="#fdba6e"/><circle cx="230.0" cy="846.4" r="2.9" fill="#fdba6e"/><circle cx="238.7" cy="848.2" r="2.9" fill="#fee8a4"/><circle cx="229.5" cy="812.6" r="2.9" fill="#ed6e43"/><circle cx="233.5" cy="815.4" r="2.9" fill="#fdba6e"/><circle cx="235.2" cy="817.2" r="2.9" fill="#fdba6e"/><circle cx="247.5" cy="816.6" r="2.9" fill="#fdba6e"/><circle cx="233.0" cy="823.3" r="2.9" fill="#fdba6e"/><circle cx="241.0" cy="821.4" r="2.9" fill="#fdba6e"/><circle cx="228.2" cy="831.5" r="2.9" fill="#d7191c"/><circle cx="232.3" cy="830.1" r="2.9" fill="#fdba6e"/><circle cx="235.2" cy="836.4" r="2.9" fill="#d7191c"/><circle cx="246.3" cy="827.7" r="2.9" fill="#fdba6e"/><circle cx="242.8" cy="835.4" r="2.9" fill="#fdba6e"/><circle cx="249.3" cy="833.6" r="2.9" fill="#d7191c"/><circle cx="249.3" cy="835.9" r="2.9" fill="#ed6e43"/><circle cx="257.9" cy="812.3" r="2.9" fill="#fee8a4"/><circle cx="256.1" cy="818.7" r="2.9" fill="#fee8a4"/><circle cx="257.6" cy="822.2" r="2.9" fill="#ed6e43"/><circle cx="261.1" cy="817.5" r="2.9" fill="#ed6e43"/><circle cx="265.5" cy="817.5" r="2.9" fill="#ed6e43"/><circle cx="264.9" cy="821.6" r="2.9" fill="#ed6e43"/><circle cx="270.1" cy="809.1" r="2.9" fill="#ed6e43"/><circle cx="273.3" cy="812.6" r="2.9" fill="#d7191c"/><circle cx="270.1" cy="815.8" r="2.9" fill="#fdba6e"/><circle cx="277.5" cy="817.3" r="2.9" fill="#ed6e43"/><circle cx="273.0" cy="820.8" r="2.9" fill="#fee8a4"/><circle cx="276.5" cy="820.1" r="2.9" fill="#d7191c"/><circle cx="275.1" cy="824.3" r="2.9" fill="#fdba6e"/><circle cx="281.2" cy="818.5" r="2.9" fill="#ed6e43"/><circle cx="285.0" cy="818.5" r="2.9" fill="#fdba6e"/><circle cx="284.5" cy="822.8" r="2.9" fill="#e7f5b7"/><circle cx="281.5" cy="825.9" r="2.9" fill="#fee8a4"/><circle cx="270.7" cy="825.9" r="2.9" fill="#ed6e43"/><circle cx="268.4" cy="827.4" r="2.9" fill="#d7191c"/><circle cx="264.9" cy="830.1" r="2.9" fill="#fdba6e"/><circle cx="259.6" cy="829.8" r="2.9" fill="#fdba6e"/><circle cx="257.9" cy="830.1" r="2.9" fill="#ed6e43"/><circle cx="264.3" cy="826.3" r="2.9" fill="#fee8a4"/><circle cx="276.0" cy="828.6" r="2.9" fill="#ed6e43"/><circle cx="269.5" cy="833.3" r="2.9" fill="#ed6e43"/><circle cx="271.9" cy="833.9" r="2.9" fill="#fee8a4"/><circle cx="283.8" cy="807.9" r="2.9" fill="#fdba6e"/><circle cx="290.6" cy="811.7" r="2.9" fill="#fdba6e"/><circle cx="263.9" cy="837.1" r="2.9" fill="#e7f5b7"/><circle cx="260.8" cy="839.1" r="2.9" fill="#d7191c"/><circle cx="256.9" cy="842.6" r="2.9" fill="#ed6e43"/><circle cx="261.6" cy="843.0" r="2.9" fill="#d7191c"/><circle cx="260.8" cy="847.6" r="2.9" fill="#fdba6e"/><circle cx="256.7" cy="851.2" r="2.9" fill="#e7f5b7"/><circle cx="263.5" cy="852.0" r="2.9" fill="#d7191c"/><circle cx="259.0" cy="854.9" r="2.9" fill="#ed6e43"/><circle cx="264.9" cy="854.3" r="2.9" fill="#ed6e43"/><circle cx="262.3" cy="857.2" r="2.9" fill="#ed6e43"/><circle cx="266.0" cy="859.3" r="2.9" fill="#d7191c"/><circle cx="255.5" cy="860.1" r="2.9" fill="#d7191c"/><circle cx="256.1" cy="863.1" r="2.9" fill="#ed6e43"/><circle cx="259.6" cy="860.7" r="2.9" fill="#ed6e43"/><circle cx="261.6" cy="863.1" r="2.9" fill="#d7191c"/><circle cx="257.9" cy="866.0" r="2.9" fill="#d7191c"/><circle cx="259.6" cy="868.7" r="2.9" fill="#fdba6e"/><circle cx="260.8" cy="869.8" r="2.9" fill="#d7191c"/><circle cx="268.1" cy="864.0" r="2.9" fill="#fee8a4"/><circle cx="268.4" cy="870.4" r="2.9" fill="#fee8a4"/></g>
<g><circle cx="378.9" cy="752.9" r="2.9" fill="#fee8a4"/><circle cx="377.5" cy="756.4" r="2.9" fill="#e7f5b7"/><circle cx="374.9" cy="758.7" r="2.9" fill="#fee8a4"/><circle cx="405.2" cy="755.2" r="2.9" fill="#fdba6e"/><circle cx="387.5" cy="761.3" r="2.9" fill="#ed6e43"/><circle cx="394.7" cy="762.9" r="2.9" fill="#fee8a4"/><circle cx="376.1" cy="766.4" r="2.9" fill="#fee8a4"/><circle cx="373.7" cy="770.4" r="2.9" fill="#fdba6e"/><circle cx="373.5" cy="775.1" r="2.9" fill="#fee8a4"/><circle cx="410.8" cy="777.4" r="2.9" fill="#fdba6e"/><circle cx="453.7" cy="765.7" r="2.9" fill="#ed6e43"/><circle cx="377.5" cy="794.4" r="2.9" fill="#b7e2a8"/><circle cx="391.5" cy="800.5" r="2.9" fill="#fee8a4"/><circle cx="435.3" cy="793.5" r="2.9" fill="#fdba6e"/><circle cx="473.0" cy="794.4" r="2.9" fill="#ed6e43"/><circle cx="475.3" cy="795.4" r="2.9" fill="#d7191c"/><circle cx="473.5" cy="798.9" r="2.9" fill="#ed6e43"/><circle cx="474.8" cy="803.6" r="2.9" fill="#fdba6e"/><circle cx="475.3" cy="807.1" r="2.9" fill="#d7191c"/><circle cx="375.8" cy="806.3" r="2.9" fill="#fee8a4"/><circle cx="383.1" cy="805.4" r="2.9" fill="#e7f5b7"/><circle cx="377.2" cy="808.4" r="2.9" fill="#fdba6e"/><circle cx="379.3" cy="811.2" r="2.9" fill="#fee8a4"/><circle cx="384.5" cy="810.1" r="2.9" fill="#b7e2a8"/><circle cx="388.0" cy="812.4" r="2.9" fill="#b7e2a8"/><circle cx="391.9" cy="814.9" r="2.9" fill="#74b6ad"/><circle cx="417.5" cy="818.4" r="2.9" fill="#b7e2a8"/><circle cx="395.9" cy="822.8" r="2.9" fill="#74b6ad"/><circle cx="400.6" cy="827.2" r="2.9" fill="#2b83ba"/><circle cx="405.2" cy="827.7" r="2.9" fill="#b7e2a8"/><circle cx="402.0" cy="830.7" r="2.9" fill="#2b83ba"/><circle cx="395.4" cy="829.4" r="2.9" fill="#74b6ad"/><circle cx="407.3" cy="832.1" r="2.9" fill="#2b83ba"/><circle cx="410.8" cy="832.1" r="2.9" fill="#74b6ad"/><circle cx="406.1" cy="836.8" r="2.9" fill="#2b83ba"/><circle cx="434.5" cy="833.3" r="2.9" fill="#2b83ba"/><circle cx="440.2" cy="840.3" r="2.9" fill="#b7e2a8"/><circle cx="464.2" cy="824.2" r="2.9" fill="#fee8a4"/><circle cx="465.1" cy="842.6" r="2.9" fill="#e7f5b7"/><circle cx="516.7" cy="753.4" r="2.9" fill="#ed6e43"/><circle cx="518.1" cy="759.5" r="2.9" fill="#ed6e43"/><circle cx="532.4" cy="766.9" r="2.9" fill="#fdba6e"/><circle cx="537.7" cy="770.0" r="2.9" fill="#ed6e43"/><circle cx="547.7" cy="770.7" r="2.9" fill="#ed6e43"/><circle cx="542.1" cy="775.3" r="2.9" fill="#d7191c"/><circle cx="565.4" cy="773.4" r="2.9" fill="#ed6e43"/><circle cx="518.4" cy="777.7" r="2.9" fill="#fdba6e"/><circle cx="520.7" cy="783.5" r="2.9" fill="#d7191c"/><circle cx="519.0" cy="792.6" r="2.9" fill="#ed6e43"/><circle cx="523.2" cy="790.5" r="2.9" fill="#ed6e43"/><circle cx="535.4" cy="788.4" r="2.9" fill="#d7191c"/><circle cx="542.6" cy="783.2" r="2.9" fill="#ed6e43"/><circle cx="547.0" cy="786.7" r="2.9" fill="#ed6e43"/><circle cx="547.3" cy="788.4" r="2.9" fill="#ed6e43"/><circle cx="552.9" cy="789.1" r="2.9" fill="#ed6e43"/><circle cx="559.2" cy="780.4" r="2.9" fill="#d7191c"/><circle cx="561.3" cy="784.9" r="2.9" fill="#ed6e43"/><circle cx="566.6" cy="781.2" r="2.9" fill="#ed6e43"/><circle cx="567.0" cy="787.0" r="2.9" fill="#fdba6e"/><circle cx="570.5" cy="788.8" r="2.9" fill="#fdba6e"/><circle cx="576.8" cy="779.7" r="2.9" fill="#fdba6e"/><circle cx="579.7" cy="781.8" r="2.9" fill="#fee8a4"/><circle cx="580.6" cy="784.9" r="2.9" fill="#e7f5b7"/><circle cx="576.8" cy="787.9" r="2.9" fill="#fdba6e"/><circle cx="585.5" cy="782.1" r="2.9" fill="#fee8a4"/><circle cx="589.0" cy="777.9" r="2.9" fill="#fee8a4"/><circle cx="590.3" cy="788.4" r="2.9" fill="#fee8a4"/><circle cx="582.4" cy="791.4" r="2.9" fill="#e7f5b7"/><circle cx="557.8" cy="793.1" r="2.9" fill="#fee8a4"/><circle cx="561.7" cy="794.9" r="2.9" fill="#fee8a4"/><circle cx="557.8" cy="798.4" r="2.9" fill="#fdba6e"/><circle cx="572.7" cy="795.2" r="2.9" fill="#e7f5b7"/><circle cx="577.1" cy="798.4" r="2.9" fill="#e7f5b7"/><circle cx="588.0" cy="798.4" r="2.9" fill="#e7f5b7"/><circle cx="585.9" cy="801.9" r="2.9" fill="#b7e2a8"/><circle cx="579.2" cy="806.6" r="2.9" fill="#e7f5b7"/><circle cx="569.8" cy="808.4" r="2.9" fill="#e7f5b7"/><circle cx="586.2" cy="808.0" r="2.9" fill="#b7e2a8"/><circle cx="552.9" cy="804.5" r="2.9" fill="#fee8a4"/><circle cx="555.7" cy="804.5" r="2.9" fill="#fdba6e"/><circle cx="529.5" cy="798.4" r="2.9" fill="#d7191c"/><circle cx="531.2" cy="802.8" r="2.9" fill="#fee8a4"/><circle cx="524.2" cy="802.4" r="2.9" fill="#ed6e43"/><circle cx="527.2" cy="803.1" r="2.9" fill="#fee8a4"/><circle cx="518.4" cy="801.9" r="2.9" fill="#ed6e43"/><circle cx="543.0" cy="803.1" r="2.9" fill="#fdba6e"/><circle cx="515.4" cy="810.1" r="2.9" fill="#e7f5b7"/><circle cx="531.2" cy="812.9" r="2.9" fill="#e7f5b7"/><circle cx="537.7" cy="812.4" r="2.9" fill="#fee8a4"/><circle cx="617.9" cy="781.3" r="2.9" fill="#fee8a4"/><circle cx="624.5" cy="780.0" r="2.9" fill="#fdba6e"/><circle cx="632.2" cy="780.2" r="2.9" fill="#ed6e43"/><circle cx="645.4" cy="782.6" r="2.9" fill="#fdba6e"/><circle cx="610.8" cy="785.9" r="2.9" fill="#fdba6e"/><circle cx="601.7" cy="789.2" r="2.9" fill="#fee8a4"/><circle cx="603.0" cy="792.1" r="2.9" fill="#fee8a4"/><circle cx="607.5" cy="791.2" r="2.9" fill="#fdba6e"/><circle cx="611.3" cy="794.9" r="2.9" fill="#fdba6e"/><circle cx="594.8" cy="797.5" r="2.9" fill="#e7f5b7"/><circle cx="591.5" cy="788.3" r="2.9" fill="#fee8a4"/><circle cx="589.3" cy="777.7" r="2.9" fill="#fee8a4"/><circle cx="597.6" cy="781.0" r="2.9" fill="#fee8a4"/><circle cx="593.4" cy="784.3" r="2.9" fill="#e7f5b7"/><circle cx="586.0" cy="782.6" r="2.9" fill="#fee8a4"/><circle cx="579.9" cy="781.0" r="2.9" fill="#fee8a4"/><circle cx="576.6" cy="779.7" r="2.9" fill="#fdba6e"/><circle cx="576.6" cy="788.3" r="2.9" fill="#fdba6e"/><circle cx="582.2" cy="791.2" r="2.9" fill="#e7f5b7"/><circle cx="573.3" cy="794.5" r="2.9" fill="#e7f5b7"/><circle cx="577.0" cy="798.2" r="2.9" fill="#e7f5b7"/><circle cx="587.7" cy="798.7" r="2.9" fill="#e7f5b7"/><circle cx="586.5" cy="802.0" r="2.9" fill="#b7e2a8"/><circle cx="579.4" cy="806.9" r="2.9" fill="#e7f5b7"/><circle cx="586.5" cy="808.1" r="2.9" fill="#b7e2a8"/><circle cx="634.4" cy="789.9" r="2.9" fill="#ed6e43"/><circle cx="628.9" cy="796.2" r="2.9" fill="#fee8a4"/><circle cx="631.4" cy="795.4" r="2.9" fill="#fee8a4"/><circle cx="633.9" cy="794.5" r="2.9" fill="#fee8a4"/><circle cx="637.2" cy="793.7" r="2.9" fill="#fdba6e"/><circle cx="638.8" cy="798.2" r="2.9" fill="#e7f5b7"/><circle cx="634.7" cy="799.8" r="2.9" fill="#b7e2a8"/><circle cx="642.1" cy="800.8" r="2.9" fill="#fee8a4"/><circle cx="627.3" cy="803.1" r="2.9" fill="#fee8a4"/><circle cx="628.1" cy="801.1" r="2.9" fill="#fee8a4"/><circle cx="643.3" cy="793.7" r="2.9" fill="#b7e2a8"/><circle cx="645.4" cy="791.2" r="2.9" fill="#e7f5b7"/><circle cx="647.9" cy="793.2" r="2.9" fill="#b7e2a8"/><circle cx="650.9" cy="788.8" r="2.9" fill="#fee8a4"/><circle cx="652.5" cy="785.4" r="2.9" fill="#fdba6e"/><circle cx="657.8" cy="787.1" r="2.9" fill="#fdba6e"/><circle cx="660.8" cy="784.3" r="2.9" fill="#fee8a4"/><circle cx="656.1" cy="784.6" r="2.9" fill="#fee8a4"/><circle cx="611.6" cy="812.4" r="2.9" fill="#fee8a4"/><circle cx="625.6" cy="811.0" r="2.9" fill="#e7f5b7"/><circle cx="630.6" cy="812.7" r="2.9" fill="#fee8a4"/><circle cx="614.6" cy="814.7" r="2.9" fill="#fdba6e"/><circle cx="490.4" cy="824.0" r="2.9" fill="#b7e2a8"/><circle cx="490.4" cy="833.1" r="2.9" fill="#74b6ad"/><circle cx="489.2" cy="841.5" r="2.9" fill="#74b6ad"/><circle cx="487.8" cy="842.4" r="2.9" fill="#b7e2a8"/><circle cx="508.8" cy="831.0" r="2.9" fill="#74b6ad"/><circle cx="516.7" cy="834.9" r="2.9" fill="#fee8a4"/><circle cx="517.6" cy="837.5" r="2.9" fill="#fee8a4"/><circle cx="502.1" cy="839.4" r="2.9" fill="#2b83ba"/><circle cx="516.7" cy="844.2" r="2.9" fill="#b7e2a8"/><circle cx="514.0" cy="846.4" r="2.9" fill="#74b6ad"/><circle cx="513.2" cy="846.4" r="2.9" fill="#b7e2a8"/><circle cx="513.2" cy="850.7" r="2.9" fill="#74b6ad"/><circle cx="521.1" cy="849.4" r="2.9" fill="#74b6ad"/><circle cx="509.1" cy="855.2" r="2.9" fill="#74b6ad"/><circle cx="503.5" cy="866.4" r="2.9" fill="#b7e2a8"/><circle cx="514.9" cy="865.2" r="2.9" fill="#b7e2a8"/><circle cx="510.9" cy="873.4" r="2.9" fill="#b7e2a8"/><circle cx="514.9" cy="875.2" r="2.9" fill="#b7e2a8"/><circle cx="526.7" cy="839.8" r="2.9" fill="#fee8a4"/><circle cx="535.4" cy="839.3" r="2.9" fill="#fdba6e"/><circle cx="526.3" cy="853.8" r="2.9" fill="#74b6ad"/><circle cx="526.7" cy="858.7" r="2.9" fill="#fee8a4"/><circle cx="529.5" cy="853.8" r="2.9" fill="#fee8a4"/><circle cx="533.7" cy="852.6" r="2.9" fill="#e7f5b7"/><circle cx="514.4" cy="822.3" r="2.9" fill="#fee8a4"/><circle cx="523.2" cy="819.1" r="2.9" fill="#fdba6e"/><circle cx="533.0" cy="818.4" r="2.9" fill="#fee8a4"/><circle cx="543.0" cy="826.1" r="2.9" fill="#fdba6e"/><circle cx="556.4" cy="824.4" r="2.9" fill="#e7f5b7"/><circle cx="555.2" cy="839.8" r="2.9" fill="#b7e2a8"/><circle cx="544.7" cy="851.7" r="2.9" fill="#fee8a4"/><circle cx="550.3" cy="850.3" r="2.9" fill="#e7f5b7"/><circle cx="555.7" cy="852.9" r="2.9" fill="#fee8a4"/><circle cx="561.3" cy="850.3" r="2.9" fill="#fee8a4"/><circle cx="566.3" cy="848.9" r="2.9" fill="#e7f5b7"/><circle cx="571.0" cy="850.0" r="2.9" fill="#fee8a4"/><circle cx="579.7" cy="851.7" r="2.9" fill="#fee8a4"/><circle cx="570.5" cy="816.1" r="2.9" fill="#e7f5b7"/><circle cx="574.5" cy="818.8" r="2.9" fill="#e7f5b7"/><circle cx="576.2" cy="820.5" r="2.9" fill="#e7f5b7"/><circle cx="588.5" cy="819.6" r="2.9" fill="#fee8a4"/><circle cx="574.0" cy="826.3" r="2.9" fill="#e7f5b7"/><circle cx="582.0" cy="824.9" r="2.9" fill="#e7f5b7"/><circle cx="569.2" cy="834.9" r="2.9" fill="#b7e2a8"/><circle cx="573.3" cy="833.7" r="2.9" fill="#74b6ad"/><circle cx="576.2" cy="839.4" r="2.9" fill="#e7f5b7"/><circle cx="587.3" cy="831.0" r="2.9" fill="#e7f5b7"/><circle cx="583.8" cy="838.9" r="2.9" fill="#fee8a4"/><circle cx="590.3" cy="837.7" r="2.9" fill="#fee8a4"/><circle cx="599.1" cy="816.1" r="2.9" fill="#fee8a4"/><circle cx="597.5" cy="822.6" r="2.9" fill="#fdba6e"/><circle cx="599.1" cy="825.4" r="2.9" fill="#b7e2a8"/><circle cx="602.4" cy="820.8" r="2.9" fill="#fee8a4"/><circle cx="606.5" cy="820.5" r="2.9" fill="#e7f5b7"/><circle cx="605.9" cy="824.6" r="2.9" fill="#e7f5b7"/><circle cx="611.1" cy="812.1" r="2.9" fill="#fee8a4"/><circle cx="614.6" cy="816.1" r="2.9" fill="#fdba6e"/><circle cx="611.5" cy="819.4" r="2.9" fill="#e7f5b7"/><circle cx="618.5" cy="820.3" r="2.9" fill="#e7f5b7"/><circle cx="614.6" cy="824.0" r="2.9" fill="#e7f5b7"/><circle cx="617.0" cy="826.1" r="2.9" fill="#e7f5b7"/><circle cx="612.3" cy="828.9" r="2.9" fill="#e7f5b7"/><circle cx="609.4" cy="830.8" r="2.9" fill="#b7e2a8"/><circle cx="605.9" cy="833.1" r="2.9" fill="#e7f5b7"/><circle cx="600.0" cy="833.4" r="2.9" fill="#e7f5b7"/><circle cx="605.3" cy="830.1" r="2.9" fill="#e7f5b7"/><circle cx="611.5" cy="836.6" r="2.9" fill="#fdba6e"/><circle cx="617.3" cy="832.2" r="2.9" fill="#fdba6e"/><circle cx="622.5" cy="829.3" r="2.9" fill="#fee8a4"/><circle cx="625.7" cy="826.4" r="2.9" fill="#fee8a4"/><circle cx="622.8" cy="821.7" r="2.9" fill="#e7f5b7"/><circle cx="626.3" cy="821.7" r="2.9" fill="#fee8a4"/><circle cx="625.5" cy="811.2" r="2.9" fill="#e7f5b7"/><circle cx="631.8" cy="814.7" r="2.9" fill="#e7f5b7"/><circle cx="626.3" cy="803.9" r="2.9" fill="#fee8a4"/><circle cx="605.3" cy="840.6" r="2.9" fill="#fee8a4"/><circle cx="602.6" cy="842.7" r="2.9" fill="#74b6ad"/><circle cx="598.6" cy="846.0" r="2.9" fill="#e7f5b7"/><circle cx="603.3" cy="845.6" r="2.9" fill="#74b6ad"/><circle cx="602.4" cy="850.9" r="2.9" fill="#2b83ba"/><circle cx="598.3" cy="854.4" r="2.9" fill="#74b6ad"/><circle cx="604.9" cy="855.8" r="2.9" fill="#e7f5b7"/><circle cx="600.6" cy="857.9" r="2.9" fill="#b7e2a8"/><circle cx="604.7" cy="860.8" r="2.9" fill="#b7e2a8"/><circle cx="607.6" cy="863.1" r="2.9" fill="#e7f5b7"/><circle cx="597.1" cy="863.1" r="2.9" fill="#b7e2a8"/><circle cx="600.6" cy="863.7" r="2.9" fill="#74b6ad"/><circle cx="597.1" cy="866.1" r="2.9" fill="#74b6ad"/><circle cx="603.3" cy="866.6" r="2.9" fill="#2b83ba"/><circle cx="609.1" cy="867.0" r="2.9" fill="#e7f5b7"/><circle cx="599.4" cy="869.6" r="2.9" fill="#b7e2a8"/><circle cx="600.6" cy="871.9" r="2.9" fill="#74b6ad"/><circle cx="610.0" cy="873.7" r="2.9" fill="#74b6ad"/></g>
<text x="117.1" y="17.6" font-size="24.3" font-weight="bold" text-anchor="start">Drought</text>
<text x="467.8" y="17.6" font-size="24.3" font-weight="bold" text-anchor="start">Wet</text>
<text x="119.2" y="254.9" font-size="24.3" font-weight="bold" text-anchor="start">Warmer</text>
<text x="466.1" y="255.8" font-size="24.3" font-weight="bold" text-anchor="start">Colder</text>
<text x="84.3" y="498.3" font-size="24.3" font-weight="bold" text-anchor="start">Warmer drought</text>
<text x="441.3" y="498.6" font-size="24.3" font-weight="bold" text-anchor="start">Colder wet</text>
<text x="100.3" y="727.6" font-size="24.3" font-weight="bold" text-anchor="start">Hot drought</text>
<text x="450.5" y="728.2" font-size="24.3" font-weight="bold" text-anchor="start">Cold wet</text>
<text x="2.1" y="28.5" font-size="29.5" font-weight="normal" text-anchor="start">(a)</text>
<text x="320.7" y="27.8" font-size="29.5" font-weight="normal" text-anchor="start">(b)</text>
<text x="0.2" y="267.6" font-size="29.5" font-weight="normal" text-anchor="start">(c)</text>
<text x="322.5" y="267.2" font-size="29.5" font-weight="normal" text-anchor="start">(d)</text>
<text x="-1.0" y="512.8" font-size="29.5" font-weight="normal" text-anchor="start">(e)</text>
<text x="326.9" y="510.2" font-size="29.5" font-weight="normal" text-anchor="start">(f)</text>
<text x="-1.5" y="741.8" font-size="29.5" font-weight="normal" text-anchor="start">(g)</text>
<text x="321.3" y="739.7" font-size="29.5" font-weight="normal" text-anchor="start">(h)</text>
<text transform="translate(34.50,194.20) scale(1.03,1)" font-size="18.6" font-weight="bold" text-anchor="start">VPI Z-scores</text>
<text transform="translate(31.90,437.60) scale(1.03,1)" font-size="18.6" font-weight="bold" text-anchor="start">VPI Z-scores</text>
<text transform="translate(32.40,678.40) scale(1.03,1)" font-size="18.6" font-weight="bold" text-anchor="start">VPI Z-scores</text>
<text transform="translate(31.10,908.90) scale(1.03,1)" font-size="18.6" font-weight="bold" text-anchor="start">VPI Z-scores</text>
<polygon points="183.0,192.4 208.3,187.3 208.3,197.4" fill="#2b83ba"/>
<rect x="208.0" y="187.3" width="51.7" height="10.1" fill="#74b6ad"/>
<rect x="259.3" y="187.3" width="51.7" height="10.1" fill="#b7e2a8"/>
<rect x="310.6" y="187.3" width="51.7" height="10.1" fill="#e7f5b7"/>
<rect x="361.9" y="187.3" width="51.7" height="10.1" fill="#fee8a4"/>
<rect x="413.2" y="187.3" width="51.7" height="10.1" fill="#fdba6e"/>
<rect x="464.5" y="187.3" width="51.7" height="10.1" fill="#ed6e43"/>
<polygon points="515.8,187.3 540.5,192.4 515.8,197.4" fill="#d7191c"/>
<polygon points="184.2,435.1 210.3,430.3 210.3,440.0" fill="#2b83ba"/>
<rect x="210.0" y="430.3" width="51.8" height="9.7" fill="#74b6ad"/>
<rect x="261.4" y="430.3" width="51.8" height="9.7" fill="#b7e2a8"/>
<rect x="312.7" y="430.3" width="51.8" height="9.7" fill="#e7f5b7"/>
<rect x="364.1" y="430.3" width="51.8" height="9.7" fill="#fee8a4"/>
<rect x="415.4" y="430.3" width="51.8" height="9.7" fill="#fdba6e"/>
<rect x="466.8" y="430.3" width="51.8" height="9.7" fill="#ed6e43"/>
<polygon points="518.1,430.3 543.1,435.1 518.1,440.0" fill="#d7191c"/>
<polygon points="181.8,674.2 207.9,669.2 207.9,679.2" fill="#2b83ba"/>
<rect x="207.6" y="669.2" width="51.7" height="10.0" fill="#74b6ad"/>
<rect x="258.9" y="669.2" width="51.7" height="10.0" fill="#b7e2a8"/>
<rect x="310.2" y="669.2" width="51.7" height="10.0" fill="#e7f5b7"/>
<rect x="361.5" y="669.2" width="51.7" height="10.0" fill="#fee8a4"/>
<rect x="412.8" y="669.2" width="51.7" height="10.0" fill="#fdba6e"/>
<rect x="464.1" y="669.2" width="51.7" height="10.0" fill="#ed6e43"/>
<polygon points="515.4,669.2 540.0,674.2 515.4,679.2" fill="#d7191c"/>
<polygon points="180.5,903.8 206.3,898.9 206.3,908.6" fill="#2b83ba"/>
<rect x="206.0" y="898.9" width="51.7" height="9.7" fill="#74b6ad"/>
<rect x="257.3" y="898.9" width="51.7" height="9.7" fill="#b7e2a8"/>
<rect x="308.6" y="898.9" width="51.7" height="9.7" fill="#e7f5b7"/>
<rect x="359.9" y="898.9" width="51.7" height="9.7" fill="#fee8a4"/>
<rect x="411.2" y="898.9" width="51.7" height="9.7" fill="#fdba6e"/>
<rect x="462.5" y="898.9" width="51.7" height="9.7" fill="#ed6e43"/>
<polygon points="513.8,898.9 539.5,903.8 513.8,908.6" fill="#d7191c"/>
<text transform="translate(207.20,219.40) scale(1.065,1)" font-size="15.5" font-weight="bold" text-anchor="middle">-0.2</text>
<text transform="translate(257.00,219.40) scale(1.065,1)" font-size="15.5" font-weight="bold" text-anchor="middle">-0.1</text>
<text transform="translate(309.70,219.40) scale(1.065,1)" font-size="15.5" font-weight="bold" text-anchor="middle">0</text>
<text transform="translate(359.00,219.40) scale(1.065,1)" font-size="15.5" font-weight="bold" text-anchor="middle">0.1</text>
<text transform="translate(416.90,219.40) scale(1.065,1)" font-size="15.5" font-weight="bold" text-anchor="middle">0.2</text>
<text transform="translate(468.70,219.40) scale(1.065,1)" font-size="15.5" font-weight="bold" text-anchor="middle">0.3</text>
<text transform="translate(514.80,219.40) scale(1.065,1)" font-size="15.5" font-weight="bold" text-anchor="middle">0.4</text>
<text transform="translate(205.80,461.60) scale(1.065,1)" font-size="15.5" font-weight="bold" text-anchor="middle">-0.10</text>
<text transform="translate(254.90,461.60) scale(1.065,1)" font-size="15.5" font-weight="bold" text-anchor="middle">-0.05</text>
<text transform="translate(307.60,461.60) scale(1.065,1)" font-size="15.5" font-weight="bold" text-anchor="middle">0</text>
<text transform="translate(359.30,461.60) scale(1.065,1)" font-size="15.5" font-weight="bold" text-anchor="middle">0.05</text>
<text transform="translate(414.40,461.60) scale(1.065,1)" font-size="15.5" font-weight="bold" text-anchor="middle">0.10</text>
<text transform="translate(466.50,461.60) scale(1.065,1)" font-size="15.5" font-weight="bold" text-anchor="middle">0.15</text>
<text transform="translate(512.50,461.60) scale(1.065,1)" font-size="15.5" font-weight="bold" text-anchor="middle">0.20</text>
<text transform="translate(205.90,700.00) scale(1.065,1)" font-size="15.5" font-weight="bold" text-anchor="middle">-0.2</text>
<text transform="translate(257.00,700.00) scale(1.065,1)" font-size="15.5" font-weight="bold" text-anchor="middle">-0.1</text>
<text transform="translate(309.00,700.00) scale(1.065,1)" font-size="15.5" font-weight="bold" text-anchor="middle">0</text>
<text transform="translate(359.00,700.00) scale(1.065,1)" font-size="15.5" font-weight="bold" text-anchor="middle">0.1</text>
<text transform="translate(415.50,700.00) scale(1.065,1)" font-size="15.5" font-weight="bold" text-anchor="middle">0.2</text>
<text transform="translate(467.00,700.00) scale(1.065,1)" font-size="15.5" font-weight="bold" text-anchor="middle">0.3</text>
<text transform="translate(514.00,700.00) scale(1.065,1)" font-size="15.5" font-weight="bold" text-anchor="middle">0.4</text>
<text transform="translate(204.50,928.40) scale(1.065,1)" font-size="15.5" font-weight="bold" text-anchor="middle">-0.6</text>
<text transform="translate(256.00,928.40) scale(1.065,1)" font-size="15.5" font-weight="bold" text-anchor="middle">-0.4</text>
<text transform="translate(307.00,928.40) scale(1.065,1)" font-size="15.5" font-weight="bold" text-anchor="middle">-0.2</text>
<text transform="translate(359.20,928.40) scale(1.065,1)" font-size="15.5" font-weight="bold" text-anchor="middle">0</text>
<text transform="translate(414.40,928.40) scale(1.065,1)" font-size="15.5" font-weight="bold" text-anchor="middle">0.2</text>
<text transform="translate(465.90,928.40) scale(1.065,1)" font-size="15.5" font-weight="bold" text-anchor="middle">0.4</text>
<text transform="translate(512.50,928.40) scale(1.065,1)" font-size="15.5" font-weight="bold" text-anchor="middle">0.6</text></svg>
</body></html>
